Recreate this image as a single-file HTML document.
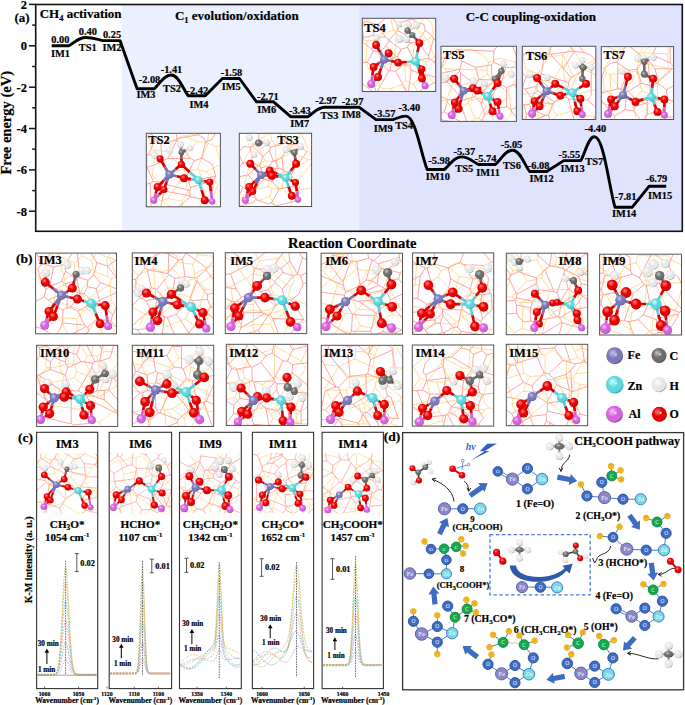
<!DOCTYPE html>
<html><head><meta charset="utf-8"><style>
html,body{margin:0;padding:0;background:#fff;}
body{width:685px;height:705px;position:relative;overflow:hidden;}
svg text:not([fill]){stroke:#000;stroke-width:0.2px;}

</style></head><body>
<svg width="685" height="705" viewBox="0 0 685 705" style="position:absolute;left:0;top:0" font-family="Liberation Serif, serif" font-weight="bold"><defs><radialGradient id="gO" cx="42%" cy="40%" r="62%" fx="38%" fy="32%"><stop offset="0" stop-color="#ff8080"/><stop offset="0.5" stop-color="#e80000"/><stop offset="0.85" stop-color="#e80000"/><stop offset="1" stop-color="#7a0000"/></radialGradient><radialGradient id="gFe" cx="42%" cy="40%" r="62%" fx="38%" fy="32%"><stop offset="0" stop-color="#c4c4ec"/><stop offset="0.5" stop-color="#7a78b6"/><stop offset="0.85" stop-color="#7a78b6"/><stop offset="1" stop-color="#45447a"/></radialGradient><radialGradient id="gZn" cx="42%" cy="40%" r="62%" fx="38%" fy="32%"><stop offset="0" stop-color="#d4ffff"/><stop offset="0.5" stop-color="#5cd6dc"/><stop offset="0.85" stop-color="#5cd6dc"/><stop offset="1" stop-color="#2c8c94"/></radialGradient><radialGradient id="gAl" cx="42%" cy="40%" r="62%" fx="38%" fy="32%"><stop offset="0" stop-color="#f6c4f8"/><stop offset="0.5" stop-color="#d462dc"/><stop offset="0.85" stop-color="#d462dc"/><stop offset="1" stop-color="#8a2c92"/></radialGradient><radialGradient id="gC" cx="42%" cy="40%" r="62%" fx="38%" fy="32%"><stop offset="0" stop-color="#c4c4c4"/><stop offset="0.5" stop-color="#6c6c6c"/><stop offset="0.85" stop-color="#6c6c6c"/><stop offset="1" stop-color="#333333"/></radialGradient><radialGradient id="gH" cx="42%" cy="40%" r="62%" fx="38%" fy="32%"><stop offset="0" stop-color="#ffffff"/><stop offset="0.5" stop-color="#e6e6e6"/><stop offset="0.85" stop-color="#e6e6e6"/><stop offset="1" stop-color="#8e8e8e"/></radialGradient><clipPath id="clipTS2"><rect x="146.3" y="133.3" width="74.1" height="73.5"/></clipPath><clipPath id="clipTS3"><rect x="239.3" y="133.3" width="72.3" height="73.2"/></clipPath><clipPath id="clipTS4"><rect x="362.3" y="18.3" width="73.4" height="73.2"/></clipPath><clipPath id="clipTS5"><rect x="441" y="46.3" width="75.4" height="75.1"/></clipPath><clipPath id="clipTS6"><rect x="522.3" y="46.3" width="73.5" height="73.2"/></clipPath><clipPath id="clipTS7"><rect x="601.3" y="46.6" width="72.3" height="72.9"/></clipPath><clipPath id="clipIM3"><rect x="35.6" y="253.1" width="80.9" height="80.7"/></clipPath><clipPath id="clipIM4"><rect x="132.3" y="252.9" width="81.1" height="81.2"/></clipPath><clipPath id="clipIM5"><rect x="225.3" y="252.7" width="81.4" height="80.9"/></clipPath><clipPath id="clipIM6"><rect x="321.1" y="253.2" width="81.4" height="80.9"/></clipPath><clipPath id="clipIM7"><rect x="412.6" y="252.9" width="81.1" height="81.5"/></clipPath><clipPath id="clipIM8"><rect x="506.3" y="253.2" width="81.4" height="81.5"/></clipPath><clipPath id="clipIM9"><rect x="599.6" y="254.2" width="81.9" height="80.8"/></clipPath><clipPath id="clipIM10"><rect x="36.6" y="345.3" width="81.1" height="81.2"/></clipPath><clipPath id="clipIM11"><rect x="132.3" y="345.3" width="81.4" height="81.2"/></clipPath><clipPath id="clipIM12"><rect x="226.3" y="344.3" width="81.4" height="81.1"/></clipPath><clipPath id="clipIM13"><rect x="321.3" y="345.3" width="81.4" height="81.2"/></clipPath><clipPath id="clipIM14"><rect x="412.3" y="345" width="81.4" height="81.1"/></clipPath><clipPath id="clipIM15"><rect x="506.3" y="344.3" width="81.4" height="81.4"/></clipPath><clipPath id="cclip0"><rect x="37.2" y="453.3" width="59.9" height="60"/></clipPath><clipPath id="pclip0"><rect x="37.2" y="548" width="59.9" height="140.0"/></clipPath><clipPath id="cclip1"><rect x="109.8" y="453.3" width="61.2" height="60"/></clipPath><clipPath id="pclip1"><rect x="109.8" y="548" width="61.2" height="140.0"/></clipPath><clipPath id="cclip2"><rect x="180.1" y="453.3" width="60.6" height="60"/></clipPath><clipPath id="pclip2"><rect x="180.1" y="548" width="60.6" height="140.0"/></clipPath><clipPath id="cclip3"><rect x="253.0" y="453.3" width="60.0" height="60"/></clipPath><clipPath id="pclip3"><rect x="253.0" y="548" width="60.0" height="140.0"/></clipPath><clipPath id="cclip4"><rect x="322.7" y="453.3" width="60.1" height="60"/></clipPath><clipPath id="pclip4"><rect x="322.7" y="548" width="60.1" height="140.0"/></clipPath></defs><rect x="121.7" y="4.5" width="237.4" height="226.8" fill="#eaf0fe"/><rect x="359.1" y="4.5" width="323.2" height="226.8" fill="#dfe3fe"/><rect x="35.7" y="4.5" width="646.6" height="226.8" fill="none" stroke="#111" stroke-width="1.6"/><line x1="29" y1="4.4" x2="35.7" y2="4.4" stroke="#111" stroke-width="1.5"/><text x="27" y="8.7" text-anchor="end" font-size="12.5">2</text><line x1="29" y1="45.8" x2="35.7" y2="45.8" stroke="#111" stroke-width="1.5"/><text x="27" y="50.1" text-anchor="end" font-size="12.5">0</text><line x1="29" y1="87.2" x2="35.7" y2="87.2" stroke="#111" stroke-width="1.5"/><text x="27" y="91.5" text-anchor="end" font-size="12.5">-2</text><line x1="29" y1="128.5" x2="35.7" y2="128.5" stroke="#111" stroke-width="1.5"/><text x="27" y="132.8" text-anchor="end" font-size="12.5">-4</text><line x1="29" y1="169.9" x2="35.7" y2="169.9" stroke="#111" stroke-width="1.5"/><text x="27" y="174.2" text-anchor="end" font-size="12.5">-6</text><line x1="29" y1="211.2" x2="35.7" y2="211.2" stroke="#111" stroke-width="1.5"/><text x="27" y="215.5" text-anchor="end" font-size="12.5">-8</text><line x1="32.2" y1="25.1" x2="35.7" y2="25.1" stroke="#111" stroke-width="1.5"/><line x1="32.2" y1="66.5" x2="35.7" y2="66.5" stroke="#111" stroke-width="1.5"/><line x1="32.2" y1="107.8" x2="35.7" y2="107.8" stroke="#111" stroke-width="1.5"/><line x1="32.2" y1="149.2" x2="35.7" y2="149.2" stroke="#111" stroke-width="1.5"/><line x1="32.2" y1="190.6" x2="35.7" y2="190.6" stroke="#111" stroke-width="1.5"/><path d="M51.7,45.8 L68.8,45.8 C73.9,43.3 78.2,37.5 85.8,37.5 C93.5,37.5 97.8,39.7 102.9,40.6 L120.0,40.6 L137.1,88.8 L154.1,88.8 C159.2,84.7 163.5,75.0 171.2,75.0 C178.9,75.0 183.1,89.6 188.3,95.8 L205.3,95.8 L222.4,78.5 L239.5,78.5 L256.5,101.8 L273.6,101.8 L290.7,116.7 L307.8,116.7 C312.9,113.9 317.1,107.2 324.8,107.2 C332.5,107.2 336.8,107.2 341.9,107.2 L359.0,107.2 L376.0,119.6 L393.1,119.6 C396.9,118.6 400.1,116.1 405.9,116.1 C415.5,116.1 420.8,153.5 427.2,169.5 L444.3,169.5 C449.4,165.7 453.7,156.9 461.4,156.9 C469.1,156.9 473.3,162.2 478.4,164.5 L495.5,164.5 C500.6,160.2 504.9,150.2 512.6,150.2 C520.3,150.2 524.5,165.1 529.7,171.5 L546.7,171.5 L563.8,160.6 L580.9,160.6 C585.0,153.4 588.4,136.8 594.5,136.8 C603.7,136.8 608.9,186.2 615.0,207.3 L632.1,207.3 L649.2,186.2 L666.2,186.2" fill="none" stroke="#000" stroke-width="2.9" stroke-linejoin="round"/><text x="60.4" y="43.4" text-anchor="middle" font-size="10.4" stroke="#000" stroke-width="0.25">0.00</text><text x="60.5" y="56.5" text-anchor="middle" font-size="10.4" stroke="#000" stroke-width="0.25">IM1</text><text x="87.9" y="35.3" text-anchor="middle" font-size="10.4" stroke="#000" stroke-width="0.25">0.40</text><text x="87.8" y="51" text-anchor="middle" font-size="10.4" stroke="#000" stroke-width="0.25">TS1</text><text x="112" y="37.5" text-anchor="middle" font-size="10.4" stroke="#000" stroke-width="0.25">0.25</text><text x="112" y="51" text-anchor="middle" font-size="10.4" stroke="#000" stroke-width="0.25">IM2</text><text x="149.5" y="83" text-anchor="middle" font-size="10.4" stroke="#000" stroke-width="0.25">-2.08</text><text x="146" y="98.4" text-anchor="middle" font-size="10.4" stroke="#000" stroke-width="0.25">IM3</text><text x="171.5" y="72.5" text-anchor="middle" font-size="10.4" stroke="#000" stroke-width="0.25">-1.41</text><text x="172" y="92.3" text-anchor="middle" font-size="10.4" stroke="#000" stroke-width="0.25">TS2</text><text x="197.3" y="93.9" text-anchor="middle" font-size="10.4" stroke="#000" stroke-width="0.25">-2.42</text><text x="199" y="107.6" text-anchor="middle" font-size="10.4" stroke="#000" stroke-width="0.25">IM4</text><text x="231.5" y="76" text-anchor="middle" font-size="10.4" stroke="#000" stroke-width="0.25">-1.58</text><text x="231.2" y="89.6" text-anchor="middle" font-size="10.4" stroke="#000" stroke-width="0.25">IM5</text><text x="267.8" y="99.9" text-anchor="middle" font-size="10.4" stroke="#000" stroke-width="0.25">-2.71</text><text x="266.8" y="112.7" text-anchor="middle" font-size="10.4" stroke="#000" stroke-width="0.25">IM6</text><text x="299.8" y="113.5" text-anchor="middle" font-size="10.4" stroke="#000" stroke-width="0.25">-3.43</text><text x="299.7" y="127" text-anchor="middle" font-size="10.4" stroke="#000" stroke-width="0.25">IM7</text><text x="326" y="103.9" text-anchor="middle" font-size="10.4" stroke="#000" stroke-width="0.25">-2.97</text><text x="329.4" y="119.3" text-anchor="middle" font-size="10.4" stroke="#000" stroke-width="0.25">TS3</text><text x="352.7" y="105.3" text-anchor="middle" font-size="10.4" stroke="#000" stroke-width="0.25">-2.97</text><text x="351.2" y="117.6" text-anchor="middle" font-size="10.4" stroke="#000" stroke-width="0.25">IM8</text><text x="384.7" y="117.2" text-anchor="middle" font-size="10.4" stroke="#000" stroke-width="0.25">-3.57</text><text x="383.2" y="131.5" text-anchor="middle" font-size="10.4" stroke="#000" stroke-width="0.25">IM9</text><text x="409.3" y="111" text-anchor="middle" font-size="10.4" stroke="#000" stroke-width="0.25">-3.40</text><text x="404.1" y="128.8" text-anchor="middle" font-size="10.4" stroke="#000" stroke-width="0.25">TS4</text><text x="439.1" y="164.2" text-anchor="middle" font-size="10.4" stroke="#000" stroke-width="0.25">-5.98</text><text x="437.8" y="180" text-anchor="middle" font-size="10.4" stroke="#000" stroke-width="0.25">IM10</text><text x="464.3" y="155.2" text-anchor="middle" font-size="10.4" stroke="#000" stroke-width="0.25">-5.37</text><text x="464.2" y="172.1" text-anchor="middle" font-size="10.4" stroke="#000" stroke-width="0.25">TS5</text><text x="485.7" y="161.9" text-anchor="middle" font-size="10.4" stroke="#000" stroke-width="0.25">-5.74</text><text x="488" y="175.8" text-anchor="middle" font-size="10.4" stroke="#000" stroke-width="0.25">IM11</text><text x="511.5" y="147.6" text-anchor="middle" font-size="10.4" stroke="#000" stroke-width="0.25">-5.05</text><text x="511.9" y="169" text-anchor="middle" font-size="10.4" stroke="#000" stroke-width="0.25">TS6</text><text x="538.6" y="169" text-anchor="middle" font-size="10.4" stroke="#000" stroke-width="0.25">-6.08</text><text x="541.5" y="181.9" text-anchor="middle" font-size="10.4" stroke="#000" stroke-width="0.25">IM12</text><text x="569.4" y="157.6" text-anchor="middle" font-size="10.4" stroke="#000" stroke-width="0.25">-5.55</text><text x="572.5" y="172" text-anchor="middle" font-size="10.4" stroke="#000" stroke-width="0.25">IM13</text><text x="595.4" y="132.2" text-anchor="middle" font-size="10.4" stroke="#000" stroke-width="0.25">-4.40</text><text x="594.3" y="165" text-anchor="middle" font-size="10.4" stroke="#000" stroke-width="0.25">TS7</text><text x="625.7" y="200" text-anchor="middle" font-size="10.4" stroke="#000" stroke-width="0.25">-7.81</text><text x="624.2" y="216.9" text-anchor="middle" font-size="10.4" stroke="#000" stroke-width="0.25">IM14</text><text x="656.5" y="182.4" text-anchor="middle" font-size="10.4" stroke="#000" stroke-width="0.25">-6.79</text><text x="660.1" y="198.9" text-anchor="middle" font-size="10.4" stroke="#000" stroke-width="0.25">IM15</text><text x="39.7" y="18.4" font-size="13">CH<tspan font-size="8.5" dy="3">4</tspan><tspan dy="-3"> activation</tspan></text><text x="174.9" y="19.8" font-size="13">C<tspan font-size="8.5" dy="3">1</tspan><tspan dy="-3"> evolution/oxidation</tspan></text><text x="465.7" y="20.6" font-size="13">C-C coupling-oxidation</text><text x="14.5" y="22.4" font-size="13">(a)</text><text x="352.3" y="247.9" text-anchor="middle" font-size="14.5">Reaction Coordinate</text><text transform="translate(10.7,122.8) rotate(-90)" text-anchor="middle" font-size="14.5">Free energy (eV)</text><rect x="146.3" y="133.3" width="74.1" height="73.5" fill="#fff"/><g clip-path="url(#clipTS2)"><path d="M212.0,139.5L216.8,130.1M212.0,139.5L205.7,141.6M203.2,137.6L205.7,141.6M182.1,109.0L198.4,134.8M182.1,109.0L175.1,128.4M198.4,134.8L177.1,138.7M175.1,128.4L177.1,138.7M203.2,137.6L198.4,134.8M151.3,130.5L175.1,128.4M190.6,197.1L211.6,200.4M151.3,130.5L151.1,133.4M151.1,133.4L132.0,149.4M151.1,133.4L155.2,139.4M155.2,139.4L148.6,154.6M132.0,149.4L146.8,155.0M148.6,154.6L146.8,155.0M146.8,155.0L146.8,167.2M205.7,141.6L201.9,158.0M201.9,158.0L212.4,164.6M190.2,196.7L189.9,195.8M190.2,196.7L165.3,218.7M189.9,195.8L163.9,190.9M163.9,190.9L160.1,210.7M165.3,218.7L160.1,210.7M190.6,197.1L190.2,196.7M150.1,183.1L151.3,207.3M150.1,183.1L147.5,183.7M147.5,183.7L140.7,197.1M140.7,197.1L145.8,206.0M145.8,206.0L151.3,207.3M153.4,181.7L147.1,167.4M153.4,181.7L150.1,183.1M147.1,167.4L146.8,167.2M160.1,210.7L151.3,207.3M176.8,139.7L160.7,143.5M176.8,139.7L176.9,139.8M176.9,139.8L167.7,158.6M160.7,143.5L162.1,158.5M167.7,158.6L163.6,160.4M163.6,160.4L162.1,158.5M177.1,138.7L176.8,139.7M155.2,139.4L160.7,143.5M190.4,158.3L176.9,139.8M190.4,158.3L194.4,160.7M194.4,160.7L201.9,158.0M190.4,158.3L167.7,158.6M148.6,154.6L162.1,158.5M163.5,161.4L147.1,167.4M163.5,161.4L163.6,160.4M189.9,195.8L190.0,190.5M163.9,190.9L161.6,183.2M190.0,190.5L161.6,183.2M163.5,161.4L166.2,175.6M194.4,160.7L186.9,175.4M186.9,175.4L166.2,175.6M153.4,181.7L161.2,182.1M166.2,175.6L161.2,182.1M161.2,182.1L161.6,183.2M190.3,187.4L188.5,180.9M190.3,187.4L213.3,180.7M188.5,180.9L215.6,176.4M213.3,180.7L215.7,176.7M215.7,176.7L215.7,176.7M215.7,176.7L215.6,176.4M190.0,190.5L190.3,187.4M186.9,175.4L188.5,180.9M211.6,200.4L213.3,180.7M212.4,164.6L215.6,176.4" stroke="#ff5a5a" stroke-width="0.55" fill="none"/><path d="M223.0,130.4L209.8,126.7M248.7,142.1L215.6,146.5M221.2,164.2L215.6,146.5M223.0,130.4L248.7,142.1M151.8,149.5L149.4,138.4M183.0,135.7L172.9,141.7M207.4,142.2L208.8,132.0M207.4,142.2L197.4,141.7M208.8,132.0L183.4,135.9M197.4,141.7L183.4,135.9M209.8,126.7L208.8,132.0M207.9,143.3L215.6,146.5M207.9,143.3L207.4,142.2M183.0,135.7L183.4,135.9M151.8,149.5L155.3,150.5M152.3,176.5L155.3,150.5M172.9,141.7L167.3,151.4M155.3,150.5L167.3,151.4M197.4,141.7L178.3,164.2M167.3,151.4L178.3,164.2M152.3,176.5L160.4,183.4M178.3,164.2L181.2,168.6M160.4,183.4L181.2,168.6M160.4,183.4L155.6,195.5M155.6,195.5L160.1,200.5M207.9,143.3L197.1,169.6M197.1,169.6L184.8,170.9M181.2,168.6L184.8,170.9M221.2,164.2L206.2,171.6M197.1,169.6L199.2,170.4M206.2,171.6L199.2,170.4M184.7,174.9L167.7,198.5M184.7,174.9L187.7,192.0M187.7,192.0L182.1,201.3M182.1,201.3L167.7,198.5M160.1,200.5L162.3,200.5M184.8,170.9L184.7,174.9M167.7,198.5L162.3,200.5M187.5,221.4L183.0,209.5M169.0,206.5L183.0,209.5M162.3,200.5L169.0,206.5M182.1,201.3L183.0,209.5M187.7,192.0L202.2,202.0M187.5,221.4L197.3,211.7M197.3,211.7L202.2,202.0M197.3,211.7L218.8,220.1M199.2,170.4L206.2,200.4M202.2,202.0L206.2,200.4M218.2,206.2L211.3,200.4M211.3,200.4L218.1,184.9M206.2,200.4L211.3,200.4M218.8,220.1L218.2,206.2M206.2,171.6L218.1,184.9" stroke="#ffbf4a" stroke-width="0.55" fill="none"/><line x1="181.4" y1="152.5" x2="181.4" y2="158.4" stroke="#6a6a6a" stroke-width="2.70"/><line x1="181.4" y1="158.4" x2="181.4" y2="164.4" stroke="#e00000" stroke-width="2.70"/><line x1="160.1" y1="158.8" x2="164.8" y2="166.7" stroke="#e00000" stroke-width="2.70"/><line x1="164.8" y1="166.7" x2="169.5" y2="174.5" stroke="#7474b4" stroke-width="2.70"/><line x1="181.4" y1="164.4" x2="175.4" y2="169.4" stroke="#e00000" stroke-width="2.70"/><line x1="175.4" y1="169.4" x2="169.5" y2="174.5" stroke="#7474b4" stroke-width="2.70"/><line x1="181.4" y1="164.4" x2="189.9" y2="172.2" stroke="#e00000" stroke-width="2.70"/><line x1="189.9" y1="172.2" x2="198.4" y2="180.1" stroke="#58d0d6" stroke-width="2.70"/><line x1="169.5" y1="174.5" x2="176.8" y2="176.3" stroke="#7474b4" stroke-width="2.70"/><line x1="176.8" y1="176.3" x2="184.0" y2="178.2" stroke="#e00000" stroke-width="2.70"/><line x1="169.5" y1="174.5" x2="163.6" y2="180.8" stroke="#7474b4" stroke-width="2.70"/><line x1="163.6" y1="180.8" x2="157.6" y2="187.0" stroke="#e00000" stroke-width="2.70"/><line x1="169.5" y1="174.5" x2="166.7" y2="182.0" stroke="#7474b4" stroke-width="2.70"/><line x1="166.7" y1="182.0" x2="163.9" y2="189.5" stroke="#e00000" stroke-width="2.70"/><line x1="184.0" y1="178.2" x2="191.2" y2="179.1" stroke="#e00000" stroke-width="2.70"/><line x1="191.2" y1="179.1" x2="198.4" y2="180.1" stroke="#58d0d6" stroke-width="2.70"/><line x1="198.4" y1="180.1" x2="204.1" y2="181.1" stroke="#58d0d6" stroke-width="2.70"/><line x1="204.1" y1="181.1" x2="209.7" y2="182.0" stroke="#e00000" stroke-width="2.70"/><line x1="198.4" y1="180.1" x2="201.6" y2="190.1" stroke="#58d0d6" stroke-width="2.70"/><line x1="201.6" y1="190.1" x2="204.7" y2="200.2" stroke="#e00000" stroke-width="2.70"/><line x1="209.7" y1="182.0" x2="210.9" y2="191.7" stroke="#e00000" stroke-width="2.70"/><line x1="210.9" y1="191.7" x2="212.2" y2="201.4" stroke="#d060d8" stroke-width="2.70"/><line x1="157.6" y1="187.0" x2="155.7" y2="193.6" stroke="#e00000" stroke-width="2.70"/><line x1="155.7" y1="193.6" x2="153.8" y2="200.2" stroke="#d060d8" stroke-width="2.70"/><line x1="163.9" y1="189.5" x2="158.9" y2="194.8" stroke="#e00000" stroke-width="2.70"/><line x1="158.9" y1="194.8" x2="153.8" y2="200.2" stroke="#d060d8" stroke-width="2.70"/><line x1="204.7" y1="200.2" x2="208.4" y2="200.8" stroke="#e00000" stroke-width="2.70"/><line x1="208.4" y1="200.8" x2="212.2" y2="201.4" stroke="#d060d8" stroke-width="2.70"/><line x1="154.4" y1="155.0" x2="157.2" y2="156.9" stroke="#dddddd" stroke-width="2.70"/><line x1="157.2" y1="156.9" x2="160.1" y2="158.8" stroke="#e00000" stroke-width="2.70"/><line x1="180.2" y1="144.3" x2="180.8" y2="148.4" stroke="#dddddd" stroke-width="2.70"/><line x1="180.8" y1="148.4" x2="181.4" y2="152.5" stroke="#6a6a6a" stroke-width="2.70"/><line x1="190.2" y1="148.1" x2="185.8" y2="150.3" stroke="#dddddd" stroke-width="2.70"/><line x1="185.8" y1="150.3" x2="181.4" y2="152.5" stroke="#6a6a6a" stroke-width="2.70"/><circle cx="154.4" cy="155.0" r="3.49" fill="url(#gH)"/><circle cx="169.5" cy="150.6" r="3.49" fill="url(#gH)"/><circle cx="180.2" cy="144.3" r="3.49" fill="url(#gH)"/><circle cx="190.2" cy="148.1" r="3.15" fill="url(#gH)"/><circle cx="181.4" cy="152.5" r="2.92" fill="url(#gC)"/><circle cx="160.1" cy="158.8" r="3.60" fill="url(#gO)"/><circle cx="181.4" cy="164.4" r="3.60" fill="url(#gO)"/><circle cx="169.5" cy="174.5" r="3.94" fill="url(#gFe)"/><circle cx="184.0" cy="178.2" r="3.94" fill="url(#gO)"/><circle cx="198.4" cy="180.1" r="3.94" fill="url(#gZn)"/><circle cx="209.7" cy="182.0" r="3.60" fill="url(#gO)"/><circle cx="157.6" cy="187.0" r="3.94" fill="url(#gO)"/><circle cx="163.9" cy="189.5" r="3.60" fill="url(#gO)"/><circle cx="153.8" cy="200.2" r="3.49" fill="url(#gAl)"/><circle cx="204.7" cy="200.2" r="3.94" fill="url(#gO)"/><circle cx="212.2" cy="201.4" r="3.15" fill="url(#gAl)"/></g><rect x="146.3" y="133.3" width="74.1" height="73.5" fill="none" stroke="#555" stroke-width="1"/><text x="148.2" y="144.3" font-size="12.5">TS2</text><rect x="239.3" y="133.3" width="72.3" height="73.2" fill="#fff"/><g clip-path="url(#clipTS3)"><path d="M231.8,208.6L236.4,206.1M236.4,206.1L235.9,203.3M235.9,203.3L227.2,178.9M296.3,144.7L307.0,151.8M231.8,208.6L245.9,227.0M236.4,206.1L239.7,206.2M239.7,206.2L245.9,227.0M235.9,203.3L242.7,187.3M227.2,178.9L230.8,178.6M242.7,187.3L230.8,178.6M291.3,173.8L307.0,151.8M291.3,173.8L293.1,186.1M293.1,186.1L299.1,190.4M275.4,132.0L258.7,133.2M281.1,134.9L275.4,132.0M296.3,144.7L288.6,144.3M281.1,134.9L285.8,143.1M285.8,143.1L288.6,144.3M258.7,133.2L258.9,139.4M285.8,143.1L271.0,147.3M258.9,139.4L271.0,147.3M268.0,203.8L255.8,199.6M255.8,199.6L253.0,202.5M239.7,206.2L253.0,202.5M242.7,187.3L254.0,193.1M254.0,193.1L255.8,199.6M254.0,193.1L257.7,185.9M231.1,178.4L230.8,178.6M231.1,178.4L248.2,174.8M257.7,185.9L248.2,174.8M297.0,200.6L275.9,205.9M271.3,203.0L275.9,205.9M271.3,203.0L268.0,203.8M299.1,190.4L297.0,200.6M271.3,203.0L279.2,189.1M279.2,189.1L293.1,186.1M231.1,178.4L242.8,163.0M238.5,152.7L242.8,163.0M238.5,152.7L243.5,146.5M279.2,189.1L271.9,181.3M257.7,185.9L263.7,179.1M271.9,181.3L263.7,179.1M288.6,144.3L282.1,157.6M271.0,147.3L269.4,150.4M269.4,150.4L273.2,160.9M282.1,157.6L276.4,160.4M273.2,160.9L276.4,160.4M252.6,146.0L262.8,156.5M252.6,146.0L250.2,147.1M250.2,147.1L252.6,162.8M262.8,156.5L259.5,166.2M252.6,162.8L257.9,165.9M257.9,165.9L259.5,166.2M258.9,139.4L252.6,146.0M269.4,150.4L262.8,156.5M243.5,146.5L250.2,147.1M242.8,163.0L252.6,162.8M261.3,167.8L269.1,166.0M261.3,167.8L259.5,166.2M273.2,160.9L269.1,166.0M248.2,174.8L257.9,165.9M261.3,167.8L263.7,179.1M272.7,180.2L275.6,168.9M272.7,180.2L284.5,170.7M284.5,170.7L283.3,169.5M283.3,169.5L278.0,168.6M278.0,168.6L275.6,168.9M271.9,181.3L272.7,180.2M269.1,166.0L275.6,168.9M291.3,173.8L284.5,170.7M282.1,157.6L283.3,169.5M276.4,160.4L278.0,168.6" stroke="#ff5a5a" stroke-width="0.55" fill="none"/><path d="M300.1,189.8L297.6,180.9M300.1,189.8L312.6,187.8M297.6,180.9L312.5,162.6M312.6,187.8L312.5,162.6M289.5,232.1L270.0,196.4M289.5,232.1L291.6,198.3M291.6,198.3L282.2,188.4M282.2,188.4L271.9,188.8M271.9,188.8L270.0,196.4M284.3,172.3L287.7,172.3M284.3,172.3L282.2,188.4M287.7,172.3L297.6,180.9M300.1,189.8L291.6,198.3M312.5,162.6L313.0,159.9M270.0,196.4L258.9,200.4M244.3,160.4L252.9,144.0M251.2,142.3L252.8,143.8M252.8,143.8L252.9,144.0M271.9,123.2L270.1,132.9M270.1,132.9L252.8,143.8M287.7,172.3L308.7,159.7M313.0,159.9L312.5,159.7M308.7,159.7L312.5,159.7M225.1,199.3L239.6,200.4M244.3,160.4L249.5,166.0M249.5,166.0L244.7,182.4M264.9,160.8L275.1,161.9M264.9,160.8L259.5,149.7M259.5,149.7L272.1,140.8M276.2,160.1L275.1,161.9M276.2,160.1L275.3,145.1M275.3,145.1L272.1,140.8M252.9,144.0L259.5,149.7M249.5,166.0L260.0,163.8M260.0,163.8L264.9,160.8M270.1,132.9L272.1,140.8M284.3,172.3L276.9,165.9M276.9,165.9L275.1,161.9M291.6,152.3L308.7,159.7M291.6,152.3L276.2,160.1M285.3,141.5L286.2,131.2M285.3,141.5L291.0,147.0M291.0,147.0L301.4,133.0M286.2,131.2L301.4,130.0M301.4,130.0L301.4,133.0M271.9,123.2L286.2,131.2M275.3,145.1L285.3,141.5M291.6,152.3L291.0,147.0M312.5,159.7L301.4,133.0M246.0,184.8L261.4,177.2M246.0,184.8L247.4,190.4M247.4,190.4L250.4,191.5M250.4,191.5L268.7,186.3M261.4,177.2L268.0,180.1M268.7,186.3L268.0,180.1M260.0,163.8L261.4,177.2M244.7,182.4L246.0,184.8M239.6,200.4L247.4,190.4M258.9,200.4L250.4,191.5M271.9,188.8L268.7,186.3M276.9,165.9L268.0,180.1" stroke="#ffbf4a" stroke-width="0.55" fill="none"/><line x1="250.3" y1="163.8" x2="255.7" y2="169.4" stroke="#e00000" stroke-width="2.70"/><line x1="255.7" y1="169.4" x2="261.0" y2="175.1" stroke="#7474b4" stroke-width="2.70"/><line x1="261.0" y1="175.1" x2="265.4" y2="172.9" stroke="#7474b4" stroke-width="2.70"/><line x1="265.4" y1="172.9" x2="269.8" y2="170.7" stroke="#e00000" stroke-width="2.70"/><line x1="261.0" y1="175.1" x2="266.4" y2="175.4" stroke="#7474b4" stroke-width="2.70"/><line x1="266.4" y1="175.4" x2="271.7" y2="175.7" stroke="#e00000" stroke-width="2.70"/><line x1="261.0" y1="175.1" x2="255.1" y2="181.1" stroke="#7474b4" stroke-width="2.70"/><line x1="255.1" y1="181.1" x2="249.1" y2="187.0" stroke="#e00000" stroke-width="2.70"/><line x1="261.0" y1="175.1" x2="256.9" y2="183.2" stroke="#7474b4" stroke-width="2.70"/><line x1="256.9" y1="183.2" x2="252.8" y2="191.4" stroke="#e00000" stroke-width="2.70"/><line x1="269.8" y1="170.7" x2="277.6" y2="174.1" stroke="#e00000" stroke-width="2.70"/><line x1="277.6" y1="174.1" x2="285.5" y2="177.6" stroke="#58d0d6" stroke-width="2.70"/><line x1="271.7" y1="175.7" x2="278.6" y2="176.6" stroke="#e00000" stroke-width="2.70"/><line x1="278.6" y1="176.6" x2="285.5" y2="177.6" stroke="#58d0d6" stroke-width="2.70"/><line x1="285.5" y1="177.6" x2="290.8" y2="170.7" stroke="#58d0d6" stroke-width="2.70"/><line x1="290.8" y1="170.7" x2="296.1" y2="163.8" stroke="#e00000" stroke-width="2.70"/><line x1="285.5" y1="177.6" x2="290.5" y2="180.1" stroke="#58d0d6" stroke-width="2.70"/><line x1="290.5" y1="180.1" x2="295.5" y2="182.6" stroke="#e00000" stroke-width="2.70"/><line x1="285.5" y1="177.6" x2="288.6" y2="186.7" stroke="#58d0d6" stroke-width="2.70"/><line x1="288.6" y1="186.7" x2="291.8" y2="195.8" stroke="#e00000" stroke-width="2.70"/><line x1="296.1" y1="163.8" x2="295.2" y2="158.2" stroke="#e00000" stroke-width="2.70"/><line x1="295.2" y1="158.2" x2="294.3" y2="152.5" stroke="#6a6a6a" stroke-width="2.70"/><line x1="249.1" y1="187.0" x2="247.2" y2="193.6" stroke="#e00000" stroke-width="2.70"/><line x1="247.2" y1="193.6" x2="245.3" y2="200.2" stroke="#d060d8" stroke-width="2.70"/><line x1="252.8" y1="191.4" x2="249.1" y2="195.8" stroke="#e00000" stroke-width="2.70"/><line x1="249.1" y1="195.8" x2="245.3" y2="200.2" stroke="#d060d8" stroke-width="2.70"/><line x1="295.5" y1="182.6" x2="296.8" y2="191.1" stroke="#e00000" stroke-width="2.70"/><line x1="296.8" y1="191.1" x2="298.0" y2="199.6" stroke="#d060d8" stroke-width="2.70"/><line x1="291.8" y1="195.8" x2="294.9" y2="197.7" stroke="#e00000" stroke-width="2.70"/><line x1="294.9" y1="197.7" x2="298.0" y2="199.6" stroke="#d060d8" stroke-width="2.70"/><line x1="266.6" y1="142.4" x2="262.6" y2="142.8" stroke="#dddddd" stroke-width="2.70"/><line x1="262.6" y1="142.8" x2="258.5" y2="143.1" stroke="#6a6a6a" stroke-width="2.70"/><line x1="286.1" y1="149.3" x2="290.2" y2="150.9" stroke="#dddddd" stroke-width="2.70"/><line x1="290.2" y1="150.9" x2="294.3" y2="152.5" stroke="#6a6a6a" stroke-width="2.70"/><line x1="300.5" y1="146.2" x2="297.4" y2="149.3" stroke="#dddddd" stroke-width="2.70"/><line x1="297.4" y1="149.3" x2="294.3" y2="152.5" stroke="#6a6a6a" stroke-width="2.70"/><circle cx="249.1" cy="137.4" r="3.49" fill="url(#gH)"/><circle cx="266.6" cy="142.4" r="3.15" fill="url(#gH)"/><circle cx="254.1" cy="154.4" r="3.15" fill="url(#gH)"/><circle cx="286.1" cy="149.3" r="3.49" fill="url(#gH)"/><circle cx="300.5" cy="146.2" r="3.49" fill="url(#gH)"/><circle cx="258.5" cy="143.1" r="3.49" fill="url(#gC)"/><circle cx="250.3" cy="163.8" r="3.94" fill="url(#gO)"/><circle cx="261.0" cy="175.1" r="3.94" fill="url(#gFe)"/><circle cx="269.8" cy="170.7" r="3.94" fill="url(#gO)"/><circle cx="271.7" cy="175.7" r="3.94" fill="url(#gO)"/><circle cx="285.5" cy="177.6" r="3.94" fill="url(#gZn)"/><circle cx="296.1" cy="163.8" r="3.94" fill="url(#gO)"/><circle cx="294.3" cy="152.5" r="3.15" fill="url(#gC)"/><circle cx="249.1" cy="187.0" r="3.94" fill="url(#gO)"/><circle cx="252.8" cy="191.4" r="3.49" fill="url(#gO)"/><circle cx="245.3" cy="200.2" r="3.49" fill="url(#gAl)"/><circle cx="295.5" cy="182.6" r="3.49" fill="url(#gO)"/><circle cx="291.8" cy="195.8" r="3.94" fill="url(#gO)"/><circle cx="298.0" cy="199.6" r="3.15" fill="url(#gAl)"/></g><rect x="239.3" y="133.3" width="72.3" height="73.2" fill="none" stroke="#555" stroke-width="1"/><text x="277.3" y="144.3" font-size="12.5">TS3</text><rect x="362.3" y="18.3" width="73.4" height="73.2" fill="#fff"/><g clip-path="url(#clipTS4)"><path d="M432.8,36.8L429.5,33.7M375.9,94.1L338.8,66.2M441.1,78.7L411.1,70.4M441.1,78.7L408.7,97.5M411.1,70.4L408.1,93.9M408.7,97.5L408.1,93.9M445.6,76.8L441.1,78.7M395.6,71.2L408.1,93.9M395.6,71.2L403.3,64.7M403.3,64.7L409.9,65.3M409.9,65.3L411.1,70.4M434.4,62.4L429.1,58.3M434.4,62.4L443.4,43.8M443.4,43.8L433.5,38.9M433.5,38.9L428.6,56.0M429.1,58.3L428.6,56.0M445.6,76.8L434.4,62.4M409.9,65.3L414.2,60.7M414.2,60.7L429.1,58.3M432.8,36.8L433.5,38.9M395.6,71.2L389.9,70.7M375.9,94.1L376.1,93.2M389.9,70.7L389.1,70.9M376.1,93.2L389.1,70.9M376.1,93.2L372.0,66.9M389.1,70.9L382.7,65.4M382.7,65.4L372.0,66.9M338.8,66.2L367.4,62.2M367.4,62.2L372.0,66.9M364.5,21.2L362.1,27.8M403.3,64.7L397.5,56.6M397.5,56.6L401.0,49.3M414.2,60.7L407.4,47.3M401.0,49.3L407.4,47.3M385.8,45.9L381.1,50.9M385.8,45.9L396.7,56.7M381.1,50.9L384.2,56.0M384.2,56.0L392.2,58.5M396.7,56.7L392.2,58.5M397.5,56.6L396.7,56.7M401.0,49.3L389.0,40.5M389.0,40.5L385.8,45.9M373.3,51.2L381.1,50.9M373.3,51.2L367.4,62.2M382.7,65.4L384.2,56.0M389.9,70.7L392.2,58.5M371.8,49.0L376.0,37.5M371.8,49.0L362.2,41.9M362.2,41.9L363.5,37.5M363.5,37.5L373.6,35.4M376.0,37.5L373.6,35.4M373.3,51.2L371.8,49.0M389.0,39.8L389.0,40.5M389.0,39.8L385.1,37.0M385.1,37.0L376.0,37.5M362.1,27.8L363.5,37.5M364.5,21.2L375.0,24.2M375.0,24.2L373.6,35.4M385.1,37.0L378.8,23.8M378.8,23.8L375.0,24.2M378.8,23.8L389.8,14.8M428.6,56.0L417.5,41.8M407.4,47.3L409.8,43.0M417.5,41.8L409.8,43.0M429.5,33.7L425.3,30.4M417.5,41.8L425.3,30.4M423.7,24.0L425.3,30.4M404.9,34.4L419.4,23.6M404.9,34.4L397.9,30.7M397.9,30.7L397.1,23.9M397.1,23.9L411.2,18.9M411.2,18.9L419.4,23.6M409.8,43.0L404.9,34.4M423.7,24.0L419.4,23.6M389.0,39.8L397.9,30.7M389.8,14.8L397.1,23.9" stroke="#ff5a5a" stroke-width="0.55" fill="none"/><path d="M379.1,83.6L382.2,88.7M404.4,100.7L390.1,88.9M382.2,88.7L390.1,88.9M341.7,36.9L346.4,36.2M365.0,19.5L346.4,36.2M365.8,62.6L367.0,40.7M365.8,62.6L368.7,69.6M368.7,69.6L377.4,72.5M377.4,72.5L382.7,66.4M382.7,66.4L374.4,40.4M374.4,40.4L367.0,40.7M341.7,36.9L365.8,62.6M346.4,36.2L367.0,40.7M379.1,83.6L377.4,72.5M393.7,62.1L405.0,65.1M393.7,62.1L396.7,34.2M405.0,65.1L405.0,65.1M396.7,34.2L414.4,44.7M414.4,44.7L412.6,58.7M405.0,65.1L412.6,58.7M387.1,4.7L393.5,30.1M387.1,4.7L368.2,19.7M368.2,19.7L382.2,34.0M393.5,30.1L382.2,34.0M365.0,19.5L368.2,19.7M374.4,40.4L382.2,34.0M393.7,62.1L382.7,66.4M396.7,34.2L394.8,30.7M394.8,30.7L393.5,30.1M408.5,94.8L401.1,84.8M408.5,94.8L417.6,91.5M417.6,91.5L413.7,84.1M413.7,84.1L405.5,80.5M405.5,80.5L401.1,84.8M404.4,100.7L408.5,94.8M390.1,88.9L401.1,84.8M454.3,110.9L417.6,91.5M405.0,65.1L405.5,80.5M420.6,75.5L405.0,65.1M420.6,75.5L413.7,84.1M426.3,61.9L425.3,74.9M426.3,61.9L434.4,57.3M436.0,57.9L434.4,57.3M436.0,57.9L435.6,84.1M435.6,84.1L425.3,74.9M420.6,75.5L425.3,74.9M412.6,58.7L426.3,61.9M454.3,110.9L435.6,84.1M425.2,17.9L431.7,22.5M431.7,22.5L433.3,34.1M434.4,57.3L428.0,39.3M433.3,34.1L428.0,39.3M414.4,44.7L427.3,39.4M428.0,39.3L427.3,39.4M405.6,25.0L417.5,29.5M405.6,25.0L410.2,19.8M410.2,19.8L422.9,18.7M417.5,29.5L422.9,18.7M394.8,30.7L405.6,25.0M427.3,39.4L417.5,29.5M425.2,17.9L422.9,18.7" stroke="#ffbf4a" stroke-width="0.55" fill="none"/><line x1="407.5" y1="30.6" x2="410.0" y2="32.8" stroke="#6a6a6a" stroke-width="2.70"/><line x1="410.0" y1="32.8" x2="412.5" y2="35.0" stroke="#6a6a6a" stroke-width="2.70"/><line x1="412.5" y1="35.0" x2="415.9" y2="39.0" stroke="#6a6a6a" stroke-width="2.70"/><line x1="415.9" y1="39.0" x2="419.4" y2="43.1" stroke="#e00000" stroke-width="2.70"/><line x1="376.1" y1="45.0" x2="380.1" y2="52.2" stroke="#e00000" stroke-width="2.70"/><line x1="380.1" y1="52.2" x2="384.2" y2="59.5" stroke="#7474b4" stroke-width="2.70"/><line x1="388.6" y1="53.2" x2="386.4" y2="56.4" stroke="#e00000" stroke-width="2.70"/><line x1="386.4" y1="56.4" x2="384.2" y2="59.5" stroke="#7474b4" stroke-width="2.70"/><line x1="419.4" y1="43.1" x2="417.5" y2="52.2" stroke="#e00000" stroke-width="2.70"/><line x1="417.5" y1="52.2" x2="415.6" y2="61.3" stroke="#58d0d6" stroke-width="2.70"/><line x1="384.2" y1="59.5" x2="391.1" y2="61.0" stroke="#7474b4" stroke-width="2.70"/><line x1="391.1" y1="61.0" x2="398.1" y2="62.6" stroke="#e00000" stroke-width="2.70"/><line x1="384.2" y1="59.5" x2="378.9" y2="63.2" stroke="#7474b4" stroke-width="2.70"/><line x1="378.9" y1="63.2" x2="373.6" y2="67.0" stroke="#e00000" stroke-width="2.70"/><line x1="384.2" y1="59.5" x2="381.1" y2="68.2" stroke="#7474b4" stroke-width="2.70"/><line x1="381.1" y1="68.2" x2="378.0" y2="77.0" stroke="#e00000" stroke-width="2.70"/><line x1="398.1" y1="62.6" x2="406.9" y2="62.0" stroke="#e00000" stroke-width="2.70"/><line x1="406.9" y1="62.0" x2="415.6" y2="61.3" stroke="#58d0d6" stroke-width="2.70"/><line x1="415.6" y1="61.3" x2="418.8" y2="65.1" stroke="#58d0d6" stroke-width="2.70"/><line x1="418.8" y1="65.1" x2="421.9" y2="68.9" stroke="#e00000" stroke-width="2.70"/><line x1="415.6" y1="61.3" x2="418.8" y2="69.8" stroke="#58d0d6" stroke-width="2.70"/><line x1="418.8" y1="69.8" x2="421.9" y2="78.3" stroke="#e00000" stroke-width="2.70"/><line x1="373.6" y1="67.0" x2="372.4" y2="75.5" stroke="#e00000" stroke-width="2.70"/><line x1="372.4" y1="75.5" x2="371.1" y2="83.9" stroke="#d060d8" stroke-width="2.70"/><line x1="378.0" y1="77.0" x2="374.6" y2="80.5" stroke="#e00000" stroke-width="2.70"/><line x1="374.6" y1="80.5" x2="371.1" y2="83.9" stroke="#d060d8" stroke-width="2.70"/><line x1="421.9" y1="68.9" x2="423.4" y2="77.3" stroke="#e00000" stroke-width="2.70"/><line x1="423.4" y1="77.3" x2="425.0" y2="85.8" stroke="#d060d8" stroke-width="2.70"/><line x1="421.9" y1="78.3" x2="423.4" y2="82.0" stroke="#e00000" stroke-width="2.70"/><line x1="423.4" y1="82.0" x2="425.0" y2="85.8" stroke="#d060d8" stroke-width="2.70"/><line x1="408.7" y1="24.3" x2="408.1" y2="27.5" stroke="#dddddd" stroke-width="2.70"/><line x1="408.1" y1="27.5" x2="407.5" y2="30.6" stroke="#6a6a6a" stroke-width="2.70"/><line x1="406.2" y1="39.4" x2="409.4" y2="37.2" stroke="#dddddd" stroke-width="2.70"/><line x1="409.4" y1="37.2" x2="412.5" y2="35.0" stroke="#6a6a6a" stroke-width="2.70"/><line x1="376.7" y1="37.5" x2="376.4" y2="41.2" stroke="#dddddd" stroke-width="2.70"/><line x1="376.4" y1="41.2" x2="376.1" y2="45.0" stroke="#e00000" stroke-width="2.70"/><circle cx="398.7" cy="23.7" r="3.49" fill="url(#gH)"/><circle cx="408.7" cy="24.3" r="3.15" fill="url(#gH)"/><circle cx="416.3" cy="24.9" r="3.49" fill="url(#gH)"/><circle cx="399.3" cy="38.7" r="3.94" fill="url(#gH)"/><circle cx="406.2" cy="39.4" r="3.49" fill="url(#gH)"/><circle cx="376.7" cy="37.5" r="3.15" fill="url(#gH)"/><circle cx="407.5" cy="30.6" r="3.15" fill="url(#gC)"/><circle cx="412.5" cy="35.0" r="2.81" fill="url(#gC)"/><circle cx="376.1" cy="45.0" r="3.94" fill="url(#gO)"/><circle cx="388.6" cy="53.2" r="3.94" fill="url(#gO)"/><circle cx="419.4" cy="43.1" r="3.94" fill="url(#gO)"/><circle cx="384.2" cy="59.5" r="3.94" fill="url(#gFe)"/><circle cx="398.1" cy="62.6" r="3.94" fill="url(#gO)"/><circle cx="415.6" cy="61.3" r="4.28" fill="url(#gZn)"/><circle cx="373.6" cy="67.0" r="3.94" fill="url(#gO)"/><circle cx="378.0" cy="77.0" r="3.94" fill="url(#gO)"/><circle cx="371.1" cy="83.9" r="3.94" fill="url(#gAl)"/><circle cx="421.9" cy="68.9" r="3.49" fill="url(#gO)"/><circle cx="421.9" cy="78.3" r="3.94" fill="url(#gO)"/><circle cx="425.0" cy="85.8" r="3.49" fill="url(#gAl)"/></g><rect x="362.3" y="18.3" width="73.4" height="73.2" fill="none" stroke="#555" stroke-width="1"/><text x="364.2" y="31.8" font-size="12.5">TS4</text><rect x="441" y="46.3" width="75.4" height="75.1" fill="#fff"/><g clip-path="url(#clipTS5)"><path d="M457.7,49.1L444.8,57.7M444.8,57.7L433.5,60.0M428.6,62.4L433.5,60.0M444.8,57.7L439.0,73.8M428.6,62.4L437.4,76.1M437.4,76.1L439.0,73.8M462.0,61.1L458.3,49.8M462.0,61.1L460.0,69.2M457.7,49.1L458.3,49.8M439.0,73.8L460.0,69.2M511.7,111.9L520.1,121.3M522.7,121.0L520.1,121.3M474.0,133.4L484.8,114.9M474.0,133.4L468.7,126.3M468.7,126.3L459.4,101.2M475.2,96.6L459.4,101.2M475.2,96.6L481.3,103.2M481.3,103.2L484.8,114.9M522.7,121.0L543.4,110.1M511.4,109.6L518.1,106.8M511.4,109.6L511.7,111.9M518.1,106.8L543.4,110.1M458.3,49.8L493.9,51.2M507.1,31.5L493.9,51.2M436.0,83.7L446.9,81.9M436.0,83.7L437.4,76.1M460.0,69.2L459.7,71.4M459.7,71.4L446.9,81.9M436.0,83.7L429.5,90.7M457.6,99.1L458.5,94.3M457.6,99.1L447.9,100.0M446.9,81.9L458.5,94.3M429.5,90.7L447.9,100.0M475.6,67.4L491.5,64.8M475.6,67.4L462.0,61.1M493.9,51.2L493.6,62.2M491.5,64.8L493.6,62.2M519.8,98.3L519.5,100.9M518.1,106.8L519.5,100.9M459.7,71.4L460.4,73.2M458.5,94.3L461.0,90.2M460.4,73.2L461.0,90.2M464.5,124.3L444.1,111.8M464.5,124.3L432.4,118.0M432.4,118.0L444.1,111.8M468.7,126.3L464.5,124.3M457.6,99.1L459.4,101.2M447.9,100.0L444.1,111.8M475.6,67.4L479.0,79.6M491.5,64.8L491.9,79.9M491.9,79.9L479.0,79.6M460.4,73.2L475.3,84.4M479.0,79.6L475.3,84.4M461.0,90.2L475.0,87.0M475.3,84.4L475.0,87.0M475.2,96.6L475.7,88.2M475.7,88.2L475.0,87.0M511.4,109.6L506.5,106.9M484.8,114.9L495.0,108.7M506.5,106.9L495.0,108.7M506.6,87.5L500.7,85.0M506.6,87.5L514.7,84.5M500.7,85.0L505.6,67.6M514.7,84.5L528.2,73.1M505.6,67.6L520.5,66.9M528.2,73.1L520.5,66.9M519.8,98.3L514.7,84.5M506.5,106.9L506.6,87.5M507.1,31.5L520.5,66.9M493.6,62.2L505.6,67.6M492.9,81.4L483.9,90.1M492.9,81.4L498.2,84.8M498.2,84.8L493.0,94.5M493.0,94.5L485.5,94.1M485.5,94.1L483.9,90.1M491.9,79.9L492.9,81.4M475.7,88.2L483.9,90.1M500.7,85.0L498.2,84.8M495.0,108.7L493.0,94.5M481.3,103.2L485.5,94.1" stroke="#ff5a5a" stroke-width="0.55" fill="none"/><path d="M447.3,59.3L443.0,66.9M430.6,68.2L443.0,66.9M497.5,127.6L508.8,116.9M508.8,116.9L511.4,113.6M467.6,49.7L453.3,53.9M447.3,59.3L453.3,53.9M448.0,102.8L446.6,100.0M446.6,100.0L439.2,101.2M452.8,82.7L446.6,100.0M452.8,82.7L445.0,68.7M445.0,68.7L443.0,66.9M430.6,68.2L439.2,101.2M511.4,113.6L509.6,97.1M509.6,97.1L509.8,96.3M457.9,86.1L469.0,101.0M457.9,86.1L475.6,81.5M475.6,81.5L471.3,100.2M469.0,101.0L471.3,100.2M452.8,82.7L457.9,86.1M445.0,68.7L486.8,70.3M486.8,70.3L487.9,74.3M487.9,74.3L475.6,81.5M479.7,98.3L492.7,81.6M479.7,98.3L479.5,98.6M487.9,74.3L492.7,81.6M479.5,98.6L471.3,100.2M499.7,58.2L488.5,62.4M488.5,62.4L486.1,57.9M472.3,49.1L486.1,57.9M472.3,49.1L467.6,49.7M486.8,70.3L488.5,62.4M498.8,84.5L516.6,62.4M498.8,84.5L507.1,92.1M507.1,92.1L528.6,60.7M516.6,62.4L528.6,60.7M492.7,81.6L498.8,84.5M499.7,58.2L516.6,62.4M479.7,98.3L498.4,102.2M509.6,97.1L498.4,102.2M509.8,96.3L507.1,92.1M469.6,123.8L475.0,118.1M469.6,123.8L450.6,123.9M475.0,118.1L468.3,102.9M468.3,102.9L454.8,111.7M450.6,123.9L454.8,111.7M478.1,118.6L475.0,118.1M448.0,102.8L454.8,111.7M469.0,101.0L468.3,102.9M495.2,125.5L489.4,107.8M495.2,125.5L478.5,118.6M478.5,118.6L485.9,106.5M489.4,107.8L485.9,106.5M497.5,127.6L495.2,125.5M498.4,102.2L489.4,107.8M478.1,118.6L478.5,118.6M479.5,98.6L485.9,106.5" stroke="#ffbf4a" stroke-width="0.55" fill="none"/><line x1="454.2" y1="78.7" x2="458.9" y2="84.7" stroke="#e00000" stroke-width="2.70"/><line x1="458.9" y1="84.7" x2="463.6" y2="90.6" stroke="#7474b4" stroke-width="2.70"/><line x1="501.3" y1="71.1" x2="498.1" y2="74.9" stroke="#6a6a6a" stroke-width="2.70"/><line x1="498.1" y1="74.9" x2="495.0" y2="78.7" stroke="#6a6a6a" stroke-width="2.70"/><line x1="501.3" y1="71.1" x2="499.4" y2="77.1" stroke="#6a6a6a" stroke-width="2.70"/><line x1="499.4" y1="77.1" x2="497.5" y2="83.1" stroke="#e00000" stroke-width="2.70"/><line x1="495.0" y1="78.7" x2="496.2" y2="80.9" stroke="#6a6a6a" stroke-width="2.70"/><line x1="496.2" y1="80.9" x2="497.5" y2="83.1" stroke="#e00000" stroke-width="2.70"/><line x1="497.5" y1="83.1" x2="492.5" y2="89.7" stroke="#e00000" stroke-width="2.70"/><line x1="492.5" y1="89.7" x2="487.5" y2="96.2" stroke="#58d0d6" stroke-width="2.70"/><line x1="473.0" y1="88.1" x2="468.3" y2="89.3" stroke="#e00000" stroke-width="2.70"/><line x1="468.3" y1="89.3" x2="463.6" y2="90.6" stroke="#7474b4" stroke-width="2.70"/><line x1="473.0" y1="88.1" x2="480.2" y2="92.2" stroke="#e00000" stroke-width="2.70"/><line x1="480.2" y1="92.2" x2="487.5" y2="96.2" stroke="#58d0d6" stroke-width="2.70"/><line x1="477.4" y1="90.6" x2="470.5" y2="90.6" stroke="#e00000" stroke-width="2.70"/><line x1="470.5" y1="90.6" x2="463.6" y2="90.6" stroke="#7474b4" stroke-width="2.70"/><line x1="477.4" y1="90.6" x2="482.4" y2="93.4" stroke="#e00000" stroke-width="2.70"/><line x1="482.4" y1="93.4" x2="487.5" y2="96.2" stroke="#58d0d6" stroke-width="2.70"/><line x1="463.6" y1="90.6" x2="459.2" y2="96.5" stroke="#7474b4" stroke-width="2.70"/><line x1="459.2" y1="96.5" x2="454.8" y2="102.5" stroke="#e00000" stroke-width="2.70"/><line x1="463.6" y1="90.6" x2="461.1" y2="99.7" stroke="#7474b4" stroke-width="2.70"/><line x1="461.1" y1="99.7" x2="458.6" y2="108.8" stroke="#e00000" stroke-width="2.70"/><line x1="487.5" y1="96.2" x2="492.5" y2="99.1" stroke="#58d0d6" stroke-width="2.70"/><line x1="492.5" y1="99.1" x2="497.5" y2="101.9" stroke="#e00000" stroke-width="2.70"/><line x1="487.5" y1="96.2" x2="490.0" y2="103.8" stroke="#58d0d6" stroke-width="2.70"/><line x1="490.0" y1="103.8" x2="492.5" y2="111.3" stroke="#e00000" stroke-width="2.70"/><line x1="454.8" y1="102.5" x2="453.2" y2="108.8" stroke="#e00000" stroke-width="2.70"/><line x1="453.2" y1="108.8" x2="451.7" y2="115.1" stroke="#d060d8" stroke-width="2.70"/><line x1="458.6" y1="108.8" x2="455.1" y2="111.9" stroke="#e00000" stroke-width="2.70"/><line x1="455.1" y1="111.9" x2="451.7" y2="115.1" stroke="#d060d8" stroke-width="2.70"/><line x1="497.5" y1="101.9" x2="498.8" y2="109.1" stroke="#e00000" stroke-width="2.70"/><line x1="498.8" y1="109.1" x2="500.0" y2="116.3" stroke="#d060d8" stroke-width="2.70"/><line x1="492.5" y1="111.3" x2="496.2" y2="113.8" stroke="#e00000" stroke-width="2.70"/><line x1="496.2" y1="113.8" x2="500.0" y2="116.3" stroke="#d060d8" stroke-width="2.70"/><line x1="445.4" y1="78.0" x2="449.8" y2="78.3" stroke="#dddddd" stroke-width="2.70"/><line x1="449.8" y1="78.3" x2="454.2" y2="78.7" stroke="#e00000" stroke-width="2.70"/><line x1="503.8" y1="63.6" x2="502.6" y2="67.3" stroke="#dddddd" stroke-width="2.70"/><line x1="502.6" y1="67.3" x2="501.3" y2="71.1" stroke="#6a6a6a" stroke-width="2.70"/><line x1="473.7" y1="81.2" x2="473.4" y2="84.7" stroke="#dddddd" stroke-width="2.70"/><line x1="473.4" y1="84.7" x2="473.0" y2="88.1" stroke="#e00000" stroke-width="2.70"/><line x1="484.3" y1="83.7" x2="480.9" y2="87.2" stroke="#dddddd" stroke-width="2.70"/><line x1="480.9" y1="87.2" x2="477.4" y2="90.6" stroke="#e00000" stroke-width="2.70"/><circle cx="445.4" cy="78.0" r="3.49" fill="url(#gH)"/><circle cx="503.8" cy="63.6" r="3.15" fill="url(#gH)"/><circle cx="511.3" cy="74.3" r="3.49" fill="url(#gH)"/><circle cx="473.7" cy="81.2" r="3.94" fill="url(#gH)"/><circle cx="484.3" cy="83.7" r="3.49" fill="url(#gH)"/><circle cx="454.2" cy="78.7" r="3.94" fill="url(#gO)"/><circle cx="501.3" cy="71.1" r="3.15" fill="url(#gC)"/><circle cx="495.0" cy="78.7" r="3.15" fill="url(#gC)"/><circle cx="497.5" cy="83.1" r="3.94" fill="url(#gO)"/><circle cx="473.0" cy="88.1" r="3.94" fill="url(#gO)"/><circle cx="477.4" cy="90.6" r="3.94" fill="url(#gO)"/><circle cx="463.6" cy="90.6" r="3.94" fill="url(#gFe)"/><circle cx="487.5" cy="96.2" r="4.28" fill="url(#gZn)"/><circle cx="454.8" cy="102.5" r="3.94" fill="url(#gO)"/><circle cx="458.6" cy="108.8" r="3.94" fill="url(#gO)"/><circle cx="451.7" cy="115.1" r="3.94" fill="url(#gAl)"/><circle cx="497.5" cy="101.9" r="3.94" fill="url(#gO)"/><circle cx="492.5" cy="111.3" r="3.94" fill="url(#gO)"/><circle cx="500.0" cy="116.3" r="3.49" fill="url(#gAl)"/></g><rect x="441" y="46.3" width="75.4" height="75.1" fill="none" stroke="#555" stroke-width="1"/><text x="442.9" y="58.6" font-size="12.5">TS5</text><rect x="522.3" y="46.3" width="73.5" height="73.2" fill="#fff"/><g clip-path="url(#clipTS6)"><path d="M528.0,52.0L513.2,62.0M596.4,60.9L590.6,55.1M596.4,60.9L591.2,65.8M591.2,65.8L591.2,94.8M598.6,110.2L587.7,100.0M591.2,94.8L587.7,100.0M593.2,126.6L591.8,122.3M591.8,122.3L574.0,119.5M570.1,127.3L574.0,119.5M598.6,110.2L591.8,122.3M587.7,100.0L568.3,98.9M568.3,98.9L574.0,119.5M546.7,132.7L550.2,122.1M550.2,122.1L570.1,127.3M591.2,65.8L570.9,77.7M566.3,97.3L568.3,98.9M566.3,97.3L568.8,82.6M568.8,82.6L570.9,77.7M590.6,55.1L583.8,52.4M570.9,77.7L563.3,68.3M563.3,68.3L574.4,51.5M583.8,52.4L574.4,51.5M513.2,62.0L526.2,77.0M505.5,94.1L522.3,87.6M522.3,87.6L526.2,77.0M559.4,99.2L566.3,97.3M559.4,99.2L539.9,78.3M568.8,82.6L541.4,73.9M541.4,73.9L539.7,76.8M539.7,76.8L539.9,78.3M559.4,99.2L554.8,102.1M550.2,122.1L548.5,115.0M548.5,115.0L553.2,103.7M553.2,103.7L554.8,102.1M505.5,94.1L520.1,105.1M520.1,105.1L516.8,130.9M528.0,52.0L529.9,51.9M541.4,73.9L544.2,55.9M526.2,77.0L539.7,76.8M529.9,51.9L544.2,55.9M583.8,52.4L559.2,18.0M531.8,121.7L532.7,120.7M531.8,121.7L522.5,126.8M532.7,120.7L531.3,109.3M522.5,126.8L526.6,115.5M526.6,115.5L530.7,108.4M530.7,108.4L531.3,109.3M546.7,132.7L531.8,121.7M548.5,115.0L545.2,115.6M545.2,115.6L532.7,120.7M516.8,130.9L522.5,126.8M545.2,115.6L531.3,109.3M520.1,105.1L524.0,104.8M524.0,104.8L526.6,115.5M529.1,104.2L524.0,104.8M529.1,104.2L530.7,108.4M529.1,104.2L531.4,102.0M531.4,102.0L553.2,103.7M525.0,89.0L536.7,86.1M525.0,89.0L531.2,97.4M531.2,97.4L537.2,90.6M536.7,86.1L537.2,90.6M522.3,87.6L525.0,89.0M539.9,78.3L536.7,86.1M531.4,102.0L531.2,97.4M554.8,102.1L537.2,90.6M550.4,54.4L549.3,53.9M550.4,54.4L572.9,51.2M549.3,53.9L558.4,22.6M572.9,51.2L558.4,22.6M563.3,68.3L550.4,54.4M544.2,55.9L549.3,53.9M574.4,51.5L572.9,51.2M559.2,18.0L558.4,22.6" stroke="#ff5a5a" stroke-width="0.55" fill="none"/><path d="M516.5,21.6L519.7,29.3M519.7,29.3L525.1,68.3M509.5,119.7L540.9,141.8M509.5,119.7L519.5,112.6M540.9,141.8L540.8,134.4M540.8,134.4L538.9,128.0M538.9,128.0L519.5,112.6M510.1,94.6L519.8,111.3M519.8,111.3L519.5,112.6M516.5,21.6L548.9,43.6M519.7,29.3L548.9,56.9M548.9,43.6L548.9,56.9M525.1,68.3L537.7,73.7M537.7,73.7L549.0,57.0M548.9,56.9L549.0,57.0M540.8,134.4L556.6,115.5M556.6,115.5L567.4,112.7M582.3,115.7L575.7,107.1M575.7,107.1L567.4,112.7M599.1,134.8L594.8,116.2M599.1,134.8L611.9,110.6M611.9,110.6L594.8,116.2M582.3,115.7L594.8,116.2M510.1,94.6L532.9,93.3M519.8,111.3L532.9,101.1M532.9,101.1L532.9,93.3M540.0,79.1L537.7,73.7M540.0,79.1L534.1,91.6M534.1,91.6L532.9,93.3M566.8,90.4L562.5,65.3M566.8,90.4L551.0,83.2M551.0,83.2L562.5,65.3M540.0,79.1L551.0,83.2M562.9,54.7L549.0,57.0M562.9,54.7L562.5,65.3M611.5,52.0L582.6,65.8M582.6,65.8L572.2,47.5M562.9,54.7L563.0,54.7M563.0,54.7L572.2,47.5M539.2,120.2L537.2,108.3M539.2,120.2L551.7,107.9M537.2,108.3L551.1,104.3M551.7,107.9L551.6,104.3M551.6,104.3L551.1,104.3M538.9,128.0L539.2,120.2M532.9,101.1L537.2,108.3M556.6,115.5L551.7,107.9M534.1,91.6L551.1,104.3M567.0,90.5L551.6,104.3M567.0,90.5L566.8,90.4M582.6,69.3L574.8,79.5M582.6,69.3L594.4,74.0M598.9,88.8L573.9,95.1M598.9,88.8L594.4,74.0M574.8,79.5L570.1,91.3M570.1,91.3L573.9,95.1M582.6,65.8L582.6,69.3M563.0,54.7L574.8,79.5M611.5,52.0L594.4,74.0M575.7,107.1L573.9,95.1M567.0,90.5L570.1,91.3" stroke="#ffbf4a" stroke-width="0.55" fill="none"/><line x1="537.1" y1="78.0" x2="541.8" y2="84.6" stroke="#e00000" stroke-width="2.70"/><line x1="541.8" y1="84.6" x2="546.5" y2="91.2" stroke="#7474b4" stroke-width="2.70"/><line x1="555.3" y1="83.7" x2="550.9" y2="87.5" stroke="#e00000" stroke-width="2.70"/><line x1="550.9" y1="87.5" x2="546.5" y2="91.2" stroke="#7474b4" stroke-width="2.70"/><line x1="555.3" y1="83.7" x2="563.8" y2="88.1" stroke="#e00000" stroke-width="2.70"/><line x1="563.8" y1="88.1" x2="572.2" y2="92.5" stroke="#58d0d6" stroke-width="2.70"/><line x1="546.5" y1="91.2" x2="553.4" y2="93.4" stroke="#7474b4" stroke-width="2.70"/><line x1="553.4" y1="93.4" x2="560.3" y2="95.6" stroke="#e00000" stroke-width="2.70"/><line x1="546.5" y1="91.2" x2="540.5" y2="96.2" stroke="#7474b4" stroke-width="2.70"/><line x1="540.5" y1="96.2" x2="534.6" y2="101.3" stroke="#e00000" stroke-width="2.70"/><line x1="546.5" y1="91.2" x2="543.0" y2="98.8" stroke="#7474b4" stroke-width="2.70"/><line x1="543.0" y1="98.8" x2="539.6" y2="106.3" stroke="#e00000" stroke-width="2.70"/><line x1="560.3" y1="95.6" x2="566.2" y2="94.0" stroke="#e00000" stroke-width="2.70"/><line x1="566.2" y1="94.0" x2="572.2" y2="92.5" stroke="#58d0d6" stroke-width="2.70"/><line x1="572.2" y1="92.5" x2="579.2" y2="88.1" stroke="#58d0d6" stroke-width="2.70"/><line x1="579.2" y1="88.1" x2="586.1" y2="83.7" stroke="#e00000" stroke-width="2.70"/><line x1="572.2" y1="92.5" x2="576.3" y2="95.7" stroke="#58d0d6" stroke-width="2.70"/><line x1="576.3" y1="95.7" x2="580.4" y2="98.8" stroke="#e00000" stroke-width="2.70"/><line x1="572.2" y1="92.5" x2="574.8" y2="101.9" stroke="#58d0d6" stroke-width="2.70"/><line x1="574.8" y1="101.9" x2="577.3" y2="111.3" stroke="#e00000" stroke-width="2.70"/><line x1="582.9" y1="67.4" x2="582.6" y2="73.1" stroke="#6a6a6a" stroke-width="2.70"/><line x1="582.6" y1="73.1" x2="582.3" y2="78.7" stroke="#6a6a6a" stroke-width="2.70"/><line x1="582.3" y1="78.7" x2="584.2" y2="81.2" stroke="#6a6a6a" stroke-width="2.70"/><line x1="584.2" y1="81.2" x2="586.1" y2="83.7" stroke="#e00000" stroke-width="2.70"/><line x1="534.6" y1="101.3" x2="533.4" y2="107.5" stroke="#e00000" stroke-width="2.70"/><line x1="533.4" y1="107.5" x2="532.1" y2="113.8" stroke="#d060d8" stroke-width="2.70"/><line x1="539.6" y1="106.3" x2="535.9" y2="110.0" stroke="#e00000" stroke-width="2.70"/><line x1="535.9" y1="110.0" x2="532.1" y2="113.8" stroke="#d060d8" stroke-width="2.70"/><line x1="580.4" y1="98.8" x2="581.3" y2="106.6" stroke="#e00000" stroke-width="2.70"/><line x1="581.3" y1="106.6" x2="582.3" y2="114.4" stroke="#d060d8" stroke-width="2.70"/><line x1="577.3" y1="111.3" x2="579.8" y2="112.8" stroke="#e00000" stroke-width="2.70"/><line x1="579.8" y1="112.8" x2="582.3" y2="114.4" stroke="#d060d8" stroke-width="2.70"/><line x1="529.6" y1="74.3" x2="533.4" y2="76.2" stroke="#dddddd" stroke-width="2.70"/><line x1="533.4" y1="76.2" x2="537.1" y2="78.0" stroke="#e00000" stroke-width="2.70"/><line x1="559.7" y1="91.2" x2="560.0" y2="93.4" stroke="#dddddd" stroke-width="2.70"/><line x1="560.0" y1="93.4" x2="560.3" y2="95.6" stroke="#e00000" stroke-width="2.70"/><line x1="575.4" y1="64.9" x2="579.1" y2="66.2" stroke="#dddddd" stroke-width="2.70"/><line x1="579.1" y1="66.2" x2="582.9" y2="67.4" stroke="#6a6a6a" stroke-width="2.70"/><line x1="582.3" y1="60.5" x2="582.6" y2="64.0" stroke="#dddddd" stroke-width="2.70"/><line x1="582.6" y1="64.0" x2="582.9" y2="67.4" stroke="#6a6a6a" stroke-width="2.70"/><line x1="591.1" y1="67.4" x2="587.0" y2="67.4" stroke="#dddddd" stroke-width="2.70"/><line x1="587.0" y1="67.4" x2="582.9" y2="67.4" stroke="#6a6a6a" stroke-width="2.70"/><circle cx="529.6" cy="74.3" r="3.49" fill="url(#gH)"/><circle cx="547.1" cy="77.4" r="3.49" fill="url(#gH)"/><circle cx="559.7" cy="91.2" r="3.49" fill="url(#gH)"/><circle cx="575.4" cy="64.9" r="3.49" fill="url(#gH)"/><circle cx="582.3" cy="60.5" r="3.15" fill="url(#gH)"/><circle cx="591.1" cy="67.4" r="3.15" fill="url(#gH)"/><circle cx="537.1" cy="78.0" r="3.94" fill="url(#gO)"/><circle cx="555.3" cy="83.7" r="3.94" fill="url(#gO)"/><circle cx="546.5" cy="91.2" r="3.94" fill="url(#gFe)"/><circle cx="560.3" cy="95.6" r="3.94" fill="url(#gO)"/><circle cx="572.2" cy="92.5" r="4.28" fill="url(#gZn)"/><circle cx="582.9" cy="67.4" r="3.15" fill="url(#gC)"/><circle cx="582.3" cy="78.7" r="3.15" fill="url(#gC)"/><circle cx="586.1" cy="83.7" r="3.94" fill="url(#gO)"/><circle cx="534.6" cy="101.3" r="3.94" fill="url(#gO)"/><circle cx="539.6" cy="106.3" r="3.94" fill="url(#gO)"/><circle cx="532.1" cy="113.8" r="3.94" fill="url(#gAl)"/><circle cx="580.4" cy="98.8" r="3.94" fill="url(#gO)"/><circle cx="577.3" cy="111.3" r="3.94" fill="url(#gO)"/><circle cx="582.3" cy="114.4" r="3.49" fill="url(#gAl)"/></g><rect x="522.3" y="46.3" width="73.5" height="73.2" fill="none" stroke="#555" stroke-width="1"/><text x="525.8" y="59.8" font-size="12.5">TS6</text><rect x="601.3" y="46.6" width="72.3" height="72.9" fill="#fff"/><g clip-path="url(#clipTS7)"><path d="M670.3,17.5L652.4,54.8M670.3,17.5L670.1,62.9M670.1,62.9L652.4,54.8M620.2,149.5L614.4,116.0M614.4,116.0L596.9,94.6M670.1,62.9L674.5,67.2M677.2,67.7L674.5,67.2M667.4,98.8L676.7,102.8M667.4,98.8L666.4,89.5M666.4,89.5L676.7,83.9M676.7,83.9L690.4,95.1M690.4,95.1L676.7,102.8M677.2,67.7L676.7,83.9M677.5,118.4L676.2,117.0M676.2,117.0L676.7,102.8M626.7,43.8L617.0,62.1M617.0,62.1L610.0,63.3M629.0,70.4L618.0,63.4M629.0,70.4L620.9,89.0M620.9,89.0L617.4,89.0M618.0,63.4L617.4,89.0M614.4,116.0L625.0,109.7M596.9,94.6L598.1,93.7M620.9,89.0L626.5,91.2M626.5,91.2L625.0,109.7M598.1,93.7L617.4,89.0M671.8,68.9L658.3,81.0M671.8,68.9L654.9,68.7M654.9,68.7L658.3,81.0M674.5,67.2L671.8,68.9M657.4,83.0L658.3,81.0M657.4,83.0L666.4,89.5M641.3,83.2L650.0,85.4M641.3,83.2L637.0,69.2M650.0,85.4L647.9,59.2M637.0,69.2L644.2,58.2M644.2,58.2L647.3,58.0M647.3,58.0L647.9,59.2M629.0,70.4L637.0,69.2M626.5,91.2L628.2,91.3M628.2,91.3L641.3,83.2M650.1,85.4L650.0,85.4M650.1,85.4L657.4,83.0M654.9,68.7L647.9,59.2M626.7,43.8L644.2,58.2M617.0,62.1L618.0,63.4M652.4,54.8L647.3,58.0M650.1,85.4L649.8,98.2M649.8,98.2L655.3,100.2M667.4,98.8L665.5,100.1M665.5,100.1L655.3,100.2M620.2,149.5L640.7,120.3M625.0,109.7L633.9,110.9M633.9,110.9L640.7,120.3M602.8,74.5L605.0,68.2M610.0,63.3L605.0,68.2M598.1,93.7L602.8,74.5M657.0,111.0L662.1,111.5M657.0,111.0L647.4,114.5M658.4,126.4L666.2,117.1M658.4,126.4L645.2,118.6M666.2,117.1L662.1,111.5M645.2,118.6L647.4,114.5M665.5,100.1L662.1,111.5M655.3,100.2L657.0,111.0M676.2,117.0L666.2,117.1M640.7,120.3L645.2,118.6M633.4,97.1L634.8,106.7M633.4,97.1L647.5,100.5M634.8,106.7L647.0,102.8M647.5,100.5L647.0,102.8M628.2,91.3L633.4,97.1M633.9,110.9L634.8,106.7M649.8,98.2L647.5,100.5M647.4,114.5L647.0,102.8" stroke="#ff5a5a" stroke-width="0.55" fill="none"/><path d="M662.6,36.9L669.4,51.1M604.2,104.2L614.1,105.3M602.6,103.4L604.2,104.2M662.6,36.9L651.8,44.6M652.8,32.2L651.8,44.6M602.3,44.4L616.5,51.2M602.3,44.4L590.4,64.0M616.5,51.2L603.6,68.8M590.4,64.0L603.6,68.8M629.1,45.4L616.5,51.2M642.4,52.8L639.2,53.5M642.4,52.8L667.4,53.9M638.3,62.0L668.0,68.4M638.3,62.0L637.8,54.1M637.8,54.1L639.2,53.5M667.4,53.9L668.0,68.4M652.8,32.2L639.2,53.5M651.8,44.6L642.4,52.8M669.4,51.1L667.4,53.9M657.3,82.6L669.8,72.7M657.3,82.6L636.9,72.0M669.8,72.7L668.0,68.4M636.9,72.0L636.6,71.2M636.6,71.2L638.3,62.0M629.1,45.4L637.8,54.1M657.6,136.9L665.1,101.0M657.6,136.9L698.5,98.7M698.5,98.7L665.1,101.0M657.5,96.3L665.1,101.0M657.5,96.3L657.3,82.6M614.1,105.3L615.6,103.1M640.8,140.1L631.5,99.6M615.6,103.1L624.6,96.7M631.5,99.6L624.6,96.7M615.6,103.1L610.8,94.1M624.6,96.7L624.7,95.4M624.7,95.4L610.3,75.5M610.8,94.1L610.3,75.5M636.6,71.2L610.0,74.7M603.6,68.8L606.5,73.1M606.5,73.1L610.0,74.7M636.9,72.0L636.9,72.2M624.7,95.4L636.9,72.2M610.0,74.7L610.3,75.5M641.7,91.0L634.5,99.2M641.7,91.0L657.4,96.4M634.5,99.2L647.7,104.3M657.4,96.4L647.7,104.3M631.5,99.6L634.5,99.2M636.9,72.2L641.7,91.0M657.5,96.3L657.4,96.4M640.8,140.1L647.7,104.3M603.6,78.8L604.2,89.9M603.6,78.8L591.7,90.5M604.2,89.9L598.9,95.9M591.7,90.5L598.9,95.9M610.8,94.1L604.2,89.9M606.5,73.1L603.6,78.8M602.6,103.4L598.9,95.9" stroke="#ffbf4a" stroke-width="0.55" fill="none"/><line x1="644.3" y1="61.7" x2="644.3" y2="68.0" stroke="#6a6a6a" stroke-width="2.70"/><line x1="644.3" y1="68.0" x2="644.3" y2="74.3" stroke="#6a6a6a" stroke-width="2.70"/><line x1="644.3" y1="74.3" x2="648.7" y2="76.5" stroke="#6a6a6a" stroke-width="2.70"/><line x1="648.7" y1="76.5" x2="653.1" y2="78.7" stroke="#e00000" stroke-width="2.70"/><line x1="628.0" y1="76.8" x2="625.5" y2="85.9" stroke="#e00000" stroke-width="2.70"/><line x1="625.5" y1="85.9" x2="623.0" y2="95.0" stroke="#7474b4" stroke-width="2.70"/><line x1="653.1" y1="78.7" x2="652.2" y2="87.8" stroke="#e00000" stroke-width="2.70"/><line x1="652.2" y1="87.8" x2="651.2" y2="96.9" stroke="#58d0d6" stroke-width="2.70"/><line x1="623.0" y1="95.0" x2="629.2" y2="98.5" stroke="#7474b4" stroke-width="2.70"/><line x1="629.2" y1="98.5" x2="635.5" y2="101.9" stroke="#e00000" stroke-width="2.70"/><line x1="623.0" y1="95.0" x2="617.0" y2="97.2" stroke="#7474b4" stroke-width="2.70"/><line x1="617.0" y1="97.2" x2="611.1" y2="99.4" stroke="#e00000" stroke-width="2.70"/><line x1="623.0" y1="95.0" x2="618.9" y2="100.7" stroke="#7474b4" stroke-width="2.70"/><line x1="618.9" y1="100.7" x2="614.8" y2="106.3" stroke="#e00000" stroke-width="2.70"/><line x1="651.2" y1="96.9" x2="643.4" y2="99.4" stroke="#58d0d6" stroke-width="2.70"/><line x1="643.4" y1="99.4" x2="635.5" y2="101.9" stroke="#e00000" stroke-width="2.70"/><line x1="651.2" y1="96.9" x2="657.8" y2="98.2" stroke="#58d0d6" stroke-width="2.70"/><line x1="657.8" y1="98.2" x2="664.4" y2="99.4" stroke="#e00000" stroke-width="2.70"/><line x1="651.2" y1="96.9" x2="654.4" y2="104.4" stroke="#58d0d6" stroke-width="2.70"/><line x1="654.4" y1="104.4" x2="657.5" y2="111.9" stroke="#e00000" stroke-width="2.70"/><line x1="611.1" y1="99.4" x2="609.5" y2="106.6" stroke="#e00000" stroke-width="2.70"/><line x1="609.5" y1="106.6" x2="607.9" y2="113.8" stroke="#d060d8" stroke-width="2.70"/><line x1="614.8" y1="106.3" x2="611.3" y2="110.0" stroke="#e00000" stroke-width="2.70"/><line x1="611.3" y1="110.0" x2="607.9" y2="113.8" stroke="#d060d8" stroke-width="2.70"/><line x1="664.4" y1="99.4" x2="664.4" y2="107.2" stroke="#e00000" stroke-width="2.70"/><line x1="664.4" y1="107.2" x2="664.4" y2="115.1" stroke="#d060d8" stroke-width="2.70"/><line x1="657.5" y1="111.9" x2="661.0" y2="113.5" stroke="#e00000" stroke-width="2.70"/><line x1="661.0" y1="113.5" x2="664.4" y2="115.1" stroke="#d060d8" stroke-width="2.70"/><line x1="637.4" y1="58.6" x2="640.8" y2="60.2" stroke="#dddddd" stroke-width="2.70"/><line x1="640.8" y1="60.2" x2="644.3" y2="61.7" stroke="#6a6a6a" stroke-width="2.70"/><line x1="643.7" y1="57.3" x2="644.0" y2="59.5" stroke="#dddddd" stroke-width="2.70"/><line x1="644.0" y1="59.5" x2="644.3" y2="61.7" stroke="#6a6a6a" stroke-width="2.70"/><line x1="653.1" y1="57.3" x2="648.7" y2="59.5" stroke="#dddddd" stroke-width="2.70"/><line x1="648.7" y1="59.5" x2="644.3" y2="61.7" stroke="#6a6a6a" stroke-width="2.70"/><line x1="622.4" y1="71.1" x2="625.2" y2="73.9" stroke="#dddddd" stroke-width="2.70"/><line x1="625.2" y1="73.9" x2="628.0" y2="76.8" stroke="#e00000" stroke-width="2.70"/><circle cx="637.4" cy="58.6" r="3.49" fill="url(#gH)"/><circle cx="643.7" cy="57.3" r="3.15" fill="url(#gH)"/><circle cx="653.1" cy="57.3" r="3.49" fill="url(#gH)"/><circle cx="622.4" cy="71.1" r="3.49" fill="url(#gH)"/><circle cx="644.3" cy="61.7" r="3.15" fill="url(#gC)"/><circle cx="644.3" cy="74.3" r="3.49" fill="url(#gC)"/><circle cx="628.0" cy="76.8" r="3.94" fill="url(#gO)"/><circle cx="653.1" cy="78.7" r="3.94" fill="url(#gO)"/><circle cx="623.0" cy="95.0" r="3.94" fill="url(#gFe)"/><circle cx="651.2" cy="96.9" r="4.28" fill="url(#gZn)"/><circle cx="635.5" cy="101.9" r="3.94" fill="url(#gO)"/><circle cx="611.1" cy="99.4" r="3.94" fill="url(#gO)"/><circle cx="614.8" cy="106.3" r="3.94" fill="url(#gO)"/><circle cx="607.9" cy="113.8" r="3.94" fill="url(#gAl)"/><circle cx="664.4" cy="99.4" r="3.94" fill="url(#gO)"/><circle cx="657.5" cy="111.9" r="3.94" fill="url(#gO)"/><circle cx="664.4" cy="115.1" r="3.49" fill="url(#gAl)"/></g><rect x="601.3" y="46.6" width="72.3" height="72.9" fill="none" stroke="#555" stroke-width="1"/><text x="603.5" y="58.6" font-size="12.5">TS7</text><text x="16.1" y="262.5" font-size="13.5">(b)</text><rect x="35.6" y="253.1" width="80.9" height="80.7" fill="#fff"/><g clip-path="url(#clipIM3)"><path d="M14.6,311.8L33.3,326.1M130.4,258.3L118.5,258.2M130.4,258.3L96.9,223.6M96.9,223.6L118.5,258.2M107.6,266.1L118.5,258.2M107.6,266.1L125.6,289.6M125.6,289.6L136.7,289.1M136.7,289.1L117.2,328.4M97.1,318.9L111.0,321.0M97.1,318.9L94.8,303.1M94.8,303.1L98.9,300.7M98.9,300.7L112.6,314.9M111.0,321.0L112.6,314.9M125.6,289.6L124.6,290.1M124.6,290.1L112.6,314.9M117.2,328.4L111.0,321.0M120.8,290.5L99.2,300.4M120.8,290.5L100.7,282.7M99.2,300.4L96.3,288.6M100.7,282.7L96.3,288.6M124.6,290.1L120.8,290.5M98.9,300.7L99.2,300.4M30.0,235.5L40.9,264.9M30.0,235.5L52.1,249.8M52.1,249.8L45.1,264.3M40.9,264.9L45.1,264.3M44.2,297.0L48.3,299.8M44.2,297.0L45.9,289.6M45.9,289.6L49.2,287.0M49.2,287.0L67.1,292.1M48.3,299.8L67.1,292.1M14.6,311.8L44.2,297.0M33.3,326.1L42.1,328.8M42.1,328.8L55.2,306.0M48.3,299.8L55.2,306.0M55.2,306.0L62.8,309.9M67.4,292.1L67.1,292.1M67.4,292.1L67.1,308.0M67.1,308.0L62.8,309.9M107.6,266.1L96.7,262.5M100.7,282.7L93.9,275.3M93.9,275.3L96.7,262.5M96.7,262.5L84.2,242.2M41.8,283.1L37.7,268.9M40.9,264.9L37.7,268.9M45.9,289.6L41.8,283.1M53.5,267.0L45.1,264.3M53.5,267.0L49.9,286.4M49.9,286.4L49.2,287.0M78.0,311.2L70.4,307.6M78.0,311.2L84.6,325.1M70.4,307.6L67.1,308.0M62.8,309.9L62.7,323.0M62.7,323.0L84.6,325.1M42.1,328.8L55.6,337.1M62.7,323.0L55.6,337.1M96.3,288.6L87.3,286.6M93.9,275.3L87.9,280.3M87.3,286.6L87.9,280.3M94.8,303.1L93.1,302.5M93.1,302.5L84.2,293.5M87.3,286.6L84.2,293.5M58.4,349.0L57.2,341.4M58.4,349.0L88.9,331.4M57.2,341.4L86.3,326.5M88.9,331.4L87.9,327.2M87.9,327.2L86.3,326.5M55.6,337.1L57.2,341.4M84.6,325.1L86.3,326.5M97.1,318.9L87.9,327.2M93.1,302.5L78.0,311.2M53.5,267.0L64.9,264.3M52.1,249.8L73.5,251.3M73.5,251.3L64.9,264.3M84.2,242.2L77.0,249.1M73.5,251.3L77.0,249.1M87.9,280.3L79.9,277.8M77.0,249.1L79.9,277.8M49.9,286.4L61.6,281.5M61.6,281.5L65.5,270.8M64.9,264.3L65.5,270.8M67.4,292.1L68.8,290.3M61.6,281.5L65.0,283.9M68.8,290.3L65.0,283.9M80.2,293.8L80.2,293.8M80.2,293.8L72.7,290.3M80.2,293.8L76.7,279.3M72.7,290.3L74.2,281.0M74.2,281.0L75.5,279.4M75.5,279.4L76.7,279.3M70.4,307.6L80.2,293.8M84.2,293.5L80.2,293.8M68.8,290.3L72.7,290.3M79.9,277.8L76.7,279.3M65.0,283.9L74.2,281.0M65.5,270.8L75.5,279.4" stroke="#ff5a5a" stroke-width="0.55" fill="none"/><path d="M110.0,284.2L111.3,300.6M110.0,284.2L85.9,299.7M111.3,300.6L89.1,310.1M85.9,299.7L86.8,309.0M89.1,310.1L86.8,309.0M25.6,256.0L50.8,243.8M25.6,256.0L38.7,277.9M38.7,277.9L54.4,251.3M50.8,243.8L54.4,251.3M38.7,279.3L38.7,277.9M115.4,249.2L138.9,270.3M111.6,279.1L117.2,277.2M111.6,279.1L110.0,284.2M117.2,277.2L137.7,270.6M118.3,309.7L111.3,300.6M138.9,270.3L137.7,270.6M117.2,277.2L108.6,256.8M137.7,270.6L108.6,256.8M101.1,329.9L106.1,342.2M101.1,329.9L102.4,321.9M105.3,321.6L117.4,333.2M105.3,321.6L102.4,321.9M117.4,333.2L106.1,342.2M77.0,349.5L101.1,329.9M77.0,349.0L77.0,349.5M77.0,349.0L77.1,348.7M96.6,318.9L77.1,348.7M96.6,318.9L102.4,321.9M118.3,309.7L105.3,321.6M96.6,318.9L89.1,310.1M77.1,318.7L83.5,310.9M77.1,318.7L58.5,317.7M83.5,310.9L54.3,300.2M58.5,317.7L49.8,314.3M54.3,300.2L49.3,310.9M49.3,310.9L49.8,314.3M86.8,309.0L83.5,310.9M77.1,348.7L77.1,318.7M77.0,349.0L58.5,317.7M44.6,326.1L49.8,314.3M55.9,289.5L38.7,279.3M55.9,289.5L54.3,300.2M94.7,271.2L93.5,269.8M94.7,271.2L80.6,291.8M93.5,269.8L75.1,272.4M75.1,272.4L64.7,279.8M80.6,291.8L63.0,285.1M63.0,285.1L64.7,279.8M111.6,279.1L107.7,276.9M85.9,299.7L80.6,291.8M107.7,276.9L94.7,271.2M58.7,256.0L74.3,263.0M58.7,256.0L64.7,279.8M74.3,263.0L75.1,272.4M55.9,289.5L63.0,285.1M54.4,251.3L57.5,253.9M57.5,253.9L58.7,256.0M96.6,252.9L91.6,260.8M91.6,260.8L82.6,256.0M82.6,256.0L79.1,251.7M74.3,263.0L82.6,256.0M93.5,269.8L91.6,260.8M57.5,253.9L79.1,251.7M97.7,252.7L107.0,257.3M97.7,252.7L105.7,249.7M105.7,249.7L111.9,250.0M111.9,250.0L108.4,256.7M108.4,256.7L107.0,257.3M107.7,276.9L107.0,257.3M96.6,252.9L97.7,252.7M115.4,249.2L111.9,250.0M108.6,256.8L108.4,256.7" stroke="#ffbf4a" stroke-width="0.55" fill="none"/><line x1="76.0" y1="274.2" x2="74.2" y2="281.1" stroke="#6a6a6a" stroke-width="2.70"/><line x1="74.2" y1="281.1" x2="72.3" y2="288.1" stroke="#e00000" stroke-width="2.70"/><line x1="45.3" y1="282.2" x2="53.3" y2="288.8" stroke="#e00000" stroke-width="2.70"/><line x1="53.3" y1="288.8" x2="61.4" y2="295.4" stroke="#7474b4" stroke-width="2.70"/><line x1="72.3" y1="288.1" x2="66.8" y2="291.8" stroke="#e00000" stroke-width="2.70"/><line x1="66.8" y1="291.8" x2="61.4" y2="295.4" stroke="#7474b4" stroke-width="2.70"/><line x1="61.4" y1="295.4" x2="69.4" y2="297.2" stroke="#7474b4" stroke-width="2.70"/><line x1="69.4" y1="297.2" x2="77.4" y2="299.0" stroke="#e00000" stroke-width="2.70"/><line x1="61.4" y1="295.4" x2="55.2" y2="303.4" stroke="#7474b4" stroke-width="2.70"/><line x1="55.2" y1="303.4" x2="49.0" y2="311.4" stroke="#e00000" stroke-width="2.70"/><line x1="61.4" y1="295.4" x2="57.4" y2="305.9" stroke="#7474b4" stroke-width="2.70"/><line x1="57.4" y1="305.9" x2="53.4" y2="316.5" stroke="#e00000" stroke-width="2.70"/><line x1="77.4" y1="299.0" x2="84.3" y2="301.2" stroke="#e00000" stroke-width="2.70"/><line x1="84.3" y1="301.2" x2="91.3" y2="303.4" stroke="#58d0d6" stroke-width="2.70"/><line x1="91.3" y1="303.4" x2="98.2" y2="304.5" stroke="#58d0d6" stroke-width="2.70"/><line x1="98.2" y1="304.5" x2="105.2" y2="305.6" stroke="#e00000" stroke-width="2.70"/><line x1="91.3" y1="303.4" x2="95.7" y2="313.6" stroke="#58d0d6" stroke-width="2.70"/><line x1="95.7" y1="313.6" x2="100.1" y2="323.8" stroke="#e00000" stroke-width="2.70"/><line x1="105.2" y1="305.6" x2="106.7" y2="315.8" stroke="#e00000" stroke-width="2.70"/><line x1="106.7" y1="315.8" x2="108.1" y2="326.0" stroke="#d060d8" stroke-width="2.70"/><line x1="49.0" y1="311.4" x2="46.8" y2="318.4" stroke="#e00000" stroke-width="2.70"/><line x1="46.8" y1="318.4" x2="44.6" y2="325.3" stroke="#d060d8" stroke-width="2.70"/><line x1="53.4" y1="316.5" x2="49.0" y2="320.9" stroke="#e00000" stroke-width="2.70"/><line x1="49.0" y1="320.9" x2="44.6" y2="325.3" stroke="#d060d8" stroke-width="2.70"/><line x1="100.1" y1="323.8" x2="104.1" y2="324.9" stroke="#e00000" stroke-width="2.70"/><line x1="104.1" y1="324.9" x2="108.1" y2="326.0" stroke="#d060d8" stroke-width="2.70"/><line x1="46.1" y1="272.7" x2="45.7" y2="277.4" stroke="#dddddd" stroke-width="2.70"/><line x1="45.7" y1="277.4" x2="45.3" y2="282.2" stroke="#e00000" stroke-width="2.70"/><line x1="81.8" y1="270.5" x2="78.9" y2="272.4" stroke="#dddddd" stroke-width="2.70"/><line x1="78.9" y1="272.4" x2="76.0" y2="274.2" stroke="#6a6a6a" stroke-width="2.70"/><circle cx="67.2" cy="264.7" r="4.12" fill="url(#gH)"/><circle cx="46.1" cy="272.7" r="4.12" fill="url(#gH)"/><circle cx="81.8" cy="270.5" r="4.12" fill="url(#gH)"/><circle cx="86.9" cy="270.5" r="3.75" fill="url(#gH)"/><circle cx="76.0" cy="274.2" r="3.50" fill="url(#gC)"/><circle cx="45.3" cy="282.2" r="4.50" fill="url(#gO)"/><circle cx="72.3" cy="288.1" r="4.50" fill="url(#gO)"/><circle cx="61.4" cy="295.4" r="4.50" fill="url(#gFe)"/><circle cx="77.4" cy="299.0" r="4.50" fill="url(#gO)"/><circle cx="91.3" cy="303.4" r="4.88" fill="url(#gZn)"/><circle cx="105.2" cy="305.6" r="4.50" fill="url(#gO)"/><circle cx="49.0" cy="311.4" r="4.50" fill="url(#gO)"/><circle cx="53.4" cy="316.5" r="4.50" fill="url(#gO)"/><circle cx="44.6" cy="325.3" r="4.50" fill="url(#gAl)"/><circle cx="100.1" cy="323.8" r="4.50" fill="url(#gO)"/><circle cx="108.1" cy="326.0" r="4.12" fill="url(#gAl)"/></g><rect x="35.6" y="253.1" width="80.9" height="80.7" fill="none" stroke="#555" stroke-width="1"/><text x="38.8" y="264.2" font-size="12.5">IM3</text><rect x="132.3" y="252.9" width="81.1" height="81.2" fill="#fff"/><g clip-path="url(#clipIM4)"><path d="M218.1,285.8L217.4,291.1M225.9,303.6L217.4,291.1M161.4,252.2L143.4,263.0M139.7,258.9L143.4,263.0M122.0,255.3L139.7,258.9M161.4,252.2L168.4,253.9M168.4,253.9L182.1,240.2M158.3,355.7L157.8,335.5M158.3,355.7L137.2,329.5M157.8,335.5L148.6,328.5M148.6,328.5L137.2,329.5M124.1,328.6L129.1,328.4M129.1,328.4L137.2,329.5M135.7,279.3L135.9,291.2M135.7,279.3L126.8,279.5M135.9,291.2L112.4,289.6M126.8,279.5L105.0,286.6M105.0,286.6L112.4,289.6M147.3,269.6L145.2,268.2M147.3,269.6L151.2,287.7M145.2,268.2L135.7,279.3M139.5,298.3L135.9,291.2M139.5,298.3L142.3,298.4M151.2,287.7L142.3,298.4M122.0,255.3L126.8,279.5M145.2,268.2L143.4,263.0M133.0,304.9L139.5,298.3M133.0,304.9L112.4,289.6M124.1,328.6L133.0,304.9M212.5,262.4L206.7,268.0M182.1,240.2L186.0,253.1M186.0,253.1L206.7,268.0M218.1,285.8L205.8,269.8M217.4,291.1L207.3,294.8M197.0,281.1L207.3,294.8M197.0,281.1L196.8,278.1M196.8,278.1L205.8,269.8M205.8,269.8L206.7,268.0M197.0,281.1L189.5,300.7M207.3,294.8L207.5,299.5M189.5,300.7L207.5,299.5M162.2,333.8L164.6,316.7M162.2,333.8L174.3,334.5M174.3,334.5L167.4,317.4M164.6,316.7L167.4,317.4M157.8,335.5L162.2,333.8M186.1,342.8L174.3,334.5M186.1,342.8L188.9,333.1M188.9,333.1L176.5,314.4M176.5,314.4L167.4,317.4M183.8,304.4L176.5,314.4M183.8,304.4L172.4,294.9M172.4,294.9L165.2,298.0M164.6,316.7L161.5,315.2M165.2,298.0L161.5,315.2M148.6,328.5L160.7,315.3M161.5,315.2L160.7,315.3M147.3,269.6L168.1,273.6M151.2,287.7L156.8,289.4M156.8,289.4L169.0,274.7M168.1,273.6L169.0,274.7M156.8,289.4L162.8,297.1M172.4,294.9L174.8,278.4M165.2,298.0L162.8,297.1M169.0,274.7L174.8,278.4M186.0,253.1L182.5,259.3M196.8,278.1L185.0,276.6M182.5,259.3L185.0,276.6M183.8,304.4L187.0,304.2M187.0,304.2L189.5,300.7M174.8,278.4L185.0,276.6M188.9,333.1L199.3,319.1M187.0,304.2L199.8,317.1M199.3,319.1L199.8,317.1M145.6,300.6L157.5,298.6M145.6,300.6L150.7,309.5M157.5,298.6L153.9,311.1M150.7,309.5L153.9,311.1M142.3,298.4L145.6,300.6M162.8,297.1L157.5,298.6M129.1,328.4L150.7,309.5M160.7,315.3L153.9,311.1M168.6,254.4L178.7,260.0M168.6,254.4L168.2,272.6M168.2,272.6L178.7,260.0M168.4,253.9L168.6,254.4M182.5,259.3L178.7,260.0M168.1,273.6L168.2,272.6M219.3,322.7L206.7,313.4M219.3,322.7L225.2,303.9M206.7,313.4L210.9,307.3M225.2,303.9L210.9,307.3M199.8,317.1L206.7,313.4M225.9,303.6L225.2,303.9M207.5,299.5L210.9,307.3" stroke="#ff5a5a" stroke-width="0.55" fill="none"/><path d="M134.9,272.6L120.3,244.5M120.3,244.5L154.3,253.0M157.4,248.6L154.3,253.0M171.0,252.8L176.8,256.1M171.0,252.8L188.0,223.0M176.8,256.1L189.9,241.5M188.0,223.0L189.9,241.5M157.4,248.6L171.0,252.8M217.0,295.2L216.8,297.9M199.5,326.7L210.2,315.3M216.8,297.9L207.4,311.3M207.4,311.3L210.2,315.3M192.6,264.2L194.7,273.4M192.6,264.2L198.0,254.8M194.7,273.4L213.7,265.5M198.0,254.8L212.0,256.0M212.0,256.0L213.6,261.1M213.6,261.1L213.7,265.5M176.8,256.1L178.1,262.6M189.9,241.5L198.0,254.8M178.1,262.6L192.6,264.2M205.2,289.1L200.8,283.0M205.2,289.1L214.3,290.7M200.8,283.0L216.1,272.4M214.3,290.7L223.8,277.9M216.1,272.4L223.8,277.9M217.0,295.2L214.3,290.7M199.5,306.8L207.4,311.3M199.5,306.8L205.2,289.1M213.7,265.5L216.1,272.4M199.5,306.8L195.5,307.0M195.5,307.0L190.3,297.1M200.8,283.0L195.3,280.6M190.3,297.1L195.3,280.6M173.5,269.1L178.1,262.6M173.5,269.1L183.4,281.1M194.7,273.4L194.1,279.4M183.4,281.1L194.1,279.4M194.1,279.4L195.3,280.6M196.4,327.4L185.2,318.6M196.4,327.4L199.5,326.7M195.5,307.0L191.0,309.9M185.2,318.6L191.0,309.9M179.6,293.8L177.6,288.3M179.6,293.8L177.3,301.4M177.3,301.4L173.5,303.8M173.5,303.8L167.8,287.9M167.8,287.9L177.6,288.3M190.3,297.1L179.6,293.8M183.4,281.1L177.6,288.3M191.0,309.9L177.3,301.4M173.5,269.1L161.2,271.5M167.6,287.9L161.2,271.5M167.6,287.9L167.8,287.9M136.3,283.2L155.8,296.8M136.3,283.2L138.0,275.1M155.8,296.8L153.4,268.3M138.0,275.1L153.4,268.3M153.4,268.3L153.4,268.3M134.9,272.6L138.0,275.1M122.2,302.2L136.3,283.2M167.6,287.9L157.0,298.3M157.0,298.3L155.8,296.8M161.2,271.5L153.4,268.3M154.3,253.0L153.4,268.3M167.0,326.8L159.6,316.2M139.1,325.4L145.5,314.3M145.5,314.3L156.6,314.0M156.6,314.0L159.6,316.2M185.2,318.6L167.0,326.8M173.5,303.8L159.6,316.2M122.2,302.2L145.5,314.3M157.0,298.3L156.6,314.0" stroke="#ffbf4a" stroke-width="0.55" fill="none"/><line x1="146.4" y1="293.0" x2="154.6" y2="297.3" stroke="#e00000" stroke-width="2.70"/><line x1="154.6" y1="297.3" x2="162.8" y2="301.6" stroke="#7474b4" stroke-width="2.70"/><line x1="180.6" y1="287.8" x2="176.0" y2="291.1" stroke="#6a6a6a" stroke-width="2.70"/><line x1="176.0" y1="291.1" x2="171.4" y2="294.3" stroke="#e00000" stroke-width="2.70"/><line x1="171.4" y1="294.3" x2="167.1" y2="298.0" stroke="#e00000" stroke-width="2.70"/><line x1="167.1" y1="298.0" x2="162.8" y2="301.6" stroke="#7474b4" stroke-width="2.70"/><line x1="171.4" y1="294.3" x2="181.2" y2="300.6" stroke="#e00000" stroke-width="2.70"/><line x1="181.2" y1="300.6" x2="191.1" y2="306.8" stroke="#58d0d6" stroke-width="2.70"/><line x1="162.8" y1="301.6" x2="170.1" y2="303.2" stroke="#7474b4" stroke-width="2.70"/><line x1="170.1" y1="303.2" x2="177.3" y2="304.8" stroke="#e00000" stroke-width="2.70"/><line x1="162.8" y1="301.6" x2="157.9" y2="306.9" stroke="#7474b4" stroke-width="2.70"/><line x1="157.9" y1="306.9" x2="153.0" y2="312.1" stroke="#e00000" stroke-width="2.70"/><line x1="162.8" y1="301.6" x2="160.2" y2="311.1" stroke="#7474b4" stroke-width="2.70"/><line x1="160.2" y1="311.1" x2="157.6" y2="320.6" stroke="#e00000" stroke-width="2.70"/><line x1="177.3" y1="304.8" x2="184.2" y2="305.8" stroke="#e00000" stroke-width="2.70"/><line x1="184.2" y1="305.8" x2="191.1" y2="306.8" stroke="#58d0d6" stroke-width="2.70"/><line x1="191.1" y1="306.8" x2="197.0" y2="309.8" stroke="#58d0d6" stroke-width="2.70"/><line x1="197.0" y1="309.8" x2="202.9" y2="312.7" stroke="#e00000" stroke-width="2.70"/><line x1="191.1" y1="306.8" x2="195.3" y2="315.4" stroke="#58d0d6" stroke-width="2.70"/><line x1="195.3" y1="315.4" x2="199.6" y2="323.9" stroke="#e00000" stroke-width="2.70"/><line x1="202.9" y1="312.7" x2="204.6" y2="320.6" stroke="#e00000" stroke-width="2.70"/><line x1="204.6" y1="320.6" x2="206.2" y2="328.5" stroke="#d060d8" stroke-width="2.70"/><line x1="153.0" y1="312.1" x2="151.7" y2="319.6" stroke="#e00000" stroke-width="2.70"/><line x1="151.7" y1="319.6" x2="150.3" y2="327.2" stroke="#d060d8" stroke-width="2.70"/><line x1="157.6" y1="320.6" x2="153.9" y2="323.9" stroke="#e00000" stroke-width="2.70"/><line x1="153.9" y1="323.9" x2="150.3" y2="327.2" stroke="#d060d8" stroke-width="2.70"/><line x1="199.6" y1="323.9" x2="202.9" y2="326.2" stroke="#e00000" stroke-width="2.70"/><line x1="202.9" y1="326.2" x2="206.2" y2="328.5" stroke="#d060d8" stroke-width="2.70"/><line x1="137.9" y1="293.0" x2="142.2" y2="293.0" stroke="#dddddd" stroke-width="2.70"/><line x1="142.2" y1="293.0" x2="146.4" y2="293.0" stroke="#e00000" stroke-width="2.70"/><line x1="141.8" y1="288.4" x2="144.1" y2="290.7" stroke="#dddddd" stroke-width="2.70"/><line x1="144.1" y1="290.7" x2="146.4" y2="293.0" stroke="#e00000" stroke-width="2.70"/><line x1="181.9" y1="281.2" x2="181.2" y2="284.5" stroke="#dddddd" stroke-width="2.70"/><line x1="181.2" y1="284.5" x2="180.6" y2="287.8" stroke="#6a6a6a" stroke-width="2.70"/><line x1="186.5" y1="283.8" x2="183.6" y2="285.8" stroke="#dddddd" stroke-width="2.70"/><line x1="183.6" y1="285.8" x2="180.6" y2="287.8" stroke="#6a6a6a" stroke-width="2.70"/><circle cx="137.9" cy="293.0" r="4.12" fill="url(#gH)"/><circle cx="141.8" cy="288.4" r="3.62" fill="url(#gH)"/><circle cx="181.9" cy="281.2" r="4.12" fill="url(#gH)"/><circle cx="186.5" cy="283.8" r="3.62" fill="url(#gH)"/><circle cx="146.4" cy="293.0" r="4.62" fill="url(#gO)"/><circle cx="180.6" cy="287.8" r="3.62" fill="url(#gC)"/><circle cx="171.4" cy="294.3" r="4.62" fill="url(#gO)"/><circle cx="162.8" cy="301.6" r="4.62" fill="url(#gFe)"/><circle cx="177.3" cy="304.8" r="4.62" fill="url(#gO)"/><circle cx="191.1" cy="306.8" r="4.88" fill="url(#gZn)"/><circle cx="202.9" cy="312.7" r="4.62" fill="url(#gO)"/><circle cx="153.0" cy="312.1" r="4.62" fill="url(#gO)"/><circle cx="157.6" cy="320.6" r="4.62" fill="url(#gO)"/><circle cx="150.3" cy="327.2" r="4.62" fill="url(#gAl)"/><circle cx="199.6" cy="323.9" r="4.62" fill="url(#gO)"/><circle cx="206.2" cy="328.5" r="4.12" fill="url(#gAl)"/></g><rect x="132.3" y="252.9" width="81.1" height="81.2" fill="none" stroke="#555" stroke-width="1"/><text x="134.6" y="264.8" font-size="12.5">IM4</text><rect x="225.3" y="252.7" width="81.4" height="80.9" fill="#fff"/><g clip-path="url(#clipIM5)"><path d="M224.9,246.0L219.5,275.0M251.5,264.7L252.3,262.5M251.5,264.7L249.0,264.7M224.9,246.0L249.0,264.7M283.3,341.4L303.2,319.5M283.3,341.4L279.7,337.2M303.2,319.5L272.7,318.5M279.7,337.2L272.7,318.5M279.7,337.2L263.2,337.3M249.0,264.7L230.4,273.7M219.5,275.0L219.8,275.1M219.8,275.1L230.4,273.7M252.3,262.5L284.7,237.6M263.2,337.3L258.4,330.5M258.4,330.5L238.1,335.8M252.3,288.9L260.8,291.6M252.3,288.9L249.3,293.7M249.3,293.7L262.3,312.5M260.8,291.6L275.1,305.9M275.1,305.9L269.8,314.9M264.3,313.9L262.3,312.5M264.3,313.9L268.2,315.1M269.8,314.9L268.2,315.1M276.1,305.0L268.2,289.4M276.1,305.0L275.1,305.9M268.2,289.4L260.8,291.6M303.8,319.2L291.1,300.0M303.8,319.2L303.2,319.5M291.1,300.0L284.7,298.7M276.1,305.0L284.7,298.7M272.7,318.5L269.8,314.9M243.9,312.8L262.3,312.5M243.9,312.8L241.1,324.3M241.1,324.3L241.0,327.8M241.0,327.8L264.3,313.9M258.4,330.5L268.2,315.1M238.1,335.8L241.0,327.8M317.1,281.5L303.0,283.4M303.0,284.5L303.0,283.4M291.1,300.0L298.8,294.2M298.8,294.2L303.0,284.5M309.6,271.6L317.1,281.5M243.9,312.8L237.8,300.9M249.3,293.7L241.3,297.4M241.3,297.4L237.8,300.9M251.5,264.7L253.9,267.9M253.9,267.9L252.3,288.9M230.4,273.7L236.3,289.1M241.3,297.4L236.3,289.1M219.8,275.1L222.3,286.8M236.3,289.1L222.3,286.8M223.4,297.5L222.3,286.8M319.1,254.4L310.6,249.9M253.9,267.9L259.7,269.4M284.7,237.6L287.6,245.8M259.7,269.4L274.4,265.4M274.4,265.4L287.6,245.8M299.2,252.5L310.6,249.9M299.2,252.5L288.4,247.0M287.6,245.8L288.4,247.0M284.7,298.7L282.2,289.1M268.2,289.4L275.2,282.7M282.2,289.1L275.2,282.7M259.7,269.4L274.7,281.7M275.2,282.7L274.7,281.7M232.4,313.0L199.4,347.9M232.4,313.0L234.8,301.6M199.4,347.9L231.8,301.2M234.8,301.6L231.8,301.2M241.1,324.3L232.4,313.0M237.8,300.9L234.8,301.6M223.4,297.5L231.8,301.2M299.2,252.5L302.5,257.7M319.1,254.4L310.2,261.4M310.2,261.4L302.5,257.7M309.6,271.6L308.8,271.4M310.2,261.4L308.8,271.4M303.0,283.4L300.6,275.6M308.8,271.4L300.6,275.6M281.2,268.5L289.8,261.1M281.2,268.5L282.9,272.5M282.9,272.5L293.4,275.9M289.8,261.1L297.6,274.0M293.4,275.9L297.7,274.2M297.7,274.2L297.6,274.0M274.4,265.4L281.2,268.5M288.4,247.0L289.8,261.1M274.7,281.7L282.9,272.5M282.2,289.1L293.4,275.9M302.5,257.7L297.6,274.0M300.6,275.6L297.7,274.2" stroke="#ff5a5a" stroke-width="0.55" fill="none"/><path d="M279.5,339.7L289.0,324.4M289.0,324.4L292.8,325.2M273.5,295.1L256.8,296.9M273.5,295.1L268.1,277.2M256.8,296.9L246.6,278.6M246.6,278.6L253.0,273.5M268.1,277.2L253.0,273.5M279.5,339.7L277.7,338.4M277.7,338.4L255.5,335.2M306.4,319.7L301.3,325.2M286.5,298.0L286.3,298.8M286.5,298.0L288.3,296.9M284.0,313.2L289.0,324.4M284.0,313.2L284.3,309.6M292.8,325.2L301.3,325.2M288.3,296.9L312.1,307.0M312.1,307.0L306.4,319.7M284.3,309.6L286.3,298.8M286.5,298.0L273.5,295.1M288.3,296.9L290.6,287.5M268.1,277.2L273.5,274.2M290.6,287.5L273.5,274.2M259.4,260.8L277.2,258.3M259.4,260.8L253.0,273.5M273.5,274.2L277.2,258.3M251.2,245.8L251.7,227.2M251.2,245.8L259.4,260.8M281.8,255.5L277.2,258.3M245.4,278.5L230.7,286.5M245.4,278.5L233.4,260.9M233.4,260.9L225.1,257.6M226.8,286.1L230.7,286.5M226.8,286.1L215.3,255.7M215.3,255.7L225.1,257.6M251.2,245.8L233.4,260.9M246.6,278.6L245.4,278.5M251.7,227.2L225.1,257.6M277.7,338.4L270.3,324.1M255.5,335.2L252.8,325.1M252.8,325.1L253.0,324.8M253.0,324.8L270.3,324.1M284.0,313.2L271.8,321.7M271.8,321.7L270.3,324.1M256.8,296.9L253.4,304.8M230.7,286.5L233.2,303.0M253.4,304.8L233.2,303.0M252.8,325.1L239.0,326.9M290.2,267.3L294.3,280.9M290.6,287.5L294.3,280.9M281.8,255.5L290.2,267.3M268.7,310.3L269.5,313.5M268.7,310.3L258.3,311.1M258.3,311.1L268.1,315.3M269.5,313.5L268.1,315.3M284.3,309.6L269.5,313.5M286.3,298.8L268.7,310.3M253.9,310.2L258.3,311.1M253.9,310.2L253.8,309.9M253.4,304.8L253.8,309.9M253.9,310.2L253.0,324.8M271.8,321.7L268.1,315.3M253.8,309.9L232.2,315.0M233.2,303.0L231.1,306.0M231.1,306.0L232.2,315.0M231.1,306.0L214.7,305.7M233.9,321.6L227.6,324.3M233.9,321.6L232.0,316.0M232.0,316.0L226.6,316.5M226.6,316.5L203.6,325.5M227.6,324.3L203.6,325.5M239.0,326.9L233.9,321.6M232.2,315.0L232.0,316.0M214.7,305.7L226.6,316.5" stroke="#ffbf4a" stroke-width="0.55" fill="none"/><line x1="267.0" y1="275.9" x2="262.1" y2="280.9" stroke="#6a6a6a" stroke-width="2.70"/><line x1="262.1" y1="280.9" x2="257.1" y2="285.8" stroke="#e00000" stroke-width="2.70"/><line x1="257.1" y1="285.8" x2="252.9" y2="291.7" stroke="#e00000" stroke-width="2.70"/><line x1="252.9" y1="291.7" x2="248.6" y2="297.6" stroke="#7474b4" stroke-width="2.70"/><line x1="248.6" y1="297.6" x2="256.8" y2="297.6" stroke="#7474b4" stroke-width="2.70"/><line x1="256.8" y1="297.6" x2="265.0" y2="297.6" stroke="#e00000" stroke-width="2.70"/><line x1="248.6" y1="297.6" x2="241.7" y2="302.9" stroke="#7474b4" stroke-width="2.70"/><line x1="241.7" y1="302.9" x2="234.8" y2="308.1" stroke="#e00000" stroke-width="2.70"/><line x1="248.6" y1="297.6" x2="243.6" y2="306.8" stroke="#7474b4" stroke-width="2.70"/><line x1="243.6" y1="306.8" x2="238.7" y2="316.0" stroke="#e00000" stroke-width="2.70"/><line x1="265.0" y1="297.6" x2="273.6" y2="298.9" stroke="#e00000" stroke-width="2.70"/><line x1="273.6" y1="298.9" x2="282.1" y2="300.2" stroke="#58d0d6" stroke-width="2.70"/><line x1="282.1" y1="300.2" x2="288.6" y2="303.2" stroke="#58d0d6" stroke-width="2.70"/><line x1="288.6" y1="303.2" x2="295.2" y2="306.2" stroke="#e00000" stroke-width="2.70"/><line x1="282.1" y1="300.2" x2="286.4" y2="311.0" stroke="#58d0d6" stroke-width="2.70"/><line x1="286.4" y1="311.0" x2="290.6" y2="321.9" stroke="#e00000" stroke-width="2.70"/><line x1="234.8" y1="308.1" x2="232.9" y2="317.3" stroke="#e00000" stroke-width="2.70"/><line x1="232.9" y1="317.3" x2="230.9" y2="326.5" stroke="#d060d8" stroke-width="2.70"/><line x1="238.7" y1="316.0" x2="234.8" y2="321.2" stroke="#e00000" stroke-width="2.70"/><line x1="234.8" y1="321.2" x2="230.9" y2="326.5" stroke="#d060d8" stroke-width="2.70"/><line x1="290.6" y1="321.9" x2="293.9" y2="324.5" stroke="#e00000" stroke-width="2.70"/><line x1="293.9" y1="324.5" x2="297.2" y2="327.2" stroke="#d060d8" stroke-width="2.70"/><line x1="267.6" y1="269.4" x2="267.3" y2="272.6" stroke="#dddddd" stroke-width="2.70"/><line x1="267.3" y1="272.6" x2="267.0" y2="275.9" stroke="#6a6a6a" stroke-width="2.70"/><circle cx="267.6" cy="269.4" r="4.62" fill="url(#gH)"/><circle cx="274.2" cy="268.1" r="4.62" fill="url(#gH)"/><circle cx="267.0" cy="275.9" r="4.12" fill="url(#gC)"/><circle cx="257.1" cy="285.8" r="4.88" fill="url(#gO)"/><circle cx="248.6" cy="297.6" r="4.62" fill="url(#gFe)"/><circle cx="265.0" cy="297.6" r="4.88" fill="url(#gO)"/><circle cx="282.1" cy="300.2" r="4.88" fill="url(#gZn)"/><circle cx="295.2" cy="306.2" r="4.62" fill="url(#gO)"/><circle cx="234.8" cy="308.1" r="4.88" fill="url(#gO)"/><circle cx="238.7" cy="316.0" r="4.62" fill="url(#gO)"/><circle cx="230.9" cy="326.5" r="4.62" fill="url(#gAl)"/><circle cx="290.6" cy="321.9" r="4.88" fill="url(#gO)"/><circle cx="297.2" cy="327.2" r="4.12" fill="url(#gAl)"/></g><rect x="225.3" y="252.7" width="81.4" height="80.9" fill="none" stroke="#555" stroke-width="1"/><text x="230.2" y="265.4" font-size="12.5">IM5</text><rect x="321.1" y="253.2" width="81.4" height="80.9" fill="#fff"/><g clip-path="url(#clipIM6)"><path d="M346.4,257.1L346.3,257.3M346.3,257.3L332.1,255.4M363.1,228.6L346.4,257.1M332.1,255.4L327.3,261.7M327.3,261.7L316.3,266.9M317.7,291.7L317.2,292.1M317.7,291.7L318.6,274.6M316.3,266.9L318.6,274.6M410.9,327.2L389.2,303.8M408.9,290.6L390.4,299.8M389.2,303.8L390.4,299.8M408.9,290.6L398.5,278.9M398.5,278.9L400.3,273.0M405.9,267.0L400.3,273.0M344.5,295.3L317.7,291.7M344.5,295.3L345.6,292.4M318.6,274.6L343.3,285.3M345.6,292.4L343.3,285.3M327.3,261.7L343.0,281.8M343.3,285.3L343.0,281.8M346.3,257.3L350.8,261.2M343.0,281.8L350.8,261.2M363.1,228.6L368.7,258.3M368.7,258.3L356.6,261.4M350.8,261.2L356.6,261.4M383.9,323.1L382.7,331.7M383.9,323.1L401.5,329.8M382.7,331.7L396.0,332.9M401.5,329.8L396.0,332.9M377.2,354.8L373.1,335.1M377.2,354.8L396.0,332.9M373.1,335.1L382.7,331.7M410.9,327.2L401.5,329.8M325.6,318.5L327.6,321.8M325.6,318.5L321.3,318.1M321.3,318.1L319.3,318.6M318.9,320.4L319.3,318.6M317.2,292.1L321.3,318.1M348.4,334.9L327.6,321.8M373.1,335.1L370.5,331.4M348.4,334.9L351.5,331.2M351.5,331.2L370.5,331.4M398.5,278.9L388.6,281.1M388.6,281.1L385.4,289.2M390.4,299.8L385.5,289.4M385.4,289.2L385.5,289.4M389.2,303.8L380.4,308.3M380.4,308.3L371.7,300.2M371.7,300.2L369.9,293.1M385.5,289.4L369.9,293.1M388.6,281.1L385.1,270.2M400.3,273.0L387.5,269.5M385.1,270.2L387.5,269.5M405.9,267.0L400.1,259.9M387.5,269.5L400.1,259.9M398.1,239.0L399.4,257.2M400.1,259.9L399.4,257.2M352.4,314.5L374.7,315.9M352.4,314.5L344.6,301.0M358.5,301.2L376.5,313.4M358.5,301.2L344.9,298.5M374.7,315.9L375.6,315.1M344.9,298.5L344.6,301.0M375.6,315.1L376.5,313.4M351.5,331.2L352.4,314.5M370.5,331.4L374.7,315.9M325.6,318.5L344.6,301.0M380.4,308.3L376.5,313.4M371.7,300.2L358.5,301.2M383.9,323.1L375.6,315.1M344.5,295.3L344.9,298.5M385.4,289.2L378.9,285.1M369.9,293.1L366.8,290.3M378.9,285.1L366.8,290.3M345.6,292.4L359.0,286.0M366.8,290.3L359.0,286.0M356.6,261.4L360.0,284.7M359.0,286.0L360.0,284.7M378.1,264.0L381.5,268.0M378.1,264.0L373.9,260.4M378.6,274.3L370.4,280.6M378.6,274.3L381.5,268.0M372.0,260.2L366.2,279.9M372.0,260.2L373.9,260.4M366.2,279.9L370.4,280.6M385.1,270.2L381.5,268.0M399.4,257.2L378.1,264.0M398.1,239.0L373.9,260.4M377.3,283.5L370.4,280.6M377.3,283.5L378.6,274.3M378.9,285.1L377.3,283.5M368.7,258.3L372.0,260.2M360.0,284.7L366.2,279.9" stroke="#ff5a5a" stroke-width="0.55" fill="none"/><path d="M304.3,264.6L333.7,234.6M308.5,298.5L330.8,279.4M304.3,264.6L323.2,270.8M330.8,279.4L323.2,270.8M308.5,298.5L330.1,305.4M330.1,305.4L323.7,316.8M322.5,317.6L323.7,316.8M322.5,317.6L318.8,326.1M360.5,325.8L372.3,328.1M360.5,325.8L354.1,333.8M333.7,234.6L333.4,254.0M323.2,270.8L327.6,265.3M327.6,265.3L332.5,257.1M333.4,254.0L332.5,257.1M330.8,279.4L331.9,280.1M330.1,305.4L331.3,304.7M331.3,304.7L337.3,285.8M337.3,285.8L336.8,284.5M331.9,280.1L336.8,284.5M386.5,271.7L387.8,273.9M386.5,271.7L410.5,255.6M382.9,268.5L383.2,268.8M383.2,268.8L386.5,271.7M354.8,313.3L356.5,310.3M354.8,313.3L344.8,313.9M344.8,313.9L331.3,304.7M337.3,285.8L351.3,292.1M356.5,310.3L351.3,292.1M382.9,268.5L367.9,270.5M367.9,270.5L354.6,291.0M383.2,268.8L362.0,292.1M362.0,292.1L354.6,291.0M367.9,270.5L357.2,268.9M336.8,284.5L357.2,268.9M354.6,291.0L351.3,292.1M387.8,273.9L386.0,282.2M405.5,317.8L386.0,282.2M375.3,322.4L393.1,314.2M375.3,322.4L372.3,328.1M405.5,317.8L393.1,314.2M352.8,334.5L338.2,328.8M338.2,328.8L338.0,328.9M338.0,328.9L326.4,344.6M354.1,333.8L352.8,334.5M354.8,313.3L360.5,325.8M344.8,313.9L338.2,328.8M323.7,316.8L338.0,328.9M318.8,326.1L326.4,344.6M342.1,259.0L344.0,254.8M342.1,259.0L343.2,261.7M343.2,261.7L345.0,263.0M345.0,263.0L352.6,262.8M352.6,262.8L351.0,250.7M351.0,250.7L344.0,254.8M333.4,254.0L344.0,254.8M332.5,257.1L342.1,259.0M327.6,265.3L343.2,261.7M331.9,280.1L345.0,263.0M357.2,268.9L352.6,262.8M393.1,314.2L381.0,303.4M386.0,282.2L381.7,291.4M381.7,291.4L381.0,303.4M362.0,292.1L366.6,296.1M381.7,291.4L367.5,295.9M366.6,296.1L367.5,295.9M358.3,309.5L365.3,300.7M358.3,309.5L373.6,309.9M365.3,300.7L372.6,303.6M373.6,309.9L377.0,306.1M377.0,306.1L372.6,303.6M356.5,310.3L358.3,309.5M366.6,296.1L365.3,300.7M375.3,322.4L373.6,309.9M367.5,295.9L372.6,303.6M381.0,303.4L377.0,306.1" stroke="#ffbf4a" stroke-width="0.55" fill="none"/><line x1="387.6" y1="272.6" x2="389.6" y2="278.6" stroke="#6a6a6a" stroke-width="2.70"/><line x1="389.6" y1="278.6" x2="391.5" y2="284.5" stroke="#e00000" stroke-width="2.70"/><line x1="391.5" y1="284.5" x2="384.6" y2="293.1" stroke="#e00000" stroke-width="2.70"/><line x1="384.6" y1="293.1" x2="377.8" y2="301.6" stroke="#58d0d6" stroke-width="2.70"/><line x1="361.3" y1="290.4" x2="353.5" y2="296.0" stroke="#e00000" stroke-width="2.70"/><line x1="353.5" y1="296.0" x2="345.6" y2="301.6" stroke="#7474b4" stroke-width="2.70"/><line x1="361.3" y1="290.4" x2="369.6" y2="296.0" stroke="#e00000" stroke-width="2.70"/><line x1="369.6" y1="296.0" x2="377.8" y2="301.6" stroke="#58d0d6" stroke-width="2.70"/><line x1="345.6" y1="301.6" x2="337.7" y2="305.5" stroke="#7474b4" stroke-width="2.70"/><line x1="337.7" y1="305.5" x2="329.8" y2="309.4" stroke="#e00000" stroke-width="2.70"/><line x1="345.6" y1="301.6" x2="341.3" y2="308.8" stroke="#7474b4" stroke-width="2.70"/><line x1="341.3" y1="308.8" x2="337.0" y2="316.0" stroke="#e00000" stroke-width="2.70"/><line x1="377.8" y1="301.6" x2="385.0" y2="304.2" stroke="#58d0d6" stroke-width="2.70"/><line x1="385.0" y1="304.2" x2="392.2" y2="306.8" stroke="#e00000" stroke-width="2.70"/><line x1="377.8" y1="301.6" x2="379.8" y2="312.4" stroke="#58d0d6" stroke-width="2.70"/><line x1="379.8" y1="312.4" x2="381.7" y2="323.2" stroke="#e00000" stroke-width="2.70"/><line x1="329.8" y1="309.4" x2="327.9" y2="317.9" stroke="#e00000" stroke-width="2.70"/><line x1="327.9" y1="317.9" x2="325.9" y2="326.5" stroke="#d060d8" stroke-width="2.70"/><line x1="337.0" y1="316.0" x2="331.4" y2="321.2" stroke="#e00000" stroke-width="2.70"/><line x1="331.4" y1="321.2" x2="325.9" y2="326.5" stroke="#d060d8" stroke-width="2.70"/><line x1="381.7" y1="323.2" x2="386.6" y2="325.5" stroke="#e00000" stroke-width="2.70"/><line x1="386.6" y1="325.5" x2="391.5" y2="327.8" stroke="#d060d8" stroke-width="2.70"/><circle cx="376.4" cy="270.0" r="4.62" fill="url(#gH)"/><circle cx="394.8" cy="262.1" r="4.12" fill="url(#gH)"/><circle cx="387.6" cy="272.6" r="4.62" fill="url(#gC)"/><circle cx="391.5" cy="284.5" r="4.88" fill="url(#gO)"/><circle cx="361.3" cy="290.4" r="4.88" fill="url(#gO)"/><circle cx="345.6" cy="301.6" r="4.62" fill="url(#gFe)"/><circle cx="377.8" cy="301.6" r="4.88" fill="url(#gZn)"/><circle cx="392.2" cy="306.8" r="4.88" fill="url(#gO)"/><circle cx="329.8" cy="309.4" r="4.88" fill="url(#gO)"/><circle cx="337.0" cy="316.0" r="4.62" fill="url(#gO)"/><circle cx="325.9" cy="326.5" r="4.62" fill="url(#gAl)"/><circle cx="381.7" cy="323.2" r="4.88" fill="url(#gO)"/><circle cx="391.5" cy="327.8" r="4.62" fill="url(#gAl)"/></g><rect x="321.1" y="253.2" width="81.4" height="80.9" fill="none" stroke="#555" stroke-width="1"/><text x="325.2" y="264.8" font-size="12.5">IM6</text><rect x="412.6" y="252.9" width="81.1" height="81.5" fill="#fff"/><g clip-path="url(#clipIM7)"><path d="M434.4,240.9L398.7,251.8M398.7,251.8L415.3,263.3M415.3,263.3L405.2,273.7M415.3,263.3L425.4,268.1M400.2,286.2L405.2,273.7M400.2,286.2L420.4,275.7M420.4,275.7L425.4,268.1M434.4,240.9L434.4,264.0M434.4,264.0L427.1,267.8M427.1,267.8L425.4,268.1M434.4,264.0L448.2,267.8M460.1,262.3L448.2,267.8M460.1,262.3L469.8,236.1M400.2,286.2L383.7,298.7M420.4,275.7L417.6,298.3M417.6,298.3L383.7,298.7M407.1,312.9L413.3,321.3M413.3,321.3L406.2,323.3M406.2,323.3L402.0,339.7M460.1,262.3L463.6,264.6M469.8,236.1L491.3,261.9M463.6,264.6L486.3,265.5M486.3,265.5L491.3,261.9M496.4,241.9L493.7,262.0M491.3,261.9L493.7,262.0M450.7,279.1L448.2,267.8M450.7,279.1L470.4,289.2M463.6,264.6L472.6,279.2M472.6,279.2L470.4,289.2M483.0,335.1L461.2,331.3M461.2,331.3L452.9,349.4M461.2,331.3L457.6,327.4M457.6,327.4L453.2,327.5M452.9,349.4L444.0,332.7M453.2,327.5L444.0,332.7M430.2,337.4L442.4,332.5M444.0,332.7L442.4,332.5M417.6,298.3L427.0,304.3M407.1,312.9L424.3,311.1M427.0,304.3L424.3,311.1M483.9,272.2L488.4,277.8M483.9,272.2L480.5,276.7M480.5,276.7L487.6,286.7M488.4,277.8L487.6,286.7M486.3,265.5L483.9,272.2M472.6,279.2L480.5,276.7M481.8,295.0L490.5,293.5M481.8,295.0L479.9,307.7M492.1,310.0L491.4,293.7M492.1,310.0L482.4,318.6M491.4,293.7L490.5,293.5M482.4,318.6L479.9,307.7M470.4,289.2L471.5,293.0M471.5,293.0L481.8,295.0M487.6,286.7L490.5,293.5M483.0,335.1L481.0,321.5M481.0,321.5L482.4,318.6M461.3,309.9L442.6,309.1M461.3,309.9L461.8,309.5M461.8,309.5L463.5,305.0M448.1,290.3L436.1,300.5M448.1,290.3L464.4,300.8M464.4,300.8L463.5,305.0M442.6,309.1L435.5,302.0M436.1,300.5L435.5,302.0M457.6,327.4L461.3,309.9M481.0,321.5L461.8,309.5M479.9,307.7L463.5,305.0M450.7,279.1L448.1,290.3M427.1,267.8L436.1,300.5M471.5,293.0L464.4,300.8M427.0,304.3L435.5,302.0M453.2,327.5L443.0,315.9M442.4,332.5L440.3,323.0M443.0,315.9L440.3,323.0M442.6,309.1L442.6,313.2M443.0,315.9L442.6,313.2M435.7,323.6L434.8,319.9M435.7,323.6L425.2,330.0M434.8,319.9L422.6,320.9M425.2,330.0L422.4,327.4M422.4,327.4L421.7,323.8M421.7,323.8L422.6,320.9M442.6,313.2L434.8,319.9M440.3,323.0L435.7,323.6M430.2,337.4L425.2,330.0M424.3,311.1L422.6,320.9M402.0,339.7L422.4,327.4M413.3,321.3L421.7,323.8" stroke="#ff5a5a" stroke-width="0.55" fill="none"/><path d="M501.9,327.9L491.1,329.3M491.1,329.3L476.3,354.9M414.8,343.1L412.0,320.6M412.0,320.6L396.8,305.6M390.6,302.3L396.8,305.6M417.3,256.2L415.0,285.4M390.6,302.3L415.0,285.4M475.2,348.4L475.5,338.7M475.2,348.4L465.6,337.6M465.6,337.6L475.5,338.7M491.1,329.3L477.6,327.6M476.3,354.9L475.2,348.4M477.6,327.6L475.5,338.7M510.2,268.5L495.8,290.3M495.0,299.9L495.8,290.3M485.7,264.2L479.5,269.0M479.5,269.0L456.1,262.5M417.3,256.2L439.1,268.2M510.2,268.5L485.7,264.2M449.5,349.6L426.3,336.9M426.1,337.6L426.3,336.9M414.8,343.1L426.1,337.6M412.0,320.6L424.2,328.2M426.3,336.9L426.5,332.9M424.2,328.2L426.5,332.9M449.5,349.6L450.5,337.1M426.5,332.9L450.5,337.1M465.6,337.6L453.7,329.1M453.7,329.1L450.5,337.1M396.8,305.6L424.3,307.6M415.0,285.4L431.0,281.0M431.0,281.0L435.6,296.2M435.6,296.2L424.3,307.6M501.9,327.9L481.9,306.4M495.0,299.9L483.8,302.9M481.9,306.4L483.8,302.9M462.9,317.2L477.6,327.6M462.9,317.2L463.0,317.1M481.9,306.4L463.0,317.1M435.9,322.8L454.8,324.2M435.9,322.8L430.2,308.7M438.5,307.4L430.2,308.7M438.5,307.4L456.4,321.7M456.4,321.7L454.8,324.2M424.2,328.2L435.9,322.8M453.7,329.1L454.8,324.2M424.3,307.6L430.2,308.7M439.2,300.9L439.3,304.9M439.2,300.9L435.6,296.2M439.3,304.9L438.5,307.4M462.9,317.2L456.4,321.7M495.8,290.3L482.8,288.2M483.8,302.9L483.3,301.6M482.8,288.2L483.3,301.6M448.7,287.9L455.3,291.9M448.7,287.9L438.3,277.2M455.3,291.9L459.1,276.6M438.3,277.2L440.6,271.0M459.1,276.6L449.4,267.4M449.4,267.4L440.6,271.0M431.0,281.0L438.3,277.2M439.2,300.9L448.7,287.9M439.1,268.2L440.6,271.0M456.1,262.5L449.4,267.4M477.3,274.4L478.4,281.9M477.3,274.4L470.4,278.1M478.4,281.9L473.0,291.1M470.4,278.1L455.8,292.3M473.0,291.1L468.6,294.8M468.6,294.8L459.8,298.9M459.8,298.9L457.1,295.2M457.1,295.2L455.8,292.3M479.5,269.0L477.3,274.4M482.8,288.2L478.4,281.9M459.1,276.6L470.4,278.1M483.3,301.6L482.9,301.3M482.9,301.3L473.0,291.1M455.3,291.9L455.8,292.3M482.9,301.3L468.6,294.8M463.0,317.1L459.8,298.9M439.3,304.9L457.1,295.2" stroke="#ffbf4a" stroke-width="0.55" fill="none"/><line x1="479.6" y1="274.6" x2="480.9" y2="281.2" stroke="#6a6a6a" stroke-width="2.70"/><line x1="480.9" y1="281.2" x2="482.2" y2="287.8" stroke="#e00000" stroke-width="2.70"/><line x1="482.2" y1="287.8" x2="476.0" y2="296.0" stroke="#e00000" stroke-width="2.70"/><line x1="476.0" y1="296.0" x2="469.8" y2="304.2" stroke="#58d0d6" stroke-width="2.70"/><line x1="428.4" y1="285.1" x2="433.3" y2="292.0" stroke="#e00000" stroke-width="2.70"/><line x1="433.3" y1="292.0" x2="438.2" y2="298.9" stroke="#7474b4" stroke-width="2.70"/><line x1="452.7" y1="292.4" x2="445.4" y2="295.6" stroke="#e00000" stroke-width="2.70"/><line x1="445.4" y1="295.6" x2="438.2" y2="298.9" stroke="#7474b4" stroke-width="2.70"/><line x1="452.7" y1="292.4" x2="461.2" y2="298.3" stroke="#e00000" stroke-width="2.70"/><line x1="461.2" y1="298.3" x2="469.8" y2="304.2" stroke="#58d0d6" stroke-width="2.70"/><line x1="438.2" y1="298.9" x2="444.4" y2="301.5" stroke="#7474b4" stroke-width="2.70"/><line x1="444.4" y1="301.5" x2="450.7" y2="304.2" stroke="#e00000" stroke-width="2.70"/><line x1="438.2" y1="298.9" x2="430.0" y2="306.1" stroke="#7474b4" stroke-width="2.70"/><line x1="430.0" y1="306.1" x2="421.8" y2="313.4" stroke="#e00000" stroke-width="2.70"/><line x1="438.2" y1="298.9" x2="434.2" y2="306.4" stroke="#7474b4" stroke-width="2.70"/><line x1="434.2" y1="306.4" x2="430.3" y2="314.0" stroke="#e00000" stroke-width="2.70"/><line x1="450.7" y1="304.2" x2="460.2" y2="304.2" stroke="#e00000" stroke-width="2.70"/><line x1="460.2" y1="304.2" x2="469.8" y2="304.2" stroke="#58d0d6" stroke-width="2.70"/><line x1="469.8" y1="304.2" x2="476.6" y2="305.5" stroke="#58d0d6" stroke-width="2.70"/><line x1="476.6" y1="305.5" x2="483.5" y2="306.8" stroke="#e00000" stroke-width="2.70"/><line x1="469.8" y1="304.2" x2="472.4" y2="315.4" stroke="#58d0d6" stroke-width="2.70"/><line x1="472.4" y1="315.4" x2="475.0" y2="326.5" stroke="#e00000" stroke-width="2.70"/><line x1="421.8" y1="313.4" x2="420.1" y2="320.3" stroke="#e00000" stroke-width="2.70"/><line x1="420.1" y1="320.3" x2="418.5" y2="327.2" stroke="#d060d8" stroke-width="2.70"/><line x1="430.3" y1="314.0" x2="424.4" y2="320.6" stroke="#e00000" stroke-width="2.70"/><line x1="424.4" y1="320.6" x2="418.5" y2="327.2" stroke="#d060d8" stroke-width="2.70"/><line x1="475.0" y1="326.5" x2="479.2" y2="327.1" stroke="#e00000" stroke-width="2.70"/><line x1="479.2" y1="327.1" x2="483.5" y2="327.8" stroke="#d060d8" stroke-width="2.70"/><circle cx="469.1" cy="268.7" r="4.62" fill="url(#gH)"/><circle cx="487.5" cy="268.1" r="4.62" fill="url(#gH)"/><circle cx="479.6" cy="274.6" r="4.62" fill="url(#gC)"/><circle cx="482.2" cy="287.8" r="4.88" fill="url(#gO)"/><circle cx="428.4" cy="285.1" r="4.88" fill="url(#gO)"/><circle cx="452.7" cy="292.4" r="4.88" fill="url(#gO)"/><circle cx="438.2" cy="298.9" r="4.62" fill="url(#gFe)"/><circle cx="450.7" cy="304.2" r="4.88" fill="url(#gO)"/><circle cx="469.8" cy="304.2" r="4.88" fill="url(#gZn)"/><circle cx="483.5" cy="306.8" r="4.88" fill="url(#gO)"/><circle cx="421.8" cy="313.4" r="4.88" fill="url(#gO)"/><circle cx="430.3" cy="314.0" r="4.62" fill="url(#gO)"/><circle cx="418.5" cy="327.2" r="4.62" fill="url(#gAl)"/><circle cx="475.0" cy="326.5" r="4.88" fill="url(#gO)"/><circle cx="483.5" cy="327.8" r="4.62" fill="url(#gAl)"/></g><rect x="412.6" y="252.9" width="81.1" height="81.5" fill="none" stroke="#555" stroke-width="1"/><text x="415.2" y="265" font-size="12.5">IM7</text><rect x="506.3" y="253.2" width="81.4" height="81.5" fill="#fff"/><g clip-path="url(#clipIM8)"><path d="M596.1,322.4L587.6,307.2M587.6,307.2L587.0,299.0M595.6,295.7L587.0,299.0M583.9,329.1L596.1,322.4M583.9,329.1L562.2,322.9M559.5,317.9L561.8,322.2M559.5,317.9L573.6,309.3M562.2,322.9L561.8,322.2M573.6,309.3L587.6,307.2M582.6,296.4L587.0,299.0M582.6,296.4L573.6,309.3M504.4,280.5L508.9,278.5M498.5,258.5L510.9,275.1M510.9,275.1L508.9,278.5M498.5,258.5L501.7,254.6M562.2,322.9L553.4,357.9M561.8,322.2L539.1,336.3M539.1,336.3L553.4,357.9M559.5,317.9L558.7,317.0M558.7,317.0L557.5,316.8M557.5,316.8L532.8,321.6M539.1,336.3L535.4,334.0M532.8,321.6L535.4,334.0M582.6,296.4L579.9,293.0M595.6,295.7L593.6,286.1M579.9,293.0L581.1,283.7M581.1,283.7L593.6,286.1M593.6,286.1L600.0,279.3M581.1,283.7L578.4,276.6M600.0,279.3L584.4,274.0M584.4,274.0L578.4,276.6M584.4,274.0L595.2,261.5M558.7,317.0L561.2,304.2M579.9,293.0L575.2,294.3M561.2,304.2L575.2,294.3M510.9,275.1L518.3,271.8M501.7,254.6L521.9,237.4M521.9,237.4L523.5,241.6M523.5,241.6L518.3,271.8M552.5,249.2L566.7,243.5M549.5,265.6L549.2,265.7M549.5,265.6L552.5,249.2M549.2,265.7L523.5,241.6M504.4,280.5L498.1,302.2M498.1,302.2L480.2,314.3M516.7,294.2L508.9,278.5M516.7,294.2L516.5,297.8M498.1,302.2L515.0,300.1M516.5,297.8L515.0,300.1M568.2,248.6L584.6,249.2M568.2,248.6L562.5,268.4M562.5,268.4L564.6,269.8M584.6,249.2L585.4,254.0M585.4,254.0L566.0,269.9M564.6,269.8L566.0,269.9M566.7,243.5L568.2,248.6M549.5,265.6L562.5,268.4M595.2,261.5L585.4,254.0M578.4,276.6L566.0,269.9M564.0,273.7L556.9,292.5M564.0,273.7L568.2,288.4M568.2,288.4L560.5,301.3M556.9,292.5L560.5,301.3M575.2,294.3L568.2,288.4M564.6,269.8L564.0,273.7M561.2,304.2L560.5,301.3M536.4,277.9L545.0,270.0M536.4,277.9L536.3,283.7M545.0,270.0L554.1,291.7M536.3,283.7L538.6,289.7M538.6,289.7L554.1,291.7M549.2,265.7L545.0,270.0M518.3,271.8L536.4,277.9M516.7,294.2L536.3,283.7M556.9,292.5L554.1,291.7M538.0,297.2L532.6,301.2M538.0,297.2L538.6,289.7M516.5,297.8L532.6,301.2M538.0,297.2L557.5,316.8M516.6,313.5L520.1,318.9M516.6,313.5L516.3,305.1M516.3,305.1L530.7,307.7M520.1,318.9L524.3,322.0M524.3,322.0L530.6,320.9M530.6,320.9L530.7,307.7M480.2,314.3L516.6,313.5M515.0,300.1L516.3,305.1M532.6,301.2L530.7,307.7M532.8,321.6L530.6,320.9" stroke="#ff5a5a" stroke-width="0.55" fill="none"/><path d="M541.5,333.0L522.3,328.5M541.5,333.0L509.7,350.4M522.3,328.5L514.4,332.3M509.7,350.4L514.4,332.3M554.3,352.2L543.0,333.1M543.0,333.1L541.5,333.0M482.9,300.5L514.4,332.3M508.7,253.8L506.3,261.4M482.9,300.5L504.3,297.3M504.3,297.3L512.8,270.1M506.3,261.4L512.8,270.1M511.7,297.1L504.3,297.3M511.7,297.1L526.6,281.5M526.6,281.5L521.9,272.0M512.8,270.1L521.9,272.0M589.5,281.7L592.7,280.0M589.5,281.7L590.6,296.2M601.5,279.4L592.7,280.0M601.5,279.4L582.7,268.2M599.1,263.5L582.7,268.2M599.1,263.5L580.4,243.7M592.7,280.0L580.5,268.3M582.7,268.2L580.5,268.3M538.6,252.3L537.0,260.2M538.6,252.3L513.3,235.5M537.0,260.2L523.1,260.5M523.1,260.5L511.3,250.7M513.3,235.5L511.3,250.7M541.4,278.1L543.0,271.0M541.4,278.1L526.6,281.5M543.0,271.0L537.0,260.2M521.9,272.0L523.1,260.5M508.7,253.8L511.3,250.7M541.4,278.1L549.8,288.9M569.3,289.5L550.3,289.3M569.3,289.5L573.3,276.8M573.3,276.8L573.6,275.0M543.0,271.0L555.1,264.5M549.8,288.9L550.3,289.3M555.1,264.5L573.6,275.0M580.5,268.3L578.4,268.2M580.4,243.7L576.7,249.8M576.7,249.8L578.4,268.2M589.5,281.7L573.3,276.8M573.6,275.0L578.4,268.2M569.3,289.5L570.4,291.2M590.6,296.2L577.9,294.6M570.4,291.2L577.9,294.6M577.9,294.6L583.3,322.7M547.1,303.9L547.0,301.3M547.1,303.9L528.7,310.1M547.0,301.3L521.2,302.6M528.7,310.1L522.9,307.2M522.9,307.2L520.0,302.9M520.0,302.9L521.2,302.6M544.4,323.2L528.7,310.1M544.4,323.2L550.0,315.3M550.0,315.3L547.1,303.9M549.8,288.9L521.2,302.6M550.3,289.3L547.0,301.3M543.0,333.1L544.4,323.2M522.3,328.5L522.9,307.2M511.7,297.1L520.0,302.9M571.2,250.6L556.7,258.6M571.2,250.6L548.5,241.1M556.7,258.6L547.4,244.3M548.5,241.1L547.4,244.3M555.1,264.5L556.7,258.6M576.7,249.8L571.2,250.6M538.6,252.3L547.4,244.3M570.4,291.2L569.0,296.9M583.3,322.7L574.4,323.4M569.0,296.9L574.4,323.4M554.3,352.2L574.3,323.5M574.3,323.5L574.4,323.4M550.7,315.2L564.8,303.3M550.7,315.2L564.7,318.3M564.7,318.3L564.8,303.3M550.0,315.3L550.7,315.2M569.0,296.9L564.8,303.3M574.3,323.5L564.7,318.3" stroke="#ffbf4a" stroke-width="0.55" fill="none"/><line x1="573.6" y1="280.5" x2="575.9" y2="285.4" stroke="#6a6a6a" stroke-width="2.70"/><line x1="575.9" y1="285.4" x2="578.2" y2="290.4" stroke="#e00000" stroke-width="2.70"/><line x1="578.2" y1="290.4" x2="574.2" y2="297.6" stroke="#e00000" stroke-width="2.70"/><line x1="574.2" y1="297.6" x2="570.3" y2="304.8" stroke="#58d0d6" stroke-width="2.70"/><line x1="534.8" y1="293.7" x2="540.1" y2="299.2" stroke="#e00000" stroke-width="2.70"/><line x1="540.1" y1="299.2" x2="545.4" y2="304.8" stroke="#7474b4" stroke-width="2.70"/><line x1="552.6" y1="302.9" x2="549.0" y2="303.9" stroke="#e00000" stroke-width="2.70"/><line x1="549.0" y1="303.9" x2="545.4" y2="304.8" stroke="#7474b4" stroke-width="2.70"/><line x1="552.6" y1="302.9" x2="561.5" y2="303.9" stroke="#e00000" stroke-width="2.70"/><line x1="561.5" y1="303.9" x2="570.3" y2="304.8" stroke="#58d0d6" stroke-width="2.70"/><line x1="557.2" y1="302.2" x2="551.3" y2="303.5" stroke="#e00000" stroke-width="2.70"/><line x1="551.3" y1="303.5" x2="545.4" y2="304.8" stroke="#7474b4" stroke-width="2.70"/><line x1="557.2" y1="302.2" x2="563.8" y2="303.5" stroke="#e00000" stroke-width="2.70"/><line x1="563.8" y1="303.5" x2="570.3" y2="304.8" stroke="#58d0d6" stroke-width="2.70"/><line x1="545.4" y1="304.8" x2="541.1" y2="308.5" stroke="#7474b4" stroke-width="2.70"/><line x1="541.1" y1="308.5" x2="536.8" y2="312.1" stroke="#e00000" stroke-width="2.70"/><line x1="545.4" y1="304.8" x2="542.4" y2="314.4" stroke="#7474b4" stroke-width="2.70"/><line x1="542.4" y1="314.4" x2="539.4" y2="323.9" stroke="#e00000" stroke-width="2.70"/><line x1="570.3" y1="304.8" x2="573.6" y2="309.1" stroke="#58d0d6" stroke-width="2.70"/><line x1="573.6" y1="309.1" x2="576.9" y2="313.4" stroke="#e00000" stroke-width="2.70"/><line x1="570.3" y1="304.8" x2="573.9" y2="312.4" stroke="#58d0d6" stroke-width="2.70"/><line x1="573.9" y1="312.4" x2="577.5" y2="320.0" stroke="#e00000" stroke-width="2.70"/><line x1="536.8" y1="312.1" x2="535.5" y2="320.0" stroke="#e00000" stroke-width="2.70"/><line x1="535.5" y1="320.0" x2="534.2" y2="327.8" stroke="#d060d8" stroke-width="2.70"/><line x1="539.4" y1="323.9" x2="536.8" y2="325.9" stroke="#e00000" stroke-width="2.70"/><line x1="536.8" y1="325.9" x2="534.2" y2="327.8" stroke="#d060d8" stroke-width="2.70"/><line x1="576.9" y1="313.4" x2="579.2" y2="320.6" stroke="#e00000" stroke-width="2.70"/><line x1="579.2" y1="320.6" x2="581.5" y2="327.8" stroke="#d060d8" stroke-width="2.70"/><line x1="577.5" y1="320.0" x2="579.5" y2="323.9" stroke="#e00000" stroke-width="2.70"/><line x1="579.5" y1="323.9" x2="581.5" y2="327.8" stroke="#d060d8" stroke-width="2.70"/><line x1="510.5" y1="258.2" x2="514.8" y2="259.9" stroke="#dddddd" stroke-width="2.70"/><line x1="514.8" y1="259.9" x2="519.1" y2="261.5" stroke="#6a6a6a" stroke-width="2.70"/><line x1="514.5" y1="262.5" x2="516.8" y2="262.0" stroke="#dddddd" stroke-width="2.70"/><line x1="516.8" y1="262.0" x2="519.1" y2="261.5" stroke="#6a6a6a" stroke-width="2.70"/><line x1="527.6" y1="258.9" x2="523.4" y2="260.2" stroke="#dddddd" stroke-width="2.70"/><line x1="523.4" y1="260.2" x2="519.1" y2="261.5" stroke="#6a6a6a" stroke-width="2.70"/><line x1="519.7" y1="267.4" x2="519.4" y2="264.4" stroke="#dddddd" stroke-width="2.70"/><line x1="519.4" y1="264.4" x2="519.1" y2="261.5" stroke="#6a6a6a" stroke-width="2.70"/><line x1="565.1" y1="278.6" x2="569.4" y2="279.6" stroke="#dddddd" stroke-width="2.70"/><line x1="569.4" y1="279.6" x2="573.6" y2="280.5" stroke="#6a6a6a" stroke-width="2.70"/><line x1="535.5" y1="288.4" x2="535.1" y2="291.0" stroke="#dddddd" stroke-width="2.70"/><line x1="535.1" y1="291.0" x2="534.8" y2="293.7" stroke="#e00000" stroke-width="2.70"/><circle cx="510.5" cy="258.2" r="3.94" fill="url(#gH)"/><circle cx="514.5" cy="262.5" r="3.19" fill="url(#gH)"/><circle cx="527.6" cy="258.9" r="3.50" fill="url(#gH)"/><circle cx="519.7" cy="267.4" r="3.50" fill="url(#gH)"/><circle cx="565.1" cy="278.6" r="3.50" fill="url(#gH)"/><circle cx="580.2" cy="272.6" r="3.50" fill="url(#gH)"/><circle cx="535.5" cy="288.4" r="3.50" fill="url(#gH)"/><circle cx="519.1" cy="261.5" r="3.50" fill="url(#gC)"/><circle cx="573.6" cy="280.5" r="3.50" fill="url(#gC)"/><circle cx="578.2" cy="290.4" r="3.94" fill="url(#gO)"/><circle cx="534.8" cy="293.7" r="3.94" fill="url(#gO)"/><circle cx="552.6" cy="302.9" r="3.50" fill="url(#gO)"/><circle cx="557.2" cy="302.2" r="3.50" fill="url(#gO)"/><circle cx="545.4" cy="304.8" r="3.94" fill="url(#gFe)"/><circle cx="570.3" cy="304.8" r="4.14" fill="url(#gZn)"/><circle cx="536.8" cy="312.1" r="3.94" fill="url(#gO)"/><circle cx="539.4" cy="323.9" r="3.50" fill="url(#gO)"/><circle cx="534.2" cy="327.8" r="3.94" fill="url(#gAl)"/><circle cx="576.9" cy="313.4" r="3.94" fill="url(#gO)"/><circle cx="577.5" cy="320.0" r="3.94" fill="url(#gO)"/><circle cx="581.5" cy="327.8" r="3.50" fill="url(#gAl)"/></g><rect x="506.3" y="253.2" width="81.4" height="81.5" fill="none" stroke="#555" stroke-width="1"/><text x="558.5" y="265" font-size="12.5">IM8</text><rect x="599.6" y="254.2" width="81.9" height="80.8" fill="#fff"/><g clip-path="url(#clipIM9)"><path d="M677.5,276.0L676.8,275.6M693.4,306.3L677.5,276.0M676.8,275.6L675.0,274.5M614.8,322.3L601.0,305.2M600.2,305.5L601.0,305.2M672.9,273.8L672.0,273.7M672.0,273.7L668.8,264.9M668.8,264.9L672.9,254.9M675.0,274.5L672.9,273.8M650.7,238.2L652.3,252.3M650.7,238.2L672.9,254.9M652.3,252.3L668.8,264.9M693.4,306.3L682.5,309.9M672.0,273.7L659.1,283.1M682.5,309.9L659.1,283.1M652.3,252.3L639.4,277.7M644.1,284.5L639.4,277.7M644.1,284.5L646.3,285.7M646.3,285.7L659.1,283.1M586.4,284.6L591.0,297.5M586.4,284.6L572.2,277.5M601.0,305.2L601.2,301.0M601.2,301.0L591.0,297.5M633.3,293.7L619.3,296.5M633.3,293.7L624.4,320.6M619.3,296.5L618.1,321.1M624.4,320.6L618.1,321.1M639.2,349.0L628.6,321.7M628.6,321.7L624.4,320.6M614.8,322.3L618.1,321.1M677.4,317.4L671.3,326.9M682.5,309.9L679.5,312.3M679.5,312.3L678.3,314.2M678.3,314.2L677.4,317.4M674.0,352.9L670.2,327.7M674.0,352.9L661.5,332.4M661.5,332.4L670.2,327.7M671.3,326.9L670.2,327.7M679.5,312.3L656.2,304.7M678.3,314.2L658.2,318.1M658.2,318.1L656.2,304.7M646.3,285.7L649.5,300.8M649.5,300.8L656.2,304.7M655.5,334.1L658.0,332.7M655.5,334.1L652.7,334.3M658.0,332.7L656.3,319.6M652.7,334.3L638.2,319.7M656.3,319.6L643.5,314.7M638.2,319.7L643.5,314.7M661.5,332.4L658.0,332.7M639.2,349.0L652.7,334.3M658.2,318.1L656.3,319.6M628.6,321.7L638.2,319.7M649.5,300.8L643.5,314.7M644.1,284.5L633.3,293.7M639.4,277.7L632.1,274.0M632.1,274.0L630.7,270.9M630.7,270.9L629.9,257.1M629.9,257.1L623.4,253.6M632.1,274.0L620.5,277.7M619.3,296.5L613.9,292.7M620.5,277.7L613.9,292.7M601.2,301.0L603.3,294.6M613.9,292.7L603.3,294.6M586.4,284.6L601.1,289.8M601.1,289.8L603.3,294.6M572.2,277.5L603.3,272.9M603.2,259.9L603.3,272.9M601.1,289.8L605.1,275.4M603.3,272.9L605.1,275.4M620.5,277.7L617.2,276.9M605.1,275.4L617.2,276.9M619.7,255.3L617.3,261.7M619.7,255.3L603.7,243.8M617.3,261.7L611.3,260.5M611.3,260.5L604.2,258.1M603.7,243.8L604.2,258.1M630.7,270.9L617.3,261.7M623.4,253.6L619.7,255.3M617.2,276.9L611.3,260.5M603.2,259.9L604.2,258.1" stroke="#ff5a5a" stroke-width="0.55" fill="none"/><path d="M696.5,272.5L695.3,271.4M696.5,272.5L683.4,282.5M675.9,310.7L675.7,310.3M675.7,310.3L683.4,282.5M668.1,255.8L670.4,259.6M668.1,255.8L637.5,255.7M670.4,259.6L646.2,280.0M637.5,255.7L636.1,262.7M636.1,262.7L646.2,280.0M646.2,280.0L646.2,280.0M695.3,271.4L670.4,259.6M664.6,329.7L675.9,311.2M652.1,330.1L633.7,341.7M652.1,330.1L664.6,329.7M675.9,310.7L675.9,311.2M666.7,307.3L655.4,283.8M666.7,307.3L653.5,310.5M653.5,310.5L644.8,304.4M644.8,304.4L646.8,280.8M646.8,280.8L655.4,283.8M675.7,310.3L666.7,307.3M683.4,282.5L655.4,283.8M652.1,330.1L653.5,310.5M631.5,313.2L644.8,304.4M631.5,313.2L625.5,306.9M646.2,280.0L646.8,280.8M646.2,280.0L622.6,293.7M622.6,293.7L625.5,306.9M631.9,338.3L630.5,329.7M631.9,338.3L611.6,330.6M630.5,329.7L609.7,314.7M611.6,330.6L600.5,316.3M609.7,314.7L606.6,314.9M606.6,314.9L600.5,316.3M631.5,313.2L630.5,329.7M633.7,341.7L631.9,338.3M600.7,335.0L611.6,330.6M625.5,306.9L617.5,308.7M617.5,308.7L609.7,314.7M600.7,335.0L597.6,315.5M597.6,315.5L600.5,316.3M611.4,304.1L617.5,308.7M611.4,304.1L606.6,314.9M636.1,262.7L626.7,265.2M626.7,265.2L621.7,264.0M621.7,264.0L609.9,249.8M622.6,293.7L620.0,292.7M626.7,265.2L620.5,272.8M620.5,272.8L620.0,292.7M611.4,304.1L606.2,294.9M606.2,294.9L616.1,292.2M620.0,292.7L616.1,292.2M606.2,294.9L587.0,294.8M621.7,264.0L614.7,264.1M614.7,264.1L605.6,259.5M609.9,249.8L604.1,254.3M604.1,254.3L605.6,259.5M614.7,264.1L605.8,271.6M605.8,271.6L599.8,267.2M605.6,259.5L599.8,267.2M606.3,273.6L600.3,283.0M606.3,273.6L613.4,277.0M600.3,283.0L612.5,280.5M613.4,277.0L612.5,280.5M605.8,271.6L606.3,273.6M587.0,294.8L600.3,283.0M595.0,267.7L599.8,267.2M620.5,272.8L613.4,277.0M616.1,292.2L612.5,280.5M602.6,253.8L597.0,259.6M602.6,253.8L597.8,250.4M597.0,259.6L590.8,254.1M597.8,250.4L590.8,254.1M604.1,254.3L602.6,253.8M595.0,267.7L597.0,259.6" stroke="#ffbf4a" stroke-width="0.55" fill="none"/><line x1="612.2" y1="284.9" x2="616.4" y2="292.5" stroke="#e00000" stroke-width="2.70"/><line x1="616.4" y1="292.5" x2="620.6" y2="300.2" stroke="#7474b4" stroke-width="2.70"/><line x1="626.0" y1="292.5" x2="623.3" y2="296.4" stroke="#e00000" stroke-width="2.70"/><line x1="623.3" y1="296.4" x2="620.6" y2="300.2" stroke="#7474b4" stroke-width="2.70"/><line x1="620.6" y1="300.2" x2="628.3" y2="302.1" stroke="#7474b4" stroke-width="2.70"/><line x1="628.3" y1="302.1" x2="636.0" y2="304.0" stroke="#e00000" stroke-width="2.70"/><line x1="620.6" y1="300.2" x2="614.1" y2="305.9" stroke="#7474b4" stroke-width="2.70"/><line x1="614.1" y1="305.9" x2="607.6" y2="311.7" stroke="#e00000" stroke-width="2.70"/><line x1="620.6" y1="300.2" x2="617.5" y2="310.1" stroke="#7474b4" stroke-width="2.70"/><line x1="617.5" y1="310.1" x2="614.5" y2="320.1" stroke="#e00000" stroke-width="2.70"/><line x1="636.0" y1="304.0" x2="646.0" y2="304.0" stroke="#e00000" stroke-width="2.70"/><line x1="646.0" y1="304.0" x2="655.9" y2="304.0" stroke="#58d0d6" stroke-width="2.70"/><line x1="655.9" y1="304.0" x2="660.8" y2="294.8" stroke="#58d0d6" stroke-width="2.70"/><line x1="660.8" y1="294.8" x2="665.8" y2="285.6" stroke="#e00000" stroke-width="2.70"/><line x1="655.9" y1="304.0" x2="660.5" y2="307.4" stroke="#58d0d6" stroke-width="2.70"/><line x1="660.5" y1="307.4" x2="665.1" y2="310.9" stroke="#e00000" stroke-width="2.70"/><line x1="655.9" y1="304.0" x2="658.5" y2="314.8" stroke="#58d0d6" stroke-width="2.70"/><line x1="658.5" y1="314.8" x2="661.2" y2="325.5" stroke="#e00000" stroke-width="2.70"/><line x1="665.8" y1="285.6" x2="662.8" y2="280.6" stroke="#e00000" stroke-width="2.70"/><line x1="662.8" y1="280.6" x2="659.7" y2="275.7" stroke="#6a6a6a" stroke-width="2.70"/><line x1="607.6" y1="311.7" x2="606.5" y2="320.1" stroke="#e00000" stroke-width="2.70"/><line x1="606.5" y1="320.1" x2="605.3" y2="328.5" stroke="#d060d8" stroke-width="2.70"/><line x1="614.5" y1="320.1" x2="609.9" y2="324.3" stroke="#e00000" stroke-width="2.70"/><line x1="609.9" y1="324.3" x2="605.3" y2="328.5" stroke="#d060d8" stroke-width="2.70"/><line x1="665.1" y1="310.9" x2="666.2" y2="320.5" stroke="#e00000" stroke-width="2.70"/><line x1="666.2" y1="320.5" x2="667.4" y2="330.1" stroke="#d060d8" stroke-width="2.70"/><line x1="661.2" y1="325.5" x2="664.3" y2="327.8" stroke="#e00000" stroke-width="2.70"/><line x1="664.3" y1="327.8" x2="667.4" y2="330.1" stroke="#d060d8" stroke-width="2.70"/><line x1="614.5" y1="275.7" x2="613.4" y2="280.3" stroke="#dddddd" stroke-width="2.70"/><line x1="613.4" y1="280.3" x2="612.2" y2="284.9" stroke="#e00000" stroke-width="2.70"/><line x1="652.8" y1="282.6" x2="656.2" y2="279.1" stroke="#dddddd" stroke-width="2.70"/><line x1="656.2" y1="279.1" x2="659.7" y2="275.7" stroke="#6a6a6a" stroke-width="2.70"/><circle cx="614.5" cy="275.7" r="4.75" fill="url(#gH)"/><circle cx="653.6" cy="264.2" r="5.38" fill="url(#gH)"/><circle cx="665.1" cy="263.4" r="4.75" fill="url(#gH)"/><circle cx="647.4" cy="271.8" r="5.38" fill="url(#gH)"/><circle cx="652.8" cy="282.6" r="4.75" fill="url(#gH)"/><circle cx="670.4" cy="274.9" r="4.75" fill="url(#gH)"/><circle cx="612.2" cy="284.9" r="5.38" fill="url(#gO)"/><circle cx="626.0" cy="292.5" r="5.38" fill="url(#gO)"/><circle cx="620.6" cy="300.2" r="5.38" fill="url(#gFe)"/><circle cx="636.0" cy="304.0" r="5.38" fill="url(#gO)"/><circle cx="655.9" cy="304.0" r="5.75" fill="url(#gZn)"/><circle cx="665.8" cy="285.6" r="5.38" fill="url(#gO)"/><circle cx="659.7" cy="275.7" r="4.75" fill="url(#gC)"/><circle cx="607.6" cy="311.7" r="5.38" fill="url(#gO)"/><circle cx="614.5" cy="320.1" r="5.38" fill="url(#gO)"/><circle cx="605.3" cy="328.5" r="5.38" fill="url(#gAl)"/><circle cx="665.1" cy="310.9" r="5.38" fill="url(#gO)"/><circle cx="661.2" cy="325.5" r="5.38" fill="url(#gO)"/><circle cx="667.4" cy="330.1" r="4.75" fill="url(#gAl)"/></g><rect x="599.6" y="254.2" width="81.9" height="80.8" fill="none" stroke="#555" stroke-width="1"/><text x="602.7" y="265.4" font-size="12.5">IM9</text><rect x="36.6" y="345.3" width="81.1" height="81.2" fill="#fff"/><g clip-path="url(#clipIM10)"><path d="M38.6,418.0L41.2,416.3M41.2,416.3L48.1,403.5M48.1,403.5L45.4,399.0M16.0,379.8L45.4,399.0M73.3,425.0L71.2,423.5M66.5,423.0L71.2,423.5M88.5,423.5L73.3,425.0M41.2,416.3L66.5,423.0M48.1,403.5L64.2,392.1M71.3,390.8L71.2,423.5M71.3,390.8L69.4,390.1M64.2,392.1L69.4,390.1M115.0,339.9L110.1,357.8M112.5,376.9L100.8,361.0M112.5,376.9L126.4,370.8M110.1,357.8L100.8,361.0M16.0,379.8L32.1,374.1M45.4,399.0L36.9,375.4M36.9,375.4L32.1,374.1M64.2,392.1L38.3,375.2M36.9,375.4L38.3,375.2M69.4,390.1L65.2,375.0M65.2,375.0L50.0,369.4M38.3,375.2L50.0,369.4M10.4,326.9L33.4,366.6M32.1,374.1L33.4,366.6M112.5,376.9L112.4,377.3M126.4,370.8L122.9,386.3M112.4,377.3L122.9,386.3M121.1,415.3L117.6,399.6M117.6,399.6L124.3,388.4M124.3,388.4L122.9,386.3M88.5,423.5L88.3,399.6M121.1,415.3L119.9,414.7M88.3,399.6L119.9,414.7M33.4,366.6L39.5,355.4M50.0,369.4L50.5,361.9M50.5,361.9L39.5,355.4M10.4,326.9L39.4,347.6M39.4,347.6L39.5,355.4M115.0,339.9L104.5,344.3M100.8,361.0L99.9,360.8M99.9,360.8L102.0,348.2M104.5,344.3L102.0,348.2M80.4,336.7L81.7,339.7M96.7,342.0L97.0,325.3M96.7,342.0L87.3,346.2M81.7,339.7L87.3,346.2M104.5,344.3L97.0,325.3M102.0,348.2L96.7,342.0M99.9,360.8L94.9,361.7M94.9,361.7L87.3,346.2M93.1,363.1L94.9,361.7M93.1,363.1L80.9,361.5M80.9,361.5L76.6,354.4M76.6,354.4L81.7,339.7M112.4,377.3L112.3,377.5M117.6,399.6L108.8,389.8M112.3,377.5L108.8,389.8M67.7,367.8L65.3,362.1M67.7,367.8L80.9,361.5M76.6,354.4L67.2,351.5M65.3,362.1L67.2,351.5M65.2,375.0L67.7,367.8M50.5,361.9L54.3,357.5M65.3,362.1L54.3,357.5M80.4,336.7L66.6,350.0M66.6,350.0L67.2,351.5M119.9,414.7L104.2,399.8M108.8,389.8L104.3,390.4M104.2,399.8L104.3,390.4M39.4,347.6L46.7,346.3M46.7,346.3L57.7,332.0M96.7,390.9L88.7,394.7M96.7,390.9L99.2,380.4M78.2,390.8L86.6,395.5M78.2,390.8L91.9,367.3M86.6,395.5L88.7,394.7M91.9,367.3L99.2,380.4M104.2,399.8L88.7,394.7M104.3,390.4L96.7,390.9M112.3,377.5L99.2,380.4M71.3,390.8L78.2,390.8M88.3,399.6L86.6,395.5M93.1,363.1L91.9,367.3M54.2,355.4L66.3,349.8M54.2,355.4L52.1,350.9M52.1,350.9L62.4,345.8M66.3,349.8L62.4,345.8M54.3,357.5L54.2,355.4M66.6,350.0L66.3,349.8M46.7,346.3L52.1,350.9M57.7,332.0L62.4,345.8" stroke="#ff5a5a" stroke-width="0.55" fill="none"/><path d="M39.8,381.1L38.6,383.9M39.8,381.1L40.3,375.9M47.5,420.8L46.4,412.2M38.6,383.9L50.9,407.0M46.4,412.2L50.9,407.0M111.3,372.2L120.6,359.2M111.3,372.2L116.3,384.5M111.5,351.2L120.6,359.2M54.7,406.1L79.8,409.3M54.7,406.1L59.3,391.3M65.1,382.0L59.3,391.3M65.1,382.0L83.9,401.6M83.9,401.6L79.8,409.3M50.9,407.0L54.7,406.1M81.5,414.9L79.8,409.3M39.8,381.1L51.7,382.7M51.7,382.7L59.3,391.3M116.3,384.5L116.3,386.4M116.3,386.4L129.2,397.8M109.0,372.5L96.3,396.0M109.0,372.5L111.3,372.2M96.3,396.0L99.9,396.5M116.3,386.4L99.9,396.5M106.3,435.2L99.1,422.3M106.3,435.2L123.9,424.4M99.1,422.3L115.7,410.1M123.9,424.4L116.0,410.1M116.0,410.1L115.7,410.1M81.5,414.9L99.1,422.3M89.1,396.3L96.3,396.0M89.1,396.3L83.9,401.6M99.9,396.5L115.7,410.1M129.2,397.8L116.0,410.1M47.3,354.5L45.4,363.9M40.3,375.9L46.7,368.0M46.7,368.0L45.4,363.9M111.5,351.2L104.1,351.8M104.1,351.8L97.0,356.0M109.0,372.5L99.3,371.5M97.0,356.0L99.3,371.5M87.2,356.2L91.7,355.6M87.2,356.2L74.3,334.9M91.7,355.6L93.2,338.8M74.3,334.9L68.5,319.6M104.1,351.8L93.2,338.8M97.0,356.0L91.7,355.6M47.3,354.5L58.5,349.2M67.2,324.5L58.5,349.2M67.2,324.5L68.5,319.6M67.2,324.5L68.1,364.1M74.3,334.9L73.6,363.9M73.6,363.9L68.1,364.1M58.5,349.2L60.1,366.4M68.1,364.1L60.1,366.4M51.7,382.7L64.3,380.2M65.1,382.0L65.0,381.0M65.0,381.0L64.3,380.2M46.7,368.0L59.9,366.6M64.3,380.2L59.9,366.6M59.9,366.6L60.1,366.4M89.1,396.3L88.5,389.2M65.0,381.0L74.2,377.6M88.5,389.2L74.2,377.6M91.9,375.2L84.4,360.9M91.9,375.2L90.9,376.9M90.9,376.9L76.5,371.6M84.4,360.9L74.3,364.2M74.3,364.2L76.5,371.6M99.3,371.5L91.9,375.2M87.2,356.2L84.4,360.9M88.5,389.2L90.9,376.9M74.2,377.6L76.5,371.6M73.6,363.9L74.3,364.2" stroke="#ffbf4a" stroke-width="0.55" fill="none"/><line x1="95.1" y1="379.4" x2="100.0" y2="376.4" stroke="#6a6a6a" stroke-width="2.70"/><line x1="100.0" y1="376.4" x2="104.9" y2="373.5" stroke="#6a6a6a" stroke-width="2.70"/><line x1="95.1" y1="379.4" x2="92.4" y2="384.4" stroke="#6a6a6a" stroke-width="2.70"/><line x1="92.4" y1="384.4" x2="89.8" y2="389.3" stroke="#e00000" stroke-width="2.70"/><line x1="89.8" y1="389.3" x2="84.9" y2="394.2" stroke="#e00000" stroke-width="2.70"/><line x1="84.9" y1="394.2" x2="80.0" y2="399.1" stroke="#58d0d6" stroke-width="2.70"/><line x1="44.5" y1="388.6" x2="49.4" y2="393.2" stroke="#e00000" stroke-width="2.70"/><line x1="49.4" y1="393.2" x2="54.3" y2="397.8" stroke="#7474b4" stroke-width="2.70"/><line x1="66.2" y1="391.9" x2="60.2" y2="394.9" stroke="#e00000" stroke-width="2.70"/><line x1="60.2" y1="394.9" x2="54.3" y2="397.8" stroke="#7474b4" stroke-width="2.70"/><line x1="66.2" y1="391.9" x2="73.1" y2="395.5" stroke="#e00000" stroke-width="2.70"/><line x1="73.1" y1="395.5" x2="80.0" y2="399.1" stroke="#58d0d6" stroke-width="2.70"/><line x1="64.2" y1="397.2" x2="59.2" y2="397.5" stroke="#e00000" stroke-width="2.70"/><line x1="59.2" y1="397.5" x2="54.3" y2="397.8" stroke="#7474b4" stroke-width="2.70"/><line x1="64.2" y1="397.2" x2="72.1" y2="398.1" stroke="#e00000" stroke-width="2.70"/><line x1="72.1" y1="398.1" x2="80.0" y2="399.1" stroke="#58d0d6" stroke-width="2.70"/><line x1="54.3" y1="397.8" x2="48.8" y2="402.4" stroke="#7474b4" stroke-width="2.70"/><line x1="48.8" y1="402.4" x2="43.2" y2="407.0" stroke="#e00000" stroke-width="2.70"/><line x1="54.3" y1="397.8" x2="52.0" y2="405.7" stroke="#7474b4" stroke-width="2.70"/><line x1="52.0" y1="405.7" x2="49.7" y2="413.6" stroke="#e00000" stroke-width="2.70"/><line x1="80.0" y1="399.1" x2="85.2" y2="402.4" stroke="#58d0d6" stroke-width="2.70"/><line x1="85.2" y1="402.4" x2="90.5" y2="405.7" stroke="#e00000" stroke-width="2.70"/><line x1="80.0" y1="399.1" x2="82.0" y2="407.0" stroke="#58d0d6" stroke-width="2.70"/><line x1="82.0" y1="407.0" x2="83.9" y2="414.9" stroke="#e00000" stroke-width="2.70"/><line x1="43.2" y1="407.0" x2="41.9" y2="413.2" stroke="#e00000" stroke-width="2.70"/><line x1="41.9" y1="413.2" x2="40.5" y2="419.5" stroke="#d060d8" stroke-width="2.70"/><line x1="49.7" y1="413.6" x2="45.1" y2="416.6" stroke="#e00000" stroke-width="2.70"/><line x1="45.1" y1="416.6" x2="40.5" y2="419.5" stroke="#d060d8" stroke-width="2.70"/><line x1="90.5" y1="405.7" x2="91.2" y2="412.9" stroke="#e00000" stroke-width="2.70"/><line x1="91.2" y1="412.9" x2="91.8" y2="420.1" stroke="#d060d8" stroke-width="2.70"/><line x1="83.9" y1="414.9" x2="87.8" y2="417.5" stroke="#e00000" stroke-width="2.70"/><line x1="87.8" y1="417.5" x2="91.8" y2="420.1" stroke="#d060d8" stroke-width="2.70"/><line x1="103.0" y1="365.6" x2="104.0" y2="369.6" stroke="#dddddd" stroke-width="2.70"/><line x1="104.0" y1="369.6" x2="104.9" y2="373.5" stroke="#6a6a6a" stroke-width="2.70"/><line x1="112.8" y1="374.2" x2="108.8" y2="373.9" stroke="#dddddd" stroke-width="2.70"/><line x1="108.8" y1="373.9" x2="104.9" y2="373.5" stroke="#6a6a6a" stroke-width="2.70"/><line x1="93.1" y1="374.8" x2="94.1" y2="377.1" stroke="#dddddd" stroke-width="2.70"/><line x1="94.1" y1="377.1" x2="95.1" y2="379.4" stroke="#6a6a6a" stroke-width="2.70"/><line x1="105.6" y1="379.4" x2="105.2" y2="376.4" stroke="#dddddd" stroke-width="2.70"/><line x1="105.2" y1="376.4" x2="104.9" y2="373.5" stroke="#6a6a6a" stroke-width="2.70"/><line x1="47.8" y1="382.7" x2="46.1" y2="385.6" stroke="#dddddd" stroke-width="2.70"/><line x1="46.1" y1="385.6" x2="44.5" y2="388.6" stroke="#e00000" stroke-width="2.70"/><line x1="65.5" y1="384.0" x2="65.8" y2="387.9" stroke="#dddddd" stroke-width="2.70"/><line x1="65.8" y1="387.9" x2="66.2" y2="391.9" stroke="#e00000" stroke-width="2.70"/><circle cx="103.0" cy="365.6" r="4.12" fill="url(#gH)"/><circle cx="112.8" cy="374.2" r="4.12" fill="url(#gH)"/><circle cx="93.1" cy="374.8" r="4.12" fill="url(#gH)"/><circle cx="105.6" cy="379.4" r="3.62" fill="url(#gH)"/><circle cx="47.8" cy="382.7" r="4.12" fill="url(#gH)"/><circle cx="65.5" cy="384.0" r="4.12" fill="url(#gH)"/><circle cx="95.1" cy="379.4" r="4.12" fill="url(#gC)"/><circle cx="104.9" cy="373.5" r="3.62" fill="url(#gC)"/><circle cx="89.8" cy="389.3" r="4.62" fill="url(#gO)"/><circle cx="44.5" cy="388.6" r="4.62" fill="url(#gO)"/><circle cx="66.2" cy="391.9" r="4.62" fill="url(#gO)"/><circle cx="64.2" cy="397.2" r="4.62" fill="url(#gO)"/><circle cx="54.3" cy="397.8" r="4.62" fill="url(#gFe)"/><circle cx="80.0" cy="399.1" r="4.88" fill="url(#gZn)"/><circle cx="43.2" cy="407.0" r="4.62" fill="url(#gO)"/><circle cx="49.7" cy="413.6" r="4.62" fill="url(#gO)"/><circle cx="40.5" cy="419.5" r="4.62" fill="url(#gAl)"/><circle cx="90.5" cy="405.7" r="4.62" fill="url(#gO)"/><circle cx="83.9" cy="414.9" r="4.62" fill="url(#gO)"/><circle cx="91.8" cy="420.1" r="4.12" fill="url(#gAl)"/></g><rect x="36.6" y="345.3" width="81.1" height="81.2" fill="none" stroke="#555" stroke-width="1"/><text x="40.1" y="357.1" font-size="12.5">IM10</text><rect x="132.3" y="345.3" width="81.4" height="81.2" fill="#fff"/><g clip-path="url(#clipIM11)"><path d="M124.8,407.4L144.2,418.0M144.2,418.0L124.2,428.0M148.9,436.5L124.2,428.0M216.5,406.0L206.3,401.1M217.8,375.4L206.3,401.1M219.9,448.0L203.7,402.2M206.3,401.1L203.7,402.2M217.8,375.4L216.2,374.6M216.2,374.6L201.5,355.7M201.5,354.7L201.5,355.7M201.5,354.7L192.8,340.8M124.8,407.4L139.7,393.1M139.7,393.1L130.9,382.3M130.9,382.3L134.9,372.8M177.9,419.6L177.4,422.7M177.9,419.6L160.0,413.0M177.4,422.7L149.3,433.1M160.0,413.0L158.4,413.2M158.4,413.2L148.7,420.2M148.7,420.2L149.3,433.1M187.6,411.6L219.9,448.0M187.6,411.6L177.9,419.6M148.9,436.5L149.3,433.1M145.3,418.2L148.7,420.2M145.3,418.2L144.2,418.0M115.0,351.5L128.9,350.2M134.9,372.8L136.0,371.8M136.0,371.8L129.6,350.6M129.6,350.6L128.9,350.2M216.2,374.6L192.2,380.7M203.7,402.2L197.4,403.3M192.2,380.7L197.4,403.3M201.5,355.7L183.2,369.0M183.2,369.0L186.5,378.5M192.2,380.7L186.5,378.5M187.6,411.6L188.3,409.4M188.3,409.4L197.4,403.3M145.3,418.2L142.2,395.3M158.4,413.2L156.0,408.2M142.2,395.3L156.0,408.2M139.7,393.1L141.3,393.3M142.2,395.3L141.3,393.3M136.0,371.8L137.3,371.5M137.3,371.5L147.6,375.0M147.6,375.0L147.2,390.4M141.3,393.3L147.2,390.4M147.6,357.6L153.5,358.3M147.6,357.6L141.9,353.0M141.9,353.0L146.8,342.4M146.8,342.4L155.5,350.4M153.5,358.3L155.8,356.6M155.8,356.6L155.5,350.4M155.6,371.2L147.6,375.0M155.6,371.2L153.5,358.3M137.3,371.5L147.6,357.6M129.6,350.6L141.9,353.0M183.2,369.0L181.6,368.1M186.5,378.5L177.2,388.7M174.0,367.0L181.6,368.1M174.0,367.0L167.6,372.5M167.6,372.5L177.2,388.7M155.6,371.2L157.6,372.6M155.8,356.6L166.8,355.6M157.6,372.6L163.9,374.0M166.8,355.6L174.0,367.0M167.6,372.5L163.9,374.0M188.3,409.4L174.9,392.9M174.9,392.9L177.2,388.7M160.0,413.0L168.7,393.1M174.9,392.9L168.7,393.1M155.3,393.1L148.5,390.4M155.3,393.1L168.2,392.9M168.2,392.9L164.8,385.4M164.8,385.4L155.6,382.8M148.5,390.4L155.6,382.8M147.2,390.4L148.5,390.4M156.0,408.2L155.3,393.1M168.7,393.1L168.2,392.9M163.9,374.0L164.8,385.4M157.6,372.6L155.6,382.8M172.3,346.7L181.4,346.3M172.3,346.7L160.3,329.4M160.1,328.7L160.3,329.4M160.1,328.7L191.1,341.5M191.1,341.5L181.4,346.3M166.8,355.6L172.3,346.7M181.6,368.1L181.4,346.3M155.5,350.4L160.3,329.4M192.8,340.8L191.1,341.5" stroke="#ff5a5a" stroke-width="0.55" fill="none"/><path d="M150.0,428.9L150.4,410.6M150.0,428.9L120.0,431.4M120.0,431.4L134.8,412.2M134.8,412.2L145.9,408.4M145.9,408.4L150.4,410.6M162.7,447.5L150.0,428.9M118.9,393.9L134.8,412.2M125.2,389.9L143.3,392.0M125.2,389.9L118.9,393.9M143.3,392.0L145.9,408.4M162.7,447.5L167.4,438.8M190.9,428.1L185.9,426.7M167.4,438.8L181.4,428.2M185.9,426.7L181.4,428.2M150.4,410.6L163.4,408.9M167.4,438.8L164.4,409.5M163.4,408.9L164.4,409.5M181.4,428.2L166.5,409.7M164.4,409.5L166.5,409.7M190.9,428.1L200.8,408.7M200.8,408.7L203.4,407.7M207.8,412.1L203.4,407.7M227.0,362.7L210.2,365.1M227.0,362.7L203.1,343.1M210.2,365.1L200.0,350.0M203.1,343.1L200.0,350.0M209.8,386.3L206.5,372.1M206.5,372.1L210.2,365.1M206.5,372.1L190.9,367.3M190.9,367.3L188.3,359.8M188.3,359.8L200.0,350.0M178.1,391.5L183.1,399.8M178.1,391.5L184.0,381.5M183.1,399.8L197.5,388.2M197.5,388.2L188.5,380.5M184.0,381.5L188.5,380.5M209.8,386.3L206.2,390.7M206.2,390.7L197.5,388.2M190.9,367.3L188.5,380.5M184.3,418.1L172.5,408.8M184.3,418.1L190.9,407.9M172.5,408.8L182.8,402.3M190.9,407.9L182.8,402.3M185.9,426.7L184.3,418.1M166.5,409.7L172.5,408.8M200.8,408.7L190.9,407.9M206.2,390.7L206.6,393.0M206.6,393.0L203.4,407.7M183.1,399.8L182.8,402.3M237.8,407.1L219.5,409.0M237.8,407.1L215.0,397.4M215.0,397.4L219.5,409.0M207.8,412.1L219.5,409.0M206.6,393.0L215.0,397.4M163.4,408.9L165.3,392.8M178.1,391.5L167.6,391.3M167.6,391.3L165.3,392.8M184.0,381.5L172.0,376.0M167.6,391.3L172.0,376.0M143.3,392.0L148.9,383.0M165.3,392.8L152.7,383.6M148.9,383.0L152.7,383.6M172.0,376.0L169.7,372.4M152.7,383.6L169.7,372.4M188.3,359.8L178.8,358.0M178.8,358.0L169.5,367.3M169.5,367.3L169.7,372.4M132.2,364.8L133.3,364.6M132.2,364.8L108.7,359.4M133.3,364.6L129.5,338.7M108.7,359.4L129.5,338.7M125.2,389.9L132.2,364.8M141.0,364.2L148.9,383.0M141.0,364.2L133.3,364.6M147.7,359.6L143.1,362.2M147.7,359.6L164.4,328.9M143.1,362.2L133.0,331.3M141.0,364.2L143.1,362.2M169.5,367.3L147.7,359.6M178.8,358.0L164.4,328.9M129.5,338.7L133.0,331.3" stroke="#ffbf4a" stroke-width="0.55" fill="none"/><line x1="199.0" y1="361.0" x2="198.3" y2="367.9" stroke="#6a6a6a" stroke-width="2.70"/><line x1="198.3" y1="367.9" x2="197.6" y2="374.8" stroke="#6a6a6a" stroke-width="2.70"/><line x1="197.6" y1="374.8" x2="200.9" y2="376.1" stroke="#6a6a6a" stroke-width="2.70"/><line x1="200.9" y1="376.1" x2="204.2" y2="377.4" stroke="#e00000" stroke-width="2.70"/><line x1="204.2" y1="377.4" x2="195.0" y2="384.6" stroke="#e00000" stroke-width="2.70"/><line x1="195.0" y1="384.6" x2="185.8" y2="391.9" stroke="#58d0d6" stroke-width="2.70"/><line x1="139.8" y1="381.4" x2="147.7" y2="385.6" stroke="#e00000" stroke-width="2.70"/><line x1="147.7" y1="385.6" x2="155.6" y2="389.9" stroke="#7474b4" stroke-width="2.70"/><line x1="166.8" y1="384.0" x2="161.2" y2="386.9" stroke="#e00000" stroke-width="2.70"/><line x1="161.2" y1="386.9" x2="155.6" y2="389.9" stroke="#7474b4" stroke-width="2.70"/><line x1="166.8" y1="384.0" x2="176.3" y2="387.9" stroke="#e00000" stroke-width="2.70"/><line x1="176.3" y1="387.9" x2="185.8" y2="391.9" stroke="#58d0d6" stroke-width="2.70"/><line x1="155.6" y1="389.9" x2="163.8" y2="391.5" stroke="#7474b4" stroke-width="2.70"/><line x1="163.8" y1="391.5" x2="172.0" y2="393.2" stroke="#e00000" stroke-width="2.70"/><line x1="155.6" y1="389.9" x2="150.3" y2="395.9" stroke="#7474b4" stroke-width="2.70"/><line x1="150.3" y1="395.9" x2="145.1" y2="401.8" stroke="#e00000" stroke-width="2.70"/><line x1="155.6" y1="389.9" x2="152.6" y2="401.1" stroke="#7474b4" stroke-width="2.70"/><line x1="152.6" y1="401.1" x2="149.7" y2="412.3" stroke="#e00000" stroke-width="2.70"/><line x1="172.0" y1="393.2" x2="178.9" y2="392.5" stroke="#e00000" stroke-width="2.70"/><line x1="178.9" y1="392.5" x2="185.8" y2="391.9" stroke="#58d0d6" stroke-width="2.70"/><line x1="185.8" y1="391.9" x2="191.1" y2="396.1" stroke="#58d0d6" stroke-width="2.70"/><line x1="191.1" y1="396.1" x2="196.3" y2="400.4" stroke="#e00000" stroke-width="2.70"/><line x1="185.8" y1="391.9" x2="189.8" y2="402.4" stroke="#58d0d6" stroke-width="2.70"/><line x1="189.8" y1="402.4" x2="193.7" y2="412.9" stroke="#e00000" stroke-width="2.70"/><line x1="145.1" y1="401.8" x2="143.1" y2="410.3" stroke="#e00000" stroke-width="2.70"/><line x1="143.1" y1="410.3" x2="141.1" y2="418.8" stroke="#d060d8" stroke-width="2.70"/><line x1="149.7" y1="412.3" x2="145.4" y2="415.6" stroke="#e00000" stroke-width="2.70"/><line x1="145.4" y1="415.6" x2="141.1" y2="418.8" stroke="#d060d8" stroke-width="2.70"/><line x1="196.3" y1="400.4" x2="197.9" y2="409.9" stroke="#e00000" stroke-width="2.70"/><line x1="197.9" y1="409.9" x2="199.6" y2="419.5" stroke="#d060d8" stroke-width="2.70"/><line x1="193.7" y1="412.9" x2="196.6" y2="416.2" stroke="#e00000" stroke-width="2.70"/><line x1="196.6" y1="416.2" x2="199.6" y2="419.5" stroke="#d060d8" stroke-width="2.70"/><line x1="199.6" y1="351.2" x2="199.3" y2="356.1" stroke="#dddddd" stroke-width="2.70"/><line x1="199.3" y1="356.1" x2="199.0" y2="361.0" stroke="#6a6a6a" stroke-width="2.70"/><line x1="189.1" y1="359.7" x2="194.1" y2="360.4" stroke="#dddddd" stroke-width="2.70"/><line x1="194.1" y1="360.4" x2="199.0" y2="361.0" stroke="#6a6a6a" stroke-width="2.70"/><line x1="208.1" y1="361.0" x2="203.6" y2="361.0" stroke="#dddddd" stroke-width="2.70"/><line x1="203.6" y1="361.0" x2="199.0" y2="361.0" stroke="#6a6a6a" stroke-width="2.70"/><line x1="137.2" y1="378.1" x2="138.5" y2="379.8" stroke="#dddddd" stroke-width="2.70"/><line x1="138.5" y1="379.8" x2="139.8" y2="381.4" stroke="#e00000" stroke-width="2.70"/><line x1="166.8" y1="374.2" x2="166.8" y2="379.1" stroke="#dddddd" stroke-width="2.70"/><line x1="166.8" y1="379.1" x2="166.8" y2="384.0" stroke="#e00000" stroke-width="2.70"/><line x1="173.3" y1="385.3" x2="170.1" y2="384.6" stroke="#dddddd" stroke-width="2.70"/><line x1="170.1" y1="384.6" x2="166.8" y2="384.0" stroke="#e00000" stroke-width="2.70"/><circle cx="199.6" cy="351.2" r="4.62" fill="url(#gH)"/><circle cx="189.1" cy="359.7" r="4.62" fill="url(#gH)"/><circle cx="208.1" cy="361.0" r="4.62" fill="url(#gH)"/><circle cx="137.2" cy="378.1" r="4.12" fill="url(#gH)"/><circle cx="166.8" cy="374.2" r="4.62" fill="url(#gH)"/><circle cx="173.3" cy="385.3" r="4.62" fill="url(#gH)"/><circle cx="199.0" cy="361.0" r="4.12" fill="url(#gC)"/><circle cx="197.6" cy="374.8" r="4.62" fill="url(#gC)"/><circle cx="204.2" cy="377.4" r="4.88" fill="url(#gO)"/><circle cx="139.8" cy="381.4" r="4.88" fill="url(#gO)"/><circle cx="166.8" cy="384.0" r="4.62" fill="url(#gO)"/><circle cx="155.6" cy="389.9" r="4.62" fill="url(#gFe)"/><circle cx="172.0" cy="393.2" r="4.88" fill="url(#gO)"/><circle cx="185.8" cy="391.9" r="4.88" fill="url(#gZn)"/><circle cx="145.1" cy="401.8" r="4.88" fill="url(#gO)"/><circle cx="149.7" cy="412.3" r="4.88" fill="url(#gO)"/><circle cx="141.1" cy="418.8" r="4.62" fill="url(#gAl)"/><circle cx="196.3" cy="400.4" r="4.62" fill="url(#gO)"/><circle cx="193.7" cy="412.9" r="4.88" fill="url(#gO)"/><circle cx="199.6" cy="419.5" r="4.62" fill="url(#gAl)"/></g><rect x="132.3" y="345.3" width="81.4" height="81.2" fill="none" stroke="#555" stroke-width="1"/><text x="135.9" y="357" font-size="12.5">IM11</text><rect x="226.3" y="344.3" width="81.4" height="81.1" fill="#fff"/><g clip-path="url(#clipIM12)"><path d="M307.8,345.6L292.5,349.7M292.5,349.7L278.9,322.1M221.1,362.2L226.3,363.4M226.3,363.4L201.9,387.7M220.2,345.8L221.1,362.2M236.5,369.2L231.8,368.9M236.5,369.2L241.3,385.4M231.8,368.9L224.9,382.3M224.9,382.3L238.6,387.3M238.6,387.3L241.3,385.4M250.2,366.6L243.4,353.9M250.2,366.6L251.7,367.4M251.7,367.4L260.8,362.7M248.8,341.4L243.4,353.9M248.8,341.4L265.9,355.8M265.9,355.8L260.8,362.7M252.4,380.5L251.7,367.4M252.4,380.5L241.3,385.4M236.5,369.2L250.2,366.6M278.9,322.1L272.2,353.0M272.2,353.0L265.9,355.8M246.2,326.7L248.8,341.4M209.6,388.2L201.9,387.7M209.6,388.2L219.7,396.7M221.1,421.6L219.7,396.7M238.4,353.9L228.7,346.3M238.4,353.9L229.0,363.9M228.4,363.5L229.0,363.9M228.4,363.5L225.5,347.1M225.5,347.1L228.7,346.3M246.2,326.7L228.7,346.3M243.4,353.9L238.4,353.9M231.8,368.9L229.0,363.9M209.6,388.2L224.9,382.3M226.3,363.4L228.4,363.5M220.2,345.8L225.5,347.1M274.5,429.2L280.9,424.1M238.9,455.4L253.7,424.2M253.7,424.2L269.1,426.0M269.1,426.0L274.5,429.2M282.8,422.4L280.9,424.1M282.8,422.4L288.1,422.3M301.4,423.8L288.1,422.3M238.9,455.4L226.5,422.9M221.1,421.6L226.5,422.9M258.1,399.1L253.7,381.7M258.1,399.1L275.0,382.1M253.7,381.7L274.2,381.0M275.0,382.1L274.2,381.0M252.4,380.5L253.7,381.7M260.8,362.7L274.1,379.2M274.1,379.2L274.2,381.0M272.2,353.0L283.0,360.8M274.1,379.2L283.0,360.8M292.5,349.7L287.5,361.3M287.5,361.3L283.0,360.8M233.5,405.3L233.9,413.5M233.5,405.3L239.8,398.4M233.9,413.5L251.5,416.8M239.8,398.4L258.0,401.1M251.5,416.8L259.3,403.5M258.0,401.1L259.3,403.5M226.5,422.9L233.9,413.5M219.7,396.7L233.5,405.3M238.6,387.3L239.8,398.4M253.7,424.2L251.5,416.8M258.1,399.1L258.0,401.1M301.4,423.8L300.8,411.6M288.1,422.3L289.0,405.6M289.0,405.6L300.8,411.6M292.5,364.6L292.1,372.5M292.5,364.6L325.5,360.4M292.1,372.5L313.0,389.6M307.8,345.6L325.5,360.4M287.5,361.3L292.5,364.6M306.4,393.1L300.8,411.6M306.4,393.1L313.0,389.6M275.0,382.1L277.1,383.7M292.1,372.5L286.0,383.6M286.0,383.6L277.1,383.7M306.4,393.1L295.9,392.2M286.0,383.6L295.9,392.2M289.0,405.6L285.5,401.9M295.9,392.2L285.5,401.9M265.8,408.3L259.7,403.5M265.8,408.3L278.4,410.7M278.4,410.7L282.8,402.4M259.7,403.5L266.3,400.6M266.3,400.6L280.4,399.9M282.8,402.4L280.4,399.9M269.1,426.0L265.8,408.3M259.3,403.5L259.7,403.5M282.8,422.4L278.4,410.7M285.5,401.9L282.8,402.4M277.1,383.7L276.8,389.6M276.8,389.6L266.3,400.6M276.8,389.6L280.4,399.9" stroke="#ff5a5a" stroke-width="0.55" fill="none"/><path d="M260.9,443.4L243.4,418.4M235.1,397.5L217.3,401.8M235.1,397.5L240.5,381.9M240.5,381.9L222.2,383.4M217.3,401.8L222.2,383.4M243.4,418.4L246.7,412.5M246.7,412.5L235.1,397.5M202.9,362.7L222.2,383.4M260.9,443.4L272.9,418.5M272.9,418.5L294.5,425.0M302.0,391.6L294.8,408.9M302.0,391.6L317.1,399.6M317.1,399.6L297.2,413.9M294.8,408.9L297.2,413.9M315.2,424.4L295.7,423.2M294.5,425.0L295.7,423.2M314.9,420.2L311.4,417.6M311.4,417.6L324.4,399.6M315.2,424.4L314.9,420.2M295.7,423.2L295.9,422.5M295.9,422.5L311.4,417.6M317.1,399.6L324.4,399.6M297.2,413.9L295.9,422.5M306.0,368.8L294.4,383.1M302.0,391.6L294.4,383.1M306.0,368.8L301.2,361.0M289.5,384.1L294.4,383.1M289.5,384.1L274.6,376.6M301.2,361.0L275.4,346.4M275.4,346.4L274.3,348.0M274.3,348.0L274.6,376.6M246.7,412.5L248.6,411.6M240.5,381.9L244.5,378.1M248.6,411.6L249.2,380.5M244.5,378.1L249.2,380.5M272.9,418.5L270.5,413.6M294.8,408.9L290.7,405.1M270.5,413.6L290.7,405.1M301.2,361.0L306.0,351.8M323.0,344.6L306.0,351.8M247.4,346.0L234.5,341.6M289.5,384.1L288.8,386.2M290.7,405.1L289.3,402.8M288.8,386.2L289.3,402.8M314.1,341.7L305.2,343.2M305.2,343.2L278.1,315.4M323.0,344.6L314.1,341.7M306.0,351.8L305.2,343.2M275.4,346.4L278.1,315.4M274.3,348.0L253.2,356.2M247.4,346.0L253.2,356.2M242.9,370.5L247.4,360.8M242.9,370.5L215.9,360.9M247.4,360.8L233.4,346.5M233.4,346.5L225.9,351.1M225.9,351.1L215.9,360.9M274.6,376.6L262.5,384.5M262.5,384.5L249.2,380.5M244.5,378.1L242.9,370.5M253.2,356.2L247.4,360.8M202.9,362.7L215.9,360.9M234.5,341.6L233.4,346.5M262.5,384.5L265.4,403.5M288.8,386.2L280.1,396.0M280.1,396.0L265.4,403.5M248.6,411.6L264.9,407.3M265.4,403.5L264.9,407.3M270.5,413.6L268.6,410.9M264.9,407.3L268.6,410.9M287.3,402.7L281.0,398.1M287.3,402.7L282.3,403.0M282.3,403.0L281.0,398.1M289.3,402.8L287.3,402.7M280.1,396.0L281.0,398.1M268.6,410.9L282.3,403.0" stroke="#ffbf4a" stroke-width="0.55" fill="none"/><line x1="241.1" y1="388.0" x2="247.3" y2="394.2" stroke="#e00000" stroke-width="2.70"/><line x1="247.3" y1="394.2" x2="253.5" y2="400.4" stroke="#7474b4" stroke-width="2.70"/><line x1="257.5" y1="396.5" x2="255.5" y2="398.4" stroke="#e00000" stroke-width="2.70"/><line x1="255.5" y1="398.4" x2="253.5" y2="400.4" stroke="#7474b4" stroke-width="2.70"/><line x1="266.7" y1="397.8" x2="260.1" y2="399.1" stroke="#e00000" stroke-width="2.70"/><line x1="260.1" y1="399.1" x2="253.5" y2="400.4" stroke="#7474b4" stroke-width="2.70"/><line x1="266.7" y1="397.8" x2="273.9" y2="399.1" stroke="#e00000" stroke-width="2.70"/><line x1="273.9" y1="399.1" x2="281.1" y2="400.4" stroke="#58d0d6" stroke-width="2.70"/><line x1="253.5" y1="400.4" x2="247.6" y2="406.0" stroke="#7474b4" stroke-width="2.70"/><line x1="247.6" y1="406.0" x2="241.7" y2="411.6" stroke="#e00000" stroke-width="2.70"/><line x1="253.5" y1="400.4" x2="250.6" y2="407.3" stroke="#7474b4" stroke-width="2.70"/><line x1="250.6" y1="407.3" x2="247.6" y2="414.2" stroke="#e00000" stroke-width="2.70"/><line x1="281.1" y1="400.4" x2="286.1" y2="403.7" stroke="#58d0d6" stroke-width="2.70"/><line x1="286.1" y1="403.7" x2="291.0" y2="407.0" stroke="#e00000" stroke-width="2.70"/><line x1="281.1" y1="400.4" x2="282.1" y2="410.6" stroke="#58d0d6" stroke-width="2.70"/><line x1="282.1" y1="410.6" x2="283.1" y2="420.8" stroke="#e00000" stroke-width="2.70"/><line x1="287.0" y1="377.4" x2="287.4" y2="382.4" stroke="#e00000" stroke-width="2.70"/><line x1="287.4" y1="382.4" x2="287.7" y2="387.3" stroke="#6a6a6a" stroke-width="2.70"/><line x1="287.7" y1="387.3" x2="291.0" y2="389.2" stroke="#6a6a6a" stroke-width="2.70"/><line x1="291.0" y1="389.2" x2="294.3" y2="391.2" stroke="#6a6a6a" stroke-width="2.70"/><line x1="241.7" y1="411.6" x2="239.8" y2="416.9" stroke="#e00000" stroke-width="2.70"/><line x1="239.8" y1="416.9" x2="237.8" y2="422.1" stroke="#d060d8" stroke-width="2.70"/><line x1="247.6" y1="414.2" x2="242.7" y2="418.1" stroke="#e00000" stroke-width="2.70"/><line x1="242.7" y1="418.1" x2="237.8" y2="422.1" stroke="#d060d8" stroke-width="2.70"/><line x1="291.0" y1="407.0" x2="290.6" y2="414.6" stroke="#e00000" stroke-width="2.70"/><line x1="290.6" y1="414.6" x2="290.3" y2="422.1" stroke="#d060d8" stroke-width="2.70"/><line x1="283.1" y1="420.8" x2="286.7" y2="421.5" stroke="#e00000" stroke-width="2.70"/><line x1="286.7" y1="421.5" x2="290.3" y2="422.1" stroke="#d060d8" stroke-width="2.70"/><line x1="233.2" y1="387.3" x2="237.1" y2="387.6" stroke="#dddddd" stroke-width="2.70"/><line x1="237.1" y1="387.6" x2="241.1" y2="388.0" stroke="#e00000" stroke-width="2.70"/><line x1="240.4" y1="383.4" x2="240.8" y2="385.7" stroke="#dddddd" stroke-width="2.70"/><line x1="240.8" y1="385.7" x2="241.1" y2="388.0" stroke="#e00000" stroke-width="2.70"/><line x1="266.0" y1="391.2" x2="266.4" y2="394.5" stroke="#dddddd" stroke-width="2.70"/><line x1="266.4" y1="394.5" x2="266.7" y2="397.8" stroke="#e00000" stroke-width="2.70"/><line x1="297.5" y1="383.4" x2="295.9" y2="387.3" stroke="#dddddd" stroke-width="2.70"/><line x1="295.9" y1="387.3" x2="294.3" y2="391.2" stroke="#6a6a6a" stroke-width="2.70"/><line x1="289.7" y1="396.5" x2="292.0" y2="393.9" stroke="#dddddd" stroke-width="2.70"/><line x1="292.0" y1="393.9" x2="294.3" y2="391.2" stroke="#6a6a6a" stroke-width="2.70"/><circle cx="233.2" cy="387.3" r="4.62" fill="url(#gH)"/><circle cx="240.4" cy="383.4" r="4.12" fill="url(#gH)"/><circle cx="266.0" cy="391.2" r="4.62" fill="url(#gH)"/><circle cx="297.5" cy="383.4" r="4.12" fill="url(#gH)"/><circle cx="289.7" cy="396.5" r="4.12" fill="url(#gH)"/><circle cx="302.1" cy="397.8" r="4.12" fill="url(#gH)"/><circle cx="241.1" cy="388.0" r="4.62" fill="url(#gO)"/><circle cx="257.5" cy="396.5" r="4.62" fill="url(#gO)"/><circle cx="266.7" cy="397.8" r="4.62" fill="url(#gO)"/><circle cx="253.5" cy="400.4" r="4.62" fill="url(#gFe)"/><circle cx="281.1" cy="400.4" r="4.88" fill="url(#gZn)"/><circle cx="287.0" cy="377.4" r="4.62" fill="url(#gO)"/><circle cx="287.7" cy="387.3" r="4.12" fill="url(#gC)"/><circle cx="294.3" cy="391.2" r="3.62" fill="url(#gC)"/><circle cx="241.7" cy="411.6" r="4.62" fill="url(#gO)"/><circle cx="247.6" cy="414.2" r="4.62" fill="url(#gO)"/><circle cx="237.8" cy="422.1" r="4.12" fill="url(#gAl)"/><circle cx="291.0" cy="407.0" r="4.62" fill="url(#gO)"/><circle cx="283.1" cy="420.8" r="4.62" fill="url(#gO)"/><circle cx="290.3" cy="422.1" r="4.12" fill="url(#gAl)"/></g><rect x="226.3" y="344.3" width="81.4" height="81.1" fill="none" stroke="#555" stroke-width="1"/><text x="229.2" y="357" font-size="12.5">IM12</text><rect x="321.3" y="345.3" width="81.4" height="81.2" fill="#fff"/><g clip-path="url(#clipIM13)"><path d="M398.4,418.6L390.9,397.0M398.4,418.6L389.5,418.0M389.5,418.0L382.2,402.8M382.2,402.8L387.4,395.9M390.9,397.0L387.4,395.9M381.5,426.6L389.5,418.0M381.5,426.6L379.3,426.4M381.1,403.3L382.2,402.8M381.1,403.3L377.2,422.2M379.3,426.4L377.2,422.2M358.5,447.2L361.4,439.7M361.4,439.7L373.1,429.6M379.3,426.4L373.1,429.6M395.6,370.8L392.2,350.1M392.6,349.2L392.2,350.1M349.7,347.3L332.1,341.0M349.7,347.3L348.1,357.2M348.1,357.2L329.2,354.6M332.1,341.0L328.7,346.9M328.7,346.9L327.1,352.7M327.1,352.7L329.2,354.6M356.1,344.4L349.7,347.3M350.2,376.3L348.1,357.2M350.2,376.3L347.6,377.7M347.6,377.7L329.2,354.6M302.4,363.5L320.6,358.0M320.6,358.0L327.1,352.7M394.7,372.6L385.7,379.2M395.6,370.8L394.7,372.6M383.9,380.3L385.7,379.2M383.9,380.3L387.4,395.9M367.7,373.9L383.9,380.3M367.7,373.9L370.5,359.7M370.5,359.7L392.2,350.1M321.2,408.8L325.2,391.0M302.4,363.5L335.9,386.9M325.2,391.0L335.9,386.9M320.6,358.0L335.9,386.9M335.9,386.9L335.9,386.9M347.6,377.7L338.6,387.2M335.9,386.9L338.6,387.2M358.5,447.2L343.4,427.3M381.1,403.3L375.8,404.4M377.2,422.2L367.2,412.1M367.2,412.1L375.8,404.4M366.0,374.6L367.7,373.9M366.0,374.6L366.3,396.4M366.3,396.4L375.8,404.4M366.0,374.6L350.2,376.3M356.1,344.4L358.8,346.2M370.5,359.7L368.3,354.4M358.8,346.2L368.3,354.4M321.2,408.8L321.6,409.4M338.6,387.2L340.2,391.8M340.2,391.8L325.6,410.2M321.6,409.4L325.6,410.2M321.6,409.4L319.0,417.4M363.0,414.5L363.3,413.1M363.0,414.5L358.6,423.3M363.3,413.1L352.8,404.5M358.6,423.3L339.6,418.4M339.6,418.4L345.1,402.1M345.1,402.1L352.8,404.5M373.1,429.6L363.0,414.5M367.2,412.1L363.3,413.1M361.4,439.7L358.6,423.3M366.3,396.4L352.8,404.5M343.4,427.3L338.6,419.6M338.6,419.6L339.6,418.4M340.2,391.8L345.1,402.1M368.7,340.7L369.7,351.8M368.7,340.7L378.6,331.3M369.7,351.8L379.6,334.6M378.6,331.3L379.6,334.6M358.8,346.2L368.7,340.7M368.3,354.4L369.7,351.8M392.6,349.2L379.6,334.6M338.1,419.8L325.8,439.6M338.1,419.8L334.6,418.9M334.6,418.9L320.4,419.9M325.8,439.6L318.7,424.3M318.7,424.3L320.4,419.9M338.6,419.6L338.1,419.8M325.6,410.2L334.6,418.9M319.0,417.4L320.4,419.9" stroke="#ff5a5a" stroke-width="0.55" fill="none"/><path d="M413.1,414.0L402.0,427.4M413.1,414.0L402.8,406.9M402.0,427.4L390.7,423.6M390.7,423.6L402.8,406.9M338.8,365.9L324.0,364.6M338.8,365.9L339.0,366.2M339.0,366.2L324.9,388.6M390.7,423.6L382.3,425.3M382.3,425.3L379.1,429.9M355.1,337.8L355.7,351.7M355.1,337.8L372.0,346.1M372.0,346.1L361.8,351.5M355.7,351.7L361.8,351.5M389.5,338.6L377.3,348.3M377.3,348.3L372.0,346.1M377.3,348.3L375.2,355.1M375.2,355.1L361.8,351.5M339.2,366.2L349.6,377.2M339.2,366.2L354.6,359.1M349.6,377.2L376.4,376.3M354.6,359.1L372.6,366.8M372.6,366.8L376.4,376.3M339.0,366.2L339.2,366.2M355.7,351.7L354.6,359.1M375.2,355.1L372.6,366.8M382.7,416.3L381.5,420.3M382.7,416.3L380.3,405.7M381.5,420.3L364.4,403.1M380.3,405.7L366.6,401.1M364.4,403.1L366.6,401.1M393.3,402.8L399.8,401.2M393.3,402.8L382.7,416.3M402.8,406.9L399.8,401.2M382.3,425.3L381.5,420.3M385.0,400.3L380.3,405.7M385.0,400.3L393.3,402.8M375.1,387.5L385.0,400.3M375.1,387.5L366.6,401.1M377.9,376.8L400.9,397.0M377.9,376.8L378.2,376.7M378.2,376.7L413.0,384.7M400.9,397.0L413.3,384.9M413.3,384.9L413.0,384.7M377.0,376.9L377.9,376.8M377.0,376.9L375.1,387.5M399.8,401.2L400.9,397.0M405.4,363.6L394.8,343.8M405.4,363.6L401.0,368.1M401.0,368.1L393.2,367.6M393.2,367.6L393.1,342.9M393.1,342.9L394.8,343.8M423.9,353.1L405.4,363.6M423.9,353.1L394.8,343.8M413.0,384.7L401.0,368.1M378.2,376.7L393.2,367.6M389.5,338.6L393.1,342.9M377.0,376.9L376.7,376.7M376.7,376.7L376.4,376.3M329.3,396.4L343.6,414.3M343.6,414.3L341.2,424.7M324.9,388.6L326.7,390.3M326.7,390.3L329.3,396.4M326.7,390.3L346.5,390.1M343.6,414.3L349.6,408.6M349.6,408.6L346.5,390.1M376.7,376.7L355.1,389.4M349.6,377.2L349.4,387.1M355.1,389.4L349.4,387.1M349.4,387.1L346.5,390.1M363.6,423.9L367.1,424.0M363.6,423.9L359.0,405.0M367.1,424.0L364.0,403.2M364.0,403.2L362.9,403.3M362.9,403.3L359.0,405.0M379.1,429.9L367.1,424.0M341.2,424.7L363.6,423.9M349.6,408.6L359.0,405.0M364.4,403.1L364.0,403.2M355.1,389.4L362.9,403.3" stroke="#ffbf4a" stroke-width="0.55" fill="none"/><line x1="380.4" y1="371.5" x2="381.4" y2="376.1" stroke="#e00000" stroke-width="2.70"/><line x1="381.4" y1="376.1" x2="382.4" y2="380.7" stroke="#6a6a6a" stroke-width="2.70"/><line x1="380.4" y1="371.5" x2="385.0" y2="375.8" stroke="#e00000" stroke-width="2.70"/><line x1="385.0" y1="375.8" x2="389.6" y2="380.1" stroke="#6a6a6a" stroke-width="2.70"/><line x1="382.4" y1="380.7" x2="386.0" y2="380.4" stroke="#6a6a6a" stroke-width="2.70"/><line x1="386.0" y1="380.4" x2="389.6" y2="380.1" stroke="#6a6a6a" stroke-width="2.70"/><line x1="357.4" y1="391.2" x2="352.4" y2="395.8" stroke="#e00000" stroke-width="2.70"/><line x1="352.4" y1="395.8" x2="347.5" y2="400.4" stroke="#7474b4" stroke-width="2.70"/><line x1="357.4" y1="391.2" x2="364.9" y2="394.5" stroke="#e00000" stroke-width="2.70"/><line x1="364.9" y1="394.5" x2="372.5" y2="397.8" stroke="#58d0d6" stroke-width="2.70"/><line x1="347.5" y1="400.4" x2="341.6" y2="403.0" stroke="#7474b4" stroke-width="2.70"/><line x1="341.6" y1="403.0" x2="335.7" y2="405.7" stroke="#e00000" stroke-width="2.70"/><line x1="347.5" y1="400.4" x2="343.2" y2="406.4" stroke="#7474b4" stroke-width="2.70"/><line x1="343.2" y1="406.4" x2="339.0" y2="412.3" stroke="#e00000" stroke-width="2.70"/><line x1="372.5" y1="397.8" x2="378.4" y2="401.1" stroke="#58d0d6" stroke-width="2.70"/><line x1="378.4" y1="401.1" x2="384.3" y2="404.4" stroke="#e00000" stroke-width="2.70"/><line x1="372.5" y1="397.8" x2="375.1" y2="406.6" stroke="#58d0d6" stroke-width="2.70"/><line x1="375.1" y1="406.6" x2="377.8" y2="415.5" stroke="#e00000" stroke-width="2.70"/><line x1="335.7" y1="405.7" x2="333.1" y2="412.6" stroke="#e00000" stroke-width="2.70"/><line x1="333.1" y1="412.6" x2="330.5" y2="419.5" stroke="#d060d8" stroke-width="2.70"/><line x1="339.0" y1="412.3" x2="334.8" y2="415.9" stroke="#e00000" stroke-width="2.70"/><line x1="334.8" y1="415.9" x2="330.5" y2="419.5" stroke="#d060d8" stroke-width="2.70"/><line x1="384.3" y1="404.4" x2="384.3" y2="412.2" stroke="#e00000" stroke-width="2.70"/><line x1="384.3" y1="412.2" x2="384.3" y2="420.1" stroke="#d060d8" stroke-width="2.70"/><line x1="377.8" y1="415.5" x2="381.1" y2="417.8" stroke="#e00000" stroke-width="2.70"/><line x1="381.1" y1="417.8" x2="384.3" y2="420.1" stroke="#d060d8" stroke-width="2.70"/><line x1="392.9" y1="370.9" x2="391.2" y2="375.5" stroke="#dddddd" stroke-width="2.70"/><line x1="391.2" y1="375.5" x2="389.6" y2="380.1" stroke="#6a6a6a" stroke-width="2.70"/><line x1="383.7" y1="385.3" x2="383.0" y2="383.0" stroke="#dddddd" stroke-width="2.70"/><line x1="383.0" y1="383.0" x2="382.4" y2="380.7" stroke="#6a6a6a" stroke-width="2.70"/><line x1="397.5" y1="386.0" x2="393.6" y2="383.1" stroke="#dddddd" stroke-width="2.70"/><line x1="393.6" y1="383.1" x2="389.6" y2="380.1" stroke="#6a6a6a" stroke-width="2.70"/><line x1="355.4" y1="382.7" x2="356.4" y2="386.9" stroke="#dddddd" stroke-width="2.70"/><line x1="356.4" y1="386.9" x2="357.4" y2="391.2" stroke="#e00000" stroke-width="2.70"/><circle cx="392.9" cy="370.9" r="4.12" fill="url(#gH)"/><circle cx="383.7" cy="385.3" r="4.12" fill="url(#gH)"/><circle cx="397.5" cy="386.0" r="4.12" fill="url(#gH)"/><circle cx="355.4" cy="382.7" r="4.12" fill="url(#gH)"/><circle cx="380.4" cy="371.5" r="4.62" fill="url(#gO)"/><circle cx="382.4" cy="380.7" r="4.12" fill="url(#gC)"/><circle cx="389.6" cy="380.1" r="3.62" fill="url(#gC)"/><circle cx="357.4" cy="391.2" r="4.62" fill="url(#gO)"/><circle cx="347.5" cy="400.4" r="4.62" fill="url(#gFe)"/><circle cx="372.5" cy="397.8" r="4.88" fill="url(#gZn)"/><circle cx="335.7" cy="405.7" r="4.62" fill="url(#gO)"/><circle cx="339.0" cy="412.3" r="4.62" fill="url(#gO)"/><circle cx="330.5" cy="419.5" r="4.62" fill="url(#gAl)"/><circle cx="384.3" cy="404.4" r="4.62" fill="url(#gO)"/><circle cx="377.8" cy="415.5" r="4.62" fill="url(#gO)"/><circle cx="384.3" cy="420.1" r="4.12" fill="url(#gAl)"/></g><rect x="321.3" y="345.3" width="81.4" height="81.2" fill="none" stroke="#555" stroke-width="1"/><text x="324.1" y="357" font-size="12.5">IM13</text><rect x="412.3" y="345" width="81.4" height="81.1" fill="#fff"/><g clip-path="url(#clipIM14)"><path d="M483.7,417.9L478.8,423.9M484.2,435.0L478.8,423.9M482.2,394.7L479.4,392.7M482.2,394.7L517.1,389.9M481.7,371.4L497.2,376.3M481.7,371.4L478.2,386.6M479.4,392.7L478.2,386.6M517.1,389.9L497.2,376.3M461.2,347.9L466.2,316.5M461.2,347.9L451.6,356.9M451.6,356.9L443.8,358.2M443.8,358.2L435.9,350.8M428.0,337.9L435.9,350.8M405.4,401.0L424.2,414.7M405.4,401.0L398.2,390.7M398.2,390.7L417.1,390.6M417.1,390.6L425.1,410.5M425.1,410.5L424.2,414.7M422.4,390.2L430.0,394.0M422.4,390.2L417.1,390.6M430.0,394.0L425.1,410.5M447.6,414.2L449.4,411.7M447.6,414.2L462.7,443.3M449.4,411.7L472.0,427.2M462.7,443.3L472.0,427.2M478.8,423.9L477.9,424.2M477.9,424.2L472.0,427.2M442.4,429.9L412.3,441.9M442.4,429.9L445.9,415.3M445.9,415.3L425.7,417.4M425.7,417.4L413.6,438.1M412.3,441.9L413.6,438.1M447.6,414.2L445.9,415.3M451.1,406.7L449.4,411.7M451.1,406.7L442.5,394.2M442.5,394.2L430.0,394.0M424.2,414.7L425.7,417.4M406.5,412.5L413.6,438.1M406.5,412.5L405.4,401.0M482.2,394.7L478.4,405.3M483.7,417.9L479.0,410.9M478.4,405.3L479.0,410.9M477.9,424.2L461.5,409.0M479.0,410.9L461.5,409.0M451.1,406.7L451.4,406.5M451.4,406.5L461.5,409.0M473.3,393.2L468.3,383.5M473.3,393.2L463.4,397.9M461.8,398.1L463.4,397.9M461.8,398.1L463.5,380.3M468.3,383.5L464.1,379.9M463.5,380.3L464.1,379.9M479.4,392.7L473.3,393.2M478.2,386.6L468.3,383.5M478.4,405.3L463.4,397.9M451.4,406.5L461.8,398.1M442.5,394.2L445.8,378.1M445.8,378.1L463.5,380.3M481.7,371.4L480.7,370.7M480.7,370.7L472.5,369.0M472.5,369.0L464.1,379.9M422.9,372.6L425.0,363.7M435.9,350.8L425.0,363.7M443.2,366.3L445.8,378.0M443.2,366.3L425.8,374.6M445.8,378.0L426.6,380.7M425.8,374.6L426.6,380.7M451.6,356.9L472.4,368.9M443.8,358.2L443.2,366.3M445.8,378.1L445.8,378.0M472.4,368.9L472.5,369.0M422.9,372.6L425.8,374.6M422.4,390.2L426.6,380.7M461.2,347.9L469.6,350.1M466.2,316.5L478.1,340.6M469.6,350.1L478.1,340.6M472.4,368.9L473.5,354.5M469.6,350.1L473.5,354.5M481.0,343.1L481.9,350.6M481.0,343.1L490.8,341.1M481.9,350.6L486.8,354.9M486.8,354.9L495.0,352.8M490.8,341.1L498.4,344.3M495.0,352.8L500.7,347.3M498.4,344.3L500.7,347.3M473.5,354.5L481.9,350.6M478.1,340.6L481.0,343.1M480.7,370.7L486.8,354.9M497.2,376.3L495.0,352.8" stroke="#ff5a5a" stroke-width="0.55" fill="none"/><path d="M387.3,358.0L426.4,332.4M459.6,408.1L453.8,412.4M459.6,408.1L460.1,408.8M460.1,408.8L466.9,420.9M453.8,412.4L461.2,422.5M466.9,420.9L461.2,422.5M473.7,423.3L475.8,420.3M473.7,423.3L466.9,420.9M475.8,420.3L460.1,408.8M449.8,442.9L461.2,422.5M475.8,420.3L485.0,409.7M459.6,408.1L460.2,407.1M485.0,409.7L460.2,407.1M417.4,440.6L419.5,430.4M401.5,404.8L404.2,405.9M419.5,430.4L404.2,405.9M445.7,381.7L437.0,382.3M445.7,381.7L446.8,393.6M437.0,382.3L441.4,398.3M446.8,393.6L441.4,398.3M437.4,403.8L441.4,398.3M437.4,403.8L460.0,399.5M460.5,395.9L460.0,399.5M460.5,395.9L446.8,393.6M437.4,403.8L436.9,404.3M430.7,400.7L436.9,404.3M430.7,400.7L427.1,381.0M437.0,382.3L427.9,380.8M427.1,381.0L427.9,380.8M401.5,404.8L420.1,378.3M430.7,400.7L409.1,406.0M404.2,405.9L409.1,406.0M427.1,381.0L420.1,378.3M387.3,358.0L413.1,366.5M420.1,378.3L413.1,366.5M426.4,332.4L429.2,353.9M413.1,366.5L429.2,353.9M429.2,353.9L440.2,358.6M439.5,411.8L424.1,415.9M439.5,411.8L442.6,416.3M442.6,416.3L442.2,420.6M442.2,420.6L423.5,426.9M423.5,426.9L424.1,415.9M436.9,404.3L439.5,411.8M409.1,406.0L424.1,415.9M453.8,412.4L442.6,416.3M460.2,407.1L460.0,399.5M449.8,442.9L442.2,420.6M419.5,430.4L423.5,426.9M492.4,408.8L488.3,407.9M488.3,407.9L482.6,398.7M482.6,398.7L487.0,383.5M487.0,383.5L500.6,379.6M485.0,409.7L488.3,407.9M487.0,383.5L474.8,372.7M500.6,379.6L488.0,367.5M474.8,372.7L488.0,367.5M488.0,367.5L495.4,350.5M466.3,341.8L470.5,347.3M495.4,350.5L470.5,347.3M466.3,341.8L446.0,359.3M440.2,358.6L441.7,359.9M446.0,359.3L441.7,359.9M427.9,380.8L441.5,363.3M441.7,359.9L441.5,363.3M468.7,368.2L471.7,372.5M468.7,368.2L463.1,368.3M463.1,368.3L448.5,377.1M471.7,372.5L466.8,388.7M465.3,389.4L466.8,388.7M465.3,389.4L447.9,379.9M447.9,379.9L448.5,377.1M474.8,372.7L471.7,372.5M470.5,347.3L468.7,368.2M446.0,359.3L463.1,368.3M441.5,363.3L448.5,377.1M482.6,398.7L466.8,388.7M460.5,395.9L465.3,389.4M445.7,381.7L447.9,379.9" stroke="#ffbf4a" stroke-width="0.55" fill="none"/><line x1="459.9" y1="375.5" x2="464.9" y2="378.1" stroke="#e00000" stroke-width="2.70"/><line x1="464.9" y1="378.1" x2="469.8" y2="380.7" stroke="#6a6a6a" stroke-width="2.70"/><line x1="469.8" y1="380.7" x2="474.7" y2="377.8" stroke="#6a6a6a" stroke-width="2.70"/><line x1="474.7" y1="377.8" x2="479.6" y2="374.8" stroke="#6a6a6a" stroke-width="2.70"/><line x1="469.8" y1="380.7" x2="471.1" y2="386.3" stroke="#6a6a6a" stroke-width="2.70"/><line x1="471.1" y1="386.3" x2="472.4" y2="391.9" stroke="#e00000" stroke-width="2.70"/><line x1="472.4" y1="391.9" x2="466.8" y2="395.9" stroke="#e00000" stroke-width="2.70"/><line x1="466.8" y1="395.9" x2="461.2" y2="399.8" stroke="#58d0d6" stroke-width="2.70"/><line x1="446.8" y1="390.6" x2="440.9" y2="395.9" stroke="#e00000" stroke-width="2.70"/><line x1="440.9" y1="395.9" x2="434.9" y2="401.1" stroke="#7474b4" stroke-width="2.70"/><line x1="446.8" y1="390.6" x2="454.0" y2="395.2" stroke="#e00000" stroke-width="2.70"/><line x1="454.0" y1="395.2" x2="461.2" y2="399.8" stroke="#58d0d6" stroke-width="2.70"/><line x1="434.9" y1="401.1" x2="428.7" y2="404.7" stroke="#7474b4" stroke-width="2.70"/><line x1="428.7" y1="404.7" x2="422.5" y2="408.3" stroke="#e00000" stroke-width="2.70"/><line x1="434.9" y1="401.1" x2="431.3" y2="408.3" stroke="#7474b4" stroke-width="2.70"/><line x1="431.3" y1="408.3" x2="427.7" y2="415.5" stroke="#e00000" stroke-width="2.70"/><line x1="461.2" y1="399.8" x2="465.8" y2="402.8" stroke="#58d0d6" stroke-width="2.70"/><line x1="465.8" y1="402.8" x2="470.4" y2="405.7" stroke="#e00000" stroke-width="2.70"/><line x1="461.2" y1="399.8" x2="462.5" y2="409.3" stroke="#58d0d6" stroke-width="2.70"/><line x1="462.5" y1="409.3" x2="463.8" y2="418.8" stroke="#e00000" stroke-width="2.70"/><line x1="422.5" y1="408.3" x2="420.9" y2="415.2" stroke="#e00000" stroke-width="2.70"/><line x1="420.9" y1="415.2" x2="419.2" y2="422.1" stroke="#d060d8" stroke-width="2.70"/><line x1="427.7" y1="415.5" x2="423.4" y2="418.8" stroke="#e00000" stroke-width="2.70"/><line x1="423.4" y1="418.8" x2="419.2" y2="422.1" stroke="#d060d8" stroke-width="2.70"/><line x1="470.4" y1="405.7" x2="471.4" y2="413.6" stroke="#e00000" stroke-width="2.70"/><line x1="471.4" y1="413.6" x2="472.4" y2="421.5" stroke="#d060d8" stroke-width="2.70"/><line x1="463.8" y1="418.8" x2="468.1" y2="420.1" stroke="#e00000" stroke-width="2.70"/><line x1="468.1" y1="420.1" x2="472.4" y2="421.5" stroke="#d060d8" stroke-width="2.70"/><line x1="453.3" y1="381.4" x2="456.6" y2="378.4" stroke="#dddddd" stroke-width="2.70"/><line x1="456.6" y1="378.4" x2="459.9" y2="375.5" stroke="#e00000" stroke-width="2.70"/><line x1="475.7" y1="369.6" x2="477.6" y2="372.2" stroke="#dddddd" stroke-width="2.70"/><line x1="477.6" y1="372.2" x2="479.6" y2="374.8" stroke="#6a6a6a" stroke-width="2.70"/><line x1="483.5" y1="368.2" x2="481.6" y2="371.5" stroke="#dddddd" stroke-width="2.70"/><line x1="481.6" y1="371.5" x2="479.6" y2="374.8" stroke="#6a6a6a" stroke-width="2.70"/><line x1="486.8" y1="380.7" x2="483.2" y2="377.8" stroke="#dddddd" stroke-width="2.70"/><line x1="483.2" y1="377.8" x2="479.6" y2="374.8" stroke="#6a6a6a" stroke-width="2.70"/><circle cx="453.3" cy="381.4" r="4.12" fill="url(#gH)"/><circle cx="475.7" cy="369.6" r="4.12" fill="url(#gH)"/><circle cx="483.5" cy="368.2" r="4.12" fill="url(#gH)"/><circle cx="486.8" cy="380.7" r="4.12" fill="url(#gH)"/><circle cx="459.9" cy="375.5" r="4.62" fill="url(#gO)"/><circle cx="469.8" cy="380.7" r="4.12" fill="url(#gC)"/><circle cx="479.6" cy="374.8" r="3.62" fill="url(#gC)"/><circle cx="472.4" cy="391.9" r="4.62" fill="url(#gO)"/><circle cx="446.8" cy="390.6" r="4.62" fill="url(#gO)"/><circle cx="434.9" cy="401.1" r="4.62" fill="url(#gFe)"/><circle cx="461.2" cy="399.8" r="4.88" fill="url(#gZn)"/><circle cx="422.5" cy="408.3" r="4.62" fill="url(#gO)"/><circle cx="427.7" cy="415.5" r="4.62" fill="url(#gO)"/><circle cx="419.2" cy="422.1" r="4.62" fill="url(#gAl)"/><circle cx="470.4" cy="405.7" r="4.62" fill="url(#gO)"/><circle cx="463.8" cy="418.8" r="4.62" fill="url(#gO)"/><circle cx="472.4" cy="421.5" r="4.12" fill="url(#gAl)"/></g><rect x="412.3" y="345" width="81.4" height="81.1" fill="none" stroke="#555" stroke-width="1"/><text x="415.6" y="357" font-size="12.5">IM14</text><rect x="506.3" y="344.3" width="81.4" height="81.4" fill="#fff"/><g clip-path="url(#clipIM15)"><path d="M574.9,432.0L586.5,427.4M607.4,379.2L572.0,391.8M572.0,391.8L570.9,395.5M570.9,395.5L580.5,414.4M580.5,414.4L590.9,416.4M586.5,427.4L590.9,416.4M607.4,379.2L584.5,361.8M578.3,323.1L584.5,361.8M500.6,386.3L510.7,365.4M500.6,386.3L495.1,398.6M495.1,398.6L501.6,396.2M501.6,396.2L523.3,382.5M523.3,382.5L515.1,365.1M515.1,365.1L510.7,365.4M500.6,386.3L497.9,360.4M510.7,365.4L497.9,360.4M495.1,398.6L493.7,399.6M497.3,360.1L497.9,360.4M574.9,432.0L564.8,430.3M580.5,414.4L569.3,418.3M569.3,418.3L564.8,430.3M570.9,395.5L564.8,400.4M564.8,400.4L565.8,415.4M569.3,418.3L565.8,415.4M546.6,402.2L547.2,403.3M546.6,402.2L534.6,394.8M547.2,403.3L547.6,411.1M531.1,416.3L526.8,404.7M531.1,416.3L546.0,414.7M547.6,411.1L546.0,414.7M534.6,394.8L528.4,400.9M528.4,400.9L526.8,404.7M548.7,373.9L553.7,378.3M548.7,373.9L544.0,372.9M544.0,372.9L531.9,385.7M531.9,385.7L534.6,394.8M556.6,384.9L553.7,378.3M556.6,384.9L546.6,402.2M564.8,400.4L547.2,403.3M565.8,415.4L547.6,411.1M542.4,429.1L538.4,435.9M542.4,429.1L546.6,420.4M538.4,435.9L530.1,417.4M530.1,417.4L531.1,416.3M546.6,420.4L546.0,414.7M501.6,396.2L528.4,400.9M531.9,385.7L523.3,382.5M493.7,399.6L511.7,413.9M511.7,413.9L526.8,404.7M510.7,424.8L513.7,417.8M513.7,417.8L522.1,421.5M522.1,421.5L531.2,448.9M506.8,426.4L510.7,424.8M511.7,413.9L513.7,417.8M530.1,417.4L522.1,421.5M537.7,437.9L538.4,435.9M537.7,437.9L531.2,448.9M571.9,391.7L569.4,390.1M571.9,391.7L570.8,370.4M569.4,390.1L566.0,374.3M570.8,370.4L566.0,374.3M572.0,391.8L571.9,391.7M556.6,384.9L569.4,390.1M584.5,361.8L575.6,363.8M575.6,363.8L570.8,370.4M553.7,378.3L566.0,374.3M562.6,360.5L570.4,362.5M562.6,360.5L554.5,347.9M570.4,362.5L563.0,339.1M554.5,347.9L563.0,339.1M548.7,373.9L562.6,360.5M575.6,363.8L570.4,362.5M544.0,372.9L537.1,356.7M539.8,349.2L537.1,356.7M539.8,349.2L554.5,347.9M578.3,323.1L563.0,339.1M539.8,349.2L527.9,325.7M516.7,363.5L507.9,344.3M516.7,363.5L517.4,362.9M517.4,362.9L517.7,337.0M517.7,337.0L508.8,341.3M508.8,341.3L507.9,344.3M515.1,365.1L516.7,363.5M497.3,360.1L507.9,344.3M537.1,356.7L517.4,362.9M527.9,325.7L517.7,337.0M564.2,430.8L549.6,422.3M564.2,430.8L563.5,433.6M549.6,422.3L552.2,431.8M563.5,433.6L556.4,434.0M556.4,434.0L552.2,431.8M564.8,430.3L564.2,430.8M546.6,420.4L549.6,422.3M542.4,429.1L552.2,431.8M537.7,437.9L556.4,434.0" stroke="#ff5a5a" stroke-width="0.55" fill="none"/><path d="M511.8,405.4L523.2,421.3M523.2,421.3L523.6,421.8M511.8,405.4L512.2,403.6M523.6,421.8L547.5,401.1M547.5,401.1L545.8,393.2M512.2,403.6L545.8,393.2M509.6,350.1L518.0,347.9M512.2,403.6L512.7,399.6M545.7,391.6L545.8,393.2M545.7,391.6L522.7,391.4M512.7,399.6L522.7,391.4M548.2,379.5L545.7,391.6M548.2,379.5L545.2,375.4M522.7,391.4L530.1,376.5M545.2,375.4L530.1,376.5M547.5,401.1L554.9,405.8M574.9,425.0L554.9,405.8M548.2,379.5L556.1,379.5M556.1,379.5L563.9,394.0M554.9,405.8L563.9,394.0M504.6,353.6L509.6,364.3M509.6,364.3L506.5,378.5M505.6,379.4L506.5,378.5M509.6,350.1L504.6,353.6M512.7,399.6L505.6,379.4M523.8,373.3L522.0,361.5M523.8,373.3L506.5,378.5M522.0,361.5L509.6,364.3M530.1,376.5L523.8,373.3M542.0,354.5L534.7,339.8M542.0,354.5L525.4,353.3M522.0,349.9L525.4,353.3M522.0,349.9L529.6,337.1M529.6,337.1L534.7,339.8M552.2,349.8L562.6,329.8M552.2,349.8L545.1,355.6M545.1,355.6L542.0,354.5M562.6,329.8L564.1,320.7M545.2,375.4L545.1,355.6M522.0,361.5L525.4,353.3M518.0,347.9L522.0,349.9M552.2,349.8L566.7,360.9M556.1,379.5L566.4,377.7M566.7,360.9L566.4,377.7M564.1,320.7L592.6,350.1M574.9,425.0L574.7,419.6M563.9,394.0L568.9,394.5M574.7,419.6L568.9,394.5M574.7,419.6L579.3,384.2M587.4,385.1L579.3,384.2M568.9,394.5L574.7,381.9M579.3,384.2L574.7,381.9M566.4,377.7L572.2,379.2M574.7,381.9L572.2,379.2M596.4,364.8L587.8,363.3M596.4,364.8L597.3,380.0M587.8,363.3L590.4,372.2M590.4,372.2L593.5,380.5M597.3,380.0L593.5,380.5M587.4,385.1L593.5,380.5M572.2,379.2L575.8,373.6M575.8,373.6L590.4,372.2M566.7,360.9L577.6,357.9M575.8,373.6L583.1,360.8M583.1,360.8L577.6,357.9M587.8,363.3L585.1,360.5M583.1,360.8L585.1,360.5M592.6,350.1L591.3,351.4M585.1,360.5L591.3,351.4M566.6,335.8L582.8,348.0M566.6,335.8L574.7,351.0M574.7,351.0L582.8,348.0M562.6,329.8L566.6,335.8M591.3,351.4L582.8,348.0M577.6,357.9L574.7,351.0" stroke="#ffbf4a" stroke-width="0.55" fill="none"/><line x1="547.3" y1="386.0" x2="539.8" y2="391.2" stroke="#e00000" stroke-width="2.70"/><line x1="539.8" y1="391.2" x2="532.2" y2="396.5" stroke="#7474b4" stroke-width="2.70"/><line x1="547.3" y1="386.0" x2="554.5" y2="391.9" stroke="#e00000" stroke-width="2.70"/><line x1="554.5" y1="391.9" x2="561.8" y2="397.8" stroke="#58d0d6" stroke-width="2.70"/><line x1="532.2" y1="396.5" x2="526.7" y2="400.4" stroke="#7474b4" stroke-width="2.70"/><line x1="526.7" y1="400.4" x2="521.1" y2="404.4" stroke="#e00000" stroke-width="2.70"/><line x1="532.2" y1="396.5" x2="528.0" y2="404.7" stroke="#7474b4" stroke-width="2.70"/><line x1="528.0" y1="404.7" x2="523.7" y2="412.9" stroke="#e00000" stroke-width="2.70"/><line x1="561.8" y1="397.8" x2="567.7" y2="400.1" stroke="#58d0d6" stroke-width="2.70"/><line x1="567.7" y1="400.1" x2="573.6" y2="402.4" stroke="#e00000" stroke-width="2.70"/><line x1="561.8" y1="397.8" x2="565.4" y2="406.6" stroke="#58d0d6" stroke-width="2.70"/><line x1="565.4" y1="406.6" x2="569.0" y2="415.5" stroke="#e00000" stroke-width="2.70"/><line x1="521.1" y1="404.4" x2="519.1" y2="412.6" stroke="#e00000" stroke-width="2.70"/><line x1="519.1" y1="412.6" x2="517.1" y2="420.8" stroke="#d060d8" stroke-width="2.70"/><line x1="523.7" y1="412.9" x2="520.4" y2="416.9" stroke="#e00000" stroke-width="2.70"/><line x1="520.4" y1="416.9" x2="517.1" y2="420.8" stroke="#d060d8" stroke-width="2.70"/><line x1="573.6" y1="402.4" x2="574.9" y2="411.2" stroke="#e00000" stroke-width="2.70"/><line x1="574.9" y1="411.2" x2="576.2" y2="420.1" stroke="#d060d8" stroke-width="2.70"/><line x1="569.0" y1="415.5" x2="572.6" y2="417.8" stroke="#e00000" stroke-width="2.70"/><line x1="572.6" y1="417.8" x2="576.2" y2="420.1" stroke="#d060d8" stroke-width="2.70"/><circle cx="547.3" cy="386.0" r="4.88" fill="url(#gO)"/><circle cx="532.2" cy="396.5" r="4.62" fill="url(#gFe)"/><circle cx="561.8" cy="397.8" r="4.88" fill="url(#gZn)"/><circle cx="521.1" cy="404.4" r="4.88" fill="url(#gO)"/><circle cx="523.7" cy="412.9" r="4.62" fill="url(#gO)"/><circle cx="517.1" cy="420.8" r="4.62" fill="url(#gAl)"/><circle cx="573.6" cy="402.4" r="4.62" fill="url(#gO)"/><circle cx="569.0" cy="415.5" r="4.62" fill="url(#gO)"/><circle cx="576.2" cy="420.1" r="4.12" fill="url(#gAl)"/></g><rect x="506.3" y="344.3" width="81.4" height="81.4" fill="none" stroke="#555" stroke-width="1"/><text x="509.2" y="357" font-size="12.5">IM15</text><circle cx="614.7" cy="355.8" r="8.5" fill="url(#gFe)"/><circle cx="615.9000000000001" cy="354.6" r="0.9" fill="#fff" opacity="0.9"/><text x="627.6" y="359" font-size="12">Fe</text><circle cx="659" cy="355.5" r="7.5" fill="url(#gC)"/><circle cx="660.2" cy="354.3" r="0.9" fill="#fff" opacity="0.9"/><text x="669.6" y="360.2" font-size="12">C</text><circle cx="614.7" cy="384.7" r="8.9" fill="url(#gZn)"/><circle cx="615.9000000000001" cy="383.5" r="0.9" fill="#fff" opacity="0.9"/><text x="627.6" y="389.5" font-size="12">Zn</text><circle cx="659" cy="384.7" r="7.6" fill="url(#gH)"/><circle cx="660.2" cy="383.5" r="0.9" fill="#fff" opacity="0.9"/><text x="669.6" y="389.5" font-size="12">H</text><circle cx="614.4" cy="414.2" r="8.5" fill="url(#gAl)"/><circle cx="615.6" cy="413.0" r="0.9" fill="#fff" opacity="0.9"/><text x="628.5" y="417.8" font-size="12">Al</text><circle cx="659.4" cy="414.2" r="7.5" fill="url(#gO)"/><circle cx="660.6" cy="413.0" r="0.9" fill="#fff" opacity="0.9"/><text x="669.6" y="418.2" font-size="12">O</text><text x="18" y="442" font-size="13.5">(c)</text><text transform="translate(32,559.8) rotate(-90)" text-anchor="middle" font-size="10">K-M intensity (a. u.)</text><rect x="36.6" y="432.3" width="61.1" height="256.3" fill="#fff" stroke="#333" stroke-width="1.1"/><text x="67.2" y="447.6" text-anchor="middle" font-size="12.5">IM3</text><g clip-path="url(#cclip0)"><path d="M39.8,521.2L45.7,517.2M45.7,517.2L68.9,531.3M46.4,509.5L37.8,518.7M46.4,509.5L48.7,504.0M48.7,504.0L46.2,501.9M46.2,501.9L34.9,502.3M34.1,502.5L34.9,502.3M34.1,502.5L24.6,510.3M24.6,510.3L37.8,518.7M39.8,521.2L37.8,518.7M45.7,517.2L46.4,509.5M59.6,508.0L48.7,504.0M59.6,508.0L69.0,531.1M69.0,531.1L68.9,531.3M65.7,499.1L59.6,508.0M65.7,499.1L50.6,484.3M50.6,484.3L49.5,484.4M49.5,484.4L46.2,501.9M37.5,489.5L34.9,502.3M37.5,489.5L46.5,482.2M46.5,482.2L49.5,484.4M31.2,495.4L29.5,486.2M29.5,486.2L25.1,476.9M37.5,489.5L29.5,486.2M34.1,502.5L31.2,495.4M38.3,441.3L28.6,457.0M80.2,457.6L92.2,447.8M92.9,446.8L92.2,447.8M95.3,464.5L98.6,459.2M95.3,464.5L101.1,469.5M98.6,459.2L114.0,459.0M101.1,469.5L114.0,459.0M92.9,446.8L118.6,456.8M98.6,459.2L92.2,447.8M118.6,456.8L114.0,459.0M85.5,510.2L101.0,514.0M85.5,510.2L84.6,500.2M84.6,500.2L116.6,492.8M69.0,531.1L85.5,510.2M100.3,476.8L111.1,488.9M100.3,476.8L101.1,469.5M111.1,488.9L116.6,492.8M80.2,457.6L80.2,457.7M58.3,448.9L74.2,459.0M80.2,457.7L74.2,459.0M95.3,464.5L84.2,463.7M80.2,457.7L84.2,463.7M55.1,457.6L58.3,448.9M55.1,457.6L49.7,463.6M38.3,441.3L40.9,458.2M40.9,458.2L49.7,463.6M65.5,471.0L65.6,470.8M65.5,471.0L64.4,473.1M65.6,470.8L85.4,474.9M64.4,473.1L64.2,478.2M64.2,478.2L77.0,490.2M77.0,490.2L77.4,490.2M77.4,490.2L80.6,486.9M80.6,486.9L85.9,477.0M85.9,477.0L85.4,474.9M55.1,457.6L65.5,471.0M74.2,459.0L65.6,470.8M49.7,463.6L49.8,466.3M49.8,466.3L64.4,473.1M84.2,463.7L85.4,474.9M65.7,499.1L77.0,490.2M50.6,484.3L64.2,478.2M84.6,500.2L77.4,490.2M111.1,488.9L80.6,486.9M100.3,476.8L85.9,477.0M45.1,480.6L46.3,471.3M45.1,480.6L25.4,476.9M46.3,471.3L35.4,465.3M25.4,476.9L34.0,465.9M34.0,465.9L35.4,465.3M46.5,482.2L45.1,480.6M49.8,466.3L46.3,471.3M25.1,476.9L25.4,476.9M40.9,458.2L35.4,465.3M28.6,457.0L34.0,465.9" stroke="#ff5a5a" stroke-width="0.44" fill="none"/><path d="M49.1,507.6L62.2,503.6M62.2,503.6L77.4,512.9M40.9,439.8L29.0,459.1M97.0,459.5L84.5,453.3M104.6,482.4L95.5,465.3M97.0,459.5L95.5,465.3M104.6,482.4L95.4,491.0M95.4,491.0L101.7,509.2M102.0,509.4L101.7,509.2M84.5,453.3L78.5,454.5M78.5,454.5L71.3,451.0M63.4,441.3L71.3,451.0M49.1,507.6L45.6,504.9M45.6,504.9L26.4,497.8M83.0,496.8L75.4,493.2M83.0,496.8L94.9,490.9M94.9,490.9L85.8,482.8M85.8,482.8L78.0,486.1M75.4,493.2L78.0,486.1M95.4,491.0L94.9,490.9M101.7,509.2L85.3,510.8M85.3,510.8L83.0,496.8M95.5,465.3L92.7,467.5M78.5,454.5L72.1,467.9M72.1,467.9L92.7,467.5M85.8,482.8L86.4,476.3M86.4,476.3L92.7,467.5M92.0,526.7L82.3,512.7M80.7,513.3L82.3,512.7M77.4,512.9L80.7,513.3M102.0,509.4L92.0,526.7M85.3,510.8L82.3,512.7M62.2,503.6L66.2,497.8M66.2,497.8L75.4,493.2M29.0,459.1L38.0,461.8M26.4,497.8L44.3,473.2M38.0,461.8L44.3,473.2M56.3,482.8L48.7,483.2M56.3,482.8L48.8,495.5M48.8,495.5L48.7,483.2M45.6,504.9L48.8,495.5M44.3,473.2L47.4,474.0M47.4,474.0L48.7,483.2M40.9,439.8L49.3,449.0M38.0,461.8L44.4,458.1M44.4,458.1L49.3,449.0M63.4,441.3L58.4,446.6M49.3,449.0L58.4,446.6M66.2,497.8L63.8,482.6M78.0,486.1L71.2,477.6M71.2,477.6L63.8,482.6M86.4,476.3L72.1,473.4M71.2,477.6L72.1,473.4M47.4,474.0L54.2,473.9M56.3,482.8L58.1,480.2M54.2,473.9L58.1,480.2M72.1,467.9L71.1,468.8M71.1,468.8L72.1,473.4M58.1,480.2L63.8,482.6M59.0,460.0L49.9,459.6M59.0,460.0L61.9,463.3M49.9,459.6L55.3,472.5M61.9,463.3L62.6,465.7M62.6,465.7L55.3,472.5M44.4,458.1L49.9,459.6M58.4,446.6L59.0,460.0M71.3,451.0L61.9,463.3M54.2,473.9L55.3,472.5M71.1,468.8L62.6,465.7" stroke="#ffbf4a" stroke-width="0.44" fill="none"/><line x1="66.9" y1="469.1" x2="65.5" y2="474.2" stroke="#6a6a6a" stroke-width="1.98"/><line x1="65.5" y1="474.2" x2="64.2" y2="479.3" stroke="#e00000" stroke-width="1.98"/><line x1="44.3" y1="475.0" x2="50.2" y2="479.8" stroke="#e00000" stroke-width="1.98"/><line x1="50.2" y1="479.8" x2="56.2" y2="484.7" stroke="#7474b4" stroke-width="1.98"/><line x1="64.2" y1="479.3" x2="60.2" y2="482.0" stroke="#e00000" stroke-width="1.98"/><line x1="60.2" y1="482.0" x2="56.2" y2="484.7" stroke="#7474b4" stroke-width="1.98"/><line x1="56.2" y1="484.7" x2="62.0" y2="486.0" stroke="#7474b4" stroke-width="1.98"/><line x1="62.0" y1="486.0" x2="67.9" y2="487.3" stroke="#e00000" stroke-width="1.98"/><line x1="56.2" y1="484.7" x2="51.6" y2="490.6" stroke="#7474b4" stroke-width="1.98"/><line x1="51.6" y1="490.6" x2="47.0" y2="496.5" stroke="#e00000" stroke-width="1.98"/><line x1="56.2" y1="484.7" x2="53.2" y2="492.4" stroke="#7474b4" stroke-width="1.98"/><line x1="53.2" y1="492.4" x2="50.3" y2="500.2" stroke="#e00000" stroke-width="1.98"/><line x1="67.9" y1="487.3" x2="73.0" y2="489.0" stroke="#e00000" stroke-width="1.98"/><line x1="73.0" y1="489.0" x2="78.1" y2="490.6" stroke="#58d0d6" stroke-width="1.98"/><line x1="78.1" y1="490.6" x2="83.2" y2="491.4" stroke="#58d0d6" stroke-width="1.98"/><line x1="83.2" y1="491.4" x2="88.4" y2="492.2" stroke="#e00000" stroke-width="1.98"/><line x1="78.1" y1="490.6" x2="81.4" y2="498.1" stroke="#58d0d6" stroke-width="1.98"/><line x1="81.4" y1="498.1" x2="84.6" y2="505.6" stroke="#e00000" stroke-width="1.98"/><line x1="88.4" y1="492.2" x2="89.4" y2="499.7" stroke="#e00000" stroke-width="1.98"/><line x1="89.4" y1="499.7" x2="90.5" y2="507.2" stroke="#d060d8" stroke-width="1.98"/><line x1="47.0" y1="496.5" x2="45.4" y2="501.6" stroke="#e00000" stroke-width="1.98"/><line x1="45.4" y1="501.6" x2="43.8" y2="506.7" stroke="#d060d8" stroke-width="1.98"/><line x1="50.3" y1="500.2" x2="47.0" y2="503.4" stroke="#e00000" stroke-width="1.98"/><line x1="47.0" y1="503.4" x2="43.8" y2="506.7" stroke="#d060d8" stroke-width="1.98"/><line x1="84.6" y1="505.6" x2="87.5" y2="506.4" stroke="#e00000" stroke-width="1.98"/><line x1="87.5" y1="506.4" x2="90.5" y2="507.2" stroke="#d060d8" stroke-width="1.98"/><line x1="44.9" y1="468.0" x2="44.6" y2="471.5" stroke="#dddddd" stroke-width="1.98"/><line x1="44.6" y1="471.5" x2="44.3" y2="475.0" stroke="#e00000" stroke-width="1.98"/><line x1="71.2" y1="466.4" x2="69.0" y2="467.7" stroke="#dddddd" stroke-width="1.98"/><line x1="69.0" y1="467.7" x2="66.9" y2="469.1" stroke="#6a6a6a" stroke-width="1.98"/><circle cx="60.4" cy="462.1" r="3.03" fill="url(#gH)"/><circle cx="44.9" cy="468.0" r="3.03" fill="url(#gH)"/><circle cx="71.2" cy="466.4" r="3.03" fill="url(#gH)"/><circle cx="74.9" cy="466.4" r="2.76" fill="url(#gH)"/><circle cx="66.9" cy="469.1" r="2.57" fill="url(#gC)"/><circle cx="44.3" cy="475.0" r="3.31" fill="url(#gO)"/><circle cx="64.2" cy="479.3" r="3.31" fill="url(#gO)"/><circle cx="56.2" cy="484.7" r="3.31" fill="url(#gFe)"/><circle cx="67.9" cy="487.3" r="3.31" fill="url(#gO)"/><circle cx="78.1" cy="490.6" r="3.58" fill="url(#gZn)"/><circle cx="88.4" cy="492.2" r="3.31" fill="url(#gO)"/><circle cx="47.0" cy="496.5" r="3.31" fill="url(#gO)"/><circle cx="50.3" cy="500.2" r="3.31" fill="url(#gO)"/><circle cx="43.8" cy="506.7" r="3.31" fill="url(#gAl)"/><circle cx="84.6" cy="505.6" r="3.31" fill="url(#gO)"/><circle cx="90.5" cy="507.2" r="3.03" fill="url(#gAl)"/></g><text x="67.2" y="527.9" text-anchor="middle" font-size="11.2">CH<tspan font-size="7.3" dy="2.4">3</tspan><tspan dy="-2.4">O*</tspan></text><text x="67.2" y="541.4" text-anchor="middle" font-size="11">1054 cm<tspan font-size="6.8" dy="-4">-1</tspan></text><g clip-path="url(#pclip0)"><polyline points="37.6,674.8 38.2,674.8 38.8,674.8 39.4,674.8 40.0,674.8 40.6,674.8 41.2,674.8 41.8,674.8 42.4,674.8 43.0,674.8 43.6,674.8 44.2,674.8 44.8,674.8 45.4,674.8 46.0,674.8 46.6,674.8 47.2,674.8 47.8,674.8 48.4,674.8 49.0,674.8 49.6,674.8 50.2,674.8 50.8,674.8 51.4,674.8 52.0,674.8 52.6,674.8 53.2,674.8 53.8,674.8 54.4,674.8 55.0,674.8 55.6,674.7 56.2,674.6 56.8,674.4 57.4,674.2 58.0,673.8 58.6,673.3 59.2,672.5 59.8,671.6 60.4,670.5 61.0,669.1 61.6,667.6 62.2,666.0 62.8,664.3 63.4,662.7 64.0,661.4 64.6,660.4 65.2,659.8 65.8,659.8 66.4,660.2 67.0,661.0 67.6,662.3 68.2,663.8 68.8,665.4 69.4,667.1 70.0,668.6 70.6,670.1 71.2,671.3 71.8,672.3 72.4,673.0 73.0,673.6 73.6,674.0 74.2,674.3 74.8,674.5 75.4,674.7 76.0,674.7 76.6,674.8 77.2,674.8 77.8,674.8 78.4,674.8 79.0,674.8 79.6,674.8 80.2,674.8 80.8,674.8 81.4,674.8 82.0,674.8 82.6,674.8 83.2,674.8 83.8,674.8 84.4,674.8 85.0,674.8 85.6,674.8 86.2,674.8 86.8,674.8 87.4,674.8 88.0,674.8 88.6,674.8 89.2,674.8 89.8,674.8 90.4,674.8 91.0,674.8 91.6,674.8 92.2,674.8 92.8,674.8 93.4,674.8 94.0,674.8 94.6,674.8 95.2,674.8 95.8,674.8 96.4,674.8" fill="none" stroke="#b090e0" stroke-width="0.65" stroke-dasharray="2,1.1"/><polyline points="37.6,674.3 38.2,674.3 38.8,674.3 39.4,674.3 40.0,674.3 40.6,674.3 41.2,674.3 41.8,674.3 42.4,674.3 43.0,674.3 43.6,674.3 44.2,674.3 44.8,674.3 45.4,674.3 46.0,674.3 46.6,674.3 47.2,674.3 47.8,674.3 48.4,674.3 49.0,674.3 49.6,674.3 50.2,674.3 50.8,674.3 51.4,674.3 52.0,674.3 52.6,674.3 53.2,674.3 53.8,674.3 54.4,674.2 55.0,674.2 55.6,674.0 56.2,673.8 56.8,673.4 57.4,672.9 58.0,672.1 58.6,670.9 59.2,669.4 59.8,667.5 60.4,665.0 61.0,662.1 61.6,658.9 62.2,655.4 62.8,651.9 63.4,648.5 64.0,645.7 64.6,643.6 65.2,642.3 65.8,642.2 66.4,643.0 67.0,644.9 67.6,647.5 68.2,650.7 68.8,654.2 69.4,657.7 70.0,661.1 70.6,664.1 71.2,666.7 71.8,668.8 72.4,670.5 73.0,671.7 73.6,672.6 74.2,673.3 74.8,673.7 75.4,674.0 76.0,674.1 76.6,674.2 77.2,674.3 77.8,674.3 78.4,674.3 79.0,674.3 79.6,674.3 80.2,674.3 80.8,674.3 81.4,674.3 82.0,674.3 82.6,674.3 83.2,674.3 83.8,674.3 84.4,674.3 85.0,674.3 85.6,674.3 86.2,674.3 86.8,674.3 87.4,674.3 88.0,674.3 88.6,674.3 89.2,674.3 89.8,674.3 90.4,674.3 91.0,674.3 91.6,674.3 92.2,674.3 92.8,674.3 93.4,674.3 94.0,674.3 94.6,674.3 95.2,674.3 95.8,674.3 96.4,674.3" fill="none" stroke="#5a9ae0" stroke-width="0.65" stroke-dasharray="2,1.1"/><polyline points="37.6,674.3 38.2,674.3 38.8,674.3 39.4,674.3 40.0,674.3 40.6,674.3 41.2,674.3 41.8,674.3 42.4,674.3 43.0,674.3 43.6,674.3 44.2,674.3 44.8,674.3 45.4,674.3 46.0,674.3 46.6,674.3 47.2,674.3 47.8,674.3 48.4,674.3 49.0,674.3 49.6,674.3 50.2,674.3 50.8,674.3 51.4,674.3 52.0,674.3 52.6,674.3 53.2,674.3 53.8,674.2 54.4,674.1 55.0,674.0 55.6,673.8 56.2,673.4 56.8,672.8 57.4,671.9 58.0,670.5 58.6,668.7 59.2,666.1 59.8,662.9 60.4,658.8 61.0,654.0 61.6,648.6 62.2,642.7 62.8,636.8 63.4,631.3 64.0,626.6 64.6,623.0 65.2,621.0 65.8,620.7 66.4,622.2 67.0,625.2 67.6,629.6 68.2,634.9 68.8,640.8 69.4,646.6 70.0,652.2 70.6,657.3 71.2,661.6 71.8,665.1 72.4,667.9 73.0,670.0 73.6,671.5 74.2,672.5 74.8,673.2 75.4,673.7 76.0,673.9 76.6,674.1 77.2,674.2 77.8,674.3 78.4,674.3 79.0,674.3 79.6,674.3 80.2,674.3 80.8,674.3 81.4,674.3 82.0,674.3 82.6,674.3 83.2,674.3 83.8,674.3 84.4,674.3 85.0,674.3 85.6,674.3 86.2,674.3 86.8,674.3 87.4,674.3 88.0,674.3 88.6,674.3 89.2,674.3 89.8,674.3 90.4,674.3 91.0,674.3 91.6,674.3 92.2,674.3 92.8,674.3 93.4,674.3 94.0,674.3 94.6,674.3 95.2,674.3 95.8,674.3 96.4,674.3" fill="none" stroke="#ff8a8a" stroke-width="0.65" stroke-dasharray="2,1.1"/><polyline points="37.6,675.1 38.2,675.1 38.8,675.1 39.4,675.1 40.0,675.1 40.6,675.1 41.2,675.1 41.8,675.1 42.4,675.1 43.0,675.1 43.6,675.1 44.2,675.1 44.8,675.1 45.4,675.1 46.0,675.1 46.6,675.1 47.2,675.1 47.8,675.1 48.4,675.1 49.0,675.1 49.6,675.1 50.2,675.1 50.8,675.1 51.4,675.1 52.0,675.1 52.6,675.0 53.2,675.0 53.8,674.9 54.4,674.8 55.0,674.6 55.6,674.3 56.2,673.8 56.8,673.0 57.4,671.7 58.0,669.9 58.6,667.3 59.2,663.9 59.8,659.4 60.4,653.8 61.0,647.2 61.6,639.8 62.2,631.8 62.8,623.7 63.4,616.2 64.0,609.7 64.6,604.8 65.2,602.1 65.8,601.6 66.4,603.6 67.0,607.8 67.6,613.9 68.2,621.1 68.8,629.1 69.4,637.2 70.0,644.8 70.6,651.7 71.2,657.6 71.8,662.5 72.4,666.3 73.0,669.1 73.6,671.2 74.2,672.6 74.8,673.6 75.4,674.2 76.0,674.6 76.6,674.8 77.2,674.9 77.8,675.0 78.4,675.0 79.0,675.0 79.6,675.1 80.2,675.1 80.8,675.1 81.4,675.1 82.0,675.1 82.6,675.1 83.2,675.1 83.8,675.1 84.4,675.1 85.0,675.1 85.6,675.1 86.2,675.1 86.8,675.1 87.4,675.1 88.0,675.1 88.6,675.1 89.2,675.1 89.8,675.1 90.4,675.1 91.0,675.1 91.6,675.1 92.2,675.1 92.8,675.1 93.4,675.1 94.0,675.1 94.6,675.1 95.2,675.1 95.8,675.1 96.4,675.1" fill="none" stroke="#48c8d0" stroke-width="0.65" stroke-dasharray="2,1.1"/><polyline points="37.6,675.0 38.2,675.0 38.8,675.0 39.4,675.0 40.0,675.0 40.6,675.0 41.2,675.0 41.8,675.0 42.4,675.0 43.0,675.0 43.6,675.0 44.2,675.0 44.8,675.0 45.4,675.0 46.0,675.0 46.6,675.0 47.2,675.0 47.8,675.0 48.4,675.0 49.0,675.0 49.6,675.0 50.2,675.0 50.8,675.0 51.4,675.0 52.0,675.0 52.6,675.0 53.2,675.0 53.8,674.9 54.4,674.8 55.0,674.5 55.6,674.1 56.2,673.4 56.8,672.4 57.4,670.8 58.0,668.5 58.6,665.2 59.2,660.9 59.8,655.2 60.4,648.2 61.0,639.8 61.6,630.4 62.2,620.3 62.8,610.2 63.4,600.6 64.0,592.4 64.6,586.2 65.2,582.7 65.8,582.2 66.4,584.7 67.0,590.0 67.6,597.6 68.2,606.9 68.8,616.9 69.4,627.1 70.0,636.8 70.6,645.5 71.2,653.0 71.8,659.1 72.4,663.9 73.0,667.5 73.6,670.1 74.2,671.9 74.8,673.1 75.4,673.9 76.0,674.4 76.6,674.7 77.2,674.9 77.8,674.9 78.4,675.0 79.0,675.0 79.6,675.0 80.2,675.0 80.8,675.0 81.4,675.0 82.0,675.0 82.6,675.0 83.2,675.0 83.8,675.0 84.4,675.0 85.0,675.0 85.6,675.0 86.2,675.0 86.8,675.0 87.4,675.0 88.0,675.0 88.6,675.0 89.2,675.0 89.8,675.0 90.4,675.0 91.0,675.0 91.6,675.0 92.2,675.0 92.8,675.0 93.4,675.0 94.0,675.0 94.6,675.0 95.2,675.0 95.8,675.0 96.4,675.0" fill="none" stroke="#e8a448" stroke-width="0.65" stroke-dasharray="2,1.1"/><polyline points="37.6,674.6 38.2,674.6 38.8,674.6 39.4,674.6 40.0,674.6 40.6,674.6 41.2,674.6 41.8,674.6 42.4,674.6 43.0,674.6 43.6,674.6 44.2,674.6 44.8,674.6 45.4,674.6 46.0,674.6 46.6,674.6 47.2,674.6 47.8,674.6 48.4,674.6 49.0,674.6 49.6,674.6 50.2,674.6 50.8,674.6 51.4,674.6 52.0,674.6 52.6,674.6 53.2,674.6 53.8,674.5 54.4,674.3 55.0,674.0 55.6,673.6 56.2,672.8 56.8,671.6 57.4,669.7 58.0,667.0 58.6,663.3 59.2,658.2 59.8,651.7 60.4,643.5 61.0,633.9 61.6,623.0 62.2,611.3 62.8,599.5 63.4,588.4 64.0,578.8 64.6,571.7 65.2,567.7 65.8,567.1 66.4,570.0 67.0,576.2 67.6,585.0 68.2,595.6 68.8,607.3 69.4,619.1 70.0,630.4 70.6,640.5 71.2,649.1 71.8,656.2 72.4,661.8 73.0,665.9 73.6,668.9 74.2,671.0 74.8,672.4 75.4,673.3 76.0,673.9 76.6,674.2 77.2,674.4 77.8,674.5 78.4,674.6 79.0,674.6 79.6,674.6 80.2,674.6 80.8,674.6 81.4,674.6 82.0,674.6 82.6,674.6 83.2,674.6 83.8,674.6 84.4,674.6 85.0,674.6 85.6,674.6 86.2,674.6 86.8,674.6 87.4,674.6 88.0,674.6 88.6,674.6 89.2,674.6 89.8,674.6 90.4,674.6 91.0,674.6 91.6,674.6 92.2,674.6 92.8,674.6 93.4,674.6 94.0,674.6 94.6,674.6 95.2,674.6 95.8,674.6 96.4,674.6" fill="none" stroke="#b8b040" stroke-width="0.65" stroke-dasharray="2,1.1"/></g><line x1="65.6" y1="560.6" x2="65.6" y2="674.6" stroke="#333" stroke-width="0.7" stroke-dasharray="1.6,1"/><line x1="37.6" y1="675.2" x2="96.7" y2="675.2" stroke="#666" stroke-width="0.6"/><path d="M76.8,553.6 V571.6 M74.8,553.6 H78.8 M74.8,571.6 H78.8" stroke="#444" stroke-width="0.9" fill="none"/><text x="80.3" y="565.5" font-size="8.3">0.02</text><text x="48.2" y="646.4" text-anchor="middle" font-size="7.2">30 min</text><line x1="46.9" y1="664" x2="46.9" y2="651.8" stroke="#000" stroke-width="1"/><path d="M44.6,652.8 L46.9,648.8 L49.199999999999996,652.8 Z" fill="#000"/><text x="46.6" y="671.7" text-anchor="middle" font-size="7.2">1 min</text><text x="44.5" y="695.9" text-anchor="middle" font-size="5.8">1060</text><line x1="44.5" y1="688.6" x2="44.5" y2="686.6" stroke="#333" stroke-width="0.7"/><text x="78.5" y="695.9" text-anchor="middle" font-size="5.8">1050</text><line x1="78.5" y1="688.6" x2="78.5" y2="686.6" stroke="#333" stroke-width="0.7"/><text x="67.2" y="702.6" text-anchor="middle" font-size="7.5">Wavenumber (cm<tspan font-size="5" dy="-2.4">-1</tspan><tspan dy="2.4">)</tspan></text><rect x="109.2" y="432.3" width="62.4" height="256.3" fill="#fff" stroke="#333" stroke-width="1.1"/><text x="140.4" y="447.6" text-anchor="middle" font-size="12.5">IM6</text><g clip-path="url(#cclip1)"><path d="M176.3,507.2L175.3,487.4M142.1,509.9L130.5,528.1M142.1,509.9L136.2,501.7M136.2,501.7L121.0,506.7M130.5,528.1L120.4,511.8M120.4,511.8L119.7,508.9M119.7,508.9L121.0,506.7M157.3,512.8L150.7,509.3M150.7,509.3L142.1,509.9M98.4,504.0L119.7,508.9M157.3,512.8L164.2,507.2M176.3,507.2L166.7,505.9M164.2,507.2L166.7,505.9M174.8,487.1L171.7,489.0M174.8,487.1L172.6,476.2M171.7,489.0L161.2,491.1M172.6,476.2L170.1,475.0M161.2,491.1L160.3,490.7M160.3,490.7L165.6,476.2M170.1,475.0L165.6,476.2M175.3,487.4L174.8,487.1M166.7,505.9L166.6,504.8M166.6,504.8L171.7,489.0M200.4,462.0L172.6,476.2M166.6,504.8L161.2,491.1M135.2,483.0L133.1,489.9M135.2,483.0L134.5,478.7M134.5,478.7L114.6,481.5M133.1,489.9L120.0,490.3M120.0,490.3L116.3,486.9M114.6,481.5L116.3,486.9M137.2,495.0L133.1,489.9M137.2,495.0L136.2,501.7M121.0,506.7L120.0,490.3M98.4,504.0L116.3,486.9M114.3,481.0L114.6,481.5M151.2,486.4L138.5,494.7M151.2,486.4L154.8,490.4M154.8,490.4L154.0,494.0M154.0,494.0L150.7,499.5M150.7,499.5L138.5,494.7M137.2,495.0L138.5,494.7M150.8,483.9L151.2,486.4M150.8,483.9L135.2,483.0M152.3,475.7L165.6,476.2M152.3,475.7L150.8,483.9M160.3,490.7L154.8,490.4M164.2,507.2L154.0,494.0M150.7,509.3L150.7,499.5M200.4,462.0L179.8,455.5M167.4,465.9L178.2,455.3M167.4,465.9L170.1,475.0M179.8,455.5L178.2,455.3M152.3,475.7L147.6,468.2M167.4,465.9L158.1,458.0M158.1,458.0L151.3,462.5M147.6,468.2L151.3,462.5M134.5,478.7L136.6,468.3M147.6,468.2L136.6,468.3M127.4,465.6L132.0,464.9M127.4,465.6L113.9,473.3M114.3,481.0L113.9,473.3M136.6,468.3L132.0,464.9M178.2,455.3L166.3,448.9M158.1,458.0L158.8,456.0M166.3,448.9L158.8,456.0M117.9,455.9L116.6,451.4M117.9,455.9L104.8,465.4M116.6,451.4L105.6,454.8M105.6,454.8L101.9,463.9M101.9,463.9L104.8,465.4M127.4,465.6L120.2,457.1M113.9,473.3L104.8,465.4M120.2,457.1L117.9,455.9M133.3,449.8L146.5,455.2M133.3,449.8L131.7,440.3M146.5,455.2L147.1,441.5M151.3,462.5L146.5,455.2M132.0,464.9L133.3,449.8M120.2,457.1L131.7,440.3M158.8,456.0L147.1,441.5" stroke="#ff5a5a" stroke-width="0.44" fill="none"/><path d="M108.1,467.3L113.4,462.3M132.3,457.4L120.5,461.3M117.8,460.7L120.5,461.3M113.4,462.3L117.8,460.7M142.0,455.6L136.0,457.8M136.0,457.8L132.3,457.4M108.1,467.3L97.3,482.6M97.3,482.6L89.8,488.3M142.0,455.6L148.3,462.4M168.7,463.7L158.2,464.7M158.2,464.7L151.2,463.9M148.3,462.4L151.2,463.9M139.9,517.9L151.1,508.9M155.2,510.7L151.1,508.9M155.2,510.7L170.2,514.7M132.7,513.4L130.3,493.6M132.7,513.4L139.9,517.9M131.4,492.1L130.3,493.6M131.4,492.1L151.0,506.1M151.0,506.1L151.1,508.9M173.8,474.8L168.2,482.2M168.2,482.2L176.8,494.3M168.7,463.7L173.8,474.8M106.7,515.0L113.1,531.4M132.5,488.7L123.8,480.5M132.5,488.7L139.6,484.2M136.4,471.4L123.7,474.1M136.4,471.4L139.7,483.8M123.7,474.1L123.8,480.5M139.7,483.8L139.6,484.2M136.0,457.8L136.4,471.4M120.5,461.3L123.7,474.1M148.3,462.4L145.1,477.2M145.1,477.2L139.7,483.8M97.3,482.6L123.8,480.5M112.8,498.6L107.1,497.8M112.8,498.6L123.5,515.2M107.1,497.8L109.4,511.0M109.4,511.0L119.0,519.1M123.5,515.2L119.0,519.1M131.4,492.1L132.5,488.7M130.3,493.6L112.8,498.6M89.8,488.3L107.1,497.8M132.7,513.4L123.5,515.2M106.7,515.0L109.4,511.0M113.1,531.4L119.0,519.1M168.0,482.4L162.3,485.8M168.0,482.4L156.9,472.3M162.3,485.8L152.8,474.5M156.9,472.3L153.0,473.9M153.0,473.9L152.8,474.5M158.2,464.7L156.9,472.3M168.2,482.2L168.0,482.4M151.2,463.9L153.0,473.9M145.1,477.2L152.8,474.5M159.6,488.5L156.4,490.4M159.6,488.5L170.1,501.5M170.1,501.5L169.4,508.5M169.4,508.5L155.9,493.1M156.4,490.4L155.9,493.1M139.6,484.2L156.4,490.4M162.3,485.8L159.6,488.5M176.8,494.3L170.1,501.5M170.2,514.7L169.4,508.5M151.0,506.1L155.9,493.1" stroke="#ffbf4a" stroke-width="0.44" fill="none"/><line x1="158.7" y1="467.9" x2="160.1" y2="472.2" stroke="#6a6a6a" stroke-width="1.98"/><line x1="160.1" y1="472.2" x2="161.5" y2="476.6" stroke="#e00000" stroke-width="1.98"/><line x1="161.5" y1="476.6" x2="156.5" y2="482.9" stroke="#e00000" stroke-width="1.98"/><line x1="156.5" y1="482.9" x2="151.5" y2="489.2" stroke="#58d0d6" stroke-width="1.98"/><line x1="139.3" y1="480.9" x2="133.6" y2="485.1" stroke="#e00000" stroke-width="1.98"/><line x1="133.6" y1="485.1" x2="127.8" y2="489.2" stroke="#7474b4" stroke-width="1.98"/><line x1="139.3" y1="480.9" x2="145.4" y2="485.1" stroke="#e00000" stroke-width="1.98"/><line x1="145.4" y1="485.1" x2="151.5" y2="489.2" stroke="#58d0d6" stroke-width="1.98"/><line x1="127.8" y1="489.2" x2="122.0" y2="492.0" stroke="#7474b4" stroke-width="1.98"/><line x1="122.0" y1="492.0" x2="116.2" y2="494.9" stroke="#e00000" stroke-width="1.98"/><line x1="127.8" y1="489.2" x2="124.6" y2="494.5" stroke="#7474b4" stroke-width="1.98"/><line x1="124.6" y1="494.5" x2="121.5" y2="499.8" stroke="#e00000" stroke-width="1.98"/><line x1="151.5" y1="489.2" x2="156.8" y2="491.1" stroke="#58d0d6" stroke-width="1.98"/><line x1="156.8" y1="491.1" x2="162.1" y2="493.0" stroke="#e00000" stroke-width="1.98"/><line x1="151.5" y1="489.2" x2="152.9" y2="497.1" stroke="#58d0d6" stroke-width="1.98"/><line x1="152.9" y1="497.1" x2="154.3" y2="505.1" stroke="#e00000" stroke-width="1.98"/><line x1="116.2" y1="494.9" x2="114.8" y2="501.2" stroke="#e00000" stroke-width="1.98"/><line x1="114.8" y1="501.2" x2="113.3" y2="507.5" stroke="#d060d8" stroke-width="1.98"/><line x1="121.5" y1="499.8" x2="117.4" y2="503.6" stroke="#e00000" stroke-width="1.98"/><line x1="117.4" y1="503.6" x2="113.3" y2="507.5" stroke="#d060d8" stroke-width="1.98"/><line x1="154.3" y1="505.1" x2="157.9" y2="506.7" stroke="#e00000" stroke-width="1.98"/><line x1="157.9" y1="506.7" x2="161.5" y2="508.4" stroke="#d060d8" stroke-width="1.98"/><circle cx="150.4" cy="465.9" r="3.40" fill="url(#gH)"/><circle cx="164.0" cy="460.1" r="3.03" fill="url(#gH)"/><circle cx="158.7" cy="467.9" r="3.40" fill="url(#gC)"/><circle cx="161.5" cy="476.6" r="3.58" fill="url(#gO)"/><circle cx="139.3" cy="480.9" r="3.58" fill="url(#gO)"/><circle cx="127.8" cy="489.2" r="3.40" fill="url(#gFe)"/><circle cx="151.5" cy="489.2" r="3.58" fill="url(#gZn)"/><circle cx="162.1" cy="493.0" r="3.58" fill="url(#gO)"/><circle cx="116.2" cy="494.9" r="3.58" fill="url(#gO)"/><circle cx="121.5" cy="499.8" r="3.40" fill="url(#gO)"/><circle cx="113.3" cy="507.5" r="3.40" fill="url(#gAl)"/><circle cx="154.3" cy="505.1" r="3.58" fill="url(#gO)"/><circle cx="161.5" cy="508.4" r="3.40" fill="url(#gAl)"/></g><text x="140.4" y="527.9" text-anchor="middle" font-size="11.2">HCHO*</text><text x="140.4" y="541.4" text-anchor="middle" font-size="11">1107 cm<tspan font-size="6.8" dy="-4">-1</tspan></text><g clip-path="url(#pclip1)"><polyline points="110.2,673.0 110.8,673.0 111.4,673.0 112.0,673.0 112.6,673.0 113.2,673.0 113.8,673.0 114.4,673.0 115.0,673.0 115.6,673.0 116.2,673.0 116.8,673.0 117.4,673.0 118.0,673.0 118.6,673.0 119.2,673.0 119.8,673.0 120.4,673.0 121.0,673.0 121.6,673.0 122.2,673.0 122.8,673.0 123.4,673.0 124.0,673.0 124.6,673.0 125.2,673.0 125.8,673.0 126.4,673.0 127.0,673.0 127.6,673.0 128.2,673.0 128.8,673.0 129.4,673.0 130.0,673.0 130.6,673.0 131.2,673.0 131.8,673.0 132.4,673.0 133.0,673.0 133.6,673.0 134.2,673.0 134.8,672.9 135.4,672.9 136.0,672.9 136.6,672.8 137.2,672.5 137.8,672.0 138.4,671.1 139.0,669.7 139.6,667.8 140.2,665.3 140.8,662.6 141.4,660.2 142.0,658.6 142.6,658.1 143.2,659.0 143.8,660.9 144.4,663.5 145.0,666.2 145.6,668.5 146.2,670.3 146.8,671.5 147.4,672.2 148.0,672.6 148.6,672.8 149.2,672.9 149.8,672.9 150.4,672.9 151.0,673.0 151.6,673.0 152.2,673.0 152.8,673.0 153.4,673.0 154.0,673.0 154.6,673.0 155.2,673.0 155.8,673.0 156.4,673.0 157.0,673.0 157.6,673.0 158.2,673.0 158.8,673.0 159.4,673.0 160.0,673.0 160.6,673.0 161.2,673.0 161.8,673.0 162.4,673.0 163.0,673.0 163.6,673.0 164.2,673.0 164.8,673.0 165.4,673.0 166.0,673.0 166.6,673.0 167.2,673.0 167.8,673.0 168.4,673.0 169.0,673.0 169.6,673.0 170.2,673.0" fill="none" stroke="#b090e0" stroke-width="0.65" stroke-dasharray="2,1.1"/><polyline points="110.2,673.9 110.8,673.9 111.4,673.9 112.0,673.9 112.6,673.9 113.2,673.9 113.8,673.9 114.4,673.9 115.0,673.9 115.6,673.9 116.2,673.9 116.8,673.9 117.4,673.9 118.0,673.9 118.6,673.9 119.2,673.9 119.8,673.9 120.4,673.9 121.0,673.9 121.6,673.9 122.2,673.9 122.8,673.9 123.4,673.9 124.0,673.9 124.6,673.9 125.2,673.9 125.8,673.9 126.4,673.9 127.0,673.9 127.6,673.9 128.2,673.9 128.8,673.9 129.4,673.9 130.0,673.9 130.6,673.9 131.2,673.9 131.8,673.9 132.4,673.9 133.0,673.9 133.6,673.9 134.2,673.9 134.8,673.9 135.4,673.9 136.0,673.7 136.6,673.5 137.2,673.0 137.8,671.9 138.4,670.0 139.0,667.0 139.6,662.7 140.2,657.4 140.8,651.6 141.4,646.3 142.0,642.8 142.6,641.9 143.2,643.7 143.8,647.9 144.4,653.5 145.0,659.2 145.6,664.3 146.2,668.1 146.8,670.7 147.4,672.3 148.0,673.2 148.6,673.6 149.2,673.8 149.8,673.9 150.4,673.9 151.0,673.9 151.6,673.9 152.2,673.9 152.8,673.9 153.4,673.9 154.0,673.9 154.6,673.9 155.2,673.9 155.8,673.9 156.4,673.9 157.0,673.9 157.6,673.9 158.2,673.9 158.8,673.9 159.4,673.9 160.0,673.9 160.6,673.9 161.2,673.9 161.8,673.9 162.4,673.9 163.0,673.9 163.6,673.9 164.2,673.9 164.8,673.9 165.4,673.9 166.0,673.9 166.6,673.9 167.2,673.9 167.8,673.9 168.4,673.9 169.0,673.9 169.6,673.9 170.2,673.9" fill="none" stroke="#5a9ae0" stroke-width="0.65" stroke-dasharray="2,1.1"/><polyline points="110.2,674.5 110.8,674.5 111.4,674.5 112.0,674.5 112.6,674.5 113.2,674.5 113.8,674.5 114.4,674.5 115.0,674.5 115.6,674.5 116.2,674.5 116.8,674.5 117.4,674.5 118.0,674.5 118.6,674.5 119.2,674.5 119.8,674.5 120.4,674.5 121.0,674.5 121.6,674.5 122.2,674.5 122.8,674.5 123.4,674.5 124.0,674.5 124.6,674.5 125.2,674.5 125.8,674.5 126.4,674.5 127.0,674.5 127.6,674.5 128.2,674.5 128.8,674.5 129.4,674.5 130.0,674.5 130.6,674.5 131.2,674.5 131.8,674.5 132.4,674.5 133.0,674.5 133.6,674.5 134.2,674.5 134.8,674.5 135.4,674.4 136.0,674.2 136.6,673.8 137.2,672.9 137.8,671.1 138.4,667.9 139.0,662.9 139.6,655.7 140.2,646.8 140.8,637.0 141.4,628.3 142.0,622.4 142.6,620.8 143.2,623.9 143.8,631.0 144.4,640.3 145.0,649.9 145.6,658.3 146.2,664.8 146.8,669.2 147.4,671.8 148.0,673.3 148.6,674.0 149.2,674.3 149.8,674.4 150.4,674.5 151.0,674.5 151.6,674.5 152.2,674.5 152.8,674.5 153.4,674.5 154.0,674.5 154.6,674.5 155.2,674.5 155.8,674.5 156.4,674.5 157.0,674.5 157.6,674.5 158.2,674.5 158.8,674.5 159.4,674.5 160.0,674.5 160.6,674.5 161.2,674.5 161.8,674.5 162.4,674.5 163.0,674.5 163.6,674.5 164.2,674.5 164.8,674.5 165.4,674.5 166.0,674.5 166.6,674.5 167.2,674.5 167.8,674.5 168.4,674.5 169.0,674.5 169.6,674.5 170.2,674.5" fill="none" stroke="#ff8a8a" stroke-width="0.65" stroke-dasharray="2,1.1"/><polyline points="110.2,673.4 110.8,673.4 111.4,673.4 112.0,673.4 112.6,673.4 113.2,673.4 113.8,673.4 114.4,673.4 115.0,673.4 115.6,673.4 116.2,673.4 116.8,673.4 117.4,673.4 118.0,673.4 118.6,673.4 119.2,673.4 119.8,673.4 120.4,673.4 121.0,673.4 121.6,673.4 122.2,673.4 122.8,673.4 123.4,673.4 124.0,673.4 124.6,673.4 125.2,673.4 125.8,673.4 126.4,673.4 127.0,673.4 127.6,673.4 128.2,673.4 128.8,673.4 129.4,673.4 130.0,673.4 130.6,673.4 131.2,673.4 131.8,673.4 132.4,673.4 133.0,673.4 133.6,673.4 134.2,673.4 134.8,673.4 135.4,673.3 136.0,673.1 136.6,672.5 137.2,671.3 137.8,668.8 138.4,664.6 139.0,657.8 139.6,648.1 140.2,636.1 140.8,623.0 141.4,611.2 142.0,603.3 142.6,601.1 143.2,605.4 143.8,614.8 144.4,627.3 145.0,640.3 145.6,651.6 146.2,660.3 146.8,666.2 147.4,669.8 148.0,671.8 148.6,672.7 149.2,673.2 149.8,673.3 150.4,673.4 151.0,673.4 151.6,673.4 152.2,673.4 152.8,673.4 153.4,673.4 154.0,673.4 154.6,673.4 155.2,673.4 155.8,673.4 156.4,673.4 157.0,673.4 157.6,673.4 158.2,673.4 158.8,673.4 159.4,673.4 160.0,673.4 160.6,673.4 161.2,673.4 161.8,673.4 162.4,673.4 163.0,673.4 163.6,673.4 164.2,673.4 164.8,673.4 165.4,673.4 166.0,673.4 166.6,673.4 167.2,673.4 167.8,673.4 168.4,673.4 169.0,673.4 169.6,673.4 170.2,673.4" fill="none" stroke="#48c8d0" stroke-width="0.65" stroke-dasharray="2,1.1"/><polyline points="110.2,672.9 110.8,672.9 111.4,672.9 112.0,672.9 112.6,672.9 113.2,672.9 113.8,672.9 114.4,672.9 115.0,672.9 115.6,672.9 116.2,672.9 116.8,672.9 117.4,672.9 118.0,672.9 118.6,672.9 119.2,672.9 119.8,672.9 120.4,672.9 121.0,672.9 121.6,672.9 122.2,672.9 122.8,672.9 123.4,672.9 124.0,672.9 124.6,672.9 125.2,672.9 125.8,672.9 126.4,672.9 127.0,672.9 127.6,672.9 128.2,672.9 128.8,672.9 129.4,672.9 130.0,672.9 130.6,672.9 131.2,672.9 131.8,672.9 132.4,672.9 133.0,672.9 133.6,672.9 134.2,672.9 134.8,672.8 135.4,672.7 136.0,672.4 136.6,671.7 137.2,670.2 137.8,667.1 138.4,661.7 139.0,653.2 139.6,641.1 140.2,625.9 140.8,609.4 141.4,594.6 142.0,584.6 142.6,581.9 143.2,587.2 143.8,599.2 144.4,614.9 145.0,631.2 145.6,645.5 146.2,656.4 146.8,663.9 147.4,668.4 148.0,670.8 148.6,672.0 149.2,672.6 149.8,672.8 150.4,672.8 151.0,672.9 151.6,672.9 152.2,672.9 152.8,672.9 153.4,672.9 154.0,672.9 154.6,672.9 155.2,672.9 155.8,672.9 156.4,672.9 157.0,672.9 157.6,672.9 158.2,672.9 158.8,672.9 159.4,672.9 160.0,672.9 160.6,672.9 161.2,672.9 161.8,672.9 162.4,672.9 163.0,672.9 163.6,672.9 164.2,672.9 164.8,672.9 165.4,672.9 166.0,672.9 166.6,672.9 167.2,672.9 167.8,672.9 168.4,672.9 169.0,672.9 169.6,672.9 170.2,672.9" fill="none" stroke="#e8a448" stroke-width="0.65" stroke-dasharray="2,1.1"/><polyline points="110.2,673.0 110.8,673.0 111.4,673.0 112.0,673.0 112.6,673.0 113.2,673.0 113.8,673.0 114.4,673.0 115.0,673.0 115.6,673.0 116.2,673.0 116.8,673.0 117.4,673.0 118.0,673.0 118.6,673.0 119.2,673.0 119.8,673.0 120.4,673.0 121.0,673.0 121.6,673.0 122.2,673.0 122.8,673.0 123.4,673.0 124.0,673.0 124.6,673.0 125.2,673.0 125.8,673.0 126.4,673.0 127.0,673.0 127.6,673.0 128.2,673.0 128.8,673.0 129.4,673.0 130.0,673.0 130.6,673.0 131.2,673.0 131.8,673.0 132.4,673.0 133.0,673.0 133.6,673.0 134.2,672.9 134.8,672.9 135.4,672.8 136.0,672.4 136.6,671.6 137.2,669.8 137.8,666.3 138.4,660.0 139.0,650.1 139.6,635.9 140.2,618.3 140.8,599.1 141.4,581.9 142.0,570.3 142.6,567.1 143.2,573.3 143.8,587.2 144.4,605.5 145.0,624.5 145.6,641.1 146.2,653.8 146.8,662.5 147.4,667.7 148.0,670.6 148.6,672.0 149.2,672.6 149.8,672.8 150.4,672.9 151.0,673.0 151.6,673.0 152.2,673.0 152.8,673.0 153.4,673.0 154.0,673.0 154.6,673.0 155.2,673.0 155.8,673.0 156.4,673.0 157.0,673.0 157.6,673.0 158.2,673.0 158.8,673.0 159.4,673.0 160.0,673.0 160.6,673.0 161.2,673.0 161.8,673.0 162.4,673.0 163.0,673.0 163.6,673.0 164.2,673.0 164.8,673.0 165.4,673.0 166.0,673.0 166.6,673.0 167.2,673.0 167.8,673.0 168.4,673.0 169.0,673.0 169.6,673.0 170.2,673.0" fill="none" stroke="#b8b040" stroke-width="0.65" stroke-dasharray="2,1.1"/></g><line x1="142.5" y1="561" x2="142.5" y2="675.8" stroke="#333" stroke-width="0.7" stroke-dasharray="1.6,1"/><path d="M151.8,559.2 V572.8 M149.8,559.2 H153.8 M149.8,572.8 H153.8" stroke="#444" stroke-width="0.9" fill="none"/><text x="155.3" y="568.9" font-size="8.3">0.01</text><text x="122.8" y="641.8" text-anchor="middle" font-size="7.2">30 min</text><line x1="121.3" y1="658.3" x2="121.3" y2="646.8" stroke="#000" stroke-width="1"/><path d="M119.0,647.8 L121.3,643.8 L123.6,647.8 Z" fill="#000"/><text x="122.6" y="666.0" text-anchor="middle" font-size="7.2">1 min</text><text x="107" y="695.9" text-anchor="middle" font-size="5.8">1120</text><line x1="107" y1="688.6" x2="107" y2="686.6" stroke="#333" stroke-width="0.7"/><text x="134.3" y="695.9" text-anchor="middle" font-size="5.8">1110</text><line x1="134.3" y1="688.6" x2="134.3" y2="686.6" stroke="#333" stroke-width="0.7"/><text x="158.4" y="695.9" text-anchor="middle" font-size="5.8">1100</text><line x1="158.4" y1="688.6" x2="158.4" y2="686.6" stroke="#333" stroke-width="0.7"/><text x="140.4" y="702.6" text-anchor="middle" font-size="7.5">Wavenumber (cm<tspan font-size="5" dy="-2.4">-1</tspan><tspan dy="2.4">)</tspan></text><rect x="179.5" y="432.3" width="61.8" height="256.3" fill="#fff" stroke="#333" stroke-width="1.1"/><text x="210.4" y="447.6" text-anchor="middle" font-size="12.5">IM9</text><g clip-path="url(#cclip2)"><path d="M229.4,465.3L250.1,452.4M229.4,465.3L229.7,467.7M229.7,467.7L232.4,474.5M209.0,503.3L226.8,509.0M209.0,503.3L203.1,510.0M204.6,512.4L203.1,510.0M204.6,512.4L219.5,520.0M219.5,520.0L226.8,509.0M241.5,513.3L228.5,507.8M228.5,507.8L226.8,509.0M225.1,459.4L229.4,444.3M225.1,459.4L218.1,458.1M229.4,465.3L225.1,459.4M250.1,452.4L229.4,444.3M228.1,501.8L225.1,497.7M228.1,501.8L240.6,494.0M225.1,497.7L235.9,480.0M240.6,494.0L245.1,486.8M245.1,486.8L235.9,480.0M213.0,493.6L209.0,503.3M213.0,493.6L215.0,492.9M228.5,507.8L228.1,501.8M215.0,492.9L225.1,497.7M241.5,513.3L240.6,494.0M215.0,492.9L220.7,482.6M220.7,482.6L232.5,475.7M232.5,475.7L235.9,480.0M232.4,474.5L232.5,475.7M175.0,508.0L185.8,517.0M203.1,510.0L196.7,508.5M196.7,508.5L189.2,516.7M189.2,516.7L185.8,517.0M218.1,458.1L217.6,458.1M201.1,455.9L216.5,458.1M217.6,458.1L216.5,458.1M177.4,482.4L187.3,474.3M177.4,482.4L175.1,459.0M187.3,474.3L188.4,471.5M188.4,471.5L188.4,466.7M175.1,459.0L188.4,466.7M176.2,485.3L177.4,482.4M195.0,473.1L188.4,471.5M195.0,473.1L200.1,462.2M199.7,461.0L200.1,462.2M199.7,461.0L188.4,466.7M201.1,455.9L199.7,461.0M184.0,489.9L186.7,490.9M184.0,489.9L177.7,506.6M186.7,490.9L193.1,503.3M177.7,506.6L193.4,504.3M193.1,503.3L193.4,504.3M176.2,485.3L184.0,489.9M175.0,508.0L177.7,506.6M196.7,508.5L193.4,504.3M198.8,482.5L201.4,481.7M198.8,482.5L188.0,490.1M188.0,490.1L201.2,493.0M201.6,481.7L201.4,481.7M201.6,481.7L206.4,488.7M206.4,488.7L201.2,493.0M195.0,473.1L201.4,481.7M187.3,474.3L198.8,482.5M186.7,490.9L188.0,490.1M193.1,503.3L201.2,493.0M203.1,479.4L204.5,470.6M203.1,479.4L201.6,481.7M204.5,470.6L200.1,462.2M213.0,493.6L206.4,488.7M203.1,479.4L213.3,478.0M213.3,478.0L220.7,482.6M207.2,470.2L208.1,470.0M207.2,470.2L213.7,475.2M208.1,470.0L212.3,469.9M212.3,469.9L215.3,471.8M215.3,471.8L213.7,475.2M204.5,470.6L207.2,470.2M216.5,458.1L208.1,470.0M213.3,478.0L213.7,475.2M217.6,458.1L212.3,469.9M229.7,467.7L215.3,471.8" stroke="#ff5a5a" stroke-width="0.44" fill="none"/><path d="M203.2,531.6L185.0,513.8M181.9,515.3L185.0,513.8M237.8,488.8L238.2,494.6M237.8,488.8L246.4,481.7M237.8,488.8L228.0,485.5M246.4,481.7L230.6,466.8M228.0,485.5L230.6,466.8M192.0,495.1L191.4,510.2M192.0,495.1L212.8,504.2M212.8,504.2L212.0,504.8M212.0,504.8L193.5,510.8M191.4,510.2L193.5,510.8M191.7,493.9L209.4,480.1M191.7,493.9L192.0,495.1M209.4,480.1L214.8,485.4M214.8,485.4L213.7,503.6M213.7,503.6L212.8,504.2M204.0,523.2L193.5,510.8M204.0,523.2L208.1,519.4M208.1,519.4L212.0,504.8M203.2,531.6L204.0,523.2M185.0,513.8L191.4,510.2M185.6,472.6L185.3,488.1M185.6,472.6L172.3,482.8M185.3,488.1L179.0,486.1M172.3,482.8L179.0,486.1M169.2,508.3L181.9,494.3M181.9,494.3L174.5,490.9M191.7,493.9L186.9,491.6M181.9,515.3L169.2,508.3M186.9,491.6L181.9,494.3M186.9,491.6L185.3,488.1M179.0,486.1L174.5,490.9M186.2,470.8L185.6,472.6M224.3,521.7L218.5,506.5M235.2,502.8L218.5,506.5M238.2,494.6L235.2,502.8M208.1,519.4L224.3,521.7M213.7,503.6L218.5,506.5M214.8,485.4L228.0,485.5M243.1,457.1L227.6,446.5M227.6,446.5L226.5,429.1M194.7,461.7L207.0,449.1M194.7,461.7L190.5,455.6M190.6,454.8L190.5,455.6M186.2,470.8L195.1,465.9M195.1,465.9L194.7,461.7M212.9,450.8L207.0,449.1M212.9,450.8L226.5,429.1M208.5,476.8L230.6,466.8M208.5,476.8L207.3,474.6M207.3,474.6L219.7,456.9M230.6,466.8L231.2,463.5M231.2,463.5L220.5,456.8M219.7,456.9L220.5,456.8M209.4,480.1L208.5,476.8M230.6,466.8L230.6,466.8M195.1,465.9L207.3,474.6M212.9,450.8L219.7,456.9M243.1,457.1L231.2,463.5M227.6,446.5L220.5,456.8" stroke="#ffbf4a" stroke-width="0.44" fill="none"/><line x1="189.4" y1="476.2" x2="192.4" y2="481.8" stroke="#e00000" stroke-width="1.98"/><line x1="192.4" y1="481.8" x2="195.5" y2="487.4" stroke="#7474b4" stroke-width="1.98"/><line x1="199.5" y1="481.8" x2="197.5" y2="484.6" stroke="#e00000" stroke-width="1.98"/><line x1="197.5" y1="484.6" x2="195.5" y2="487.4" stroke="#7474b4" stroke-width="1.98"/><line x1="195.5" y1="487.4" x2="201.2" y2="488.8" stroke="#7474b4" stroke-width="1.98"/><line x1="201.2" y1="488.8" x2="206.9" y2="490.2" stroke="#e00000" stroke-width="1.98"/><line x1="195.5" y1="487.4" x2="190.8" y2="491.6" stroke="#7474b4" stroke-width="1.98"/><line x1="190.8" y1="491.6" x2="186.0" y2="495.9" stroke="#e00000" stroke-width="1.98"/><line x1="195.5" y1="487.4" x2="193.3" y2="494.7" stroke="#7474b4" stroke-width="1.98"/><line x1="193.3" y1="494.7" x2="191.1" y2="502.0" stroke="#e00000" stroke-width="1.98"/><line x1="206.9" y1="490.2" x2="214.2" y2="490.2" stroke="#e00000" stroke-width="1.98"/><line x1="214.2" y1="490.2" x2="221.5" y2="490.2" stroke="#58d0d6" stroke-width="1.98"/><line x1="221.5" y1="490.2" x2="225.1" y2="483.4" stroke="#58d0d6" stroke-width="1.98"/><line x1="225.1" y1="483.4" x2="228.8" y2="476.7" stroke="#e00000" stroke-width="1.98"/><line x1="221.5" y1="490.2" x2="224.9" y2="492.7" stroke="#58d0d6" stroke-width="1.98"/><line x1="224.9" y1="492.7" x2="228.2" y2="495.3" stroke="#e00000" stroke-width="1.98"/><line x1="221.5" y1="490.2" x2="223.4" y2="498.1" stroke="#58d0d6" stroke-width="1.98"/><line x1="223.4" y1="498.1" x2="225.4" y2="506.0" stroke="#e00000" stroke-width="1.98"/><line x1="228.8" y1="476.7" x2="226.5" y2="473.0" stroke="#e00000" stroke-width="1.98"/><line x1="226.5" y1="473.0" x2="224.3" y2="469.4" stroke="#6a6a6a" stroke-width="1.98"/><line x1="186.0" y1="495.9" x2="185.1" y2="502.0" stroke="#e00000" stroke-width="1.98"/><line x1="185.1" y1="502.0" x2="184.3" y2="508.2" stroke="#d060d8" stroke-width="1.98"/><line x1="191.1" y1="502.0" x2="187.7" y2="505.1" stroke="#e00000" stroke-width="1.98"/><line x1="187.7" y1="505.1" x2="184.3" y2="508.2" stroke="#d060d8" stroke-width="1.98"/><line x1="228.2" y1="495.3" x2="229.1" y2="502.3" stroke="#e00000" stroke-width="1.98"/><line x1="229.1" y1="502.3" x2="229.9" y2="509.4" stroke="#d060d8" stroke-width="1.98"/><line x1="225.4" y1="506.0" x2="227.7" y2="507.7" stroke="#e00000" stroke-width="1.98"/><line x1="227.7" y1="507.7" x2="229.9" y2="509.4" stroke="#d060d8" stroke-width="1.98"/><line x1="191.1" y1="469.4" x2="190.2" y2="472.8" stroke="#dddddd" stroke-width="1.98"/><line x1="190.2" y1="472.8" x2="189.4" y2="476.2" stroke="#e00000" stroke-width="1.98"/><line x1="219.2" y1="474.5" x2="221.7" y2="471.9" stroke="#dddddd" stroke-width="1.98"/><line x1="221.7" y1="471.9" x2="224.3" y2="469.4" stroke="#6a6a6a" stroke-width="1.98"/><circle cx="191.1" cy="469.4" r="3.49" fill="url(#gH)"/><circle cx="219.8" cy="461.0" r="3.95" fill="url(#gH)"/><circle cx="228.2" cy="460.4" r="3.49" fill="url(#gH)"/><circle cx="215.2" cy="466.5" r="3.95" fill="url(#gH)"/><circle cx="219.2" cy="474.5" r="3.49" fill="url(#gH)"/><circle cx="232.1" cy="468.8" r="3.49" fill="url(#gH)"/><circle cx="189.4" cy="476.2" r="3.95" fill="url(#gO)"/><circle cx="199.5" cy="481.8" r="3.95" fill="url(#gO)"/><circle cx="195.5" cy="487.4" r="3.95" fill="url(#gFe)"/><circle cx="206.9" cy="490.2" r="3.95" fill="url(#gO)"/><circle cx="221.5" cy="490.2" r="4.23" fill="url(#gZn)"/><circle cx="228.8" cy="476.7" r="3.95" fill="url(#gO)"/><circle cx="224.3" cy="469.4" r="3.49" fill="url(#gC)"/><circle cx="186.0" cy="495.9" r="3.95" fill="url(#gO)"/><circle cx="191.1" cy="502.0" r="3.95" fill="url(#gO)"/><circle cx="184.3" cy="508.2" r="3.95" fill="url(#gAl)"/><circle cx="228.2" cy="495.3" r="3.95" fill="url(#gO)"/><circle cx="225.4" cy="506.0" r="3.95" fill="url(#gO)"/><circle cx="229.9" cy="509.4" r="3.49" fill="url(#gAl)"/></g><text x="210.4" y="527.9" text-anchor="middle" font-size="11.2">CH<tspan font-size="7.3" dy="2.4">3</tspan><tspan dy="-2.4">CH</tspan><tspan font-size="7.3" dy="2.4">2</tspan><tspan dy="-2.4">O*</tspan></text><text x="210.4" y="541.4" text-anchor="middle" font-size="11">1342 cm<tspan font-size="6.8" dy="-4">-1</tspan></text><g clip-path="url(#pclip2)"><polyline points="180.5,665.1 181.1,664.8 181.7,664.6 182.3,664.3 182.9,663.9 183.5,663.6 184.1,663.3 184.7,663.0 185.3,662.7 185.9,662.3 186.5,662.0 187.1,661.7 187.7,661.4 188.3,661.1 188.9,660.8 189.5,660.5 190.1,660.2 190.7,660.0 191.3,659.8 191.9,659.5 192.5,659.4 193.1,659.2 193.7,659.1 194.3,658.9 194.9,658.8 195.5,658.8 196.1,658.7 196.7,658.7 197.3,658.7 197.9,658.7 198.5,658.8 199.1,658.8 199.7,658.9 200.3,659.0 200.9,659.1 201.5,659.2 202.1,659.3 202.7,659.4 203.3,659.6 203.9,659.7 204.5,659.8 205.1,660.0 205.7,660.1 206.3,660.2 206.9,660.4 207.5,660.5 208.1,660.6 208.7,660.7 209.3,660.7 209.9,660.8 210.5,660.9 211.1,660.9 211.7,660.9 212.3,660.9 212.9,660.9 213.5,660.8 214.1,660.6 214.7,660.1 215.3,659.4 215.9,658.3 216.5,656.8 217.1,654.9 217.7,652.9 218.3,651.2 218.9,650.1 219.5,649.9 220.1,650.6 220.7,652.0 221.3,653.9 221.9,655.7 222.5,657.3 223.1,658.4 223.7,659.2 224.3,659.6 224.9,659.8 225.5,659.8 226.1,659.8 226.7,659.8 227.3,659.7 227.9,659.6 228.5,659.5 229.1,659.4 229.7,659.4 230.3,659.3 230.9,659.2 231.5,659.1 232.1,659.0 232.7,658.9 233.3,658.8 233.9,658.7 234.5,658.6 235.1,658.6 235.7,658.5 236.3,658.5 236.9,658.4 237.5,658.4 238.1,658.4 238.7,658.4 239.3,658.5 239.9,658.5" fill="none" stroke="#b090e0" stroke-width="0.65" stroke-dasharray="2,1.1"/><polyline points="180.5,664.0 181.1,664.5 181.7,665.0 182.3,665.5 182.9,665.9 183.5,666.4 184.1,666.8 184.7,667.2 185.3,667.5 185.9,667.8 186.5,668.1 187.1,668.3 187.7,668.5 188.3,668.7 188.9,668.8 189.5,668.9 190.1,668.9 190.7,668.9 191.3,668.8 191.9,668.7 192.5,668.5 193.1,668.3 193.7,668.1 194.3,667.8 194.9,667.4 195.5,667.0 196.1,666.6 196.7,666.2 197.3,665.7 197.9,665.1 198.5,664.6 199.1,664.0 199.7,663.4 200.3,662.7 200.9,662.1 201.5,661.4 202.1,660.7 202.7,660.0 203.3,659.3 203.9,658.6 204.5,657.9 205.1,657.2 205.7,656.5 206.3,655.8 206.9,655.1 207.5,654.4 208.1,653.8 208.7,653.2 209.3,652.6 209.9,652.0 210.5,651.5 211.1,651.0 211.7,650.6 212.3,650.2 212.9,649.9 213.5,649.5 214.1,649.0 214.7,648.2 215.3,647.1 215.9,645.5 216.5,643.3 217.1,640.6 217.7,637.9 218.3,635.6 218.9,634.4 219.5,634.6 220.1,636.2 220.7,639.1 221.3,642.6 221.9,646.1 222.5,649.3 223.1,651.9 223.7,653.9 224.3,655.4 224.9,656.6 225.5,657.6 226.1,658.5 226.7,659.4 227.3,660.2 227.9,661.0 228.5,661.7 229.1,662.4 229.7,663.1 230.3,663.8 230.9,664.4 231.5,664.9 232.1,665.4 232.7,665.8 233.3,666.2 233.9,666.5 234.5,666.8 235.1,667.0 235.7,667.1 236.3,667.2 236.9,667.2 237.5,667.1 238.1,667.0 238.7,666.9 239.3,666.7 239.9,666.4" fill="none" stroke="#5a9ae0" stroke-width="0.65" stroke-dasharray="2,1.1"/><polyline points="180.5,666.7 181.1,667.1 181.7,667.5 182.3,667.9 182.9,668.2 183.5,668.5 184.1,668.7 184.7,668.9 185.3,669.0 185.9,669.1 186.5,669.2 187.1,669.2 187.7,669.2 188.3,669.1 188.9,668.9 189.5,668.8 190.1,668.5 190.7,668.3 191.3,667.9 191.9,667.6 192.5,667.2 193.1,666.8 193.7,666.3 194.3,665.8 194.9,665.3 195.5,664.7 196.1,664.1 196.7,663.5 197.3,662.9 197.9,662.2 198.5,661.6 199.1,660.9 199.7,660.2 200.3,659.5 200.9,658.8 201.5,658.1 202.1,657.4 202.7,656.7 203.3,656.0 203.9,655.4 204.5,654.7 205.1,654.0 205.7,653.4 206.3,652.8 206.9,652.2 207.5,651.6 208.1,651.1 208.7,650.6 209.3,650.1 209.9,649.7 210.5,649.3 211.1,648.9 211.7,648.6 212.3,648.3 212.9,648.0 213.5,647.6 214.1,646.8 214.7,645.5 215.3,643.2 215.9,639.7 216.5,634.9 217.1,629.0 217.7,622.8 218.3,617.5 218.9,614.5 219.5,614.5 220.1,617.7 220.7,623.4 221.3,630.4 221.9,637.6 222.5,643.8 223.1,648.7 223.7,652.3 224.3,654.7 224.9,656.4 225.5,657.7 226.1,658.6 226.7,659.5 227.3,660.3 227.9,661.0 228.5,661.7 229.1,662.4 229.7,663.0 230.3,663.5 230.9,664.0 231.5,664.4 232.1,664.8 232.7,665.1 233.3,665.3 233.9,665.4 234.5,665.5 235.1,665.6 235.7,665.5 236.3,665.4 236.9,665.3 237.5,665.1 238.1,664.8 238.7,664.5 239.3,664.2 239.9,663.8" fill="none" stroke="#ff8a8a" stroke-width="0.65" stroke-dasharray="2,1.1"/><polyline points="180.5,664.7 181.1,665.1 181.7,665.5 182.3,665.9 182.9,666.2 183.5,666.5 184.1,666.8 184.7,667.1 185.3,667.3 185.9,667.5 186.5,667.6 187.1,667.8 187.7,667.8 188.3,667.9 188.9,667.9 189.5,667.8 190.1,667.7 190.7,667.6 191.3,667.4 191.9,667.2 192.5,667.0 193.1,666.7 193.7,666.4 194.3,666.0 194.9,665.6 195.5,665.2 196.1,664.7 196.7,664.2 197.3,663.7 197.9,663.1 198.5,662.5 199.1,661.9 199.7,661.2 200.3,660.6 200.9,659.9 201.5,659.2 202.1,658.5 202.7,657.7 203.3,657.0 203.9,656.2 204.5,655.4 205.1,654.7 205.7,653.9 206.3,653.1 206.9,652.3 207.5,651.6 208.1,650.8 208.7,650.1 209.3,649.4 209.9,648.7 210.5,648.1 211.1,647.5 211.7,646.9 212.3,646.3 212.9,645.7 213.5,644.9 214.1,643.6 214.7,641.5 215.3,638.1 215.9,633.0 216.5,626.0 217.1,617.5 217.7,608.6 218.3,601.0 218.9,596.4 219.5,596.1 220.1,600.2 220.7,607.8 221.3,617.3 221.9,626.9 222.5,635.2 223.1,641.7 223.7,646.4 224.3,649.5 224.9,651.6 225.5,653.1 226.1,654.3 226.7,655.4 227.3,656.3 227.9,657.2 228.5,658.1 229.1,659.0 229.7,659.8 230.3,660.5 230.9,661.2 231.5,661.9 232.1,662.5 232.7,663.0 233.3,663.4 233.9,663.8 234.5,664.1 235.1,664.4 235.7,664.6 236.3,664.7 236.9,664.8 237.5,664.8 238.1,664.7 238.7,664.6 239.3,664.5 239.9,664.3" fill="none" stroke="#48c8d0" stroke-width="0.65" stroke-dasharray="2,1.1"/><polyline points="180.5,663.4 181.1,662.7 181.7,662.1 182.3,661.5 182.9,660.9 183.5,660.2 184.1,659.6 184.7,659.1 185.3,658.5 185.9,658.0 186.5,657.5 187.1,657.0 187.7,656.6 188.3,656.2 188.9,655.8 189.5,655.5 190.1,655.2 190.7,655.0 191.3,654.8 191.9,654.7 192.5,654.6 193.1,654.6 193.7,654.6 194.3,654.7 194.9,654.8 195.5,654.9 196.1,655.1 196.7,655.3 197.3,655.5 197.9,655.8 198.5,656.1 199.1,656.3 199.7,656.6 200.3,656.9 200.9,657.2 201.5,657.5 202.1,657.7 202.7,658.0 203.3,658.2 203.9,658.3 204.5,658.5 205.1,658.6 205.7,658.6 206.3,658.6 206.9,658.6 207.5,658.5 208.1,658.3 208.7,658.1 209.3,657.8 209.9,657.5 210.5,657.2 211.1,656.7 211.7,656.3 212.3,655.7 212.9,654.9 213.5,653.8 214.1,651.8 214.7,648.6 215.3,643.4 215.9,635.6 216.5,625.0 217.1,612.1 217.7,598.5 218.3,586.8 218.9,579.2 219.5,577.8 220.1,582.6 220.7,592.5 221.3,605.0 221.9,617.5 222.5,628.3 223.1,636.4 223.7,641.8 224.3,645.0 224.9,646.7 225.5,647.5 226.1,647.9 226.7,648.1 227.3,648.3 227.9,648.4 228.5,648.6 229.1,648.7 229.7,648.9 230.3,649.1 230.9,649.3 231.5,649.5 232.1,649.8 232.7,650.0 233.3,650.3 233.9,650.6 234.5,650.9 235.1,651.2 235.7,651.5 236.3,651.8 236.9,652.2 237.5,652.6 238.1,653.0 238.7,653.4 239.3,653.9 239.9,654.3" fill="none" stroke="#e8a448" stroke-width="0.65" stroke-dasharray="2,1.1"/><polyline points="180.5,665.9 181.1,665.8 181.7,665.8 182.3,665.7 182.9,665.6 183.5,665.4 184.1,665.3 184.7,665.1 185.3,664.9 185.9,664.6 186.5,664.4 187.1,664.1 187.7,663.8 188.3,663.6 188.9,663.2 189.5,662.9 190.1,662.6 190.7,662.3 191.3,661.9 191.9,661.6 192.5,661.2 193.1,660.8 193.7,660.5 194.3,660.1 194.9,659.8 195.5,659.4 196.1,659.0 196.7,658.7 197.3,658.3 197.9,657.9 198.5,657.6 199.1,657.2 199.7,656.8 200.3,656.4 200.9,656.0 201.5,655.6 202.1,655.2 202.7,654.7 203.3,654.3 203.9,653.8 204.5,653.3 205.1,652.8 205.7,652.3 206.3,651.8 206.9,651.3 207.5,650.7 208.1,650.2 208.7,649.6 209.3,649.0 209.9,648.5 210.5,647.9 211.1,647.3 211.7,646.8 212.3,646.1 212.9,645.4 213.5,644.2 214.1,642.3 214.7,638.9 215.3,633.4 215.9,625.1 216.5,613.7 217.1,599.8 217.7,585.2 218.3,572.7 218.9,564.9 219.5,563.9 220.1,569.9 220.7,581.6 221.3,596.2 221.9,610.9 222.5,623.6 223.1,633.4 223.7,640.1 224.3,644.3 224.9,646.9 225.5,648.6 226.1,649.7 226.7,650.6 227.3,651.3 227.9,652.0 228.5,652.7 229.1,653.3 229.7,654.0 230.3,654.5 230.9,655.1 231.5,655.6 232.1,656.1 232.7,656.5 233.3,656.8 233.9,657.2 234.5,657.4 235.1,657.7 235.7,657.9 236.3,658.0 236.9,658.1 237.5,658.2 238.1,658.3 238.7,658.3 239.3,658.3 239.9,658.3" fill="none" stroke="#b8b040" stroke-width="0.65" stroke-dasharray="2,1.1"/></g><line x1="219.3" y1="562.2" x2="219.3" y2="678.1" stroke="#333" stroke-width="0.7" stroke-dasharray="1.6,1"/><path d="M186.5,558.3 V572.3 M184.5,558.3 H188.5 M184.5,572.3 H188.5" stroke="#444" stroke-width="0.9" fill="none"/><text x="190.0" y="568.2" font-size="8.3">0.02</text><text x="192.7" y="626.1" text-anchor="middle" font-size="7.2">30 min</text><line x1="191.9" y1="644.2" x2="191.9" y2="632" stroke="#000" stroke-width="1"/><path d="M189.6,633 L191.9,629 L194.20000000000002,633 Z" fill="#000"/><text x="192.7" y="651.2" text-anchor="middle" font-size="7.2">1 min</text><text x="197.1" y="695.9" text-anchor="middle" font-size="5.8">1350</text><line x1="197.1" y1="688.6" x2="197.1" y2="686.6" stroke="#333" stroke-width="0.7"/><text x="226.3" y="695.9" text-anchor="middle" font-size="5.8">1340</text><line x1="226.3" y1="688.6" x2="226.3" y2="686.6" stroke="#333" stroke-width="0.7"/><text x="210.4" y="702.6" text-anchor="middle" font-size="7.5">Wavenumber (cm<tspan font-size="5" dy="-2.4">-1</tspan><tspan dy="2.4">)</tspan></text><rect x="252.4" y="432.3" width="61.2" height="256.3" fill="#fff" stroke="#333" stroke-width="1.1"/><text x="283.0" y="447.6" text-anchor="middle" font-size="12.5">IM11</text><g clip-path="url(#cclip3)"><path d="M279.4,517.2L276.1,515.9M266.9,519.0L276.1,515.9M244.6,452.2L250.0,433.1M301.2,502.7L304.6,516.6M301.2,502.7L286.0,506.9M286.0,506.9L285.3,509.8M285.3,509.8L304.5,520.0M304.5,520.0L304.6,516.6M279.4,517.2L285.3,509.8M316.3,505.4L304.6,516.6M266.9,519.0L260.7,514.8M276.1,515.9L264.9,499.6M260.7,514.8L259.2,501.6M259.2,501.6L264.9,499.6M286.0,506.9L285.8,506.3M285.8,506.3L266.1,498.3M264.9,499.6L266.1,498.3M285.8,506.3L285.0,494.5M268.7,493.8L266.1,498.3M268.7,493.8L279.2,489.0M285.0,494.5L279.2,489.0M295.5,459.6L295.0,459.3M295.0,459.3L297.7,446.3M279.4,467.4L272.8,463.0M279.4,467.4L285.8,463.1M285.8,463.1L287.1,460.0M287.1,460.0L282.9,455.9M272.8,463.0L282.9,455.9M274.2,474.0L262.3,471.0M274.2,474.0L279.4,467.4M266.5,464.1L272.8,463.0M266.5,464.1L262.4,466.5M262.4,466.5L262.3,471.0M244.6,452.2L250.1,454.8M250.0,433.1L253.2,454.5M250.1,454.8L253.2,454.5M274.2,474.0L281.7,482.6M268.7,493.8L259.4,474.7M281.7,482.6L279.2,489.0M262.3,471.0L259.4,474.7M256.5,501.3L256.3,475.7M235.5,480.3L256.3,475.7M259.2,501.6L256.5,501.3M250.1,454.8L235.5,480.3M259.4,474.7L256.3,475.7M257.1,455.3L253.2,454.5M257.1,455.3L262.4,466.5M316.3,505.4L314.3,498.9M301.2,502.7L302.3,499.3M302.3,499.3L314.3,498.9M314.3,498.9L321.9,491.6M295.5,459.6L308.1,469.1M295.0,459.3L287.1,460.0M285.8,463.1L288.3,478.9M288.3,478.9L308.1,469.1M281.7,482.6L288.0,479.3M288.3,478.9L288.0,479.3M308.1,469.1L314.6,470.7M297.7,446.3L282.7,447.1M282.9,455.9L282.2,454.8M282.2,454.8L282.7,447.1M257.1,455.3L264.6,447.0M293.3,484.0L305.9,483.0M293.3,484.0L296.5,494.0M296.5,494.0L301.0,496.3M301.0,496.3L303.6,490.5M303.6,490.5L305.9,483.0M288.0,479.3L293.3,484.0M314.6,470.7L305.9,483.0M285.0,494.5L296.5,494.0M302.3,499.3L301.0,496.3M321.9,491.6L303.6,490.5M270.3,459.1L282.1,454.8M270.3,459.1L271.6,452.0M271.6,452.0L282.1,454.8M266.5,464.1L270.3,459.1M282.2,454.8L282.1,454.8M264.6,447.0L271.6,452.0" stroke="#ff5a5a" stroke-width="0.44" fill="none"/><path d="M308.5,461.4L310.7,450.2M308.5,461.4L300.6,453.0M300.6,453.0L300.2,437.2M310.7,450.2L300.2,437.2M334.3,465.0L310.7,450.2M334.3,465.0L314.3,471.7M314.3,471.7L308.5,461.4M314.3,471.7L312.6,473.0M291.6,466.2L300.6,453.0M291.6,466.2L292.5,469.7M292.5,469.7L312.6,473.0M291.6,466.2L277.8,450.3M313.3,478.4L319.0,500.5M313.3,478.4L312.0,475.9M312.0,475.9L302.5,494.0M302.5,494.0L309.5,505.3M309.5,505.3L319.1,504.2M319.1,504.2L319.0,500.5M319.4,488.1L319.0,500.5M319.4,488.1L313.3,478.4M312.6,473.0L312.0,475.9M292.5,469.7L278.7,486.4M278.7,486.4L279.2,488.7M279.2,488.7L302.5,494.0M309.7,513.8L309.4,505.5M309.4,505.5L309.5,505.3M278.7,486.4L267.7,476.5M277.8,450.3L277.0,451.4M267.7,476.5L277.0,451.4M277.0,451.4L259.6,458.2M260.5,465.6L265.3,476.0M265.3,476.0L250.7,479.0M267.7,476.5L265.3,476.0M259.6,458.2L260.5,465.6M309.4,505.5L294.9,512.7M279.2,488.7L277.3,493.6M294.9,512.7L291.8,511.8M277.3,493.6L291.8,511.8M255.7,525.7L239.3,513.5M294.9,512.7L295.0,541.1M291.8,511.8L286.9,515.0M286.9,515.0L287.5,525.6M287.5,525.6L295.0,541.1M254.9,509.6L247.1,510.4M254.9,509.6L254.6,498.6M247.1,510.4L244.5,497.2M254.6,498.6L249.9,495.2M249.9,495.2L244.5,497.2M255.7,525.7L259.4,515.2M259.4,515.2L254.9,509.6M239.3,513.5L247.1,510.4M250.7,479.0L249.9,495.2M277.3,493.6L277.3,493.6M277.3,493.6L254.6,498.6M286.6,515.0L272.9,507.6M286.6,515.0L281.5,518.6M281.5,518.6L275.1,518.7M275.1,518.7L271.0,511.3M271.0,511.3L272.9,507.6M277.3,493.6L272.9,507.6M286.9,515.0L286.6,515.0M287.5,525.6L281.5,518.6M259.4,515.2L271.0,511.3" stroke="#ffbf4a" stroke-width="0.44" fill="none"/><line x1="302.0" y1="465.1" x2="301.5" y2="470.2" stroke="#6a6a6a" stroke-width="1.98"/><line x1="301.5" y1="470.2" x2="301.0" y2="475.3" stroke="#6a6a6a" stroke-width="1.98"/><line x1="301.0" y1="475.3" x2="303.4" y2="476.2" stroke="#6a6a6a" stroke-width="1.98"/><line x1="303.4" y1="476.2" x2="305.8" y2="477.2" stroke="#e00000" stroke-width="1.98"/><line x1="305.8" y1="477.2" x2="299.1" y2="482.5" stroke="#e00000" stroke-width="1.98"/><line x1="299.1" y1="482.5" x2="292.3" y2="487.9" stroke="#58d0d6" stroke-width="1.98"/><line x1="258.5" y1="480.1" x2="264.3" y2="483.3" stroke="#e00000" stroke-width="1.98"/><line x1="264.3" y1="483.3" x2="270.1" y2="486.4" stroke="#7474b4" stroke-width="1.98"/><line x1="278.4" y1="482.0" x2="274.2" y2="484.2" stroke="#e00000" stroke-width="1.98"/><line x1="274.2" y1="484.2" x2="270.1" y2="486.4" stroke="#7474b4" stroke-width="1.98"/><line x1="278.4" y1="482.0" x2="285.3" y2="484.9" stroke="#e00000" stroke-width="1.98"/><line x1="285.3" y1="484.9" x2="292.3" y2="487.9" stroke="#58d0d6" stroke-width="1.98"/><line x1="270.1" y1="486.4" x2="276.2" y2="487.6" stroke="#7474b4" stroke-width="1.98"/><line x1="276.2" y1="487.6" x2="282.2" y2="488.8" stroke="#e00000" stroke-width="1.98"/><line x1="270.1" y1="486.4" x2="266.3" y2="490.8" stroke="#7474b4" stroke-width="1.98"/><line x1="266.3" y1="490.8" x2="262.4" y2="495.1" stroke="#e00000" stroke-width="1.98"/><line x1="270.1" y1="486.4" x2="268.0" y2="494.6" stroke="#7474b4" stroke-width="1.98"/><line x1="268.0" y1="494.6" x2="265.8" y2="502.8" stroke="#e00000" stroke-width="1.98"/><line x1="282.2" y1="488.8" x2="287.3" y2="488.3" stroke="#e00000" stroke-width="1.98"/><line x1="287.3" y1="488.3" x2="292.3" y2="487.9" stroke="#58d0d6" stroke-width="1.98"/><line x1="292.3" y1="487.9" x2="296.2" y2="491.0" stroke="#58d0d6" stroke-width="1.98"/><line x1="296.2" y1="491.0" x2="300.0" y2="494.1" stroke="#e00000" stroke-width="1.98"/><line x1="292.3" y1="487.9" x2="295.2" y2="495.6" stroke="#58d0d6" stroke-width="1.98"/><line x1="295.2" y1="495.6" x2="298.1" y2="503.3" stroke="#e00000" stroke-width="1.98"/><line x1="262.4" y1="495.1" x2="260.9" y2="501.4" stroke="#e00000" stroke-width="1.98"/><line x1="260.9" y1="501.4" x2="259.5" y2="507.6" stroke="#d060d8" stroke-width="1.98"/><line x1="265.8" y1="502.8" x2="262.6" y2="505.2" stroke="#e00000" stroke-width="1.98"/><line x1="262.6" y1="505.2" x2="259.5" y2="507.6" stroke="#d060d8" stroke-width="1.98"/><line x1="300.0" y1="494.1" x2="301.3" y2="501.1" stroke="#e00000" stroke-width="1.98"/><line x1="301.3" y1="501.1" x2="302.5" y2="508.1" stroke="#d060d8" stroke-width="1.98"/><line x1="298.1" y1="503.3" x2="300.3" y2="505.7" stroke="#e00000" stroke-width="1.98"/><line x1="300.3" y1="505.7" x2="302.5" y2="508.1" stroke="#d060d8" stroke-width="1.98"/><line x1="302.5" y1="457.9" x2="302.2" y2="461.5" stroke="#dddddd" stroke-width="1.98"/><line x1="302.2" y1="461.5" x2="302.0" y2="465.1" stroke="#6a6a6a" stroke-width="1.98"/><line x1="294.7" y1="464.2" x2="298.4" y2="464.7" stroke="#dddddd" stroke-width="1.98"/><line x1="298.4" y1="464.7" x2="302.0" y2="465.1" stroke="#6a6a6a" stroke-width="1.98"/><line x1="308.7" y1="465.1" x2="305.4" y2="465.1" stroke="#dddddd" stroke-width="1.98"/><line x1="305.4" y1="465.1" x2="302.0" y2="465.1" stroke="#6a6a6a" stroke-width="1.98"/><line x1="256.6" y1="477.7" x2="257.6" y2="478.9" stroke="#dddddd" stroke-width="1.98"/><line x1="257.6" y1="478.9" x2="258.5" y2="480.1" stroke="#e00000" stroke-width="1.98"/><line x1="278.4" y1="474.8" x2="278.4" y2="478.4" stroke="#dddddd" stroke-width="1.98"/><line x1="278.4" y1="478.4" x2="278.4" y2="482.0" stroke="#e00000" stroke-width="1.98"/><line x1="283.1" y1="483.0" x2="280.7" y2="482.5" stroke="#dddddd" stroke-width="1.98"/><line x1="280.7" y1="482.5" x2="278.4" y2="482.0" stroke="#e00000" stroke-width="1.98"/><circle cx="302.5" cy="457.9" r="3.40" fill="url(#gH)"/><circle cx="294.7" cy="464.2" r="3.40" fill="url(#gH)"/><circle cx="308.7" cy="465.1" r="3.40" fill="url(#gH)"/><circle cx="256.6" cy="477.7" r="3.03" fill="url(#gH)"/><circle cx="278.4" cy="474.8" r="3.40" fill="url(#gH)"/><circle cx="283.1" cy="483.0" r="3.40" fill="url(#gH)"/><circle cx="302.0" cy="465.1" r="3.03" fill="url(#gC)"/><circle cx="301.0" cy="475.3" r="3.40" fill="url(#gC)"/><circle cx="305.8" cy="477.2" r="3.58" fill="url(#gO)"/><circle cx="258.5" cy="480.1" r="3.58" fill="url(#gO)"/><circle cx="278.4" cy="482.0" r="3.40" fill="url(#gO)"/><circle cx="270.1" cy="486.4" r="3.40" fill="url(#gFe)"/><circle cx="282.2" cy="488.8" r="3.58" fill="url(#gO)"/><circle cx="292.3" cy="487.9" r="3.58" fill="url(#gZn)"/><circle cx="262.4" cy="495.1" r="3.58" fill="url(#gO)"/><circle cx="265.8" cy="502.8" r="3.58" fill="url(#gO)"/><circle cx="259.5" cy="507.6" r="3.40" fill="url(#gAl)"/><circle cx="300.0" cy="494.1" r="3.40" fill="url(#gO)"/><circle cx="298.1" cy="503.3" r="3.58" fill="url(#gO)"/><circle cx="302.5" cy="508.1" r="3.40" fill="url(#gAl)"/></g><text x="283.0" y="527.9" text-anchor="middle" font-size="11.2">CH<tspan font-size="7.3" dy="2.4">3</tspan><tspan dy="-2.4">CO*</tspan></text><text x="283.0" y="541.4" text-anchor="middle" font-size="11">1652 cm<tspan font-size="6.8" dy="-4">-1</tspan></text><g clip-path="url(#pclip3)"><polyline points="253.4,660.1 254.0,659.6 254.6,659.1 255.2,658.5 255.8,658.0 256.4,657.4 257.0,656.9 257.6,656.3 258.2,655.8 258.8,655.3 259.4,654.8 260.0,654.4 260.6,653.9 261.2,653.5 261.8,653.2 262.4,652.8 263.0,652.5 263.6,652.3 264.2,652.1 264.8,651.9 265.4,651.8 266.0,651.8 266.6,651.7 267.2,651.8 267.8,651.8 268.4,652.0 269.0,652.1 269.6,652.3 270.2,652.6 270.8,652.9 271.4,653.2 272.0,653.6 272.6,654.0 273.2,654.4 273.8,654.9 274.4,655.4 275.0,655.9 275.6,656.4 276.2,656.9 276.8,657.4 277.4,657.9 278.0,658.5 278.6,659.0 279.2,659.4 279.8,659.9 280.4,660.4 281.0,660.8 281.6,661.1 282.2,661.5 282.8,661.7 283.4,662.0 284.0,662.1 284.6,662.2 285.2,662.2 285.8,662.2 286.4,662.0 287.0,661.8 287.6,661.4 288.2,661.0 288.8,660.4 289.4,659.6 290.0,658.8 290.6,657.8 291.2,656.7 291.8,655.5 292.4,654.2 293.0,652.9 293.6,651.6 294.2,650.3 294.8,649.2 295.4,648.2 296.0,647.4 296.6,646.9 297.2,646.5 297.8,646.4 298.4,646.4 299.0,646.6 299.6,647.0 300.2,647.4 300.8,647.9 301.4,648.3 302.0,648.8 302.6,649.1 303.2,649.5 303.8,649.7 304.4,650.0 305.0,650.1 305.6,650.2 306.2,650.3 306.8,650.4 307.4,650.4 308.0,650.5 308.6,650.6 309.2,650.7 309.8,650.8 310.4,650.9 311.0,651.0 311.6,651.2 312.2,651.4" fill="none" stroke="#b090e0" stroke-width="0.65" stroke-dasharray="2,1.1"/><polyline points="253.4,650.2 254.0,650.6 254.6,651.0 255.2,651.5 255.8,652.0 256.4,652.5 257.0,653.1 257.6,653.7 258.2,654.3 258.8,655.0 259.4,655.6 260.0,656.3 260.6,657.0 261.2,657.7 261.8,658.4 262.4,659.0 263.0,659.7 263.6,660.3 264.2,660.9 264.8,661.5 265.4,662.0 266.0,662.5 266.6,663.0 267.2,663.4 267.8,663.8 268.4,664.1 269.0,664.4 269.6,664.6 270.2,664.8 270.8,664.9 271.4,665.0 272.0,664.9 272.6,664.9 273.2,664.7 273.8,664.5 274.4,664.3 275.0,664.0 275.6,663.6 276.2,663.2 276.8,662.7 277.4,662.2 278.0,661.6 278.6,661.0 279.2,660.3 279.8,659.6 280.4,658.9 281.0,658.1 281.6,657.2 282.2,656.4 282.8,655.5 283.4,654.6 284.0,653.6 284.6,652.6 285.2,651.6 285.8,650.6 286.4,649.5 287.0,648.4 287.6,647.2 288.2,646.0 288.8,644.8 289.4,643.5 290.0,642.1 290.6,640.7 291.2,639.2 291.8,637.8 292.4,636.4 293.0,635.0 293.6,633.8 294.2,632.7 294.8,631.9 295.4,631.4 296.0,631.2 296.6,631.4 297.2,631.9 297.8,632.7 298.4,633.9 299.0,635.3 299.6,636.9 300.2,638.7 300.8,640.5 301.4,642.4 302.0,644.2 302.6,646.0 303.2,647.8 303.8,649.4 304.4,650.9 305.0,652.4 305.6,653.7 306.2,655.0 306.8,656.2 307.4,657.3 308.0,658.3 308.6,659.2 309.2,660.1 309.8,660.9 310.4,661.6 311.0,662.3 311.6,662.8 312.2,663.3" fill="none" stroke="#5a9ae0" stroke-width="0.65" stroke-dasharray="2,1.1"/><polyline points="253.4,664.1 254.0,664.3 254.6,664.4 255.2,664.5 255.8,664.6 256.4,664.6 257.0,664.6 257.6,664.5 258.2,664.4 258.8,664.2 259.4,664.0 260.0,663.8 260.6,663.5 261.2,663.2 261.8,662.8 262.4,662.4 263.0,662.0 263.6,661.6 264.2,661.1 264.8,660.6 265.4,660.2 266.0,659.6 266.6,659.1 267.2,658.6 267.8,658.1 268.4,657.5 269.0,657.0 269.6,656.5 270.2,656.0 270.8,655.6 271.4,655.1 272.0,654.7 272.6,654.3 273.2,653.9 273.8,653.5 274.4,653.2 275.0,652.9 275.6,652.7 276.2,652.5 276.8,652.3 277.4,652.1 278.0,652.0 278.6,651.9 279.2,651.8 279.8,651.8 280.4,651.8 281.0,651.7 281.6,651.7 282.2,651.7 282.8,651.7 283.4,651.7 284.0,651.6 284.6,651.5 285.2,651.3 285.8,651.0 286.4,650.6 287.0,650.0 287.6,649.1 288.2,648.0 288.8,646.5 289.4,644.6 290.0,642.3 290.6,639.6 291.2,636.5 291.8,633.0 292.4,629.4 293.0,625.7 293.6,622.1 294.2,618.8 294.8,616.2 295.4,614.2 296.0,613.2 296.6,613.1 297.2,614.1 297.8,616.0 298.4,618.7 299.0,622.1 299.6,626.0 300.2,630.1 300.8,634.3 301.4,638.3 302.0,642.1 302.6,645.4 303.2,648.3 303.8,650.8 304.4,652.8 305.0,654.4 305.6,655.6 306.2,656.5 306.8,657.1 307.4,657.5 308.0,657.8 308.6,657.9 309.2,657.8 309.8,657.7 310.4,657.6 311.0,657.3 311.6,657.0 312.2,656.7" fill="none" stroke="#ff8a8a" stroke-width="0.65" stroke-dasharray="2,1.1"/><polyline points="253.4,665.7 254.0,665.5 254.6,665.3 255.2,665.1 255.8,664.8 256.4,664.4 257.0,663.9 257.6,663.5 258.2,662.9 258.8,662.4 259.4,661.8 260.0,661.1 260.6,660.4 261.2,659.7 261.8,659.0 262.4,658.3 263.0,657.5 263.6,656.8 264.2,656.0 264.8,655.3 265.4,654.6 266.0,653.9 266.6,653.2 267.2,652.5 267.8,651.9 268.4,651.3 269.0,650.8 269.6,650.3 270.2,649.8 270.8,649.4 271.4,649.1 272.0,648.8 272.6,648.6 273.2,648.4 273.8,648.3 274.4,648.2 275.0,648.2 275.6,648.3 276.2,648.4 276.8,648.5 277.4,648.8 278.0,649.0 278.6,649.3 279.2,649.6 279.8,649.9 280.4,650.3 281.0,650.6 281.6,651.0 282.2,651.3 282.8,651.6 283.4,651.8 284.0,652.0 284.6,652.1 285.2,652.1 285.8,651.8 286.4,651.4 287.0,650.6 287.6,649.5 288.2,648.0 288.8,645.9 289.4,643.2 290.0,639.9 290.6,636.0 291.2,631.4 291.8,626.4 292.4,621.1 293.0,615.6 293.6,610.3 294.2,605.4 294.8,601.3 295.4,598.2 296.0,596.3 296.6,595.9 297.2,596.8 297.8,599.0 298.4,602.5 299.0,606.8 299.6,611.9 300.2,617.3 300.8,622.7 301.4,628.0 302.0,632.8 302.6,637.1 303.2,640.9 303.8,643.9 304.4,646.4 305.0,648.3 305.6,649.7 306.2,650.7 306.8,651.3 307.4,651.7 308.0,651.8 308.6,651.8 309.2,651.7 309.8,651.5 310.4,651.2 311.0,650.9 311.6,650.6 312.2,650.3" fill="none" stroke="#48c8d0" stroke-width="0.65" stroke-dasharray="2,1.1"/><polyline points="253.4,661.9 254.0,662.5 254.6,663.1 255.2,663.7 255.8,664.2 256.4,664.7 257.0,665.1 257.6,665.5 258.2,665.8 258.8,666.1 259.4,666.4 260.0,666.5 260.6,666.6 261.2,666.7 261.8,666.7 262.4,666.6 263.0,666.5 263.6,666.3 264.2,666.1 264.8,665.8 265.4,665.4 266.0,665.0 266.6,664.6 267.2,664.1 267.8,663.6 268.4,663.0 269.0,662.4 269.6,661.7 270.2,661.1 270.8,660.4 271.4,659.7 272.0,659.0 272.6,658.3 273.2,657.6 273.8,656.9 274.4,656.2 275.0,655.5 275.6,654.8 276.2,654.1 276.8,653.4 277.4,652.8 278.0,652.2 278.6,651.6 279.2,651.0 279.8,650.4 280.4,649.8 281.0,649.3 281.6,648.8 282.2,648.2 282.8,647.7 283.4,647.1 284.0,646.5 284.6,645.8 285.2,645.0 285.8,644.0 286.4,642.9 287.0,641.5 287.6,639.7 288.2,637.4 288.8,634.7 289.4,631.3 290.0,627.3 290.6,622.6 291.2,617.3 291.8,611.5 292.4,605.4 293.0,599.3 293.6,593.4 294.2,588.1 294.8,583.8 295.4,580.7 296.0,579.2 296.6,579.3 297.2,581.1 297.8,584.5 298.4,589.3 299.0,595.2 299.6,602.0 300.2,609.2 300.8,616.5 301.4,623.5 302.0,630.1 302.6,636.1 303.2,641.4 303.8,646.0 304.4,649.7 305.0,652.9 305.6,655.3 306.2,657.3 306.8,658.8 307.4,660.0 308.0,660.8 308.6,661.4 309.2,661.8 309.8,662.1 310.4,662.1 311.0,662.1 311.6,661.9 312.2,661.7" fill="none" stroke="#e8a448" stroke-width="0.65" stroke-dasharray="2,1.1"/><polyline points="253.4,661.5 254.0,661.1 254.6,660.8 255.2,660.4 255.8,660.0 256.4,659.6 257.0,659.2 257.6,658.8 258.2,658.4 258.8,658.0 259.4,657.6 260.0,657.2 260.6,656.9 261.2,656.5 261.8,656.1 262.4,655.8 263.0,655.5 263.6,655.2 264.2,655.0 264.8,654.8 265.4,654.6 266.0,654.4 266.6,654.3 267.2,654.2 267.8,654.1 268.4,654.1 269.0,654.1 269.6,654.1 270.2,654.2 270.8,654.3 271.4,654.4 272.0,654.6 272.6,654.8 273.2,655.0 273.8,655.2 274.4,655.5 275.0,655.7 275.6,656.0 276.2,656.3 276.8,656.6 277.4,656.8 278.0,657.1 278.6,657.3 279.2,657.5 279.8,657.7 280.4,657.8 281.0,657.9 281.6,657.9 282.2,657.8 282.8,657.7 283.4,657.4 284.0,657.0 284.6,656.4 285.2,655.6 285.8,654.5 286.4,653.1 287.0,651.2 287.6,648.9 288.2,645.9 288.8,642.2 289.4,637.8 290.0,632.4 290.6,626.3 291.2,619.3 291.8,611.7 292.4,603.7 293.0,595.5 293.6,587.7 294.2,580.4 294.8,574.3 295.4,569.7 296.0,566.7 296.6,565.8 297.2,566.8 297.8,569.7 298.4,574.3 299.0,580.3 299.6,587.2 300.2,594.7 300.8,602.3 301.4,609.8 302.0,616.7 302.6,623.0 303.2,628.6 303.8,633.3 304.4,637.2 305.0,640.4 305.6,643.0 306.2,645.0 306.8,646.6 307.4,647.9 308.0,648.9 308.6,649.7 309.2,650.3 309.8,650.8 310.4,651.3 311.0,651.7 311.6,652.1 312.2,652.4" fill="none" stroke="#b8b040" stroke-width="0.65" stroke-dasharray="2,1.1"/></g><line x1="296.5" y1="562.2" x2="296.5" y2="677" stroke="#333" stroke-width="0.7" stroke-dasharray="1.6,1"/><path d="M261.6,558.7 V576.3 M259.6,558.7 H263.6 M259.6,576.3 H263.6" stroke="#444" stroke-width="0.9" fill="none"/><text x="265.1" y="570.4" font-size="8.3">0.02</text><text x="270.8" y="621.4" text-anchor="middle" font-size="7.2">30 min</text><line x1="270.2" y1="638.3" x2="270.2" y2="627.3" stroke="#000" stroke-width="1"/><path d="M267.9,628.3 L270.2,624.3 L272.5,628.3 Z" fill="#000"/><text x="270.8" y="645.3" text-anchor="middle" font-size="7.2">1 min</text><text x="262" y="695.9" text-anchor="middle" font-size="5.8">1660</text><line x1="262" y1="688.6" x2="262" y2="686.6" stroke="#333" stroke-width="0.7"/><text x="304.2" y="695.9" text-anchor="middle" font-size="5.8">1650</text><line x1="304.2" y1="688.6" x2="304.2" y2="686.6" stroke="#333" stroke-width="0.7"/><text x="283.0" y="702.6" text-anchor="middle" font-size="7.5">Wavenumber (cm<tspan font-size="5" dy="-2.4">-1</tspan><tspan dy="2.4">)</tspan></text><rect x="322.1" y="432.3" width="61.3" height="256.3" fill="#fff" stroke="#333" stroke-width="1.1"/><text x="352.8" y="447.6" text-anchor="middle" font-size="12.5">IM14</text><g clip-path="url(#cclip4)"><path d="M322.5,508.9L327.2,507.3M322.5,508.9L322.8,495.6M322.8,495.6L328.4,491.1M332.8,500.8L327.2,507.3M332.8,500.8L329.6,491.3M329.6,491.3L328.4,491.1M323.2,460.9L317.1,463.1M307.2,483.2L310.0,482.1M317.1,463.1L310.0,482.1M339.5,482.1L332.1,472.2M339.5,482.1L329.6,491.3M328.4,491.1L315.7,481.3M332.1,472.2L315.7,481.3M307.2,483.2L322.8,495.6M310.0,482.1L315.7,481.3M345.5,533.4L322.4,508.9M322.4,508.9L322.3,509.0M322.5,508.9L322.4,508.9M342.2,515.6L327.2,507.3M342.2,515.6L345.5,533.4M318.9,510.2L322.3,509.0M382.6,470.6L386.1,474.9M336.3,445.1L340.3,460.1M336.3,445.1L327.0,450.2M340.3,460.1L333.1,465.5M327.0,450.2L325.5,452.6M325.5,452.6L326.6,461.2M326.6,461.2L333.1,465.5M323.2,460.9L326.6,461.2M332.1,472.2L333.1,465.5M348.6,459.8L356.7,451.7M348.6,459.8L348.5,459.8M348.5,459.8L343.9,434.7M356.7,451.7L343.9,434.7M340.3,460.1L348.5,459.8M374.1,445.5L356.7,451.7M342.2,515.6L350.8,497.7M332.8,500.8L350.7,497.4M350.7,497.4L350.8,497.7M350.8,497.7L363.7,512.1M355.9,468.9L351.2,463.2M355.9,468.9L358.3,476.9M351.2,463.2L340.8,482.7M358.3,476.9L358.3,477.2M358.3,477.2L356.2,480.5M356.2,480.5L349.7,487.6M340.8,482.7L349.7,487.6M374.1,445.5L371.1,458.6M371.1,458.6L355.9,468.9M348.6,459.8L351.2,463.2M339.5,482.1L340.8,482.7M350.7,497.4L350.9,496.6M350.9,496.6L349.7,487.6M382.4,470.6L375.5,473.8M382.4,470.6L371.6,461.3M375.5,473.8L370.8,467.5M371.6,461.3L370.8,467.5M382.6,470.6L382.4,470.6M371.1,458.6L371.6,461.3M372.7,480.2L358.3,477.2M372.7,480.2L375.5,473.8M358.3,476.9L370.8,467.5M379.2,489.6L372.9,492.8M379.2,489.6L381.4,490.1M381.4,490.1L384.7,492.3M384.7,492.3L385.1,504.8M385.1,504.8L369.7,506.5M369.7,506.5L371.6,493.9M372.9,492.8L371.6,493.9M372.7,480.2L379.2,489.6M356.2,480.5L372.9,492.8M386.1,474.9L381.4,490.1M363.7,512.1L369.7,506.5M350.9,496.6L371.6,493.9" stroke="#ff5a5a" stroke-width="0.44" fill="none"/><path d="M378.3,514.1L357.0,517.2M378.3,514.1L382.8,510.4M382.8,510.4L384.8,504.3M357.0,517.2L355.2,511.1M355.2,511.1L329.6,515.7M326.2,533.4L329.6,515.7M301.6,501.9L317.7,520.6M326.2,533.4L317.7,520.6M301.6,467.0L323.5,487.1M301.6,467.0L315.4,465.8M315.4,465.8L332.7,473.2M332.7,473.2L334.7,476.1M334.7,476.1L323.5,487.1M373.1,460.7L368.8,471.7M373.1,460.7L382.4,461.5M382.4,461.5L382.4,461.6M382.4,461.6L375.9,478.7M368.8,471.7L373.1,478.4M375.9,478.7L373.1,478.4M356.1,452.1L356.8,464.3M356.1,452.1L373.1,460.7M356.8,464.3L368.8,471.7M354.1,447.7L356.1,452.1M406.0,482.8L382.4,461.6M352.1,476.2L356.8,464.3M352.1,476.2L369.0,480.5M369.0,480.5L373.1,478.4M352.7,448.3L327.4,447.7M352.7,448.3L341.5,458.3M341.5,458.3L325.0,454.4M327.4,447.7L325.0,454.4M354.1,447.7L352.7,448.3M345.7,482.2L335.5,476.8M345.7,482.2L352.1,476.2M332.7,473.2L341.5,458.3M334.7,476.1L335.5,476.8M315.4,465.8L325.0,454.4M381.6,501.3L372.7,497.5M381.6,501.3L385.7,483.4M372.7,497.5L379.8,482.1M385.7,483.4L379.8,482.1M406.0,482.8L385.7,483.4M384.8,504.3L381.6,501.3M357.3,501.5L372.7,497.5M357.3,501.5L369.0,480.5M375.9,478.7L379.8,482.1M301.6,501.9L311.8,500.9M317.7,520.6L326.8,509.4M311.8,500.9L326.8,509.4M329.6,515.7L327.4,509.6M326.8,509.4L327.4,509.6M335.5,476.8L329.7,492.0M323.5,487.1L321.5,494.1M321.5,494.1L329.7,492.0M311.8,500.9L316.6,498.2M321.5,494.1L320.0,495.7M316.6,498.2L320.0,495.7M332.8,498.5L332.5,502.0M332.8,498.5L335.0,495.4M335.0,495.4L348.1,491.2M333.3,505.6L332.5,502.0M333.3,505.6L354.9,509.1M348.1,491.2L355.9,502.4M355.9,502.4L354.9,509.1M316.6,498.2L332.5,502.0M320.0,495.7L332.8,498.5M329.7,492.0L335.0,495.4M345.7,482.2L348.1,491.2M327.4,509.6L333.3,505.6M355.2,511.1L354.9,509.1M357.3,501.5L355.9,502.4" stroke="#ffbf4a" stroke-width="0.44" fill="none"/><line x1="357.7" y1="476.0" x2="361.3" y2="477.9" stroke="#e00000" stroke-width="1.98"/><line x1="361.3" y1="477.9" x2="365.0" y2="479.8" stroke="#6a6a6a" stroke-width="1.98"/><line x1="365.0" y1="479.8" x2="368.6" y2="477.7" stroke="#6a6a6a" stroke-width="1.98"/><line x1="368.6" y1="477.7" x2="372.2" y2="475.5" stroke="#6a6a6a" stroke-width="1.98"/><line x1="365.0" y1="479.8" x2="365.9" y2="484.0" stroke="#6a6a6a" stroke-width="1.98"/><line x1="365.9" y1="484.0" x2="366.9" y2="488.1" stroke="#e00000" stroke-width="1.98"/><line x1="366.9" y1="488.1" x2="362.8" y2="491.0" stroke="#e00000" stroke-width="1.98"/><line x1="362.8" y1="491.0" x2="358.6" y2="493.9" stroke="#58d0d6" stroke-width="1.98"/><line x1="348.1" y1="487.1" x2="343.7" y2="491.0" stroke="#e00000" stroke-width="1.98"/><line x1="343.7" y1="491.0" x2="339.3" y2="494.8" stroke="#7474b4" stroke-width="1.98"/><line x1="348.1" y1="487.1" x2="353.3" y2="490.5" stroke="#e00000" stroke-width="1.98"/><line x1="353.3" y1="490.5" x2="358.6" y2="493.9" stroke="#58d0d6" stroke-width="1.98"/><line x1="339.3" y1="494.8" x2="334.8" y2="497.5" stroke="#7474b4" stroke-width="1.98"/><line x1="334.8" y1="497.5" x2="330.2" y2="500.1" stroke="#e00000" stroke-width="1.98"/><line x1="339.3" y1="494.8" x2="336.7" y2="500.1" stroke="#7474b4" stroke-width="1.98"/><line x1="336.7" y1="500.1" x2="334.0" y2="505.4" stroke="#e00000" stroke-width="1.98"/><line x1="358.6" y1="493.9" x2="362.0" y2="496.0" stroke="#58d0d6" stroke-width="1.98"/><line x1="362.0" y1="496.0" x2="365.4" y2="498.2" stroke="#e00000" stroke-width="1.98"/><line x1="358.6" y1="493.9" x2="359.6" y2="500.9" stroke="#58d0d6" stroke-width="1.98"/><line x1="359.6" y1="500.9" x2="360.6" y2="507.8" stroke="#e00000" stroke-width="1.98"/><line x1="330.2" y1="500.1" x2="329.0" y2="505.2" stroke="#e00000" stroke-width="1.98"/><line x1="329.0" y1="505.2" x2="327.8" y2="510.3" stroke="#d060d8" stroke-width="1.98"/><line x1="334.0" y1="505.4" x2="330.9" y2="507.8" stroke="#e00000" stroke-width="1.98"/><line x1="330.9" y1="507.8" x2="327.8" y2="510.3" stroke="#d060d8" stroke-width="1.98"/><line x1="365.4" y1="498.2" x2="366.1" y2="504.0" stroke="#e00000" stroke-width="1.98"/><line x1="366.1" y1="504.0" x2="366.9" y2="509.8" stroke="#d060d8" stroke-width="1.98"/><line x1="360.6" y1="507.8" x2="363.7" y2="508.8" stroke="#e00000" stroke-width="1.98"/><line x1="363.7" y1="508.8" x2="366.9" y2="509.8" stroke="#d060d8" stroke-width="1.98"/><line x1="352.8" y1="480.4" x2="355.3" y2="478.2" stroke="#dddddd" stroke-width="1.98"/><line x1="355.3" y1="478.2" x2="357.7" y2="476.0" stroke="#e00000" stroke-width="1.98"/><line x1="369.3" y1="471.7" x2="370.7" y2="473.6" stroke="#dddddd" stroke-width="1.98"/><line x1="370.7" y1="473.6" x2="372.2" y2="475.5" stroke="#6a6a6a" stroke-width="1.98"/><line x1="375.0" y1="470.7" x2="373.6" y2="473.1" stroke="#dddddd" stroke-width="1.98"/><line x1="373.6" y1="473.1" x2="372.2" y2="475.5" stroke="#6a6a6a" stroke-width="1.98"/><line x1="377.5" y1="479.8" x2="374.8" y2="477.7" stroke="#dddddd" stroke-width="1.98"/><line x1="374.8" y1="477.7" x2="372.2" y2="475.5" stroke="#6a6a6a" stroke-width="1.98"/><circle cx="352.8" cy="480.4" r="3.03" fill="url(#gH)"/><circle cx="369.3" cy="471.7" r="3.03" fill="url(#gH)"/><circle cx="375.0" cy="470.7" r="3.03" fill="url(#gH)"/><circle cx="377.5" cy="479.8" r="3.03" fill="url(#gH)"/><circle cx="357.7" cy="476.0" r="3.40" fill="url(#gO)"/><circle cx="365.0" cy="479.8" r="3.03" fill="url(#gC)"/><circle cx="372.2" cy="475.5" r="2.66" fill="url(#gC)"/><circle cx="366.9" cy="488.1" r="3.40" fill="url(#gO)"/><circle cx="348.1" cy="487.1" r="3.40" fill="url(#gO)"/><circle cx="339.3" cy="494.8" r="3.40" fill="url(#gFe)"/><circle cx="358.6" cy="493.9" r="3.58" fill="url(#gZn)"/><circle cx="330.2" cy="500.1" r="3.40" fill="url(#gO)"/><circle cx="334.0" cy="505.4" r="3.40" fill="url(#gO)"/><circle cx="327.8" cy="510.3" r="3.40" fill="url(#gAl)"/><circle cx="365.4" cy="498.2" r="3.40" fill="url(#gO)"/><circle cx="360.6" cy="507.8" r="3.40" fill="url(#gO)"/><circle cx="366.9" cy="509.8" r="3.03" fill="url(#gAl)"/></g><text x="352.8" y="527.9" text-anchor="middle" font-size="11.2">CH<tspan font-size="7.3" dy="2.4">3</tspan><tspan dy="-2.4">COOH*</tspan></text><text x="352.8" y="541.4" text-anchor="middle" font-size="11">1457 cm<tspan font-size="6.8" dy="-4">-1</tspan></text><g clip-path="url(#pclip4)"><polyline points="323.1,665.2 323.7,665.2 324.3,665.2 324.9,665.2 325.5,665.2 326.1,665.2 326.7,665.2 327.3,665.2 327.9,665.2 328.5,665.2 329.1,665.2 329.7,665.2 330.3,665.2 330.9,665.2 331.5,665.2 332.1,665.2 332.7,665.2 333.3,665.2 333.9,665.2 334.5,665.2 335.1,665.2 335.7,665.2 336.3,665.2 336.9,665.2 337.5,665.2 338.1,665.2 338.7,665.2 339.3,665.2 339.9,665.2 340.5,665.2 341.1,665.2 341.7,665.2 342.3,665.2 342.9,665.2 343.5,665.2 344.1,665.2 344.7,665.2 345.3,665.2 345.9,665.2 346.5,665.2 347.1,665.2 347.7,665.1 348.3,665.0 348.9,664.8 349.5,664.4 350.1,663.8 350.7,662.9 351.3,661.7 351.9,660.2 352.5,658.3 353.1,656.2 353.7,654.2 354.3,652.5 354.9,651.4 355.5,651.0 356.1,651.4 356.7,652.5 357.3,654.2 357.9,656.2 358.5,658.3 359.1,660.2 359.7,661.7 360.3,662.9 360.9,663.8 361.5,664.4 362.1,664.8 362.7,665.0 363.3,665.1 363.9,665.2 364.5,665.2 365.1,665.2 365.7,665.2 366.3,665.2 366.9,665.2 367.5,665.2 368.1,665.2 368.7,665.2 369.3,665.2 369.9,665.2 370.5,665.2 371.1,665.2 371.7,665.2 372.3,665.2 372.9,665.2 373.5,665.2 374.1,665.2 374.7,665.2 375.3,665.2 375.9,665.2 376.5,665.2 377.1,665.2 377.7,665.2 378.3,665.2 378.9,665.2 379.5,665.2 380.1,665.2 380.7,665.2 381.3,665.2 381.9,665.2" fill="none" stroke="#b090e0" stroke-width="0.65" stroke-dasharray="2,1.1"/><polyline points="323.1,665.2 323.7,665.2 324.3,665.2 324.9,665.2 325.5,665.2 326.1,665.2 326.7,665.2 327.3,665.2 327.9,665.2 328.5,665.2 329.1,665.2 329.7,665.2 330.3,665.2 330.9,665.2 331.5,665.2 332.1,665.2 332.7,665.2 333.3,665.2 333.9,665.2 334.5,665.2 335.1,665.2 335.7,665.2 336.3,665.2 336.9,665.2 337.5,665.2 338.1,665.2 338.7,665.2 339.3,665.2 339.9,665.2 340.5,665.2 341.1,665.2 341.7,665.2 342.3,665.2 342.9,665.2 343.5,665.2 344.1,665.2 344.7,665.2 345.3,665.2 345.9,665.2 346.5,665.2 347.1,665.1 347.7,665.0 348.3,664.7 348.9,664.3 349.5,663.5 350.1,662.3 350.7,660.4 351.3,657.8 351.9,654.4 352.5,650.4 353.1,646.0 353.7,641.7 354.3,638.0 354.9,635.5 355.5,634.7 356.1,635.5 356.7,638.0 357.3,641.7 357.9,646.0 358.5,650.4 359.1,654.4 359.7,657.8 360.3,660.4 360.9,662.3 361.5,663.5 362.1,664.3 362.7,664.7 363.3,665.0 363.9,665.1 364.5,665.2 365.1,665.2 365.7,665.2 366.3,665.2 366.9,665.2 367.5,665.2 368.1,665.2 368.7,665.2 369.3,665.2 369.9,665.2 370.5,665.2 371.1,665.2 371.7,665.2 372.3,665.2 372.9,665.2 373.5,665.2 374.1,665.2 374.7,665.2 375.3,665.2 375.9,665.2 376.5,665.2 377.1,665.2 377.7,665.2 378.3,665.2 378.9,665.2 379.5,665.2 380.1,665.2 380.7,665.2 381.3,665.2 381.9,665.2" fill="none" stroke="#5a9ae0" stroke-width="0.65" stroke-dasharray="2,1.1"/><polyline points="323.1,664.7 323.7,664.7 324.3,664.7 324.9,664.7 325.5,664.7 326.1,664.7 326.7,664.7 327.3,664.7 327.9,664.7 328.5,664.7 329.1,664.7 329.7,664.7 330.3,664.7 330.9,664.7 331.5,664.7 332.1,664.7 332.7,664.7 333.3,664.7 333.9,664.7 334.5,664.7 335.1,664.7 335.7,664.7 336.3,664.7 336.9,664.7 337.5,664.7 338.1,664.7 338.7,664.7 339.3,664.7 339.9,664.7 340.5,664.7 341.1,664.7 341.7,664.7 342.3,664.7 342.9,664.7 343.5,664.7 344.1,664.7 344.7,664.7 345.3,664.7 345.9,664.6 346.5,664.6 347.1,664.5 347.7,664.3 348.3,663.9 348.9,663.1 349.5,661.8 350.1,659.8 350.7,656.7 351.3,652.3 351.9,646.7 352.5,640.0 353.1,632.7 353.7,625.6 354.3,619.5 354.9,615.5 355.5,614.0 356.1,615.5 356.7,619.5 357.3,625.6 357.9,632.7 358.5,640.0 359.1,646.7 359.7,652.3 360.3,656.7 360.9,659.8 361.5,661.8 362.1,663.1 362.7,663.9 363.3,664.3 363.9,664.5 364.5,664.6 365.1,664.6 365.7,664.7 366.3,664.7 366.9,664.7 367.5,664.7 368.1,664.7 368.7,664.7 369.3,664.7 369.9,664.7 370.5,664.7 371.1,664.7 371.7,664.7 372.3,664.7 372.9,664.7 373.5,664.7 374.1,664.7 374.7,664.7 375.3,664.7 375.9,664.7 376.5,664.7 377.1,664.7 377.7,664.7 378.3,664.7 378.9,664.7 379.5,664.7 380.1,664.7 380.7,664.7 381.3,664.7 381.9,664.7" fill="none" stroke="#ff8a8a" stroke-width="0.65" stroke-dasharray="2,1.1"/><polyline points="323.1,665.9 323.7,665.9 324.3,665.9 324.9,665.9 325.5,665.9 326.1,665.9 326.7,665.9 327.3,665.9 327.9,665.9 328.5,665.9 329.1,665.9 329.7,665.9 330.3,665.9 330.9,665.9 331.5,665.9 332.1,665.9 332.7,665.9 333.3,665.9 333.9,665.9 334.5,665.9 335.1,665.9 335.7,665.9 336.3,665.9 336.9,665.9 337.5,665.9 338.1,665.9 338.7,665.9 339.3,665.9 339.9,665.9 340.5,665.9 341.1,665.9 341.7,665.9 342.3,665.9 342.9,665.9 343.5,665.9 344.1,665.9 344.7,665.9 345.3,665.9 345.9,665.8 346.5,665.8 347.1,665.6 347.7,665.3 348.3,664.8 348.9,663.7 349.5,662.0 350.1,659.1 350.7,654.9 351.3,648.9 351.9,641.2 352.5,632.0 353.1,621.9 353.7,612.1 354.3,603.8 354.9,598.2 355.5,596.2 356.1,598.2 356.7,603.8 357.3,612.1 357.9,621.9 358.5,632.0 359.1,641.2 359.7,648.9 360.3,654.9 360.9,659.1 361.5,662.0 362.1,663.7 362.7,664.8 363.3,665.3 363.9,665.6 364.5,665.8 365.1,665.8 365.7,665.9 366.3,665.9 366.9,665.9 367.5,665.9 368.1,665.9 368.7,665.9 369.3,665.9 369.9,665.9 370.5,665.9 371.1,665.9 371.7,665.9 372.3,665.9 372.9,665.9 373.5,665.9 374.1,665.9 374.7,665.9 375.3,665.9 375.9,665.9 376.5,665.9 377.1,665.9 377.7,665.9 378.3,665.9 378.9,665.9 379.5,665.9 380.1,665.9 380.7,665.9 381.3,665.9 381.9,665.9" fill="none" stroke="#48c8d0" stroke-width="0.65" stroke-dasharray="2,1.1"/><polyline points="323.1,664.5 323.7,664.5 324.3,664.5 324.9,664.5 325.5,664.5 326.1,664.5 326.7,664.5 327.3,664.5 327.9,664.5 328.5,664.5 329.1,664.5 329.7,664.5 330.3,664.5 330.9,664.5 331.5,664.5 332.1,664.5 332.7,664.5 333.3,664.5 333.9,664.5 334.5,664.5 335.1,664.5 335.7,664.5 336.3,664.5 336.9,664.5 337.5,664.5 338.1,664.5 338.7,664.5 339.3,664.5 339.9,664.5 340.5,664.5 341.1,664.5 341.7,664.5 342.3,664.5 342.9,664.5 343.5,664.5 344.1,664.5 344.7,664.5 345.3,664.5 345.9,664.4 346.5,664.3 347.1,664.2 347.7,663.8 348.3,663.1 348.9,661.8 349.5,659.6 350.1,656.0 350.7,650.7 351.3,643.3 351.9,633.7 352.5,622.2 353.1,609.6 353.7,597.4 354.3,587.0 354.9,580.0 355.5,577.6 356.1,580.0 356.7,587.0 357.3,597.4 357.9,609.6 358.5,622.2 359.1,633.7 359.7,643.3 360.3,650.7 360.9,656.0 361.5,659.6 362.1,661.8 362.7,663.1 363.3,663.8 363.9,664.2 364.5,664.3 365.1,664.4 365.7,664.5 366.3,664.5 366.9,664.5 367.5,664.5 368.1,664.5 368.7,664.5 369.3,664.5 369.9,664.5 370.5,664.5 371.1,664.5 371.7,664.5 372.3,664.5 372.9,664.5 373.5,664.5 374.1,664.5 374.7,664.5 375.3,664.5 375.9,664.5 376.5,664.5 377.1,664.5 377.7,664.5 378.3,664.5 378.9,664.5 379.5,664.5 380.1,664.5 380.7,664.5 381.3,664.5 381.9,664.5" fill="none" stroke="#e8a448" stroke-width="0.65" stroke-dasharray="2,1.1"/><polyline points="323.1,664.4 323.7,664.4 324.3,664.4 324.9,664.4 325.5,664.4 326.1,664.4 326.7,664.4 327.3,664.4 327.9,664.4 328.5,664.4 329.1,664.4 329.7,664.4 330.3,664.4 330.9,664.4 331.5,664.4 332.1,664.4 332.7,664.4 333.3,664.4 333.9,664.4 334.5,664.4 335.1,664.4 335.7,664.4 336.3,664.4 336.9,664.4 337.5,664.4 338.1,664.4 338.7,664.4 339.3,664.4 339.9,664.4 340.5,664.4 341.1,664.4 341.7,664.4 342.3,664.4 342.9,664.4 343.5,664.4 344.1,664.4 344.7,664.4 345.3,664.4 345.9,664.3 346.5,664.2 347.1,664.0 347.7,663.6 348.3,662.8 348.9,661.3 349.5,658.7 350.1,654.6 350.7,648.4 351.3,639.8 351.9,628.6 352.5,615.2 353.1,600.7 353.7,586.5 354.3,574.4 354.9,566.3 355.5,563.4 356.1,566.3 356.7,574.4 357.3,586.5 357.9,600.7 358.5,615.2 359.1,628.6 359.7,639.8 360.3,648.4 360.9,654.6 361.5,658.7 362.1,661.3 362.7,662.8 363.3,663.6 363.9,664.0 364.5,664.2 365.1,664.3 365.7,664.4 366.3,664.4 366.9,664.4 367.5,664.4 368.1,664.4 368.7,664.4 369.3,664.4 369.9,664.4 370.5,664.4 371.1,664.4 371.7,664.4 372.3,664.4 372.9,664.4 373.5,664.4 374.1,664.4 374.7,664.4 375.3,664.4 375.9,664.4 376.5,664.4 377.1,664.4 377.7,664.4 378.3,664.4 378.9,664.4 379.5,664.4 380.1,664.4 380.7,664.4 381.3,664.4 381.9,664.4" fill="none" stroke="#b8b040" stroke-width="0.65" stroke-dasharray="2,1.1"/></g><line x1="355.5" y1="556" x2="355.5" y2="677" stroke="#333" stroke-width="0.7" stroke-dasharray="1.6,1"/><path d="M332.5,558.7 V579.3 M330.5,558.7 H334.5 M330.5,579.3 H334.5" stroke="#444" stroke-width="0.9" fill="none"/><text x="336.0" y="571.9" font-size="8.3">0.01</text><text x="336.4" y="633.1" text-anchor="middle" font-size="7.2">30 min</text><line x1="334.9" y1="650" x2="334.9" y2="640.2" stroke="#000" stroke-width="1"/><path d="M332.59999999999997,641.2 L334.9,637.2 L337.2,641.2 Z" fill="#000"/><text x="336" y="657.7" text-anchor="middle" font-size="7.2">1 min</text><text x="342.6" y="695.9" text-anchor="middle" font-size="5.8">1460</text><line x1="342.6" y1="688.6" x2="342.6" y2="686.6" stroke="#333" stroke-width="0.7"/><text x="383.6" y="695.9" text-anchor="middle" font-size="5.8">1450</text><line x1="383.6" y1="688.6" x2="383.6" y2="686.6" stroke="#333" stroke-width="0.7"/><text x="352.8" y="702.6" text-anchor="middle" font-size="7.5">Wavenumber (cm<tspan font-size="5" dy="-2.4">-1</tspan><tspan dy="2.4">)</tspan></text><text x="383.7" y="440.6" font-size="13.5">(d)</text><rect x="402.6" y="432.6" width="281" height="257.2" fill="#fff" stroke="#333" stroke-width="1.3"/><rect x="490" y="534.7" width="100.2" height="60.2" fill="none" stroke="#4a7ad8" stroke-width="1.3" stroke-dasharray="3.5,2.4"/><text x="574.2" y="445.1" font-size="12.1" text-anchor="start">CH<tspan font-size="7" dy="2">3</tspan><tspan dy="-2">COOH pathway</tspan></text><text x="535.1" y="507" font-size="10" text-anchor="middle">1 (Fe=O)</text><text x="575.6" y="518.7" font-size="9.8" text-anchor="start">2 (CH<tspan font-size="7" dy="2">3</tspan><tspan dy="-2">O*)</tspan></text><text x="598.5" y="565.6" font-size="9.8" text-anchor="start">3 (HCHO*)</text><text x="595.5" y="598.9" font-size="9.8" text-anchor="start">4 (Fe=O)</text><text x="583.7" y="629.5" font-size="9.8" text-anchor="start">5 (OH*)</text><text x="513.7" y="632.5" font-size="9.8" text-anchor="start">6 (CH<tspan font-size="7" dy="2">3</tspan><tspan dy="-2">CH</tspan><tspan font-size="7" dy="2">2</tspan><tspan dy="-2">O*)</tspan></text><text x="463.9" y="622.1" font-size="9.8" text-anchor="start">7 (CH<tspan font-size="7" dy="2">3</tspan><tspan dy="-2">CO*)</tspan></text><text x="462" y="571.9" font-size="9" text-anchor="middle">8</text><text x="463.1" y="587.8" font-size="8.6" text-anchor="middle">(CH<tspan font-size="7" dy="2">3</tspan><tspan dy="-2">COOH*)</tspan></text><text x="472.4" y="521.5" font-size="8.6" text-anchor="middle">9</text><text x="477.5" y="529.9" font-size="8.9" text-anchor="middle">(CH<tspan font-size="7" dy="2">3</tspan><tspan dy="-2">COOH)</tspan></text><text x="465.7" y="450.2" font-size="10" font-style="italic" fill="#3a5fcd">hv</text><polygon points="497,443.6 487.2,443.8 479.8,451.3 484.6,451.3 470.8,460.6 489.6,451 484.8,451 " fill="#2f5fc0"/><g stroke="#3a6bd0" stroke-width="0.7" fill="none"><circle cx="462.8" cy="460.7" r="1.3"/><circle cx="468.6" cy="464.7" r="1.3"/><path d="M462.9,462 L462,470 M467.3,465 L457,468"/></g><polygon points="471.5,497.8 483.0,489.7 484.6,492.1 487.6,483.3 478.3,483.1 480.0,485.5 468.5,493.6" fill="#3e6cc0"/><polygon points="556.9,479.8 569.2,482.1 568.7,484.9 577.1,480.9 570.7,474.1 570.2,477.0 557.9,474.6" fill="#3e6cc0"/><polygon points="627.3,516.7 633.4,525.2 631.0,526.9 639.9,529.7 640.0,520.4 637.6,522.1 631.5,513.7" fill="#3e6cc0"/><polygon points="648.7,563.2 650.1,573.4 647.2,573.8 653.6,580.5 658.1,572.4 655.2,572.7 653.9,562.6" fill="#3e6cc0"/><polygon points="632.9,636.0 626.2,643.3 624.0,641.4 623.0,650.6 632.1,648.8 630.0,646.8 636.7,639.6" fill="#3e6cc0"/><polygon points="564.2,673.8 553.3,675.9 552.8,673.0 546.4,679.8 554.8,683.8 554.2,681.0 565.2,679.0" fill="#3e6cc0"/><polygon points="479.1,655.0 470.2,648.3 471.9,646.0 462.6,645.9 465.3,654.8 467.0,652.5 475.9,659.2" fill="#3e6cc0"/><polygon points="437.6,604.1 436.5,593.8 439.4,593.5 433.2,586.6 428.5,594.6 431.4,594.3 432.4,604.7" fill="#3e6cc0"/><polygon points="441.7,535.3 446.4,525.9 449.0,527.2 447.4,518.0 439.1,522.3 441.7,523.6 437.1,532.9" fill="#3e6cc0"/><path d="M454,501.5 C453,490 442,483 433,479.5" stroke="#111" stroke-width="0.9" fill="none"/><path d="M436.1,478.3 L432.1,478.9 L434.7,481.9" stroke="#111" stroke-width="0.9" fill="none"/><path d="M464.2,481.1 C467,483 469,487 468.6,491.3" stroke="#111" stroke-width="0.9" fill="none"/><path d="M467.0,487.6 L468.6,491.3 L470.8,488.0" stroke="#111" stroke-width="0.9" fill="none"/><path d="M569.8,454.6 C569,462 561,462 561,471.4" stroke="#111" stroke-width="0.9" fill="none"/><path d="M559.1,467.9 L561,471.4 L562.9,467.9" stroke="#111" stroke-width="0.9" fill="none"/><path d="M610.7,546 C609,556 598,552 596.5,560 L594.6,563 L592.6,558" stroke="#111" stroke-width="0.9" fill="none"/><path d="M675,568.2 C669,568 665,575 658.2,574.4" stroke="#111" stroke-width="0.9" fill="none"/><path d="M661.7,572.5 L658.2,574.4 L661.7,576.3" stroke="#111" stroke-width="0.9" fill="none"/><path d="M658.5,658.8 C648,660 638,653 627.5,653.3" stroke="#111" stroke-width="0.9" fill="none"/><path d="M631.0,651.4 L627.5,653.3 L631.0,655.2" stroke="#111" stroke-width="0.9" fill="none"/><path d="M509.8,565.5 C511,580 530,582.2 540,581.8 C552,581.4 562,576.5 566.5,570.8 L569.6,573.6 L572.6,563.8 L562.4,565.8 L564.6,568.2 C559,573.5 550,576.8 540,577 C528,577.2 517.2,574 515.9,565.5 Z" fill="#2f5aa8"/><g stroke="#333" stroke-width="1.6"><line x1="412.4" y1="468.2" x2="418.2" y2="472.3"/><line x1="418.2" y1="472.3" x2="425.5" y2="467.2"/><line x1="418.2" y1="472.3" x2="419" y2="480.4"/><line x1="419" y1="480.4" x2="413.1" y2="482.6"/><line x1="425.5" y1="467.2" x2="429.2" y2="462.1"/></g><circle cx="423.4" cy="464.3" r="2.6" fill="url(#gH)"/><circle cx="429.2" cy="462.1" r="2.6" fill="url(#gH)"/><circle cx="430.7" cy="471.6" r="2.6" fill="url(#gH)"/><circle cx="425.5" cy="467.2" r="2.8" fill="url(#gC)"/><circle cx="418.2" cy="472.3" r="2.8" fill="url(#gC)"/><circle cx="412.4" cy="468.2" r="3.0" fill="url(#gO)"/><circle cx="419" cy="480.4" r="3.0" fill="url(#gO)"/><circle cx="413.1" cy="482.6" r="2.6" fill="url(#gH)"/><line x1="452.6" y1="468.7" x2="462" y2="475.3" stroke="#d00" stroke-width="2"/><circle cx="452.6" cy="468.7" r="3.3" fill="url(#gO)"/><circle cx="462" cy="475.3" r="3.3" fill="url(#gO)"/><g stroke="#9a9a9a" stroke-width="2.2"><line x1="549.6" y1="446.3" x2="569.0" y2="446.3"/><line x1="559.3" y1="437.8" x2="559.3" y2="455.9"/></g><ellipse cx="559.3" cy="446.3" rx="4.6" ry="3.2" fill="url(#gC)"/><circle cx="559.3" cy="437.8" r="4.0" fill="url(#gH)"/><circle cx="549.6" cy="446.3" r="4.0" fill="url(#gH)"/><circle cx="569.0" cy="446.3" r="4.0" fill="url(#gH)"/><circle cx="559.3" cy="455.9" r="4.0" fill="url(#gH)"/><line x1="670.4" y1="561.3" x2="678.1" y2="569.8" stroke="#d00" stroke-width="2"/><circle cx="670.4" cy="561.3" r="3.5" fill="url(#gO)"/><circle cx="678.1" cy="569.8" r="3.5" fill="url(#gO)"/><g stroke="#9a9a9a" stroke-width="2.2"><line x1="658.9" y1="654.2" x2="678.3" y2="654.2"/><line x1="668.6" y1="645.7" x2="668.6" y2="663.8"/></g><ellipse cx="668.6" cy="654.2" rx="4.6" ry="3.2" fill="url(#gC)"/><circle cx="668.6" cy="645.7" r="4.0" fill="url(#gH)"/><circle cx="658.9" cy="654.2" r="4.0" fill="url(#gH)"/><circle cx="678.3" cy="654.2" r="4.0" fill="url(#gH)"/><circle cx="668.6" cy="663.8" r="4.0" fill="url(#gH)"/><line x1="496.6" y1="552.4" x2="502.8" y2="561.2" stroke="#d00" stroke-width="2"/><circle cx="496.6" cy="552.4" r="3.6" fill="url(#gO)"/><circle cx="502.8" cy="561.2" r="3.6" fill="url(#gO)"/><g stroke="#9a9a9a" stroke-width="1.9"><line x1="511.4" y1="549.8" x2="527.8" y2="549.8"/><line x1="519.6" y1="542.6" x2="519.6" y2="558.0"/></g><ellipse cx="519.6" cy="549.8" rx="3.9" ry="2.7" fill="url(#gC)"/><circle cx="519.6" cy="542.6" r="3.4" fill="url(#gH)"/><circle cx="511.4" cy="549.8" r="3.4" fill="url(#gH)"/><circle cx="527.8" cy="549.8" r="3.4" fill="url(#gH)"/><circle cx="519.6" cy="558.0" r="3.4" fill="url(#gH)"/><g stroke="#333" stroke-width="1.4"><line x1="565.8" y1="554.2" x2="575.5" y2="551.5"/><line x1="575.5" y1="551.5" x2="575.5" y2="545.4"/><line x1="575.5" y1="551.5" x2="579.9" y2="557.7"/><line x1="579.9" y1="557.7" x2="585.1" y2="556.8"/></g><circle cx="560.6" cy="552.4" r="2.6" fill="url(#gH)"/><circle cx="565.3" cy="560.3" r="2.6" fill="url(#gH)"/><circle cx="565.8" cy="554.2" r="2.9" fill="url(#gC)"/><circle cx="575.5" cy="551.5" r="2.8" fill="url(#gC)"/><circle cx="575.8" cy="545.4" r="3.0" fill="url(#gO)"/><circle cx="580.2" cy="558.2" r="3.0" fill="url(#gO)"/><circle cx="585.3" cy="556.6" r="2.5" fill="url(#gH)"/><line x1="522" y1="587.1" x2="540.4" y2="587.1" stroke="#4a7ad0" stroke-width="1"/><line x1="540.4" y1="587.1" x2="557.1" y2="587.4" stroke="#4a7ad0" stroke-width="1"/><circle cx="522" cy="587.1" r="5.6" fill="#8c88c8" stroke="#4f5aa8" stroke-width="0.9"/><text x="522" y="589.2" text-anchor="middle" font-size="5.9" font-weight="normal" fill="#ffffff">Fe</text><circle cx="540.4" cy="587.1" r="5.2" fill="#3d6cc4" stroke="#264c9c" stroke-width="0.9"/><text x="540.4" y="589.1" text-anchor="middle" font-size="5.5" font-weight="normal" fill="#ffffff">O</text><circle cx="557.1" cy="587.4" r="5.6" fill="#7ad8e2" stroke="#3a74c4" stroke-width="0.9"/><text x="557.1" y="589.5" text-anchor="middle" font-size="5.9" font-weight="normal" fill="#ffffff">Zn</text><line x1="444.5" y1="508.8" x2="462.8" y2="508.8" stroke="#4a7ad0" stroke-width="1"/><line x1="462.8" y1="508.8" x2="480.3" y2="508.8" stroke="#4a7ad0" stroke-width="1"/><circle cx="444.5" cy="508.8" r="6.1" fill="#8c88c8" stroke="#4f5aa8" stroke-width="0.9"/><text x="444.5" y="511.1" text-anchor="middle" font-size="6.4" font-weight="normal" fill="#ffffff">Fe</text><circle cx="462.8" cy="508.8" r="5.1" fill="#3d6cc4" stroke="#264c9c" stroke-width="0.9"/><text x="462.8" y="510.7" text-anchor="middle" font-size="5.4" font-weight="normal" fill="#ffffff">O</text><circle cx="480.3" cy="508.8" r="5.8" fill="#7ad8e2" stroke="#3a74c4" stroke-width="0.9"/><text x="480.3" y="511.0" text-anchor="middle" font-size="6.1" font-weight="normal" fill="#ffffff">Zn</text><line x1="497.3" y1="472.4" x2="511.9" y2="480.1" stroke="#4a7ad0" stroke-width="0.9"/><line x1="498.3" y1="470.4" x2="512.9" y2="478.1" stroke="#4a7ad0" stroke-width="0.9"/><line x1="512.4" y1="479.1" x2="527.4" y2="468.5" stroke="#4a7ad0" stroke-width="1"/><line x1="512.4" y1="479.1" x2="527.4" y2="488.9" stroke="#4a7ad0" stroke-width="1"/><line x1="527.4" y1="468.5" x2="542" y2="479.1" stroke="#4a7ad0" stroke-width="1"/><line x1="527.4" y1="488.9" x2="542" y2="479.1" stroke="#4a7ad0" stroke-width="1"/><circle cx="497.8" cy="471.4" r="4.8" fill="#3d6cc4" stroke="#264c9c" stroke-width="0.9"/><text x="497.8" y="473.2" text-anchor="middle" font-size="5.0" font-weight="normal" fill="#ffffff">O</text><circle cx="512.4" cy="479.1" r="6.1" fill="#8c88c8" stroke="#4f5aa8" stroke-width="0.9"/><text x="512.4" y="481.4" text-anchor="middle" font-size="6.4" font-weight="normal" fill="#ffffff">Fe</text><circle cx="527.4" cy="468.5" r="5.1" fill="#3d6cc4" stroke="#264c9c" stroke-width="0.9"/><text x="527.4" y="470.4" text-anchor="middle" font-size="5.4" font-weight="normal" fill="#ffffff">O</text><circle cx="527.4" cy="488.9" r="5.1" fill="#3d6cc4" stroke="#264c9c" stroke-width="0.9"/><text x="527.4" y="490.8" text-anchor="middle" font-size="5.4" font-weight="normal" fill="#ffffff">O</text><circle cx="542" cy="479.1" r="5.8" fill="#7ad8e2" stroke="#3a74c4" stroke-width="0.9"/><text x="542" y="481.3" text-anchor="middle" font-size="6.1" font-weight="normal" fill="#ffffff">Zn</text><line x1="580.9" y1="484.4" x2="586.9" y2="496" stroke="#4a7ad0" stroke-width="1"/><line x1="586.9" y1="496" x2="604.5" y2="497.6" stroke="#4a7ad0" stroke-width="1"/><line x1="604.5" y1="497.6" x2="623" y2="499.2" stroke="#4a7ad0" stroke-width="1"/><line x1="623" y1="499.2" x2="640.7" y2="499.2" stroke="#4a7ad0" stroke-width="1"/><line x1="604.5" y1="497.6" x2="601.8" y2="482.3" stroke="#4a7ad0" stroke-width="1"/><line x1="601.8" y1="482.3" x2="611.8" y2="475.9" stroke="#4a7ad0" stroke-width="1"/><line x1="611.8" y1="475.9" x2="611" y2="466.2" stroke="#4a7ad0" stroke-width="1"/><line x1="611.8" y1="475.9" x2="620.6" y2="470.3" stroke="#4a7ad0" stroke-width="1"/><line x1="611.8" y1="475.9" x2="621.1" y2="479.4" stroke="#4a7ad0" stroke-width="1"/><circle cx="580.9" cy="484.4" r="2.8" fill="#f7c22a" stroke="#e6a812" stroke-width="0.9"/><text x="580.9" y="485.6" text-anchor="middle" font-size="3.2" font-weight="normal" fill="#d07a00">H</text><circle cx="586.9" cy="496" r="5.1" fill="#3d6cc4" stroke="#264c9c" stroke-width="0.9"/><text x="586.9" y="497.9" text-anchor="middle" font-size="5.4" font-weight="normal" fill="#ffffff">O</text><circle cx="604.5" cy="497.6" r="6.1" fill="#8c88c8" stroke="#4f5aa8" stroke-width="0.9"/><text x="604.5" y="499.9" text-anchor="middle" font-size="6.4" font-weight="normal" fill="#ffffff">Fe</text><circle cx="623" cy="499.2" r="5.1" fill="#3d6cc4" stroke="#264c9c" stroke-width="0.9"/><text x="623" y="501.1" text-anchor="middle" font-size="5.4" font-weight="normal" fill="#ffffff">O</text><circle cx="640.7" cy="499.2" r="5.6" fill="#7ad8e2" stroke="#3a74c4" stroke-width="0.9"/><text x="640.7" y="501.3" text-anchor="middle" font-size="5.9" font-weight="normal" fill="#ffffff">Zn</text><circle cx="601.8" cy="482.3" r="5.1" fill="#3d6cc4" stroke="#264c9c" stroke-width="0.9"/><text x="601.8" y="484.2" text-anchor="middle" font-size="5.4" font-weight="normal" fill="#ffffff">O</text><circle cx="611.8" cy="475.9" r="5.0" fill="#14a84c" stroke="#0d8a3a" stroke-width="0.9"/><text x="611.8" y="477.8" text-anchor="middle" font-size="5.2" font-weight="normal" fill="#ffffff">C</text><circle cx="611" cy="466.2" r="2.8" fill="#f7c22a" stroke="#e6a812" stroke-width="0.9"/><text x="611" y="467.4" text-anchor="middle" font-size="3.2" font-weight="normal" fill="#d07a00">H</text><circle cx="620.6" cy="470.3" r="2.8" fill="#f7c22a" stroke="#e6a812" stroke-width="0.9"/><text x="620.6" y="471.5" text-anchor="middle" font-size="3.2" font-weight="normal" fill="#d07a00">H</text><circle cx="621.1" cy="479.4" r="2.8" fill="#f7c22a" stroke="#e6a812" stroke-width="0.9"/><text x="621.1" y="480.6" text-anchor="middle" font-size="3.2" font-weight="normal" fill="#d07a00">H</text><line x1="599.9" y1="536.1" x2="613" y2="537.3" stroke="#4a7ad0" stroke-width="1"/><line x1="619.5" y1="526.9" x2="613" y2="537.3" stroke="#4a7ad0" stroke-width="1"/><line x1="613" y1="537.3" x2="626.8" y2="549.1" stroke="#4a7ad0" stroke-width="1"/><line x1="626.8" y1="549.1" x2="646.2" y2="550.2" stroke="#4a7ad0" stroke-width="1"/><line x1="646.2" y1="550.2" x2="664" y2="550.2" stroke="#4a7ad0" stroke-width="1"/><line x1="664" y1="550.2" x2="666.1" y2="533.3" stroke="#4a7ad0" stroke-width="1"/><line x1="666.1" y1="533.3" x2="657" y2="522" stroke="#4a7ad0" stroke-width="1"/><line x1="657" y1="522" x2="646.2" y2="518" stroke="#4a7ad0" stroke-width="1"/><line x1="657" y1="522" x2="667.4" y2="516.1" stroke="#4a7ad0" stroke-width="1"/><circle cx="599.9" cy="536.1" r="2.8" fill="#f7c22a" stroke="#e6a812" stroke-width="0.9"/><text x="599.9" y="537.3" text-anchor="middle" font-size="3.2" font-weight="normal" fill="#d07a00">H</text><circle cx="619.5" cy="526.9" r="2.8" fill="#f7c22a" stroke="#e6a812" stroke-width="0.9"/><text x="619.5" y="528.1" text-anchor="middle" font-size="3.2" font-weight="normal" fill="#d07a00">H</text><circle cx="613" cy="537.3" r="4.9" fill="#3d6cc4" stroke="#264c9c" stroke-width="0.9"/><text x="613" y="539.2" text-anchor="middle" font-size="5.1" font-weight="normal" fill="#ffffff">O</text><circle cx="626.8" cy="549.1" r="6.1" fill="#8c88c8" stroke="#4f5aa8" stroke-width="0.9"/><text x="626.8" y="551.4" text-anchor="middle" font-size="6.4" font-weight="normal" fill="#ffffff">Fe</text><circle cx="646.2" cy="550.2" r="5.1" fill="#3d6cc4" stroke="#264c9c" stroke-width="0.9"/><text x="646.2" y="552.1" text-anchor="middle" font-size="5.4" font-weight="normal" fill="#ffffff">O</text><circle cx="664" cy="550.2" r="5.7" fill="#7ad8e2" stroke="#3a74c4" stroke-width="0.9"/><text x="664" y="552.4" text-anchor="middle" font-size="6.0" font-weight="normal" fill="#ffffff">Zn</text><circle cx="666.1" cy="533.3" r="5.1" fill="#3d6cc4" stroke="#264c9c" stroke-width="0.9"/><text x="666.1" y="535.2" text-anchor="middle" font-size="5.4" font-weight="normal" fill="#ffffff">O</text><circle cx="657" cy="522" r="5.0" fill="#14a84c" stroke="#0d8a3a" stroke-width="0.9"/><text x="657" y="523.9" text-anchor="middle" font-size="5.2" font-weight="normal" fill="#ffffff">C</text><circle cx="646.2" cy="518" r="2.8" fill="#f7c22a" stroke="#e6a812" stroke-width="0.9"/><text x="646.2" y="519.2" text-anchor="middle" font-size="3.2" font-weight="normal" fill="#d07a00">H</text><circle cx="667.4" cy="516.1" r="2.8" fill="#f7c22a" stroke="#e6a812" stroke-width="0.9"/><text x="667.4" y="517.3" text-anchor="middle" font-size="3.2" font-weight="normal" fill="#d07a00">H</text><line x1="643.4" y1="584.3" x2="653.1" y2="589.8" stroke="#4a7ad0" stroke-width="1"/><line x1="653.1" y1="589.8" x2="663.5" y2="583.9" stroke="#4a7ad0" stroke-width="1"/><line x1="653.1" y1="589.8" x2="662.4" y2="601.2" stroke="#4a7ad0" stroke-width="1"/><line x1="662.4" y1="601.2" x2="658.6" y2="616.5" stroke="#4a7ad0" stroke-width="1"/><line x1="615.6" y1="609.8" x2="631.1" y2="617.5" stroke="#4a7ad0" stroke-width="0.9"/><line x1="616.6" y1="607.8" x2="632.1" y2="615.5" stroke="#4a7ad0" stroke-width="0.9"/><line x1="631.6" y1="616.5" x2="644.8" y2="608.1" stroke="#4a7ad0" stroke-width="1"/><line x1="644.8" y1="608.1" x2="658.6" y2="616.5" stroke="#4a7ad0" stroke-width="1"/><line x1="631.6" y1="616.5" x2="644.8" y2="625.5" stroke="#4a7ad0" stroke-width="1"/><line x1="644.8" y1="625.5" x2="658.6" y2="616.5" stroke="#4a7ad0" stroke-width="1"/><circle cx="643.4" cy="584.3" r="2.8" fill="#f7c22a" stroke="#e6a812" stroke-width="0.9"/><text x="643.4" y="585.5" text-anchor="middle" font-size="3.2" font-weight="normal" fill="#d07a00">H</text><circle cx="653.1" cy="589.8" r="4.9" fill="#14a84c" stroke="#0d8a3a" stroke-width="0.9"/><text x="653.1" y="591.7" text-anchor="middle" font-size="5.1" font-weight="normal" fill="#ffffff">C</text><circle cx="663.5" cy="583.9" r="2.8" fill="#f7c22a" stroke="#e6a812" stroke-width="0.9"/><text x="663.5" y="585.1" text-anchor="middle" font-size="3.2" font-weight="normal" fill="#d07a00">H</text><circle cx="662.4" cy="601.2" r="5.1" fill="#3d6cc4" stroke="#264c9c" stroke-width="0.9"/><text x="662.4" y="603.1" text-anchor="middle" font-size="5.4" font-weight="normal" fill="#ffffff">O</text><circle cx="616.1" cy="608.8" r="5.1" fill="#3d6cc4" stroke="#264c9c" stroke-width="0.9"/><text x="616.1" y="610.7" text-anchor="middle" font-size="5.4" font-weight="normal" fill="#ffffff">O</text><circle cx="631.6" cy="616.5" r="5.8" fill="#8c88c8" stroke="#4f5aa8" stroke-width="0.9"/><text x="631.6" y="618.7" text-anchor="middle" font-size="6.1" font-weight="normal" fill="#ffffff">Fe</text><circle cx="644.8" cy="608.1" r="5.1" fill="#3d6cc4" stroke="#264c9c" stroke-width="0.9"/><text x="644.8" y="610.0" text-anchor="middle" font-size="5.4" font-weight="normal" fill="#ffffff">O</text><circle cx="658.6" cy="616.5" r="5.5" fill="#7ad8e2" stroke="#3a74c4" stroke-width="0.9"/><text x="658.6" y="618.6" text-anchor="middle" font-size="5.8" font-weight="normal" fill="#ffffff">Zn</text><circle cx="644.8" cy="625.5" r="5.1" fill="#3d6cc4" stroke="#264c9c" stroke-width="0.9"/><text x="644.8" y="627.4" text-anchor="middle" font-size="5.4" font-weight="normal" fill="#ffffff">O</text><line x1="568.2" y1="635.1" x2="578.2" y2="643.3" stroke="#4a7ad0" stroke-width="1"/><line x1="582.8" y1="632.3" x2="578.2" y2="643.3" stroke="#4a7ad0" stroke-width="1"/><line x1="566.9" y1="647.5" x2="578.2" y2="643.3" stroke="#4a7ad0" stroke-width="1"/><line x1="571.3" y1="654.2" x2="567.3" y2="663.4" stroke="#4a7ad0" stroke-width="1"/><line x1="567.3" y1="663.4" x2="581" y2="673.4" stroke="#4a7ad0" stroke-width="1"/><line x1="581" y1="673.4" x2="594.7" y2="666.1" stroke="#4a7ad0" stroke-width="1"/><line x1="594.7" y1="666.1" x2="608.4" y2="674.3" stroke="#4a7ad0" stroke-width="1"/><line x1="581" y1="673.4" x2="594.7" y2="682.5" stroke="#4a7ad0" stroke-width="1"/><line x1="594.7" y1="682.5" x2="608.4" y2="674.3" stroke="#4a7ad0" stroke-width="1"/><line x1="608.4" y1="674.3" x2="612.9" y2="657.9" stroke="#4a7ad0" stroke-width="1"/><line x1="612.9" y1="657.9" x2="603.8" y2="644.6" stroke="#4a7ad0" stroke-width="1"/><line x1="603.8" y1="644.6" x2="599.2" y2="636" stroke="#4a7ad0" stroke-width="1"/><line x1="603.8" y1="644.6" x2="613.8" y2="640.2" stroke="#4a7ad0" stroke-width="1"/><circle cx="568.2" cy="635.1" r="2.8" fill="#f7c22a" stroke="#e6a812" stroke-width="0.9"/><text x="568.2" y="636.3" text-anchor="middle" font-size="3.2" font-weight="normal" fill="#d07a00">H</text><circle cx="582.8" cy="632.3" r="2.8" fill="#f7c22a" stroke="#e6a812" stroke-width="0.9"/><text x="582.8" y="633.5" text-anchor="middle" font-size="3.2" font-weight="normal" fill="#d07a00">H</text><circle cx="578.2" cy="643.3" r="5.3" fill="#14a84c" stroke="#0d8a3a" stroke-width="0.9"/><text x="578.2" y="645.3" text-anchor="middle" font-size="5.6" font-weight="normal" fill="#ffffff">C</text><circle cx="566.9" cy="647.5" r="2.8" fill="#f7c22a" stroke="#e6a812" stroke-width="0.9"/><text x="566.9" y="648.7" text-anchor="middle" font-size="3.2" font-weight="normal" fill="#d07a00">H</text><circle cx="571.3" cy="654.2" r="2.8" fill="#f7c22a" stroke="#e6a812" stroke-width="0.9"/><text x="571.3" y="655.4" text-anchor="middle" font-size="3.2" font-weight="normal" fill="#d07a00">H</text><circle cx="567.3" cy="663.4" r="5.3" fill="#3d6cc4" stroke="#264c9c" stroke-width="0.9"/><text x="567.3" y="665.4" text-anchor="middle" font-size="5.6" font-weight="normal" fill="#ffffff">O</text><circle cx="581" cy="673.4" r="6.3" fill="#8c88c8" stroke="#4f5aa8" stroke-width="0.9"/><text x="581" y="675.8" text-anchor="middle" font-size="6.6" font-weight="normal" fill="#ffffff">Fe</text><circle cx="594.7" cy="666.1" r="5.1" fill="#3d6cc4" stroke="#264c9c" stroke-width="0.9"/><text x="594.7" y="668.0" text-anchor="middle" font-size="5.4" font-weight="normal" fill="#ffffff">O</text><circle cx="608.4" cy="674.3" r="6" fill="#7ad8e2" stroke="#3a74c4" stroke-width="0.9"/><text x="608.4" y="676.6" text-anchor="middle" font-size="6.3" font-weight="normal" fill="#ffffff">Zn</text><circle cx="594.7" cy="682.5" r="5.1" fill="#3d6cc4" stroke="#264c9c" stroke-width="0.9"/><text x="594.7" y="684.4" text-anchor="middle" font-size="5.4" font-weight="normal" fill="#ffffff">O</text><circle cx="612.9" cy="657.9" r="5.1" fill="#3d6cc4" stroke="#264c9c" stroke-width="0.9"/><text x="612.9" y="659.8" text-anchor="middle" font-size="5.4" font-weight="normal" fill="#ffffff">O</text><circle cx="603.8" cy="644.6" r="5.3" fill="#14a84c" stroke="#0d8a3a" stroke-width="0.9"/><text x="603.8" y="646.6" text-anchor="middle" font-size="5.6" font-weight="normal" fill="#ffffff">C</text><circle cx="599.2" cy="636" r="2.8" fill="#f7c22a" stroke="#e6a812" stroke-width="0.9"/><text x="599.2" y="637.2" text-anchor="middle" font-size="3.2" font-weight="normal" fill="#d07a00">H</text><circle cx="613.8" cy="640.2" r="2.8" fill="#f7c22a" stroke="#e6a812" stroke-width="0.9"/><text x="613.8" y="641.4" text-anchor="middle" font-size="3.2" font-weight="normal" fill="#d07a00">H</text><line x1="493.1" y1="634.8" x2="503.1" y2="642.4" stroke="#4a7ad0" stroke-width="1"/><line x1="508.9" y1="631.2" x2="503.1" y2="642.4" stroke="#4a7ad0" stroke-width="1"/><line x1="489.5" y1="647.2" x2="503.1" y2="642.4" stroke="#4a7ad0" stroke-width="1"/><line x1="491.4" y1="654.5" x2="488" y2="664.3" stroke="#4a7ad0" stroke-width="1"/><line x1="488" y1="664.3" x2="501.6" y2="673.8" stroke="#4a7ad0" stroke-width="1"/><line x1="501.6" y1="673.8" x2="515" y2="665.5" stroke="#4a7ad0" stroke-width="1"/><line x1="515" y1="665.5" x2="528.9" y2="674.2" stroke="#4a7ad0" stroke-width="1"/><line x1="501.6" y1="673.8" x2="515" y2="682.7" stroke="#4a7ad0" stroke-width="1"/><line x1="515" y1="682.7" x2="528.9" y2="674.2" stroke="#4a7ad0" stroke-width="1"/><line x1="528.9" y1="674.2" x2="533.3" y2="657.9" stroke="#4a7ad0" stroke-width="1"/><line x1="533.3" y1="657.9" x2="524.1" y2="644.7" stroke="#4a7ad0" stroke-width="1"/><line x1="524.1" y1="644.7" x2="519.4" y2="635.5" stroke="#4a7ad0" stroke-width="1"/><line x1="524.1" y1="644.7" x2="534.7" y2="640.7" stroke="#4a7ad0" stroke-width="1"/><circle cx="493.1" cy="634.8" r="2.8" fill="#f7c22a" stroke="#e6a812" stroke-width="0.9"/><text x="493.1" y="636.0" text-anchor="middle" font-size="3.2" font-weight="normal" fill="#d07a00">H</text><circle cx="508.9" cy="631.2" r="2.8" fill="#f7c22a" stroke="#e6a812" stroke-width="0.9"/><text x="508.9" y="632.4" text-anchor="middle" font-size="3.2" font-weight="normal" fill="#d07a00">H</text><circle cx="503.1" cy="642.4" r="5.0" fill="#14a84c" stroke="#0d8a3a" stroke-width="0.9"/><text x="503.1" y="644.3" text-anchor="middle" font-size="5.2" font-weight="normal" fill="#ffffff">C</text><circle cx="489.5" cy="647.2" r="2.8" fill="#f7c22a" stroke="#e6a812" stroke-width="0.9"/><text x="489.5" y="648.4" text-anchor="middle" font-size="3.2" font-weight="normal" fill="#d07a00">H</text><circle cx="491.4" cy="654.5" r="2.8" fill="#f7c22a" stroke="#e6a812" stroke-width="0.9"/><text x="491.4" y="655.7" text-anchor="middle" font-size="3.2" font-weight="normal" fill="#d07a00">H</text><circle cx="488" cy="664.3" r="5.1" fill="#3d6cc4" stroke="#264c9c" stroke-width="0.9"/><text x="488" y="666.2" text-anchor="middle" font-size="5.4" font-weight="normal" fill="#ffffff">O</text><circle cx="501.6" cy="673.8" r="6.1" fill="#8c88c8" stroke="#4f5aa8" stroke-width="0.9"/><text x="501.6" y="676.1" text-anchor="middle" font-size="6.4" font-weight="normal" fill="#ffffff">Fe</text><circle cx="515" cy="665.5" r="5.1" fill="#3d6cc4" stroke="#264c9c" stroke-width="0.9"/><text x="515" y="667.4" text-anchor="middle" font-size="5.4" font-weight="normal" fill="#ffffff">O</text><circle cx="528.9" cy="674.2" r="5.8" fill="#7ad8e2" stroke="#3a74c4" stroke-width="0.9"/><text x="528.9" y="676.4" text-anchor="middle" font-size="6.1" font-weight="normal" fill="#ffffff">Zn</text><circle cx="515" cy="682.7" r="5.1" fill="#3d6cc4" stroke="#264c9c" stroke-width="0.9"/><text x="515" y="684.6" text-anchor="middle" font-size="5.4" font-weight="normal" fill="#ffffff">O</text><circle cx="533.3" cy="657.9" r="5.1" fill="#3d6cc4" stroke="#264c9c" stroke-width="0.9"/><text x="533.3" y="659.8" text-anchor="middle" font-size="5.4" font-weight="normal" fill="#ffffff">O</text><circle cx="524.1" cy="644.7" r="5.0" fill="#14a84c" stroke="#0d8a3a" stroke-width="0.9"/><text x="524.1" y="646.6" text-anchor="middle" font-size="5.2" font-weight="normal" fill="#ffffff">C</text><circle cx="519.4" cy="635.5" r="2.8" fill="#f7c22a" stroke="#e6a812" stroke-width="0.9"/><text x="519.4" y="636.7" text-anchor="middle" font-size="3.2" font-weight="normal" fill="#d07a00">H</text><circle cx="534.7" cy="640.7" r="2.8" fill="#f7c22a" stroke="#e6a812" stroke-width="0.9"/><text x="534.7" y="641.9" text-anchor="middle" font-size="3.2" font-weight="normal" fill="#d07a00">H</text><path d="M508.5,642 q3,2 5,1 t5,1.5" stroke="#e8a080" stroke-width="0.8" fill="none"/><line x1="413.4" y1="611.3" x2="413.4" y2="621.3" stroke="#4a7ad0" stroke-width="1"/><line x1="413.4" y1="621.3" x2="421.6" y2="634" stroke="#4a7ad0" stroke-width="1"/><line x1="421.6" y1="634" x2="437.3" y2="626.5" stroke="#4a7ad0" stroke-width="1"/><line x1="437.3" y1="626.5" x2="437.3" y2="615.3" stroke="#4a7ad0" stroke-width="1"/><line x1="437.3" y1="626.5" x2="452.2" y2="633.2" stroke="#4a7ad0" stroke-width="1"/><line x1="421.6" y1="634" x2="437.3" y2="642.2" stroke="#4a7ad0" stroke-width="1"/><line x1="437.3" y1="642.2" x2="452.2" y2="633.2" stroke="#4a7ad0" stroke-width="1"/><line x1="437.3" y1="642.2" x2="437.3" y2="654.1" stroke="#4a7ad0" stroke-width="1"/><line x1="452.2" y1="633.2" x2="455.1" y2="617.3" stroke="#4a7ad0" stroke-width="1"/><line x1="455.1" y1="617.3" x2="447.7" y2="606.1" stroke="#4a7ad0" stroke-width="1"/><line x1="455.1" y1="617.3" x2="467.1" y2="609.1" stroke="#4a7ad0" stroke-width="1"/><line x1="467.1" y1="609.1" x2="466.3" y2="599.7" stroke="#4a7ad0" stroke-width="1"/><line x1="467.1" y1="609.1" x2="474.5" y2="603.4" stroke="#4a7ad0" stroke-width="1"/><line x1="467.1" y1="609.1" x2="476" y2="612.4" stroke="#4a7ad0" stroke-width="1"/><circle cx="413.4" cy="611.3" r="2.8" fill="#f7c22a" stroke="#e6a812" stroke-width="0.9"/><text x="413.4" y="612.5" text-anchor="middle" font-size="3.2" font-weight="normal" fill="#d07a00">H</text><circle cx="413.4" cy="621.3" r="5.1" fill="#3d6cc4" stroke="#264c9c" stroke-width="0.9"/><text x="413.4" y="623.2" text-anchor="middle" font-size="5.4" font-weight="normal" fill="#ffffff">O</text><circle cx="421.6" cy="634" r="6.3" fill="#8c88c8" stroke="#4f5aa8" stroke-width="0.9"/><text x="421.6" y="636.4" text-anchor="middle" font-size="6.6" font-weight="normal" fill="#ffffff">Fe</text><circle cx="437.3" cy="626.5" r="5.1" fill="#3d6cc4" stroke="#264c9c" stroke-width="0.9"/><text x="437.3" y="628.4" text-anchor="middle" font-size="5.4" font-weight="normal" fill="#ffffff">O</text><circle cx="437.3" cy="615.3" r="2.8" fill="#f7c22a" stroke="#e6a812" stroke-width="0.9"/><text x="437.3" y="616.5" text-anchor="middle" font-size="3.2" font-weight="normal" fill="#d07a00">H</text><circle cx="452.2" cy="633.2" r="5.7" fill="#7ad8e2" stroke="#3a74c4" stroke-width="0.9"/><text x="452.2" y="635.4" text-anchor="middle" font-size="6.0" font-weight="normal" fill="#ffffff">Zn</text><circle cx="437.3" cy="642.2" r="5.1" fill="#3d6cc4" stroke="#264c9c" stroke-width="0.9"/><text x="437.3" y="644.1" text-anchor="middle" font-size="5.4" font-weight="normal" fill="#ffffff">O</text><circle cx="437.3" cy="654.1" r="2.8" fill="#f7c22a" stroke="#e6a812" stroke-width="0.9"/><text x="437.3" y="655.3" text-anchor="middle" font-size="3.2" font-weight="normal" fill="#d07a00">H</text><circle cx="455.1" cy="617.3" r="5.0" fill="#14a84c" stroke="#0d8a3a" stroke-width="0.9"/><text x="455.1" y="619.2" text-anchor="middle" font-size="5.2" font-weight="normal" fill="#ffffff">C</text><circle cx="447.7" cy="606.1" r="5.1" fill="#3d6cc4" stroke="#264c9c" stroke-width="0.9"/><text x="447.7" y="608.0" text-anchor="middle" font-size="5.4" font-weight="normal" fill="#ffffff">O</text><circle cx="467.1" cy="609.1" r="5.0" fill="#14a84c" stroke="#0d8a3a" stroke-width="0.9"/><text x="467.1" y="611.0" text-anchor="middle" font-size="5.2" font-weight="normal" fill="#ffffff">C</text><circle cx="466.3" cy="599.7" r="2.8" fill="#f7c22a" stroke="#e6a812" stroke-width="0.9"/><text x="466.3" y="600.9" text-anchor="middle" font-size="3.2" font-weight="normal" fill="#d07a00">H</text><circle cx="474.5" cy="603.4" r="2.8" fill="#f7c22a" stroke="#e6a812" stroke-width="0.9"/><text x="474.5" y="604.6" text-anchor="middle" font-size="3.2" font-weight="normal" fill="#d07a00">H</text><circle cx="476" cy="612.4" r="2.8" fill="#f7c22a" stroke="#e6a812" stroke-width="0.9"/><text x="476" y="613.6" text-anchor="middle" font-size="3.2" font-weight="normal" fill="#d07a00">H</text><line x1="424.5" y1="541.4" x2="431" y2="549.1" stroke="#4a7ad0" stroke-width="1"/><line x1="431" y1="549.1" x2="444.1" y2="548.7" stroke="#4a7ad0" stroke-width="1"/><line x1="444.1" y1="548.7" x2="456.2" y2="546.8" stroke="#4a7ad0" stroke-width="1"/><line x1="456.2" y1="546.8" x2="461.3" y2="539.2" stroke="#4a7ad0" stroke-width="1"/><line x1="456.2" y1="546.8" x2="465.7" y2="545.8" stroke="#4a7ad0" stroke-width="1"/><line x1="456.2" y1="546.8" x2="463.1" y2="553.5" stroke="#4a7ad0" stroke-width="1"/><line x1="444.1" y1="548.7" x2="446.4" y2="559.9" stroke="#4a7ad0" stroke-width="1"/><line x1="446.4" y1="559.9" x2="446.4" y2="573.8" stroke="#4a7ad0" stroke-width="1"/><line x1="409.9" y1="573.5" x2="428.9" y2="573.8" stroke="#4a7ad0" stroke-width="1"/><line x1="428.9" y1="573.8" x2="446.4" y2="573.8" stroke="#4a7ad0" stroke-width="1"/><circle cx="424.5" cy="541.4" r="2.8" fill="#f7c22a" stroke="#e6a812" stroke-width="0.9"/><text x="424.5" y="542.6" text-anchor="middle" font-size="3.2" font-weight="normal" fill="#d07a00">H</text><circle cx="431" cy="549.1" r="4.8" fill="#3d6cc4" stroke="#264c9c" stroke-width="0.9"/><text x="431" y="550.9" text-anchor="middle" font-size="5.0" font-weight="normal" fill="#ffffff">O</text><circle cx="444.1" cy="548.7" r="4.8" fill="#14a84c" stroke="#0d8a3a" stroke-width="0.9"/><text x="444.1" y="550.5" text-anchor="middle" font-size="5.0" font-weight="normal" fill="#ffffff">C</text><circle cx="456.2" cy="546.8" r="4.8" fill="#14a84c" stroke="#0d8a3a" stroke-width="0.9"/><text x="456.2" y="548.6" text-anchor="middle" font-size="5.0" font-weight="normal" fill="#ffffff">C</text><circle cx="461.3" cy="539.2" r="2.8" fill="#f7c22a" stroke="#e6a812" stroke-width="0.9"/><text x="461.3" y="540.4" text-anchor="middle" font-size="3.2" font-weight="normal" fill="#d07a00">H</text><circle cx="465.7" cy="545.8" r="2.8" fill="#f7c22a" stroke="#e6a812" stroke-width="0.9"/><text x="465.7" y="547.0" text-anchor="middle" font-size="3.2" font-weight="normal" fill="#d07a00">H</text><circle cx="463.1" cy="553.5" r="2.8" fill="#f7c22a" stroke="#e6a812" stroke-width="0.9"/><text x="463.1" y="554.7" text-anchor="middle" font-size="3.2" font-weight="normal" fill="#d07a00">H</text><circle cx="446.4" cy="559.9" r="4.8" fill="#3d6cc4" stroke="#264c9c" stroke-width="0.9"/><text x="446.4" y="561.7" text-anchor="middle" font-size="5.0" font-weight="normal" fill="#ffffff">O</text><circle cx="409.9" cy="573.5" r="5.8" fill="#8c88c8" stroke="#4f5aa8" stroke-width="0.9"/><text x="409.9" y="575.7" text-anchor="middle" font-size="6.1" font-weight="normal" fill="#ffffff">Fe</text><circle cx="428.9" cy="573.8" r="4.8" fill="#3d6cc4" stroke="#264c9c" stroke-width="0.9"/><text x="428.9" y="575.6" text-anchor="middle" font-size="5.0" font-weight="normal" fill="#ffffff">O</text><circle cx="446.4" cy="573.8" r="5.1" fill="#7ad8e2" stroke="#3a74c4" stroke-width="0.9"/><text x="446.4" y="575.7" text-anchor="middle" font-size="5.4" font-weight="normal" fill="#ffffff">Zn</text></svg>
</body></html>
